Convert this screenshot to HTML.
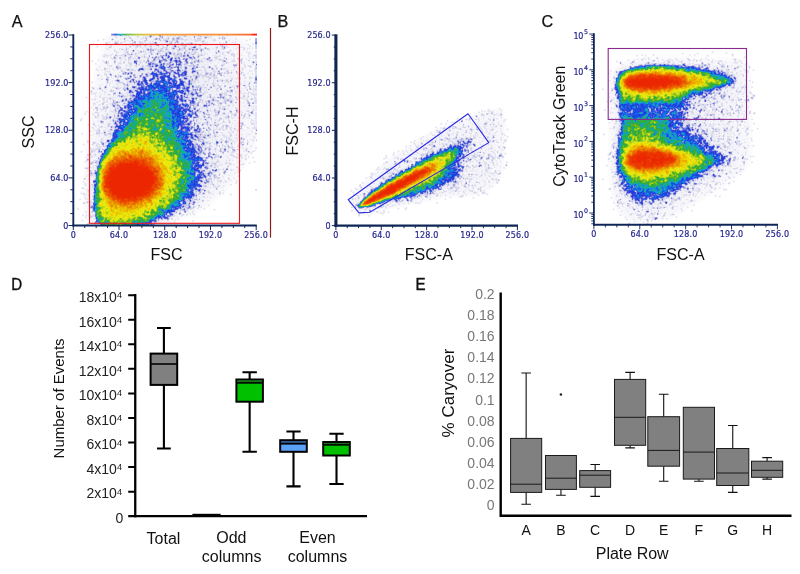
<!DOCTYPE html>
<html lang="en"><head><meta charset="utf-8"><title>Figure</title>
<style>
html,body{margin:0;padding:0;background:#fff;}
body{width:800px;height:574px;overflow:hidden;}
svg{display:block;}
.s{font-family:'Liberation Sans', Arial, sans-serif;fill:#111;}
.g2{fill:#222;}
.gr{fill:#777;}
.pl{stroke:#111;stroke-width:0.25px;}
.pl2{stroke:#111;stroke-width:0.4px;}
.bd{stroke:#111;stroke-width:0.35px;}
.tk{font-family:'DejaVu Sans', 'Liberation Sans', sans-serif;font-size:8px;letter-spacing:0.15px;fill:#27278f;stroke:#27278f;stroke-width:0.2px;}
</style></head><body>
<svg width="800" height="574" viewBox="0 0 800 574">
<rect width="800" height="574" fill="#fff"/>
<clipPath id="cpA"><rect x="74" y="35" width="183" height="190"/></clipPath>
<clipPath id="cpB"><rect x="338" y="35" width="180" height="189"/></clipPath>
<clipPath id="cpC"><rect x="596" y="34" width="182" height="190"/></clipPath>
<g stroke="none">
<g clip-path="url(#cpA)"><path fill="#fbfbfd" fill-rule="evenodd" d="M149.2 225.5L104.8 225.7L92.0 224.5L89.5 223.8L87.3 221.8L85.2 219.1L83.8 215.8L82.8 203.2L82.8 188.2L83.8 162.8L86.6 128.2L89.9 96.8L93.0 77.2L95.7 63.8L99.2 52.5L105.5 36.5L107.2 35.5L111.2 35.1L160.5 34.6L228.8 35.1L237.5 35.5L240.9 36.2L250.8 42.5L255.8 47.7L256.6 50.5L257.1 74.2L257.1 126.2L256.8 141.5L255.8 149.1L244.2 168.4L232.9 184.2L224.9 193.2L218.8 198.8L211.1 204.8L206.2 208.2L193.5 215.1L183.2 219.6L171.4 223.8L166.7 224.5L149.2 225.5Z"/>
<path fill="#f7f7fb" fill-rule="evenodd" d="M149.5 225.2L111.5 225.5L99.2 225.0L94.7 223.8L91.2 221.5L88.2 218.2L86.8 214.8L85.8 200.5L85.9 186.8L86.7 168.5L88.2 147.5L93.3 97.5L96.4 77.8L99.2 64.6L102.5 53.8L108.8 38.1L109.5 36.8L110.5 36.2L121.3 35.5L194.2 35.1L230.2 36.1L232.6 36.5L238.5 39.1L248.3 45.2L255.2 52.4L255.8 53.8L256.5 70.2L256.7 98.5L256.3 131.5L255.5 141.6L244.8 160.8L231.8 179.9L222.8 190.5L217.2 195.8L210.6 201.2L204.8 205.3L196.2 210.3L181.2 217.2L162.6 223.8L149.5 225.2Z"/>
<path fill="#f3f3f9" fill-rule="evenodd" d="M130.2 225.2L104.8 225.2L98.7 224.5L95.8 223.2L92.4 220.2L90.2 216.8L89.2 213.5L88.5 201.8L88.7 187.2L90.0 169.8L91.8 156.8L96.1 134.2L101.7 98.8L106.7 79.2L112.5 62.8L119.5 48.5L125.2 41.2L126.8 38.2L127.0 36.5L137.2 35.8L170.8 35.4L202.5 35.7L213.9 36.5L214.8 40.2L217.9 45.2L221.0 48.5L230.2 55.8L234.5 60.3L237.0 63.8L240.8 71.3L244.5 76.2L248.2 79.9L252.5 83.2L254.2 84.1L255.2 83.3L255.8 88.6L256.0 96.2L255.5 111.4L255.2 112.1L254.5 111.3L253.8 111.4L249.2 115.1L245.5 119.1L242.5 123.7L240.2 129.2L233.4 154.2L228.6 168.2L226.1 173.8L222.9 180.2L218.7 186.8L214.4 192.2L208.3 198.2L202.1 203.2L190.0 210.8L176.2 217.3L160.8 223.0L157.0 224.2L152.8 224.7L130.2 225.2Z"/>
<path fill="#efeff7" fill-rule="evenodd" d="M139.5 224.8L111.8 225.1L100.5 224.6L97.8 223.6L95.1 221.5L93.4 219.2L92.2 215.8L91.2 205.8L91.1 194.5L91.6 186.2L93.4 171.2L96.3 157.8L103.3 135.5L109.4 107.2L112.5 97.2L117.2 85.2L121.2 76.5L127.3 65.5L134.2 55.6L146.2 42.4L151.1 37.8L150.9 36.8L156.4 36.2L168.5 36.0L191.1 36.5L191.8 36.8L191.6 37.8L199.9 48.2L208.7 64.2L216.0 81.2L219.9 96.5L218.1 115.2L217.6 126.2L217.4 164.8L216.8 171.2L215.4 177.5L211.3 187.5L205.9 194.8L199.3 201.2L188.6 209.2L176.0 215.8L155.5 223.8L150.5 224.5L139.5 224.8Z"/>
<path fill="#ebebf5" fill-rule="evenodd" d="M128.8 224.8L101.8 224.6L98.1 223.2L94.9 219.8L94.0 217.2L93.3 212.5L92.9 194.8L94.6 176.5L96.6 166.5L99.3 158.2L108.5 136.8L114.1 117.8L118.3 105.8L125.2 91.4L132.8 79.2L138.1 72.2L145.2 64.4L150.8 59.3L155.5 56.0L161.5 53.0L166.8 51.4L172.2 50.7L176.8 51.3L182.5 53.8L187.2 58.3L190.9 64.8L194.2 74.8L197.4 93.2L199.8 118.5L201.7 132.8L208.5 166.8L208.9 172.8L207.7 181.2L205.1 187.8L201.9 192.8L198.0 197.5L193.2 202.2L187.9 206.5L179.1 212.2L167.6 217.8L152.5 223.8L146.2 224.5L128.8 224.8Z"/></g>
<g clip-path="url(#cpB)"><path fill="#fbfbfd" fill-rule="evenodd" d="M368.5 216.2L360.8 215.8L356.8 214.5L353.5 212.3L351.6 209.8L350.6 207.2L350.6 202.8L351.4 198.8L352.5 195.8L355.1 190.8L359.6 184.8L372.8 171.8L383.8 162.2L392.9 155.2L406.5 146.5L418.5 138.1L429.8 131.5L443.8 124.8L474.2 113.3L487.4 108.8L492.5 108.0L496.8 108.1L500.2 109.3L502.8 111.5L505.1 116.8L506.0 123.2L506.0 141.8L505.0 159.5L504.2 165.8L502.8 171.6L499.8 179.2L495.8 185.2L491.2 189.6L484.5 193.2L480.2 194.8L475.2 196.0L463.5 197.5L449.5 197.8L440.2 198.9L400.2 207.2L386.8 210.8L372.5 215.4L368.5 216.2Z"/>
<path fill="#f7f7fb" fill-rule="evenodd" d="M369.2 214.2L361.5 214.0L357.5 212.7L354.5 210.6L352.9 208.2L352.4 205.8L352.6 201.8L354.1 196.8L357.6 190.5L361.9 185.2L380.0 167.8L393.8 156.8L425.8 135.9L444.8 126.4L474.8 115.0L487.2 110.8L492.5 109.9L496.2 110.0L499.2 110.9L501.4 112.8L503.4 117.5L504.1 123.5L504.1 141.5L503.1 159.2L502.2 165.8L501.0 171.2L498.2 178.2L494.2 184.2L489.8 188.2L483.5 191.5L474.8 194.2L463.2 195.6L449.2 195.9L439.8 197.0L399.8 205.4L369.2 214.2Z"/>
<path fill="#f3f3f9" fill-rule="evenodd" d="M368.2 211.5L363.2 211.5L359.8 210.8L357.2 209.7L355.9 208.5L354.9 206.5L354.9 203.8L357.2 197.4L361.8 190.5L369.6 182.5L382.2 171.3L396.2 160.6L428.2 140.1L440.2 133.7L446.2 131.1L458.5 126.6L472.8 122.5L488.8 119.8L492.5 119.8L493.7 120.5L494.9 125.5L495.8 139.2L494.2 159.5L492.7 166.8L489.9 174.2L487.2 179.3L483.2 183.3L475.2 187.7L464.5 190.9L457.5 192.3L448.5 192.9L439.5 194.3L416.0 199.8L393.5 204.3L368.2 211.5Z"/>
<path fill="#efeff7" fill-rule="evenodd" d="M367.8 208.2L359.2 208.3L357.3 207.2L357.0 205.2L359.2 201.5L369.5 191.3L377.8 184.2L385.2 178.9L418.8 157.7L430.8 150.6L444.8 143.3L452.8 140.3L462.5 138.0L468.2 137.6L469.8 138.3L471.1 139.5L472.0 141.5L472.2 143.5L471.3 150.5L469.2 156.5L463.9 167.2L462.6 177.2L459.7 181.8L456.2 184.9L445.2 189.3L411.2 198.9L401.8 201.1L395.5 201.4L388.6 202.5L367.8 208.2Z"/>
<path fill="#ebebf5" fill-rule="evenodd" d="M363.5 207.8L359.5 207.7L357.8 206.6L358.0 204.5L359.9 201.8L369.8 192.5L378.7 185.2L394.8 174.3L431.2 152.5L445.6 145.2L453.8 142.3L461.5 140.6L466.5 140.4L468.3 141.5L468.8 142.8L468.8 145.5L467.7 150.5L460.8 165.5L460.6 174.2L460.1 176.8L457.7 180.8L454.5 183.5L444.5 187.8L432.0 191.8L406.2 199.2L401.2 200.2L393.2 200.8L388.5 201.6L371.8 206.5L363.5 207.8Z"/></g>
<g clip-path="url(#cpC)"><path fill="#fbfbfd" fill-rule="evenodd" d="M648.5 223.5L633.2 223.1L630.8 222.4L624.8 219.2L620.5 215.3L616.6 209.8L613.5 203.8L611.5 197.7L609.8 189.2L608.6 179.8L607.5 156.2L608.5 119.2L608.2 107.8L607.3 99.2L607.3 88.2L608.2 79.2L610.8 71.8L615.0 66.5L622.8 61.9L631.2 59.0L644.2 56.6L659.5 55.5L684.8 55.8L732.2 57.3L740.2 58.0L744.8 59.4L748.0 62.5L750.1 67.5L751.6 79.5L752.2 91.5L752.7 149.8L751.5 158.5L750.3 162.5L748.3 166.2L745.0 170.5L741.4 174.2L731.2 182.3L681.5 213.5L671.2 218.4L659.8 222.3L655.1 223.2L648.5 223.5Z"/>
<path fill="#f7f7fb" fill-rule="evenodd" d="M648.5 220.9L641.8 221.1L635.5 220.2L631.5 218.9L626.5 216.2L622.8 212.8L619.2 207.6L616.5 202.3L614.5 195.8L612.9 188.2L611.8 179.2L610.6 156.2L611.7 118.8L611.4 107.5L610.4 98.2L610.3 88.5L611.1 80.2L613.6 73.2L617.2 68.7L620.5 66.5L624.8 64.4L630.8 62.3L638.2 60.6L652.5 58.9L673.2 58.6L724.2 60.3L738.8 61.2L743.2 62.4L745.5 65.0L746.9 68.8L748.4 80.5L748.9 91.8L749.3 149.2L748.2 157.5L747.2 161.0L745.5 164.2L742.5 168.2L738.9 171.8L729.2 179.5L679.9 210.5L670.8 214.8L661.6 218.2L653.7 220.2L648.5 220.9Z"/>
<path fill="#f3f3f9" fill-rule="evenodd" d="M648.8 213.5L642.8 213.6L637.2 212.6L631.8 210.4L627.8 207.3L623.5 201.9L620.9 197.2L617.3 187.8L615.4 180.8L613.3 167.2L612.9 156.2L615.1 126.5L615.0 107.8L613.2 95.8L612.5 85.2L613.3 79.5L615.9 73.5L618.0 70.8L620.5 68.9L624.5 66.8L629.2 65.1L638.5 62.9L653.8 61.3L672.5 61.2L698.5 62.9L720.8 65.3L730.4 66.8L738.5 68.9L740.3 71.2L742.4 77.2L742.8 82.2L742.2 86.8L738.8 96.3L733.8 106.4L727.6 117.5L727.1 119.2L729.0 124.8L736.1 142.2L738.4 149.5L739.0 153.8L738.9 157.2L738.0 160.5L736.4 163.5L733.5 167.3L728.5 171.5L675.2 204.4L667.2 208.4L659.5 211.4L653.5 213.0L648.8 213.5Z"/>
<path fill="#efeff7" fill-rule="evenodd" d="M650.8 207.5L644.8 207.6L640.5 207.0L634.8 204.8L631.1 202.2L627.0 197.8L624.3 193.8L619.6 184.8L617.1 177.5L615.1 168.2L614.5 156.5L618.0 126.5L617.7 107.8L615.0 94.8L613.7 84.8L614.4 79.8L617.2 74.2L619.7 71.2L623.5 68.8L628.8 66.6L633.5 65.3L638.8 64.3L649.2 63.2L661.2 62.9L672.2 63.0L684.2 63.9L706.2 66.6L718.8 69.0L726.8 71.1L734.5 73.8L737.3 76.8L738.3 79.8L737.9 83.2L735.8 86.3L732.2 89.8L728.2 92.7L710.0 103.5L704.3 107.5L700.6 111.5L699.3 115.2L699.5 117.8L700.5 119.8L708.2 127.7L718.3 140.2L729.2 152.5L730.6 155.2L731.1 157.5L730.7 160.5L729.7 162.8L725.8 166.5L693.8 185.0L670.5 199.9L658.5 205.6L650.8 207.5Z"/>
<path fill="#ebebf5" fill-rule="evenodd" d="M650.5 204.8L641.5 204.3L635.8 202.0L631.5 198.9L627.4 194.5L621.8 185.7L619.1 179.8L617.1 172.8L616.0 167.2L615.5 156.2L619.3 127.2L619.4 119.5L618.8 105.8L616.0 94.5L614.6 84.5L615.3 79.8L618.0 74.5L620.5 71.7L624.2 69.4L629.5 67.3L634.2 66.1L639.2 65.2L650.2 64.1L666.5 63.9L684.5 65.0L705.8 68.0L718.2 70.7L725.8 73.0L733.5 76.3L735.7 78.5L736.3 80.5L735.7 82.5L733.8 84.5L729.8 87.0L723.5 89.7L704.8 95.4L697.2 98.9L693.6 101.8L691.6 104.2L689.1 108.2L688.0 111.8L688.5 120.5L691.3 125.8L693.8 128.5L702.5 135.0L714.2 145.8L725.5 155.0L727.7 158.2L727.8 160.2L727.1 161.8L724.5 164.3L708.2 173.1L692.3 182.5L668.2 198.0L657.8 203.0L653.5 204.4L650.5 204.8Z"/></g>
</g>
<filter id="sf" x="0" y="0" width="100%" height="100%" filterUnits="objectBoundingBox"><feGaussianBlur stdDeviation="0.45"/></filter>
<g filter="url(#sf)"><g transform="translate(.5,.5)" stroke-width="1" stroke-linecap="square" fill="none" shape-rendering="crispEdges">
<path stroke="#fbfbfd" d="M236 184zm-27 22z"/>
<path stroke="#fbfbfc" d="M93 60zm-10 74zm130 76z"/>
<path stroke="#f9f9fc" d="M249 38zm-2 1zm4 0zm-153 2zm-1 4zm1 1zm-5 15zm1 2zm-3 18zm0 2zm-5 27zm1 2zm-8 8zm2 1zm2 12zm1 12zm-3 5zm-1 2zm2 0zm172 8zm-6 2zm2 0zm3 0zm2 0zm-6 2zm-167 18zm153 2zm-155 8zm2 0zm149 1zm-150 1zm142 0zm-144 4zm3 4zm111 13zm-110 1zm0 4zm-2 1zm94 1z"/>
<path stroke="#f7f7fb" d="M249 40zm-152 1zm-15 148zm148 4zm-150 5zm125 11zm-123 7zm-1 3z"/>
<path stroke="#f7f7fa" d="M103 38zm147 0zm-148 1zm143 1zm1 1zm5 6zm-154 13zm1 1zm-3 7zm-3 21zm-2 3zm2 6zm0 5zm-7 9zm5 0zm-8 6zm0 1zm-2 2zm8 2zm-1 1zm-4 19zm4 0h1m-6 1zm173 6zm0 1zm-168 2zm165 3h1m-1 2h1m-16 15h1m-153 3zm-3 5zm153 0zm-12 10zm-141 12zm1 1h1m124 2zm-3 2zm9 0zm-11 1zm-17 7zm-12 4zm2 0zm-94 1zm8 1zm-4 1z"/>
<path stroke="#f5f5f9" d="M98 39zm7 3zm-9 5zm1 21zm-5 13zm0 2zm0 3zm2 1zm-4 3zm2 0zm-2 3zm2 1zm-7 17zm2 0zm-7 7zm173 32zm-173 1zm2 0zm167 6zm-3 3zm7 1zm2 0zm-7 2zm2 0zm-10 8zm-7 7zm2 0zm2 2zm-153 2zm147 3zm-150 2zm-1 6zm4 2h1m146 0zm-152 5zm124 8zm12 1zm-129 3zm-3 2zm112 0zm-10 1zm-100 3zm90 3zm-84 1z"/>
<path stroke="#f3f3f8" d="M224 36zm-127 3zm126 1zm-101 1zm96 1zm30 3zm-136 1zm-4 2zm7 5zm121 0zm-1 1zm14 1zm-136 4zm130 5zm-141 6zm152 1zm-154 4zm-1 3zm6 0zm-3 6zm-5 8zm-11 4zm-1 1zm2 0zm-1 1zm5 8zm4 0zm-5 1zm2 0zm-1 1zm-2 3zm0 2zm164 6zm-1 3zm-5 4zm6 0zm-158 8zm161 7zm-20 9zm1 5zm-152 2zm160 3zm-159 2zm0 7zm1 6zm-4 4zm154 2zm-7 4zm-10 1zm-135 3zm0 4zm133 0zm-136 1zm148 1zm-150 5zm121 6zm0 2zm12 1zm-19 4zm-112 1zm3 1zm2 0zm92 4zm-90 2zm84 0z"/>
<path stroke="#f2f2f7" d="M117 37zm103 0zm-106 1zm2 0zm10 0zm124 2zm-138 4zm129 2zm-131 2zm141 0zm-17 5zm-4 1zm-119 2zm136 3zm-134 1zm130 2zm12 0zm-10 2zm-147 2zm9 8zm138 1zm-147 1zm2 3zm-6 10zm-1 9zm-1 2zm3 0zm156 14h1m-6 4zm4 0zm6 1zm-12 5h1m-3 3zm-149 2zm2 2zm-5 3zm160 1zm4 3zm-6 6zm-8 1zm1 1zm-152 2zm-3 8h1m0 1zm153 0zm-7 8zm-5 9zm1 3zm-146 1zm147 1zm-146 2zm143 0zm-7 3zm4 1zm-3 1zm-137 2zm139 1zm-15 15zm-126 15zm87 3zm-80 1z"/>
<path stroke="#f0f0f7" d="M220 35zm-96 2zm94 0zm-114 2zm17 0zm108 0zm17 0zm-143 1zm8 0zm117 0zm19 0zm-133 1zm5 0zm2 0zm2 0zm-5 1zm102 0zm16 0zm-118 1zm107 0zm9 1zm-121 5zm117 0zm-7 1zm20 0zm-126 1zm-9 3zm2 0zm131 0zm-6 1zm7 0zm-137 1zm135 2zm-142 1zm13 0zm137 0h1m-158 1zm8 0zm10 1zm146 2zm-159 1zm159 1zm-4 2zm-150 2zm154 0zm-147 1zm134 1zm-138 1zm143 0zm-141 1zm1 2zm-10 1zm148 0zm7 2zm-151 2zm152 3zm-152 2zm2 3zm-11 4zm3 0zm1 1zm5 1zm-5 1zm2 6zm-2 5h1m-4 4zm2 1zm-7 1zm7 1zm159 1zm-161 1zm-4 9zm-1 1zm8 0zm150 2zm6 0zm3 0zm-161 1zm148 0zm-1 1h1m9 0zm-158 1zm159 0zm-1 1zm5 0zm-5 1zm-170 2zm13 0zm147 0zm-148 1zm146 0zm3 0zm-1 1zm6 3zm-1 1zm2 0zm0 3zm-164 1zm153 0zm-154 1zm9 0zm144 1zm1 2zm1 2zm13 1zm-162 2zm153 1zm5 0zm-3 1zm-7 1zm5 0zm4 1zm-160 1zm155 0zm-9 1zm-1 1zm8 0zm3 3zm2 1zm-14 1zm12 0zm-154 1zm150 0zm-154 1zm148 2zm1 1zm-144 1zm135 9zm0 6zm-2 1zm-5 3zm5 2zm-140 1zm6 0zm-3 1zm-2 1zm4 0zm-3 2zm1 6h2m113 2zm-3 2zm5 0zm12 3zm-29 3zm-99 1zm2 0zm99 1zm7 0zm-109 1zm4 2h1m89 0zm-4 2z"/>
<path stroke="#efeff7" d="M101 88zm-15 71z"/>
<path stroke="#efeff6" d="M218 35zm-98 1zm6 0zm-10 4zm8 0zm9 0zm-10 2zm-6 2zm20 0zm-18 1zm106 0zm24 0zm-141 2zm139 4zm-132 1zm117 0h1m14 0zm-136 1zm95 1zm-98 2zm14 0zm132 0zm-131 1zm88 1zm13 1zm-133 2zm151 0zm14 0zm-2 2zm-133 1zm120 4zm-138 1zm117 1zm30 0zm-15 1zm-128 1zm4 1zm119 0zm-15 1zm-103 1zm5 0zm-11 2zm126 0zm-3 4zm11 4zm11 3zm-150 3zm13 0zm120 6zm-139 1zm10 3zm131 0zm0 2zm14 0zm-152 1zm130 0zm-134 1zm14 1zm117 6zm28 0zm1 1zm-160 1zm1 1zm6 1zm141 1zm-140 3zm-8 2zm162 1zm-38 3zm-129 3zm-1 1zm164 1zm-171 2zm158 3zm-9 1zm-137 4h1m128 2zm17 4zm4 0zm-24 2zm-129 1zm0 1zm155 0zm-13 5zm2 1zm-146 1zm2 1zm3 4zm151 0zm-5 4zm-15 1zm4 1zm-140 6zm132 4zm-129 8zm122 0zm-127 3zm137 2zm-137 3zm0 6zm117 1zm-14 12zm-101 3z"/>
<path stroke="#ededf5" d="M152 36zm47 0zm-72 1zm21 0zm-27 1zm26 0zm62 0zm27 1zm-89 1zm-18 2zm94 0h1m-103 1zm113 0zm-127 1zm11 0zm11 0zm7 0zm65 0zm51 0zm-156 2zm153 0zm-152 1zm41 0zm-18 1zm0 1zm4 0zm12 0zm100 0zm-114 1zm5 0zm10 1zm67 0zm23 0zm-2 1zm-102 1zm11 0zm93 0zm-106 1zm134 0zm-142 2zm124 1zm15 0zm-121 1zm-10 1zm0 1zm0 1zm127 0zm-145 1zm10 0zm98 0zm13 0zm11 0zm5 0zm-144 1zm8 0zm138 0zm-134 1zm11 1zm118 0zm-122 1zm118 0zm-129 1zm121 0zm-11 1zm-98 1zm-10 1zm109 0zm17 0zm7 1zm11 0zm-142 1zm115 0zm25 0zm-25 1zm9 0zm-113 1zm104 0zm-115 2zm109 0zm12 0zm5 0zm-125 3zm114 0zm0 2zm-114 1h1m116 0zm-120 1zm115 1zm-116 1zm149 1zm-8 1zm-2 1zm12 1zm-142 1zm120 0zm0 1zm20 0zm-9 1zm7 0zm-151 1zm148 0zm-27 2zm-126 1zm6 1zm133 1zm3 0zm6 0zm-151 1zm12 3zm4 2zm110 1zm35 1zm-6 1zm-146 1zm-8 1zm5 0zm132 1zm-126 2zm127 0zm7 0h1m-144 1zm145 0h1m-158 1zm15 1zm2 0zm-7 1zm139 1zm2 0zm13 0zm7 0zm-1 1zm-36 1zm11 0zm1 2zm-10 1zm8 0zm22 0zm-21 1zm8 0zm17 0zm-27 1zm16 1zm-147 1zm129 1zm-3 1zm5 0zm20 0zm2 0zm-155 1zm130 0zm-6 1h1m36 0zm-33 2zm-123 2zm125 0zm-6 1zm7 0zm4 1zm-2 1zm8 0zm5 0zm-10 1zm9 0zm-19 2zm8 0zm8 0zm5 0zm-22 2zm5 0zm6 1zm-9 1zm30 1zm-28 1zm-128 1h1m146 0zm-7 2h1m11 1zm-152 1zm149 0zm6 1zm-13 1zm7 3zm5 0zm-11 1zm10 0zm-22 2zm13 2zm-154 1zm4 6zm151 1zm-8 1zm3 2zm-15 2zm-2 1zm17 7zm-145 5zm-9 1zm6 1zm3 1zm-3 2zm0 2zm-1 5zm112 5zm-4 1zm2 0zm13 0zm-9 1zm0 1zm-122 2zm8 2zm-1 1zm6 1zm95 0zm3 0zm-98 1zm102 0zm-105 1zm95 0zm-97 1zm2 0zm3 5zm-3 1zm4 0zm78 0z"/>
<path stroke="#ececf4" d="M124 35zm1 2zm1 4zm70 1zm28 1zm-2 1zm-96 2zm114 1zm-133 1zm2 0zm106 0zm24 0zm-33 1zm9 0zm-92 1zm106 0zm-14 1h1m12 0zm-92 1zm90 0zm24 0zm-44 1zm-100 1zm8 1zm18 0zm72 0zm48 0zm-3 1zm-142 1zm116 0zm2 0zm9 0zm14 0zm2 0zm-1 1zm-136 3zm106 1zm10 0zm-109 4zm101 0zm-106 1zm10 0zm109 1zm3 1zm-16 1zm-111 2zm128 0zm2 0zm-11 1zm-5 1zm-125 1zm155 6h2m-165 1zm139 0zm8 0zm15 0zm3 1zm-15 1zm-21 1zm9 1zm5 0zm2 2zm17 1zm-25 1h1m-139 1zm15 0zm116 1zm-122 3zm9 0zm145 0zm-25 3zm9 0zm-146 1zm146 1zm17 0zm-19 1zm-6 2zm6 0zm17 3zm-29 4zm2 0zm3 2zm1 1zm-1 1zm-4 2zm-126 1zm125 0h1m-2 2zm33 0zm-157 1zm-4 3zm132 1zm-133 1zm131 0zm-132 3zm129 0zm-126 2zm135 0zm-1 1zm5 0zm13 3zm6 3zm3 2zm-168 1zm160 2zm-156 1zm131 1zm-3 2zm33 5zm-21 2zm-141 2zm143 0zm-146 1zm150 0zm-12 5zm-137 3zm145 0zm-144 2zm147 2zm-3 1zm-15 1zm20 1zm-5 2zm-16 1zm11 1zm8 0zm-146 1zm145 6zm-24 3zm4 0zm8 5zm-17 7zm-119 2zm1 1zm-4 2zm111 4zm-4 6zm-8 2zm8 6z"/>
<path stroke="#ebebf5" d="M255 64zm-33 48zm-19 17zm-15 80z"/>
<path stroke="#ebebf4" d="M124 36zm86 0zm-66 1zm20 1zm72 0zm-89 1zm102 0zm-123 1zm14 0zm31 0zm34 2zm-83 1zm7 0zm97 0zm-120 2zm28 0zm-28 2zm146 0zm-130 1zm114 0zm12 0zm-44 2zm-42 2zm58 0zm26 0zm-27 1zm11 0zm18 2zm-138 1zm13 0zm101 0zm-107 1zm125 0zm11 0zm-129 2zm88 0zm15 0zm-21 1zm-16 1zm-72 1zm113 0zm-4 1zm9 0zm-117 1zm80 1zm49 1zm-149 1zm118 0zm-109 1zm16 0zm130 0zm-148 1zm128 0zm20 0zm-11 3zm1 1zm-7 1zm-14 2zm15 0zm-127 1zm8 0zm86 0zm12 0zm7 0zm9 0zm-115 1zm127 0zm-140 1zm98 0zm16 2zm20 0zm5 1zm-21 1zm-114 1zm125 1zm14 1zm2 0zm-159 1zm118 0zm8 0zm16 0zm-136 2zm149 1zm6 0zm-160 1zm11 0zm-10 1zm130 0zm-131 1zm158 0zm-46 1zm23 0zm20 0zm-138 1zm125 1zm20 0zm-27 2zm-7 1zm-116 1zm2 0zm130 0zm-143 2zm3 0zm143 0zm5 0zm-135 1zm-3 1zm144 0zm-38 1zm20 0zm-32 1zm-101 2zm157 1zm-2 1zm-34 1zm-134 1zm163 0zm-165 1zm158 1zm-36 1zm19 1zm23 2zm-24 1zm3 0zm-130 1zm156 1zm-37 1zm6 0zm-3 2zm9 1zm1 1zm2 0zm-140 1zm133 1h1m8 0zm-130 3zm3 1h1m149 0zm-52 1zm-113 2zm136 4h1m4 3zm-141 2zm126 2zm-123 3zm133 0zm-131 1zm148 0zm-39 1zm-124 1zm150 1zm-7 1zm-131 1zm153 0zm-157 2zm-2 1zm6 2zm156 2zm5 0zm-41 5zm26 1zm-151 1zm136 0zm6 1zm-141 3zm149 2zm-4 2zm-5 2zm-146 3zm3 3zm132 2zm1 4zm-138 1zm3 0zm123 0zm-118 5zm112 3zm-112 5zm103 5h1m0 2zm-16 5zm-96 3zm112 0zm-19 2zm-5 1zm-75 1z"/>
<path stroke="#eaebf4" d="M149 58zm105 3zm-140 15zm115 26zm-118 16z"/>
<path stroke="#e9e9f4" d="M195 37zm-70 2zm51 6zm62 12zm-133 10zm135 19zm8 20zm-39 19zm6 17zm-3 11zm8 2zm-4 13zm-122 44zm2 11z"/>
<path stroke="#eaeaf3" d="M138 35zm20 0zm16 0zm52 0zm-82 1zm51 0zm13 0zm-54 1zm64 1zm2 0h1m14 1zm-49 1zm-69 1zm57 0zm-50 1zm6 0zm38 0zm18 0zm18 0zm31 0zm-39 1zm56 0zm-66 1zm20 0zm47 0zm-115 1zm-29 1zm118 0zm11 0zm-79 1zm-7 1zm-27 1zm97 0zm13 0zm-78 1zm-43 1zm30 1zm36 0zm-42 1zm83 0zm-102 2zm9 0zm88 0zm-95 1zm-17 1zm129 0zm-30 1zm-68 1zm90 0zm-92 1zm81 0zm8 2zm1 1zm-116 1zm2 1zm115 0zm-83 1zm56 2zm40 0zm-125 1zm126 0zm-134 1zm152 0zm-150 1zm3 1zm104 0zm19 0zm-105 3zm-10 1zm133 0zm-133 2zm81 0zm24 1zm3 0zm10 0h1m-110 1zm93 0zm-11 1zm-87 2zm120 0zm9 0zm-21 1zm14 0zm-130 2zm-7 2zm-8 1zm148 0zm-43 2zm33 0zm3 0zm-133 1zm122 0zm9 0zm16 0zm-159 2zm142 0zm8 0zm3 1zm-34 1zm36 0zm-153 3zm12 0zm108 0zm-13 3zm-85 1zm87 0zm27 1zm-127 2zm114 0zm10 0zm3 0zm-27 1zm6 0zm41 1zm-25 1h1m-15 1zm22 0zm-21 2zm-108 1zm143 0zm-164 1zm7 0zm158 0zm-32 1zm-8 1zm6 0zm31 1zm-167 2zm128 1zm9 0zm17 0zm-136 1zm140 1zm13 0zm3 0zm-35 1zm34 1zm-146 1zm99 0zm-107 3zm114 0zm16 0zm-5 2zm-17 1zm-105 1zm153 0zm-8 1zm-140 1zm119 2zm-18 1zm46 2zm-167 1zm155 0h1m-38 1zm47 0zm-10 2zm-10 1zm14 0zm-147 1zm112 0zm39 0zm-11 1zm12 0zm-21 2zm22 4zm-23 2zm-133 1zm123 0zm20 2zm6 0zm-17 6zm-2 1zm-131 2zm-4 1zm121 0zm-2 2zm9 3zm18 4zm-11 6zm-142 1zm125 0h1m-126 1zm131 4zm-128 2zm132 4zm-134 3zm124 0zm-123 1zm111 0zm2 6zm-7 1zm-114 3zm-1 1zm111 1zm-15 6zm-87 1z"/>
<path stroke="#e9e9f2" d="M137 35zm-16 1zm59 0zm-52 1zm41 0zm20 0zm-77 1zm32 0zm-24 1zm48 1zm10 0zm48 0zm-97 1zm14 0zm93 0zm-84 1zm67 1zm2 0zm-48 1zm-47 1zm53 1zm20 0zm-18 1zm-23 1zm-14 2zm-20 1zm21 0zm3 0zm35 1zm65 1zm-49 1zm55 0zm-143 1zm40 0zm101 1zm-109 1zm53 0zm8 0zm-80 1zm103 0zm-95 1h1m64 0zm7 0zm12 0zm2 0zm-92 1zm116 2zm-121 1zm90 0zm41 0zm-48 1zm-73 2zm73 0zm32 0zm-106 1zm6 0zm-23 1zm96 0zm-112 1zm129 0zm-106 1zm84 0zm37 0zm-43 1zm18 0zm-111 1zm105 4zm21 1zm-112 2zm83 4zm4 1zm10 1zm-91 2zm90 0zm6 0zm11 0zm-131 3zm117 0zm3 0zm14 2zm-30 3zm18 0zm-6 1zm-18 2zm11 0zm7 0zm15 0zm9 0zm-8 1zm-2 4zm-136 1zm131 0zm7 0zm-16 1zm16 0zm-16 1zm33 0zm-148 1zm101 0zm15 0zm35 0zm-52 1zm26 0zm29 0zm-155 1zm103 0zm15 0zm36 0zm-159 2zm-3 2zm139 0zm5 0zm-27 1zm-108 5zm-21 1zm30 0zm140 0zm-34 1zm4 2zm3 1zm20 1zm10 0zm-155 1h1m128 1zm-11 1zm20 0zm-140 2zm125 0zm-114 1zm-7 2zm130 0zm-18 1zm23 0zm12 0zm-35 2zm2 1zm22 0zm-134 1zm3 1zm99 0zm28 1zm6 0zm13 0zm-8 2zm-19 1zm14 1zm-21 1zm6 2zm-131 1zm8 0zm109 2zm2 6zm8 2zm-131 3zm123 0zm2 1zm4 0zm9 0zm-132 1zm136 0zm-11 1zm5 0zm14 0zm1 1zm-12 2zm-13 1zm10 1zm2 1zm-133 5zm118 5zm12 2zm-140 12zm4 2zm0 2zm-1 1zm109 1zm-8 11zm2 3zm-22 7zm24 0h1m-37 2z"/>
<path stroke="#e8e8f2" d="M125 35zm29 0zm27 0zm-52 1zm68 1zm4 0zm-60 1zm94 0zm-44 1zm24 0zm-100 1zm86 0zm24 0zm-117 2zm30 0zm5 0h2m36 0zm14 0zm-88 1zm61 0zm85 0zm-143 1zm73 0zm22 0zm30 0zm-100 1zm36 0zm23 0zm56 0zm-116 1zm106 0zm2 1zm7 0zm-51 1zm37 0zm-100 1zm67 2zm27 0zm-98 1zm4 0zm11 0zm-21 1zm19 0zm-8 1zm-27 1zm106 0zm-96 1zm51 0zm39 0zm5 0zm-79 1zm10 0h1m52 1zm25 0zm29 0zm-138 1zm23 0zm78 0zm18 0zm-141 1zm37 1zm96 2zm19 0zm-149 1zm23 0zm-9 2zm91 1zm42 0zm-130 1zm111 0zm15 0zm-26 2zm0 1zm44 0zm-30 1zm-14 1zm35 0zm-150 1zm99 0zm16 0zm-21 1zm17 0zm22 0zm10 2zm14 0zm-41 1zm5 0zm-5 1zm5 0zm-106 1zm16 0zm88 0zm-2 1zm37 0zm-52 1zm25 0zm16 0zm-112 1zm89 0zm-15 2zm4 0zm6 0zm41 0zm-20 1zm13 0zm-43 1zm50 0zm-156 1zm23 1zm109 0zm-23 1zm-1 1zm2 0zm11 0zm8 1zm-3 1zm24 0zm-152 1zm23 0zm105 0zm25 0zm-148 1zm127 0zm-21 1zm12 0zm-113 1zm132 0zm-36 1zm10 0zm7 0zm15 0zm10 0zm3 0zm-139 1zm95 0zm43 0zm-133 1zm121 0zm23 0zm-29 1zm29 0zm-150 1zm127 1zm-140 1zm17 0zm93 0zm-97 1zm115 1zm12 0zm-33 2zm28 0zm19 0zm8 0zm-3 1zm-146 1zm4 0zm139 1zm-157 2zm152 0zm6 0zm-137 3zm118 0zm-134 1zm124 0zm-123 1zm111 0zm33 0zm-132 2zm-13 1zm15 0zm-10 2zm130 0zm-29 2zm-106 3zm13 0zm111 1zm-117 1zm132 0zm-27 1zm6 2zm33 0zm-166 1zm141 0zm13 3zm1 2zm-33 1zm25 0zm-127 1zm127 0zm-7 1zm-121 2zm107 2zm42 0zm-153 1zm118 0zm-124 1zm136 0zm-5 1zm6 0zm-127 1zm122 0zm20 0zm-23 2h1m-127 1zm157 0zm-34 1zm13 1zm-140 1zm128 1zm15 0zm2 0zm2 1zm-26 1zm29 1zm1 4zm-23 1zm-1 2zm-133 1zm3 1zm136 1zm15 1zm-24 1zm8 4zm16 0zm-10 1zm-12 1zm-6 2zm-118 1zm115 2zm6 0zm23 0zm-21 2zm8 0zm-134 1zm126 1zm-132 6zm128 0zm-9 1zm-113 1zm-5 1zm1 3zm105 5zm5 1zm4 2zm-122 1zm110 3zm5 0zm-16 8zm-9 2z"/>
<path stroke="#e7e7f1" d="M175 35zm-30 4zm7 1zm-11 1zm37 0zm23 0zm-52 1zm-19 2zm31 0zm1 1h1m10 0zm-27 2zm25 0zm11 0zm62 0zm-101 1zm69 0zm-55 1zm2 0zm6 1zm24 0zm8 0zm29 1zm-49 1zm20 0zm26 1zm-112 1h1m21 0zm72 0zm-62 1zm5 0zm66 0zm6 0zm4 0zm-113 2zm138 0zm-138 1zm110 1zm-101 1zm9 0zm73 0zm-52 1zm76 0zm-87 1zm62 0zm2 0zm6 0zm-35 1zm15 0zm-70 3zm-10 1zm38 0zm10 0zm54 0zm10 0zm23 0zm-115 1zm17 0zm-39 1zm14 0zm105 1zm14 0zm-39 1zm30 0zm10 0zm-108 2zm68 0zm3 1zm7 2zm-19 1zm14 0zm-105 1zm134 0zm-18 1zm-3 1zm14 0zm-14 2zm-107 1zm2 0zm109 0zm-101 1zm-11 1zm29 0zm113 0zm-46 1zm28 0h1m-33 2zm4 0zm-91 1zm5 0zm104 1zm15 0zm3 0zm3 1zm-107 1zm12 0zm55 1zm40 0zm-141 1zm129 0zm-134 1zm110 1zm3 1zm-100 1zm19 0zm94 0zm19 0zm-129 1zm8 0zm128 0zm-26 1zm12 1zm-11 2zm8 1zm-20 1h1m9 2zm-120 1zm2 2zm115 0zm-113 1zm105 0zm30 0zm14 0zm-141 1zm-27 1zm146 1zm-124 1zm114 0zm24 0zm-132 2zm136 0zm-35 3zm42 1zm-149 2zm146 0zm-37 1zm-15 1zm-97 2zm148 1zm-43 4zm-6 2zm46 0zm-11 1zm16 1zm-12 1zm-3 2zm-31 1zm19 0zm7 1zm19 0zm-149 1zm107 0zm24 0zm12 0zm-151 1zm143 0zm7 0zm-150 1zm114 0zm14 1zm-6 1zm4 1zm16 0zm4 1zm-5 2zm-27 1zm-116 1zm140 0zm17 0zm-159 5zm135 0zm-14 1zm18 6zm6 2zm-152 1zm120 4zm13 0zm-1 5zm2 4zm0 2zm-134 1zm121 1zm10 2zm3 0zm-137 1h1m128 0zm11 6zm-2 1zm-133 4zm115 1zm-112 1zm-1 6zm109 0zm-1 2zm-4 3zm-1 2zm-99 3zm85 3zm-19 1z"/>
<path stroke="#e6e6f1" d="M201 35zm2 0zm-57 1zm47 0zm4 0zm8 0zm-63 1zm51 0zm18 0zm-91 1zm64 1zm29 0zm-95 1zm54 2zm-28 1zm28 0zm-67 1zm49 0zm65 0zm28 0zm-74 2zm-62 1zm30 0zm4 0zm4 0zm18 0zm54 0zm-79 1zm33 0zm13 0zm25 0zm4 0zm-71 1zm28 0zm3 0zm70 0zm-93 1zm14 0zm20 0zm-36 1zm32 0zm33 0zm-100 1zm26 0zm36 0zm-7 1zm45 0zm-113 1zm51 0zm27 0zm13 0zm9 0zm3 0zm30 0zm12 0zm-107 1zm8 0zm32 2zm14 1zm45 0zm-129 1zm19 0zm57 0zm58 0zm-143 1zm91 0zm-49 1zm-26 1h1m82 0zm8 0zm13 0zm-128 1zm29 0zm23 0zm46 0zm5 0zm-67 2zm113 1zm5 1zm-143 1zm32 0zm36 0zm36 0zm-87 1zm23 0zm30 0zm5 0zm62 0zm-90 1zm51 2zm-8 1zm26 0zm20 0zm6 0zm-5 1zm9 0zm-30 1zm5 0zm-33 1zm-70 1zm75 0zm45 0zm2 0zm-108 1zm40 0zm25 0zm-105 1zm10 2zm12 0zm84 0zm21 1zm4 0zm7 0zm3 0zm-106 1zm63 1zm19 0zm-15 1zm-74 1zm92 0zm-24 1zm-100 1zm117 0zm43 0zm-22 1zm-20 1zm5 1zm19 1zm-136 1zm35 0zm-44 1zm4 2zm31 0zm110 0zm-110 1zm105 0zm-127 1zm150 1zm-155 1zm4 0zm-8 3zm104 0zm30 1zm-130 1zm145 0zm-52 1zm15 2zm41 0zm-143 1zm91 0zm4 1zm11 0zm-114 1zm105 0zm4 0zm-93 1zm84 0zm11 1zm45 1zm-140 1zm120 0zm-19 1zm38 3zm-142 2zm104 0h1m36 0zm-56 1zm3 0zm-6 1zm41 0zm-126 1zm-13 1zm4 0zm110 0zm23 0zm5 0zm4 0zm-131 1zm98 0zm8 0zm27 0zm-20 1zm7 0zm2 1zm7 0h1m-142 1zm140 0zm-132 1zm105 0zm-120 1zm148 0zm-10 1zm-23 1zm3 0zm13 0zm6 2zm9 0zm10 0zm-36 1zm13 0zm4 2zm-11 1zm35 0zm-29 2zm11 0zm-133 1zm-3 1h1m129 0zm-12 1zm-119 2zm110 0zm31 1zm-145 1zm142 0zm9 0zm2 0zm-145 2zm114 0zm40 0zm-46 1zm-118 1zm5 1zm132 2zm-136 2zm161 0zm-162 3zm-4 1zm8 0zm146 0zm-31 1zm2 1zm1 2zm15 0zm-134 2zm116 1zm2 1zm27 0zm-27 1zm6 1zm-21 2zm29 0zm-133 2zm131 1zm-8 2zm10 2zm6 0zm5 0zm-12 1zm-23 2zm4 1zm3 0zm6 0zm3 0zm14 0zm-140 2zm116 0zm-4 1zm3 0zm-118 5zm135 1zm-135 1zm109 0zm34 0zm-34 1zm-118 4zm116 1zm0 1zm-103 1zm99 2zm-103 1zm110 2zm0 1zm6 1zm-27 2zm13 2zm-9 1zm-98 1zm12 9z"/>
<path stroke="#e5e5f0" d="M143 35zm32 1zm11 0zm18 0zm-57 1zm60 0zm14 0zm-46 1zm31 0zm-65 1zm-43 1zm14 0zm13 0zm3 0zm27 0zm0 1zm9 0zm21 0zm13 0zm37 0zm-3 1zm-89 1zm3 0zm-23 1zm80 0zm-12 1zm32 0zm3 0zm-34 1zm28 0zm30 0zm-12 1zm-111 1zm76 0zm-95 1zm11 0zm9 0zm93 0zm-97 1zm2 0zm40 0h1m58 1zm-76 1zm41 0zm-78 1zm67 0zm-34 1zm5 0zm-28 1zm75 0zm21 0zm2 1zm-99 1zm11 1zm87 0zm34 0zm-138 1zm86 0zm-9 1zm-100 1zm12 0h1m15 0zm88 0zm2 0h1m-78 1zm22 0zm12 0zm33 0zm25 0zm-117 1zm39 1zm105 0zm-123 1zm9 0zm109 0zm-100 3zm-34 1zm39 0zm-54 1zm11 0zm140 0zm2 0zm-47 1zm33 0zm18 0zm-106 1zm50 1zm45 1zm-143 1zm4 0zm119 0zm13 0zm-101 1zm65 0zm29 0zm-37 1zm-58 1zm0 1zm95 0zm19 0zm-25 1zm-118 1zm6 0zm36 0zm38 1zm36 0zm-112 1zm6 0zm3 0zm84 0zm12 0zm-1 1zm-115 1zm30 0zm75 1zm-90 1zm104 0zm-126 1zm6 0zm108 0zm23 0zm-128 1zm125 0zm-22 1zm4 0zm21 2zm6 1zm-106 1zm101 0zm13 0zm-53 3zm21 0zm-87 1zm76 0zm25 0zm-116 1zm102 0zm12 0zm-103 1zm86 0zm-102 1zm16 0zm81 0zm2 0zm8 0zm-101 2zm-8 3zm99 1zm3 0zm-12 1zm18 0zm43 0zm-51 1zm18 0zm4 1zm5 0zm-119 1zm-16 1zm20 0zm121 0zm13 0zm-155 2zm4 0zm114 0zm21 1zm10 0zm-135 1zm-10 2zm5 0zm104 0zm27 0zm-17 1zm7 1zm-5 1zm32 0zm-57 1zm-100 1zm123 0zm-121 3zm7 1zm93 0zm-97 1zm137 0zm7 2zm-132 1zm1 1zm104 0zm-133 1zm112 0zm43 1zm19 0zm-157 1zm112 0zm5 0zm1 1zm21 0zm-32 1zm19 0zm-5 1zm2 1zm-3 1zm11 0zm2 1zm-11 2zm-117 1zm110 0zm17 1zm-142 2zm144 0zm8 0zm-19 1zm-6 1zm-10 1zm9 1zm28 0zm4 0zm2 1zm-43 1zm44 0zm-11 1zm-27 1zm-122 2zm0 4zm121 1zm8 0zm10 0zm8 0zm-27 1zm-118 1zm129 0zm-128 1zm134 2zm-13 2zm-126 1zm120 1zm29 1zm-151 3zm2 4zm1 1zm121 1zm25 2zm-12 3zm-130 4zm-4 2zm123 2zm-127 2zm110 2zm12 2zm-118 1zm106 5zm-16 4zm-88 2zm95 2zm-95 1z"/>
<path stroke="#e4e5f1" d="M157 43zm31 2zm1 2zm7 0zm10 0zm-25 5zm-22 3zm-43 3zm24 0zm97 1zm-100 3zm0 8zm5 2zm-13 2zm19 0zm-27 1zm19 5zm76 1zm11 1zm-92 1zm109 3zm-20 1zm2 4zm-106 3zm74 1zm17 0zm-18 1zm26 0zm-108 2zm102 3zm1 2zm-102 3zm110 8zm-32 4zm49 6zm-44 1zm39 2zm-32 1zm13 13zm4 6zm-127 5zm-3 11zm122 8zm-9 21zm-16 19zm-17 8z"/>
<path stroke="#e3e3f0" d="M122 35zm85 0zm4 0zm-89 1zm25 0zm30 0zm26 0zm-88 1zm34 0zm-24 1zm36 0zm4 0zm29 0zm31 0zm-102 1zm35 0zm-61 1zm87 0zm18 0zm-72 1zm70 0zm2 1zm-72 1h1m64 0zm40 0zm-80 1zm47 0zm22 1zm-62 1zm54 0zm12 1zm-72 1zm11 0zm-34 1zm35 0zm8 0zm7 0h1m-69 1zm23 0zm25 0zm53 0zm-63 1zm11 0zm23 0zm5 1zm-37 1zm28 0zm9 0zm15 0zm8 0zm13 0zm9 0zm-122 1h1m42 0zm5 0zm-60 1zm34 0zm2 1zm2 0zm4 0zm3 0zm9 0zm8 1zm-40 1zm57 0zm38 0zm-30 1zm-32 1zm74 0zm6 0zm-114 1zm9 0zm59 0h1m45 0zm-28 2zm-103 2h1m141 0zm-103 1zm52 0zm53 0zm-44 1zm28 0zm15 0zm-143 1zm16 0zm29 0zm21 0zm-77 1zm45 1zm65 0zm-101 1zm2 0zm18 0zm7 0zm3 0zm15 1zm92 0zm-71 1zm16 0zm4 0zm-61 1zm63 0zm-42 1zm64 0zm12 1zm-106 1zm-23 1zm18 1zm23 0zm39 0zm28 2zm14 0zm30 0zm-144 1zm17 0zm64 0zm8 0zm2 0zm-66 1zm117 0zm7 0zm-40 2zm30 0zm-141 1zm149 0zm-122 1zm43 1zm31 0zm10 0zm19 1zm5 0zm1 1zm-43 1zm15 0zm41 0zm-149 1zm14 0zm107 0zm15 1zm3 0zm8 1zm-3 1zm-59 1h1m17 0zm18 0zm4 0zm-116 1zm131 0zm4 0zm-45 1zm12 0zm-108 2zm98 0zm41 0zm-122 1zm86 0zm4 0zm-9 1zm49 0zm-51 1zm14 0zm7 0zm27 2zm-128 1zm99 0zm-23 1zm23 0zm-122 2zm-4 1zm150 0zm2 0zm-8 1h1m-124 1zm112 0zm5 1zm14 0zm-49 2zm3 1zm6 2zm19 0zm-35 1zm32 2zm-106 2zm75 0zm27 0zm23 0zm-125 1zm83 0zm8 0zm2 0zm27 0zm-16 1zm-129 2zm128 0zm-11 1zm9 0zm36 0zm-159 2zm1 1zm107 0zm-104 1zm12 0zm-15 2zm158 0zm-52 1zm28 1zm-19 1zm14 0zm-5 1zm14 0zm-11 3zm-25 1zm33 1zm6 0zm-134 2zm137 0zm-137 1zm1 1zm97 1zm14 0zm17 0zm-7 1zm-135 4zm112 1zm33 0zm4 0zm-36 1h1m40 1zm-41 1zm9 0zm4 2zm-131 1zm9 0zm114 3zm-118 1zm126 1zm11 0zm-12 1zm-6 1zm-121 5zm146 1zm-27 3zm-123 3zm124 3zm8 1zm-15 2zm15 2zm-12 2zm8 5zm-9 2zm-119 2zm123 2zm-125 2zm114 0h1m-107 1zm103 3zm-7 7zm-93 1zm74 0zm10 4zm-10 2zm-11 1zm-5 2zm18 0z"/>
<path stroke="#e3e3ef" d="M167 35zm12 0zm-63 1zm9 0zm18 0zm5 0zm75 0zm-85 1zm5 0zm29 0zm27 0zm9 0zm0 1zm-44 1zm11 0zm21 0zm-69 1zm42 0zm6 0zm29 0zm-88 1zm16 0h1m19 0zm31 1zm50 0zm-100 1zm73 0zm17 0zm-101 1zm18 0zm50 0zm58 0zm-98 1zm-53 1zm47 0zm56 0zm25 0zm-60 1zm62 0zm-108 1zm9 0zm37 0zm13 0zm60 0zm5 0zm4 0zm-23 1zm-99 1zm12 0zm9 0zm85 0zm-94 2zm16 0zm38 0zm2 0zm24 0zm6 0zm-97 1zm94 0zm30 0zm-75 1zm25 0zm-95 1zm13 0zm114 0zm-126 1zm14 0zm15 0zm8 0zm105 0zm5 0zm-137 1zm8 0h1m41 0zm14 0zm5 0zm-64 1zm13 0zm68 0zm32 0zm12 0zm4 0zm-93 1zm36 0zm24 0zm-10 1zm27 0zm-94 1zm28 0zm66 0h1m-96 2zm98 0zm-117 1zm-9 1zm24 0zm49 0zm61 0zm-23 1zm-78 1zm54 0zm-102 1zm34 0zm14 0zm82 0zm-21 1zm-108 1zm47 0zm3 0zm2 0zm38 0zm38 1zm24 0zm2 0zm-63 1zm27 0zm15 0zm-126 1zm90 0zm15 0zm43 0zm-135 1zm77 0zm5 0zm-56 1zm28 0zm36 0zm9 0zm-115 1zm6 0zm126 0zm-100 1zm79 0zm25 0zm-135 1zm115 0zm33 0zm-41 1zm19 0zm4 0zm-95 1zm47 0zm56 1zm-5 1zm-33 2zm-69 1zm63 0zm8 0zm-4 1h1m14 0zm-103 1zm7 0zm126 1zm-20 1zm26 0zm3 0zm-56 1zm55 0h1m2 0zm-154 1zm133 0zm-11 1zm17 0zm-113 1zm77 0zm31 0zm9 0zm-122 1zm102 1zm-126 1zm109 0zm39 0zm-148 1zm10 0zm3 0zm13 0zm104 0zm18 0zm8 0zm-148 1zm82 0zm43 1zm-29 1zm17 0zm9 0zm-130 1zm16 0zm3 0zm80 0zm17 0zm-19 1zm4 0zm10 0zm22 0zm-30 1zm30 0zm-138 1zm6 0zm121 1zm6 0zm-31 1zm28 0zm20 0zm7 0zm2 0zm-27 3zm9 0zm-34 1zm45 1zm-35 2zm17 0zm-118 2zm110 0zm6 0zm-129 1zm6 0h1m109 0zm4 0zm6 0zm25 0zm-133 1zm-34 1zm120 0zm3 0zm28 0zm11 0zm12 0zm-141 1zm87 0zm27 0zm-17 1zm42 0zm2 0h1m-45 1zm1 3zm-117 1zm135 0zm5 0zm-137 1zm142 0zm-141 1zm6 0zm8 0zm104 0zm31 0zm-17 2zm5 0zm-146 1zm153 0zm-154 1zm139 0zm4 0zm-126 2zm96 0zm15 0zm20 0zm-139 1zm117 0zm-111 1zm118 0zm13 0zm-136 1zm119 0zm9 0zm19 0zm7 0zm-52 2zm-92 1zm106 0zm35 0zm-29 1zm2 0zm12 1zm5 0zm8 0zm-160 1zm7 0zm10 0zm109 1h1m28 0zm-38 1zm21 0zm5 2zm9 1zm-26 1zm9 0zm8 0zm16 0zm-157 1zm157 0zm-12 2zm19 0zm-49 1zm11 1zm20 0zm2 2zm7 0zm-152 1zm123 0zm11 0zm8 0h1m12 0zm-7 1h1m11 0zm-163 1zm128 1zm-133 2zm153 1zm5 1zm-147 1zm114 0zm2 0zm7 0zm1 1zm-127 1zm122 0zm3 0zm21 0zm-29 2zm-7 1zm-116 1zm120 0zm31 2zm-14 2zm-138 2zm7 0zm-5 2zm129 1zm13 1zm-141 1zm147 0zm-143 2zm137 1zm-139 1h1m122 0zm-124 1zm120 1zm-118 1zm-4 1zm120 1zm-121 1zm107 0zm13 0zm13 0zm-10 1zm10 0zm10 2zm-27 3zm-123 2zm107 4zm-99 3zm116 2zm-17 2zm-102 1zm5 2zm103 0zm-111 2zm10 0zm90 0zm-8 1zm3 0zm4 0zm-6 3zm-83 2zm-4 2zm0 1z"/>
<path stroke="#e1e1ef" d="M197 35zm-82 1zm30 0zm42 0zm24 0zm-74 1zm53 0zm19 0zm-69 2zm50 0zm7 0zm53 0zm-89 1zm45 2zm-87 1zm26 0zm-25 1zm39 0zm-34 1zm34 0zm-1 1zm5 0zm19 0zm4 0zm40 0zm-91 2h1m116 0zm-145 1zm20 0zm88 1zm-73 1zm23 0zm-26 1zm57 0zm26 0zm-62 1zm33 0zm11 0h1m-45 1zm34 0zm-90 1zm3 0zm16 0zm12 0zm84 0zm6 0zm-73 1zm39 0zm-44 1zm41 1zm26 0zm-75 1zm63 0zm13 1zm-86 2zm68 0zm30 0zm-112 1zm79 0h1m29 0zm-89 1zm48 0zm4 0zm18 0zm48 0zm-143 1zm65 0zm40 0zm29 0zm-118 1zm88 0zm2 0zm-76 1zm8 0zm56 0zm8 0zm3 0zm-95 1zm6 0zm88 1zm-109 1zm43 0zm-25 1zm117 0zm-45 2zm5 0zm40 0zm-136 1zm134 0zm-124 1zm124 0zm-46 1zm23 0zm-34 1zm68 0zm6 0zm-114 1zm8 0zm28 0zm78 0zm-35 1zm-93 1zm2 0zm12 0zm56 0zm1 1zm-81 1zm133 0zm-124 1zm67 0zm2 1zm35 0zm-11 1zm-120 1zm38 0zm-9 1zm-9 2zm55 0zm24 0zm9 0zm-116 4zm4 0zm23 0zm61 2zm-62 1zm-14 1zm139 0zm-148 1zm136 0zm-110 1zm83 0zm12 0zm8 1zm25 0zm-65 2h1m56 0zm-129 1zm-12 1zm24 0zm95 2zm2 0zm-104 1zm120 0zm-129 1zm130 0zm-31 1zm15 0zm26 1zm-133 1zm3 0zm91 0zm-110 1zm17 0zm126 0zm-34 1zm-90 1zm131 0zm-151 1zm101 0zm38 0zm-140 1zm2 0zm136 0zm15 0zm-57 1zm40 0zm-27 1zm-102 1zm132 1zm-27 1zm-98 3zm-1 1zm136 0zm-15 2zm23 0zm-61 2zm25 0zm6 0zm16 0zm-130 1zm83 0zm11 0zm-105 1zm133 0zm6 0zm-33 1zm-104 1zm2 0h1m90 0zm23 0zm15 1zm-141 1zm126 1zm-15 1zm12 0zm-17 1zm10 1zm14 0zm-132 2zm9 3zm109 0zm22 0zm-131 2zm3 0zm-3 3zm117 0zm-3 4zm0 1zm30 1zm-24 2zm29 1zm0 1zm-148 1zm131 1zm-10 2zm-129 1zm126 0zm13 0zm-8 1zm17 2zm-145 1zm3 0zm126 1zm-16 3zm7 1zm-2 2zm-128 6zm136 0zm2 0zm-3 4zm-10 1zm7 0zm-11 1h1m4 4zm-15 1zm-105 1zm118 3zm-13 1zm16 0zm-117 4zm-9 1zm109 3zm-7 5zm-13 3zm14 1z"/>
<path stroke="#ebe80e" d="M145 128zm-1 1zm16 0zm-21 6zm7 1zm1 1h1m-5 1zm4 0h1m-20 1zm15 0h2m-17 1zm3 0h1m11 0zm13 0zm-29 1zm0 1zm15 0zm6 0zm-29 1zm8 0h1m2 0zm3 0zm9 0zm5 0zm-25 1h2m4 0h6m8 0zm6 0zm-27 1zm9 0zm3 0zm5 0zm7 0zm2 0zm4 0h1m-34 1zm2 0zm7 0zm8 0zm10 0zm2 0zm5 0zm-38 1zm3 0zm3 0zm3 0zm3 0h2m7 0h1m5 0zm4 0zm5 0h2m9 0zm10 0zm-57 1zm7 0zm3 0h5m12 0zm4 0zm5 0h2m2 0zm7 0zm-49 1zm2 0h1m3 0zm8 0h3m22 0h1m2 0zm2 0zm-44 1zm3 0zm37 0h1m-38 1zm41 0zm-41 1zm37 1zm5 0zm-47 1zm49 0zm7 0zm-55 1zm51 0zm4 0h1m-56 1zm50 0zm6 0zm-60 1zm3 0h1m48 0h2m4 0zm2 0h2m-62 1zm57 0h1m2 0h2m-63 2zm59 0zm-60 1h1m57 0h6m-66 1h1m59 0h2m2 0zm2 0zm3 0zm-70 1zm2 0zm60 0h3m3 0zm-67 1h1m60 0h4m-2 1h3m-2 1h1m0 2zm6 0zm5 0zm-11 1zm10 0h1m-3 1zm-5 1zm-71 1zm66 1zm1 1zm1 1h1m2 0zm-71 1zm69 0zm4 0zm-73 1zm66 0zm7 0h1m-74 1zm66 0zm4 0zm3 0h1m2 0zm-10 1zm6 0h4m-3 1zm-4 3zm-4 1h1m3 0h1m-3 1zm2 0h1m-4 1zm0 1h1m0 1zm0 1zm-66 2zm61 0h2m-63 1h1m65 0zm5 0zm-71 1zm66 0zm5 0zm-71 1zm65 0zm-2 1zm-63 1zm61 0h2m-60 4zm49 0h4m-55 1zm2 0zm52 0h1m9 0zm-65 1zm2 0h1m62 0h2m-69 1h1m3 0h1m-4 1h1m3 0h1m44 0zm8 0zm-54 1zm3 0zm43 0zm5 0zm-48 1zm43 0zm3 0zm-44 1zm43 0zm3 0zm-50 1zm4 0zm-4 1zm3 0h2m31 0h3m3 0zm-44 1zm2 0zm11 0h1m26 0h1m6 0zm-47 1zm2 0zm32 0h3m4 0zm-34 1zm16 0zm12 0h2m-15 1h2m8 0zm3 0zm2 0h2m-38 1h1m4 0zm6 0zm7 0zm3 0zm2 0h1m3 0zm5 0h1m3 0zm7 0zm-43 1h1m2 0h2m5 0h1m4 0h4m5 0zm3 0zm10 0zm-34 1zm2 0zm6 0zm3 0zm2 0h3m4 0zm-10 1h1m8 0h1m3 0zm2 0zm-15 1h1m7 0h2m-14 1zm4 0zm-5 1zm5 0z"/>
<path stroke="#e6e711" d="M158 120zm-15 8zm2 1h1m10 4zm-18 1zm5 0zm13 0zm-17 2zm6 0zm2 0zm-9 1zm3 0h1m2 0h2m-18 1zm10 0h1m5 0h1m-14 1h1m3 0zm3 0zm15 0zm-27 1h1m2 0zm4 0h1m-8 1zm4 0h4m-12 1zm9 0zm10 0zm-23 1zm3 0h3m15 0zm10 0zm8 0zm-39 1zm32 0h2m-34 1zm5 0zm6 0zm12 0zm7 0zm-31 1zm4 0zm2 0zm3 0zm2 0h2m4 0zm5 0zm2 0zm7 0zm-27 1h1m2 0h1m4 0h2m22 0zm6 0zm-47 1h1m35 0h1m6 0zm4 0zm12 0zm-16 1zm6 0zm1 1zm3 0zm-12 1zm2 0zm8 0h2m-55 1h1m43 0zm2 0zm3 0h1m3 0zm2 0zm-55 1zm43 0zm11 0h1m0 1zm10 1zm-13 1zm4 0zm3 0zm6 0zm-13 1zm4 0zm10 0zm-70 1zm64 0zm5 0zm-70 1h2m61 0h1m-65 1h1m2 0zm59 0zm-64 2zm66 0zm5 0zm-70 1zm65 0h1m-67 1zm67 0h2m-2 2zm-1 1zm5 1zm7 0zm-7 1h1m-4 1h2m-72 1zm70 0zm-70 4zm67 0zm5 0zm5 0zm-9 1zm2 0zm2 0zm2 0zm-7 1zm3 0zm2 0zm-5 1zm4 0h1m3 0zm-75 1zm67 0zm5 2zm-72 1zm71 0zm0 1zm-72 1zm72 0zm-72 1zm69 0zm3 0zm2 0h1m-7 1zm3 0zm3 0h1m-4 1h1m-3 1zm3 0zm5 2zm-11 1zm7 0zm-4 1zm5 0zm-73 1zm71 0zm-71 1zm64 0h1m2 0zm-4 1zm2 0zm4 0zm-4 1zm7 0zm-71 1zm59 1zm-2 1zm0 1zm8 0zm-8 1zm9 0zm-67 1zm57 0h1m-4 1zm3 0h1m-56 1zm52 0zm2 0zm-56 1h1m3 0h1m52 0zm-52 1zm0 1h2m-4 1zm2 0zm39 0zm9 0h2m-53 1h1m2 0zm39 0zm-43 1zm4 0h4m32 0zm6 0h1m-42 1zm34 0zm9 0zm-47 1zm41 0zm-38 1zm18 0zm10 0zm5 0zm10 0h1m-47 1zm3 0zm18 0zm6 0zm2 0h1m5 0zm4 0zm6 0h1m-46 1zm3 0zm31 0h1m2 0zm2 0zm-37 1h1m2 0zm6 0zm5 0zm13 0zm5 0zm6 0h1m-29 1zm4 0h2m10 0zm2 0zm-20 1h1m2 0zm3 0zm9 0zm-16 1zm3 0h1m9 0zm-14 1zm2 0zm3 0zm10 0zm-5 4z"/>
<path stroke="#e8e30e" d="M144 128zm-6 7zm2 3zm6 1zm-8 1zm6 0zm-16 1h1m14 0zm13 0zm-30 1zm4 0zm3 0zm2 0zm3 0zm2 0zm16 0zm7 0zm-43 1zm9 0zm7 0zm12 0zm8 0zm-35 1zm16 0zm10 0zm-22 1h3m7 0zm2 0zm5 0zm7 0zm-30 1zm12 0zm5 0zm13 0zm-9 1zm20 0zm-43 1zm2 0zm11 0h1m16 0zm6 0zm-34 1zm2 0zm35 1zm-42 1zm38 0zm3 1zm9 0zm-53 1zm43 0zm2 0zm2 0h1m2 0zm-50 1zm46 0zm3 0zm2 0zm5 0zm-59 1zm52 0zm-52 1zm2 0zm50 0zm8 0zm8 0zm-13 2zm1 1h1m-6 1h1m-57 1h1m66 0zm-4 1zm5 0zm0 1zm-68 3zm-1 1zm67 2zm8 0zm-9 1h1m9 0zm-9 1zm8 0zm-11 3zm11 0zm3 1zm-14 1zm12 0zm-10 3zm-67 1zm66 0zm5 0zm-1 1zm-71 2zm68 0zm-2 2zm-1 5zm1 2zm-64 2zm61 0zm-63 1zm2 0h1m57 2zm-1 1zm-5 1h1m2 0zm-55 1zm1 1zm2 1zm48 0zm3 0zm-55 1h1m1 1zm45 0zm0 1zm4 0h1m-46 1zm43 0zm-7 1h1m8 0h1m-10 1zm2 0h1m-45 1zm53 0h1m-19 1zm3 0zm16 0zm-52 1zm7 0zm-6 1zm6 0zm18 0zm-26 1zm2 0zm4 0zm13 0zm11 0zm13 0zm-36 2zm19 0h1m-17 1zm4 0zm14 0zm-15 1zm6 0zm3 0zm3 0zm-5 1h1m-6 1z"/>
<path stroke="#e0e0ee" d="M128 36zm10 0zm35 0zm10 0zm-27 1zm-43 1zm10 0zm6 0zm29 0zm2 0zm9 0zm35 0zm7 0zm-93 3zm20 0zm2 0zm2 0zm11 1zm-47 2zm46 0zm8 0zm-53 1zm32 1zm33 0zm-43 1zm86 0zm-39 1zm73 0zm-77 1zm-38 2zm52 0zm2 0zm58 0zm-17 1zm20 0zm-59 1zm59 0zm-105 1zm-8 1zm42 0zm14 0zm-76 1zm61 0zm38 0zm-105 1zm24 0zm-4 1zm5 0zm26 0zm19 0zm26 0zm19 0zm-105 1zm8 0zm33 0zm35 0zm26 0zm-22 1zm-37 1zm49 0zm-39 1zm20 0zm25 0zm-73 1zm77 0zm-93 1zm36 0zm56 0zm-104 1zm28 0zm105 0zm-151 1zm84 0zm-30 1zm-44 1zm16 0zm32 0zm65 0zm21 0zm-114 2h1m98 0zm-119 1zm22 0zm9 0zm11 0zm39 1zm-18 1zm71 0zm-125 1zm25 0zm6 0zm23 0zm29 0zm-26 1zm15 0zm-63 1zm61 1zm6 0zm44 1zm11 0zm-28 1zm-36 1zm11 0zm2 0zm46 1zm-152 1zm130 1zm2 0zm14 1zm-35 1zm-89 1zm11 0zm6 0zm72 0zm33 1zm14 0zm-41 1zm7 1zm-23 2zm31 0zm13 0zm-146 1zm103 0zm11 0zm27 1zm-7 1zm-37 2zm23 0zm28 0zm-27 1zm2 1zm-99 2zm101 1zm-119 1zm29 0zm117 0zm-119 2zm75 1h1m-94 1zm-20 5zm117 0zm-87 1zm-18 1zm5 2zm111 0zm15 1zm10 2zm8 0zm2 0zm-39 1zm-130 1zm127 0zm45 0zm-47 2zm20 0zm-112 2zm128 0zm-45 1zm31 2zm13 0zm8 1zm-23 1zm15 0zm-11 3zm3 0zm-26 1zm44 1zm-141 2zm92 0zm23 1zm4 0zm26 0h1m-53 1zm-11 1zm13 0zm3 2zm-120 1zm113 0zm8 0h1m-105 1zm2 0zm128 0zm-9 2zm7 0zm-20 1zm-114 1zm127 0zm-133 2zm3 0zm-14 2zm12 0zm159 0zm-25 1zm-136 2zm119 1zm6 0zm-127 1zm125 2zm13 0zm15 0zm-34 3zm46 0zm-39 1zm34 1zm-16 1zm-17 1zm-2 1zm6 3zm10 0zm3 0zm-29 3zm-115 2zm139 1zm-9 2zm-125 1zm140 0zm-6 1zm-10 1zm5 2zm-12 1zm-7 1zm6 0h1m9 1zm-7 1zm4 0zm-1 1zm1 1zm6 2zm-130 1zm102 1zm-114 1zm129 0zm-121 1zm3 1zm0 9zm116 1zm-123 12zm-3 3zm92 1zm-22 1z"/>
<path stroke="#dfdfed" d="M137 36zm72 0zm-58 1zm47 0zm-13 2zm16 0zm-7 1zm3 0zm-28 2zm35 1h1m16 1zm-111 2zm25 0zm0 1zm2 0zm-31 1zm15 0zm39 0zm49 0zm-49 1zm21 0zm-67 1zm31 0zm4 0zm42 0zm-34 1zm36 0h1m36 0zm-52 1zm9 0zm61 0zm-124 1zm15 0zm58 0h1m33 0zm-55 1zm10 0zm11 0zm51 0zm-138 1zm21 0zm82 0zm-98 1zm11 0zm16 0zm4 0zm73 0zm-97 1zm95 0zm-48 1zm71 1zm-115 1zm-22 1zm4 0h1m99 0zm24 0zm2 0zm8 0zm8 0zm-84 1zm19 0zm-66 1zm10 0zm9 0zm21 0zm13 0zm23 1zm43 0zm11 1zm-137 1zm9 3zm17 0zm10 0zm33 0zm24 0zm29 0zm-100 1zm80 1zm-104 2zm9 2zm19 0zm-31 1zm101 0zm42 0zm-133 1zm-8 1zm136 0zm10 0zm-46 4zm-91 1zm123 0zm-112 1zm57 0zm-65 3zm70 1zm28 0zm35 0zm-143 1zm8 0zm-5 2zm127 1zm-147 1zm162 1zm-135 1zm8 1zm67 0zm43 0zm-138 1zm107 1zm19 0zm-134 1zm2 0zm18 0zm0 3zm13 0zm105 1zm-123 1zm103 0zm5 0zm4 0zm-8 2zm14 0zm10 1zm-130 1zm124 3zm-115 2zm91 0zm10 1zm25 3zm-135 1zm92 0zm24 1zm2 0zm-26 1zm31 1zm12 1zm-17 2zm-10 3zm3 0zm4 0zm-15 1zm21 1zm-17 1zm30 1zm-34 1zm-6 1zm23 0zm3 3zm-2 1zm-122 1zm152 1zm-166 2zm16 0zm92 0zm13 0zm12 0zm14 1zm8 0zm-147 1zm10 0zm111 3zm-126 1zm5 1h1m6 2zm102 0zm36 6zm-29 5zm14 1zm-17 2zm32 0zm3 0zm-156 3h1m148 0zm-13 1zm-15 2zm18 0zm-29 3zm-107 3zm114 4zm13 0zm-132 5zm118 1zm11 0zm-5 7zm-6 3zm-8 1zm-103 2zm105 1zm-6 2zm0 1zm-100 1zm100 3zm0 2zm-15 1zm2 0zm4 0zm-6 3zm5 2zm-94 8z"/>
<path stroke="#dedeed" d="M171 35zm29 0zm-2 1zm9 0zm-41 2zm14 0zm-77 1zm84 0zm42 1zm17 0zm-49 1zm-88 1zm13 0zm10 0zm18 0zm57 0zm20 0zm-75 1zm-7 1zm13 0zm37 1zm-57 1zm28 0zm25 0zm-33 1zm32 0zm53 0zm-41 1zm19 0h1m-79 2zm29 0zm-46 1zm18 0zm33 0zm-29 1zm-32 1zm16 0zm97 0zm-124 1zm17 0zm4 0zm57 0zm19 0zm-82 1zm113 0zm8 0zm-105 1zm38 0zm-54 1zm17 0zm47 0zm2 0zm-34 1zm7 0zm40 1zm24 0zm11 0zm5 0zm-141 1zm93 0zm17 0zm31 1zm-77 1zm6 0zm60 0zm-114 1zm32 0zm29 1zm7 0zm41 0h1m-114 2zm25 0zm57 0zm64 0zm-54 1zm27 0zm-110 1zm64 1zm-82 1zm13 0zm21 0zm120 0zm-111 1zm-25 1zm8 0zm90 0zm-74 1zm-45 1zm18 1zm13 0zm6 0zm120 0h1m-131 2zm114 0zm-37 1zm-100 1zm39 0zm73 0zm26 0zm15 0zm-78 1zm17 0zm14 0zm-81 1zm72 0zm-51 1zm-47 2zm91 0zm35 0zm17 0zm-135 1zm9 0zm16 0zm11 0zm42 0zm46 0zm-1 1zm-139 1zm20 0zm2 0zm16 1zm64 0zm-96 1zm3 0zm15 0zm15 1zm94 0zm-122 1zm29 0zm13 0zm94 0zm-127 1zm73 0zm64 0zm-63 1zm32 0zm32 0zm-147 1zm11 0zm65 0zm36 0zm21 0zm-109 1zm-28 1zm-14 1zm34 0zm-18 1zm30 0zm110 0zm-17 1zm-18 2zm-5 1zm-109 1zm115 0zm2 0zm16 0zm-115 1zm14 0zm82 0zm-114 1zm157 0zm-159 2zm105 0zm4 0zm14 1zm7 0zm-128 1zm24 0zm7 0zm81 0zm-6 1zm-12 1zm26 0zm-124 1zm119 0zm28 0zm-11 2zm-26 2zm-85 1zm129 0zm-17 1zm-145 1zm113 0zm28 2zm-129 1zm20 0zm111 0zm19 0zm10 0zm-150 1zm7 0zm108 0zm-130 1zm111 2zm55 0zm-161 2zm19 0zm94 0zm17 0zm-120 2zm148 0zm-59 1zm-94 1zm154 0zm-159 2zm149 0zm-131 1zm-9 3zm135 0zm-25 1zm-112 1zm116 0zm16 0zm5 0zm-18 1zm28 0zm-51 1zm16 0zm-7 1zm-122 1zm10 0zm5 0zm125 1zm20 0zm-141 1zm101 0zm-106 2zm149 0zm-155 1zm154 0zm-153 1zm146 4zm8 0zm-33 1zm-9 1zm10 0zm-128 1zm3 1zm156 0zm-28 2zm15 0zm-19 2zm-117 1zm116 0zm4 0zm11 0zm-5 1zm17 1zm-150 1zm149 2zm-26 3zm-5 1zm-122 6zm144 0zm-18 3zm6 0zm-14 1zm7 0zm-117 2zm128 3zm-135 2zm133 3zm-11 1zm-122 1zm117 0zm-5 6zm-4 7zm20 2zm-122 1zm87 1zm-10 7zm-80 4zm5 1zm61 0zm-69 1z"/>
<path stroke="#ddddec" d="M167 36zm7 0zm32 0zm16 0zm-96 1zm47 0zm27 0zm1 1zm-69 1zm90 0zm-59 1zm37 0zm15 0zm-90 1zm43 0zm7 0zm29 0zm-14 1zm29 0zm-114 1zm81 0zm-3 2zm23 0zm17 1zm-83 1zm101 0zm-87 1zm17 0zm-57 1zm1 2zm3 1zm20 0zm7 0zm0 1zm7 0zm7 0zm-29 1zm93 0zm30 1zm-146 1zm22 0zm4 2zm-8 1zm35 0zm82 0zm-23 1zm-96 1zm99 0zm-80 1zm3 0zm99 0zm-121 1zm59 0zm-45 1zm2 0zm6 3zm100 0zm10 0zm-88 1zm-34 1zm15 0zm41 0zm33 0zm9 1zm-123 1zm21 0zm86 0zm-68 1zm66 1zm23 0zm-25 2zm12 0zm-51 1zm5 0zm78 0h1m-139 1zm20 0zm45 0zm26 0zm37 0zm-37 1zm8 0zm20 0zm-44 3zm1 1zm5 0zm-68 1zm108 0zm-132 1zm97 0zm46 0zm-59 1zm5 0zm-14 1zm64 0zm0 1zm-140 1zm15 0zm110 0zm-124 1zm83 0zm14 1zm14 0zm-121 2zm108 0zm-110 1zm150 0zm4 0zm-127 1zm-4 1zm10 0zm101 0zm26 0zm-127 1zm-21 1zm101 0zm34 0zm-5 1zm11 0zm7 0zm-152 1zm22 0zm66 0zm54 0zm6 0zm-49 1zm54 1zm-32 1zm-129 1zm85 0zm-81 2zm120 0zm2 0zm9 0zm6 3zm-133 1zm4 0zm104 0zm43 0zm-37 1zm-111 1zm6 0zm112 1zm19 0zm-25 1zm14 0zm-133 1zm134 0h1m-29 1zm-100 2zm103 0zm-100 1zm93 0zm-96 1zm96 0zm20 0zm31 0zm-59 2zm45 1zm-136 1zm7 0zm96 0zm2 0zm8 0zm-18 1zm2 0zm56 0zm-61 1zm0 3zm23 0zm-9 1zm6 0zm2 0zm5 0zm-126 1zm120 0zm9 0zm14 0zm-44 1zm-84 1zm-13 1zm109 1zm1 1zm13 0zm-10 1zm-107 3zm101 0zm19 1zm31 0zm-153 1zm104 4zm33 0zm-138 1zm135 1zm-135 1zm-6 1zm153 2zm-152 3zm107 0zm-111 1zm142 0zm-17 3zm30 1zm-156 1zm129 0zm8 0zm-7 1zm6 2zm-130 2zm113 0zm28 1zm-147 1zm150 2zm-34 1zm13 0zm-130 4zm1 1zm127 0zm-7 2zm-6 4zm15 0zm7 0zm-5 1zm-135 2zm116 0zm2 0zm-1 2zm-4 2zm-114 5zm116 0zm-111 3zm109 3zm5 2zm-11 6zm9 0zm-26 6zm-85 1zm3 0zm101 0zm-108 1zm7 0zm93 0zm-28 6z"/>
<path stroke="#dcdcec" d="M131 38zm28 2zm26 0zm13 0zm-29 1zm26 0zm32 0zm-107 1zm45 0zm9 0zm28 1zm18 0zm-49 1zm68 1zm-63 2zm3 0zm-33 1zm9 0zm8 0zm28 0zm-33 1zm45 0zm13 0zm-34 1zm12 0zm9 0zm6 0zm-84 1zm3 0zm32 1zm14 0zm-66 3zm65 0zm58 0zm-15 1zm2 0zm-78 1zm-28 1zm127 0zm3 0zm-37 1zm17 1zm17 0zm-7 1zm-124 1zm67 1zm-49 1zm32 0zm38 0zm48 0zm-114 2zm115 0zm-91 1zm45 0zm2 0zm21 0zm-104 2zm12 0zm36 0zm-15 1zm30 0zm16 0zm16 0zm29 0zm-112 1zm32 0zm39 1zm7 0zm16 0zm-90 1zm-35 1zm27 0zm76 0zm-15 1zm-17 1zm54 0zm-98 1zm5 1zm-1 1zm108 0zm-18 1zm-92 1zm97 0zm-33 1zm13 0zm-85 1zm94 0zm3 1zm31 0zm-47 1zm20 0zm-93 1zm66 0zm-4 1zm48 0zm-145 2zm113 0zm11 0zm35 0zm-161 1zm11 0zm114 0zm-88 1zm-23 1zm143 0zm-115 1zm88 0zm3 0zm-97 1zm7 0zm-21 1zm106 0zm36 0zm-41 1zm-110 1zm6 0zm87 1zm22 0zm-21 2zm9 0zm19 0zm-123 1zm4 0zm93 0zm54 0zm-32 1zm-107 3zm111 0zm-3 1zm-108 1zm107 1zm-119 1zm13 0zm106 0zm-121 1zm109 1zm-13 2zm-91 1zm99 0zm-111 1zm12 0zm101 0zm24 0zm-112 1zm73 0zm-87 1zm98 0zm28 0zm-36 1zm12 0zm21 2zm-34 1zm6 1zm5 1zm33 2zm-30 1zm-108 1zm96 0zm8 0zm26 2zm8 0zm-130 1zm123 0zm-135 1zm0 1zm7 0zm118 0zm-116 1zm6 0zm118 0h1m-24 1zm16 0zm2 2zm-21 2zm33 0zm4 2zm-22 1zm-25 1zm-99 1zm100 0zm14 0zm-109 1zm139 0zm-141 1zm113 0zm9 0zm8 0zm-137 3zm10 0zm-5 2zm126 0zm-118 1zm125 1zm3 0h1m-2 2h1m6 0zm-146 2zm116 0zm34 0zm-5 2zm-7 1zm-141 1zm6 0zm-4 2zm136 0zm-21 2zm8 0zm-117 1zm112 1zm-122 1zm118 2zm14 0zm-126 3zm1 1zm0 1zm113 0zm-115 1zm2 0zm1 4zm109 0zm9 2zm7 4zm-22 6zm7 1zm16 1zm-19 1zm-10 5zm6 0zm-10 3zm-6 8zm-89 6z"/>
<path stroke="#dadaed" d="M199 35zm-23 2zm22 2zm5 1zm-12 2zm-44 1zm30 0h1m22 1zm-64 1zm8 0zm2 0zm20 0zm-36 2zm109 0zm-20 3zm-52 1zm4 1zm4 1zm-44 3zm63 0zm-63 1zm18 0zm10 0zm5 1zm10 1zm-31 1zm26 1zm-26 4zm59 1zm6 0zm-21 1zm9 1zm-12 1zm10 0h1m22 0zm-95 1zm74 0zm-24 2zm38 0zm10 0zm-40 1zm-49 2zm46 0zm11 0zm6 4zm-79 2h1m71 0zm-79 1zm53 1zm16 0h1m6 0zm3 0zm69 2zm-65 1zm28 1zm-38 1zm-52 1zm102 0zm-1 3zm-28 1zm-83 1zm10 1zm114 0zm-134 3zm22 1zm68 0zm-77 3zm75 0zm27 0zm2 0zm-109 1zm97 2zm-23 1zm17 0zm20 0zm-120 1zm15 0zm-4 1zm-1 1zm70 3zm29 0zm-110 1zm138 0zm-22 1zm21 0zm-1 1zm-127 2zm89 0zm15 0zm7 0zm2 0zm-10 1zm4 4zm16 0zm2 0zm-33 1zm43 1zm-13 2zm-128 1zm145 2zm-65 2zm24 0zm3 0zm-8 2h1m18 9zm-10 1zm-116 2zm3 0zm122 1zm-21 1zm20 3zm9 0zm-133 1zm120 2zm-1 2zm12 0zm-24 2zm-5 2zm-112 2zm-1 9zm3 4zm102 0zm-101 3zm105 5zm2 8zm3 1zm-7 3zm6 0zm-116 7zm93 1zm-87 14zm75 1zm-5 2zm8 0zm-18 5z"/>
<path stroke="#dbdbeb" d="M168 36zm-9 1zm66 0zm-83 1h1m22 1zm2 0zm33 0zm13 1zm-98 1zm9 0zm15 0zm57 0zm29 0zm-118 1zm13 1zm22 0zm33 0zm-3 1zm-62 1zm41 0zm21 0zm12 0zm36 0zm-71 1zm1 1zm12 0zm2 0zm8 0zm28 0zm-8 1zm8 0zm-22 1zm4 0zm-20 1zm17 0zm17 0zm-80 1zm63 0zm12 0zm-66 1zm3 0zm4 0zm20 0zm52 0zm-17 1zm4 0zm42 0zm-108 1zm-8 1zm73 0zm3 0zm-90 1zm14 0zm20 0zm-4 1zm8 0zm15 1zm49 0zm-37 1zm9 0zm12 0zm-49 1zm16 0zm92 0zm-109 1zm64 0zm37 0zm-112 1zm12 1zm28 2zm17 0zm31 0zm-51 1zm26 0zm24 0zm-67 2zm18 0zm39 0zm19 0h1m2 1zm27 1zm-28 1zm-5 1zm-116 1zm109 0zm23 0zm2 0zm-68 1zm29 0zm8 0zm4 1zm-71 2zm74 0zm23 0zm-99 1zm51 0zm47 0zm-47 1zm18 0zm48 0zm-43 1zm-20 1zm28 0zm10 0zm-103 1zm85 0zm-97 2zm13 0zm75 0zm14 0zm-126 3zm110 0zm32 0zm-30 1zm12 0zm-35 1zm-69 2zm92 0zm2 0zm-79 1zm71 0zm8 0zm16 0zm9 0zm-52 1zm21 0zm53 0zm-54 1zm27 1zm-101 1zm71 0zm42 1zm-115 1zm106 0zm-134 1zm9 0zm125 0zm17 0zm-31 1zm15 0zm25 0zm-53 1zm26 0zm-27 1zm6 1zm-11 1zm12 0zm13 0zm-114 1zm87 0zm-91 1h1m121 1zm-34 1zm11 0zm-106 1zm141 0zm-132 1zm105 0zm-98 1h1m80 0zm54 0zm-49 1zm-101 1zm19 0h1m136 0zm-37 1zm33 0zm-1 1zm-146 1zm-6 1zm18 1zm114 0zm-10 2zm-105 3zm83 0h1m-105 4zm9 0zm130 0zm16 0zm-46 1zm52 0h1m-32 1zm-14 1zm-99 1zm124 0zm-25 1zm-112 2zm106 0zm5 0zm9 0zm14 0zm-2 4zm3 1zm-38 1zm8 0zm42 1zm-43 3zm27 0zm13 0zm-40 1zm5 0zm33 0zm-33 1zm6 0zm19 1zm-2 1h1m-6 1zm-20 1zm12 0zm30 0zm-13 1zm-16 3zm7 0zm18 0zm-149 2zm7 1zm-2 3zm-2 1zm111 0zm10 0zm-4 1zm-1 2zm1 2zm-122 1zm-5 1zm132 1zm14 0zm-22 1zm-118 1zm132 0zm-18 1zm8 2zm5 3zm-9 3zm17 1zm-133 4zm121 2zm-132 1h1m6 3zm-6 3zm5 1zm106 5zm-104 3zm0 1zm94 3zm-2 1zm3 0h1m7 0zm-3 1zm-10 2zm-13 9z"/>
<path stroke="#d9d9ea" d="M152 35zm31 0zm40 2zm-69 1zm9 0zm-50 1zm18 0zm23 0zm6 0zm3 0zm16 0h1m3 0zm3 0zm8 0zm5 0zm24 0zm-59 1zm6 1zm2 0zm-66 1zm15 0zm12 0zm6 0zm2 0zm0 1zm12 0zm50 0zm-64 1zm14 0zm9 0h1m41 0zm-93 1zm0 1zm15 1zm65 0zm8 0zm-18 1h1m17 0zm45 0zm-90 1h1m30 0zm6 0zm32 0zm20 0zm-63 1h1m21 0zm-41 1zm35 0zm4 0zm-84 1zm10 0zm47 0zm28 0zm18 0zm-51 1zm-41 1zm7 0zm56 0zm8 0zm36 0zm-128 1zm15 0zm8 0h1m46 0zm27 0zm-25 1zm39 0zm16 0zm-18 1h1m1 1zm-88 1h1m6 0zm73 0h1m28 0zm-110 1zm114 0zm-114 1zm27 0zm-51 1zm26 0h1m23 0zm18 0zm-65 1zm12 0zm10 0zm124 0zm-115 1zm-20 1zm8 0zm4 0zm6 0zm3 0zm7 0zm21 0zm20 0h1m7 0zm19 0zm-96 1zm25 0zm24 0zm36 1zm-87 1zm13 1zm84 0zm29 0zm-111 1zm3 0zm28 0zm36 0h1m2 0zm-45 1zm-34 1zm100 0zm7 0zm8 0zm1 1zm-132 1zm27 0zm54 0zm53 0zm-134 1zm94 0zm5 0zm-18 1zm6 0zm12 0h1m-67 1zm9 0zm59 0zm7 1h1m17 0zm19 0zm-113 1zm28 0zm31 0zm34 0zm8 0zm-46 1zm25 0zm7 0zm-30 1zm18 0zm-77 4zm55 0zm-67 1zm71 0zm4 0zm-100 1zm107 0zm43 0zm-131 1h1m115 0zm-103 1zm99 0zm-118 1zm143 0zm-48 2zm25 0zm17 0zm-128 1zm6 0zm72 0zm5 0zm-82 1zm79 0zm21 0zm2 0zm28 0zm-17 2zm-46 1zm25 0zm11 0zm-122 1zm152 0zm-142 1zm74 0zm39 0zm5 0zm24 0zm-131 1zm72 0zm36 0zm-20 1zm11 0zm-120 1zm114 0h1m29 0zm-131 1zm102 0zm-102 1zm102 0zm-102 1zm6 0zm73 0zm-77 2zm84 0zm4 1zm14 0zm-28 1zm3 1zm6 1zm3 0zm-109 1zm20 1zm101 0zm20 0zm-131 3zm121 0zm9 0zm-132 1zm107 0zm-106 1zm4 0zm5 0zm2 0zm100 1zm-26 1zm9 3h1m14 1zm39 0zm-61 1zm16 0zm-100 1zm6 0zm115 0zm-5 1zm-3 1zm10 0zm-16 1zm4 0zm17 0zm-34 1zm0 1zm7 0zm-101 2zm94 2zm22 0zm7 1zm-4 2zm3 0zm18 2zm-53 1zm48 0zm-48 1zm7 0zm26 0zm-135 2zm149 0zm-19 2zm2 0zm8 0zm-23 1zm-2 1zm4 1zm35 0zm-41 1zm-1 1zm30 0zm-32 2zm-107 1zm137 0zm-143 1zm128 0zm17 1zm-5 4zm-136 1zm125 0zm-124 1zm135 1zm13 1zm-145 1zm-9 3zm114 1zm17 0zm-9 1zm7 0zm-4 2zm-7 3zm1 1zm4 4zm1 2zm-12 1zm8 0zm-5 2zm-111 1zm0 1zm111 1zm1 1zm-1 1zm-110 3zm-1 3zm100 4zm-101 1zm97 0zm14 0zm-116 1zm106 6zm-103 6zm85 0zm9 0zm-93 1zm84 0zm-21 7zm3 0zm-2 1z"/>
<path stroke="#ebdc09" d="M141 138h1m-3 1zm3 0zm5 0h1m-6 1zm3 0zm2 0zm-9 1zm2 0h2m6 0zm-20 1zm6 0zm5 0zm4 0zm4 0zm-22 1zm9 0h1m28 0zm-44 1h1m5 0zm10 0h1m7 0zm-24 1h1m11 0zm5 0zm7 0h1m2 0zm4 0zm-17 1zm4 0zm5 0zm2 0zm2 0zm4 0h1m-36 1zm17 0zm2 0zm13 0zm-32 1zm5 0zm2 0h1m13 0zm4 0zm4 0zm2 0zm14 0zm-47 1zm4 0zm3 0zm5 0zm20 0h1m2 0zm2 0zm3 0zm-40 1h1m2 0h2m10 0h1m22 0zm-38 1zm3 0zm-3 1h1m2 0zm36 0zm-40 1zm43 0zm5 0zm-8 1h1m5 0zm3 0zm-52 1zm3 0zm47 0zm2 0zm-52 1zm3 0zm-4 1h1m49 0zm-47 1zm51 0zm1 1zm-2 1zm3 0zm-5 1h3m-57 1zm65 0zm-7 1zm-58 1zm-2 1h1m61 0zm-4 1zm5 0zm-63 1zm64 0zm0 1zm-3 2zm13 0zm-13 1h1m3 0zm4 0zm-6 1zm4 0h2m-5 1zm5 0zm-71 1zm67 0h1m2 0h1m-71 1zm65 0zm4 0zm-69 1zm64 0zm14 0zm-11 1h1m-1 1zm-67 1zm68 0h2m-6 1h1m2 0zm-67 1zm66 0h3m-5 1zm3 0h2m-5 1h2m3 0zm-70 1zm67 0h1m-68 1zm64 0h1m-65 1zm64 0h1m-65 1zm64 0h1m-65 1zm65 0h1m-66 1zm65 0h1m-65 1zm63 0zm-62 1zm60 1zm3 0zm-63 1zm62 0h2m-65 2zm61 0zm-60 1h1m-1 1zm56 0h1m-1 1zm-5 1zm-48 1zm47 0zm-47 1zm48 0h2m-53 1zm3 1zm44 0zm4 0zm-47 1zm41 0zm6 0zm-46 1zm37 1zm4 0zm3 0zm2 0h1m-45 1zm38 0h3m-41 1zm3 0h1m28 0h1m8 0zm-11 1zm8 0zm3 0zm-47 1zm11 0zm3 0h1m17 0zm2 0zm-23 1h2m2 0zm10 0h1m12 0h1m-39 1zm15 0zm4 0h2m5 0zm4 0h1m6 0h2m-33 1h6m12 0h4m-22 1zm4 0zm2 0zm3 0zm7 0zm15 0zm-30 1zm7 0zm6 0zm3 0zm-15 1zm12 0zm2 0zm2 0zm2 0zm-7 1zm6 0zm-3 2h1"/>
<path stroke="#d6d7ea" d="M178 36zm-11 2zm56 0zm-112 1zm55 0zm2 0zm27 0zm29 0zm-50 1zm22 0zm3 0zm-54 1zm-5 1zm2 0zm40 0zm21 0zm-89 1zm20 0zm17 0zm23 0zm9 0zm4 0zm-76 1zm64 0zm12 0zm-51 2zm9 0zm48 0zm28 0zm-70 1zm50 1zm3 0zm12 0zm9 0zm-104 1zm2 0zm86 0zm35 0zm-49 1zm-63 1zm37 0zm-2 1zm-31 1zm49 0zm16 0zm21 0zm10 0zm-109 1zm108 0zm-87 1zm31 0zm14 0zm-85 1zm82 0zm-73 1zm6 0zm10 0zm22 0zm6 0zm24 0zm2 0zm4 0zm-74 1zm102 0zm-48 1zm24 0zm-76 1zm29 0zm23 0zm17 0zm17 0zm11 0zm9 0zm28 0zm-100 1zm4 0zm14 0zm35 0zm-95 1zm34 0zm6 0zm-31 3zm107 0zm-49 1zm-8 1zm-21 1zm34 0zm34 0zm42 0zm-95 1zm56 0zm7 0h1m-84 1zm60 0zm14 0zm-90 1zm57 0zm24 0zm9 0zm14 0zm-33 1zm30 0zm2 0zm-105 2zm96 0zm-17 1zm8 0zm-98 1zm7 0h1m30 0zm36 0zm18 0zm5 0zm4 0h1m3 0zm-29 1zm15 0zm48 0h1m-127 1zm10 0zm-6 1zm55 0zm4 0zm40 0zm-44 1zm35 1zm-100 1zm14 0zm4 1zm76 0zm27 0zm-105 1zm2 0zm50 1zm31 0zm7 0zm-97 1zm69 0zm-96 1zm23 0zm58 0zm23 0zm-100 1zm106 0zm-76 1zm121 0zm-63 1zm-82 1zm18 1zm94 1zm30 0zm-63 1zm67 0zm-71 1zm3 0h1m-71 1zm125 1zm-58 1zm16 1zm13 0zm16 0zm22 0zm-53 2zm27 0zm-122 1zm14 0zm5 0zm56 0h1m6 0zm21 0zm40 1zm1 1zm-125 1zm75 1zm-75 2zm100 0zm13 0zm-45 1zm16 0zm-1 1zm47 0zm-36 1zm-121 1h1m103 0zm24 0zm13 0zm-22 1zm10 0zm-111 1zm5 0zm67 0zm17 0zm4 0zm29 0zm-33 1zm24 0h1m-108 1zm88 0zm36 1zm-19 1zm-28 1zm-97 1h1m105 0zm9 0zm-9 1zm23 0zm-129 1zm99 0zm9 0zm-91 1zm121 0zm-41 1zm18 0zm8 1zm-109 1zm111 0zm29 1zm-143 1zm3 0zm81 0zm-96 1zm13 0zm81 0zm41 0zm-122 1h1m-9 1h1m8 0zm-3 1zm-6 2zm2 0zm2 0zm94 1zm22 0zm-30 2zm-83 1zm131 0zm-141 1zm7 0zm121 0zm-25 2zm37 0zm-31 1zm12 2zm-26 1zm13 0zm7 0zm-7 1zm-109 1zm110 0zm21 0zm-133 1zm106 0zm-108 1zm106 0zm6 0zm30 0zm-145 1zm1 1zm128 0zm27 0zm-1 1zm-34 1zm-126 1h1m5 1h1m119 0zm17 0zm-14 1zm-14 1zm13 0zm21 0zm-139 2zm118 3zm-16 1zm26 0zm4 0zm-24 1zm8 1h1m9 5zm7 0zm-18 1zm6 2zm-9 1zm4 0zm0 5zm-9 2zm6 1zm1 1zm-8 2zm-6 8zm6 4zm-5 1zm-7 1zm1 1zm-7 1h1m-96 1zm103 2zm-104 1zm1 3zm0 3zm89 1zm2 2zm-88 1zm79 0zm-1 3zm-13 1zm12 0z"/>
<path stroke="#d5d5e9" d="M116 37zm29 0zm55 1zm-69 2zm15 4zm35 1zm-45 2zm27 0zm4 2zm41 0zm-50 1zm-30 3zm7 1zm50 0zm49 1zm-52 1zm13 1zm-38 1zm25 1zm-28 2zm37 0zm9 0zm-8 3zm-2 1zm-17 1zm-30 1zm73 0zm4 1zm-94 1zm56 0zm-14 1zm8 1zm41 0zm-12 1zm-56 1zm48 2zm9 0zm-26 1zm9 0zm15 0zm-86 1zm54 0zm37 0zm-44 1zm29 0zm37 0zm-5 3zm4 0zm-109 1zm92 2zm27 0zm-42 1zm20 0zm38 1zm-36 1zm-95 1zm48 0zm-73 1zm23 0zm9 0zm117 0zm-58 1zm3 1zm35 0zm-4 2zm1 1zm-102 1zm100 0zm7 0zm-34 2zm57 0zm-66 1zm-85 1zm126 2zm3 0zm-106 2zm70 0zm-74 1zm-16 4zm110 3zm-17 1zm-88 4zm-3 1zm-5 1zm93 1zm-80 1zm89 0zm37 5zm-132 5zm129 0zm-6 2zm-135 1zm106 1zm-7 1zm3 3zm26 1zm4 0zm10 0zm2 0zm-11 1zm-26 2zm-4 1zm16 2zm-7 1zm27 0h1m-6 1zm-26 2zm13 2zm-11 1zm-118 1zm125 1zm0 2zm4 0zm-130 3zm128 3zm-4 1zm-13 7zm6 3zm6 1zm3 2zm1 1zm-123 12zm124 0zm-130 12zm3 0zm0 1zm100 3zm-3 1zm-2 3zm-93 3zm79 4zm-80 1z"/>
<path stroke="#d3d4e9" d="M201 36zm-33 1zm11 1zm3 0zm0 1zm13 1zm-81 2zm56 0zm19 0zm-49 1zm49 0zm-74 1zm71 1zm-3 1zm21 1zm18 0zm-61 1zm22 0zm25 0zm-46 1zm40 0zm-68 1zm25 0zm27 0zm7 0zm-15 1zm14 0zm3 0zm-38 1zm58 0zm-59 1zm32 0zm7 0zm-71 1zm108 0h1m-59 1zm5 0zm21 0zm2 0zm-64 1zm38 0zm58 0zm-60 1zm36 0zm4 0zm-21 1zm-15 1zm17 0zm-58 1zm35 0zm48 0zm-77 1zm53 0zm5 0zm8 0zm-51 1zm5 0zm25 0zm11 0zm-42 1zm31 0zm-58 1h1m23 1zm0 1zm30 0zm26 0zm24 0h1m-1 1zm-66 1zm36 0zm-99 1zm54 0zm8 0zm53 0zm-29 2zm-43 1zm32 0zm7 0zm11 0zm-50 1zm60 0zm17 0zm-120 1zm27 0zm77 0zm2 0zm28 0zm-120 1zm40 0zm43 0h1m-1 1zm7 0zm-94 1zm5 0zm63 0zm15 0zm12 0zm3 0h1m42 0zm-149 1zm75 0zm9 0zm-90 1zm54 0zm71 0zm-120 1zm117 0zm-29 1zm34 0zm-97 1zm61 1zm21 0zm-88 1zm0 1zm7 0zm117 0zm-132 2zm20 0zm68 0zm26 0zm-99 1zm3 1zm38 0zm7 0zm29 0zm-19 1zm40 0zm-39 1zm37 0zm-50 2zm78 0zm-125 1zm122 0h1m-68 1zm4 0zm19 0zm35 0zm-114 1zm83 1zm11 1zm28 0zm-124 1zm-14 1zm80 0zm5 0zm17 0zm-110 1zm115 1zm-118 2zm117 0zm-103 2zm-12 1zm12 0zm90 0zm-82 2zm68 1zm37 0zm22 0zm-131 1zm93 0zm24 0zm0 1zm-32 1zm29 0zm8 3zm-47 2zm42 0zm-133 1h1m88 1zm10 2zm2 0zm-4 1zm13 0zm36 0zm-143 1zm131 1zm-137 1zm-4 3zm140 1zm-139 1zm119 1zm-119 1zm102 0zm-90 1zm-5 1zm92 0zm12 0zm19 2zm11 1zm-15 2zm-24 1h1m-109 2zm113 0h1m34 0zm-43 1zm11 0zm-113 1zm126 0zm-25 2zm8 0zm-9 2zm-105 1zm3 0zm103 0zm-106 2zm-4 2zm0 1zm113 0zm15 0zm24 1zm-34 1zm1 2zm-110 1zm121 1zm-120 2zm104 0zm36 4zm-37 2h1m-105 1zm109 3zm8 3zm3 0zm1 2zm-15 1zm8 0zm11 1zm-22 1zm7 4zm-113 1zm0 1zm-3 2zm-1 1zm-1 1zm107 0zm1 1zm-1 1zm-102 1zm102 0zm4 0zm-7 8zm-5 3zm12 1zm-16 2zm8 0zm-14 2zm-88 5zm0 2zm74 1zm3 1z"/>
<path stroke="#d1d1e9" d="M149 35zm12 0zm9 0zm9 1zm-50 1zm17 0zm73 0zm-64 1zm2 1zm24 0zm-37 1h1m28 0zm-2 1zm-55 1zm19 1zm4 0zm-20 1zm12 0zm3 0zm40 0zm15 0zm-50 1zm43 0zm39 0zm-81 1zm38 0zm5 1zm2 0zm40 0zm-77 1zm37 0zm-63 1zm34 0zm38 0zm36 1zm-71 2zm29 0zm6 0h1m-27 2zm3 0zm8 0zm43 0zm33 1zm-131 1zm35 0zm16 0zm4 0zm20 0zm-51 1zm-11 1zm10 0zm6 0zm51 0zm6 0zm6 0zm-60 1zm38 0zm-55 1zm13 0zm43 0zm-51 1zm7 0zm7 0zm4 0zm2 0zm8 0zm80 0zm-147 1zm10 0zm25 0zm45 0zm-65 1zm10 0h1m25 0zm9 0zm76 0zm-55 1zm5 0zm31 0zm-71 1zm35 0zm5 0zm5 0zm2 0zm-62 1zm12 0zm24 0zm18 0zm5 0zm-77 1zm31 0zm9 0zm22 0zm0 1zm37 0zm-86 1zm18 0zm23 0zm39 0zm-61 1zm17 0zm8 0zm8 0zm-15 1zm14 0zm5 0zm-64 1zm58 0zm15 0zm10 0zm5 0zm3 0zm4 0zm-25 1zm28 0zm-86 1zm7 1zm6 0zm24 0zm38 0zm3 0zm-71 1zm42 0zm30 0zm-59 2zm84 0zm-83 1zm-21 1zm13 0zm47 0zm32 0zm-42 1zm37 0zm-100 1zm5 0zm26 0zm41 0zm34 0zm21 0zm-127 1zm5 0zm1 2zm71 0zm15 0zm-76 1zm73 0zm9 0zm-96 1zm75 0zm-84 1zm60 0zm21 0zm41 0zm12 0zm-48 1zm-91 1zm28 0zm-4 1zm56 0zm11 0zm-8 1zm-61 1zm94 0zm-112 1zm88 0zm-19 1zm26 1zm13 0zm26 0zm-126 1zm76 0zm2 0h1m29 0zm10 0zm-54 1zm5 1zm33 0zm-24 1zm10 0zm15 0zm-111 1zm12 0zm80 0zm42 0zm-67 1zm25 0zm5 0zm41 0zm-47 2zm6 0h1m-16 1zm-89 1zm8 0zm79 0h1m2 0zm-83 1zm92 0zm17 0h1m-129 1zm20 0zm110 0zm-111 1zm80 1zm4 1zm17 0zm33 0zm-41 1zm9 0zm3 1zm15 1zm-132 1zm17 0zm90 0zm8 0zm-122 1zm11 0zm97 0zm6 0zm-21 1zm38 0zm-16 1zm-98 1zm77 0zm22 0zm-96 1zm114 0zm-41 1zm42 1zm-27 1zm49 0zm-61 1zm23 0zm29 0zm-57 1zm28 0zm4 0zm-24 1zm23 0zm-18 1zm42 0zm-125 1zm63 0zm22 1zm-112 1zm124 0zm-13 2zm14 0zm0 2zm17 1zm-29 1zm8 1zm-10 2zm44 0zm-143 1zm5 0zm88 0zm2 0h1m3 0zm-99 1zm92 0zm5 0zm8 0zm25 1zm12 0zm-17 1zm-9 1zm14 0zm-30 1zm2 0zm25 0zm1 1zm-22 1zm22 0zm-33 1zm36 0zm-11 1zm25 1zm-43 1zm30 0zm0 1zm-14 5zm17 0zm-24 2zm-115 2zm-6 1zm2 0zm4 0zm-5 1zm115 2zm10 1zm10 0zm-131 1zm112 0zm7 0zm-10 2zm18 0zm-11 3zm-120 2zm113 0zm-9 1zm14 2zm7 0zm-3 1zm-130 1zm136 2zm-8 3zm-7 1zm8 0zm5 1zm-17 1zm-108 1zm108 1zm-113 1zm113 0zm7 2h1m10 1zm-23 4zm-3 2zm10 1zm-115 2zm100 0zm-7 1zm-91 5zm88 1zm8 0h1m-20 5zm13 0zm-91 2zm83 0zm-1 2z"/>
<path stroke="#cdcee8" d="M184 35zm-4 2zm24 0zm20 0zm-94 1zm15 0zm36 0zm16 0zm2 0zm-27 1zm4 0zm-4 1zm42 0zm12 1zm-59 1zm9 0zm49 0zm-71 1zm34 0zm2 0zm30 1zm-87 1zm-4 1zm55 0zm33 0zm-107 1zm106 0zm-69 1zm47 0h2m10 0zm-41 1zm25 0zm5 0zm12 0zm-46 1zm16 0zm-14 1zm22 0zm-45 1h1m9 0zm8 0zm7 0zm53 0zm-91 1zm23 0zm17 0zm-11 1zm17 0zm18 0zm-11 1zm6 0zm-28 1zm22 0zm10 0zm2 0zm-22 1zm7 0zm15 0zm-63 1zm37 0zm11 0zm12 0zm6 0zm29 0zm13 0zm-79 1zm62 0zm-65 1zm41 0zm37 0zm-96 1zm-14 1zm-18 1zm54 0zm25 0h1m41 0zm-67 1zm75 0zm-45 1zm3 0zm5 0zm-31 1zm13 0zm7 0zm63 0zm-108 1zm38 0zm2 0zm6 1zm55 0zm-110 1zm12 0h1m26 0zm20 0zm-70 1zm38 0h2m8 0zm36 0zm13 0zm-97 1h1m17 0zm30 0zm27 0zm32 1zm-118 1zm37 0zm84 0zm10 0zm-117 1zm44 0zm7 0zm32 0zm6 0zm4 0zm-68 1zm46 0zm3 0h1m5 0zm39 0zm-67 1zm-49 1zm50 0zm14 0zm25 0zm-35 1zm2 0zm9 0zm5 0zm-38 1zm17 0zm12 0zm-34 1zm67 0zm5 0zm-119 1zm30 0zm54 0zm-72 1h1m65 1zm-62 1zm21 0zm40 0zm2 0zm26 0zm-88 1zm86 1zm4 0zm-19 1zm44 0zm-115 1zm68 0zm25 0zm-87 1zm3 0zm-20 1zm14 0zm44 0zm0 1zm61 0zm-42 1zm7 0zm4 0zm-71 1zm59 0zm31 0zm-107 1zm17 0zm56 0zm14 0zm3 0zm-7 1zm-72 1zm67 0zm33 0zm19 0zm-60 1zm16 0zm-12 1zm33 0zm-110 1zm17 0zm5 0zm56 0zm-61 1zm2 0zm73 0zm9 0zm13 0zm-108 1zm3 0zm99 0zm6 0zm-100 1zm71 0zm24 0zm-106 1zm76 0zm30 0zm-117 1zm12 0zm12 0zm66 0zm3 0zm-77 2zm-15 1zm3 0zm93 1zm-73 1zm89 0zm-118 1zm17 0zm104 0zm-24 1zm57 0zm-49 1zm28 0zm-44 1zm36 0zm2 1zm-126 1zm110 0zm8 0zm18 0zm16 0zm-133 2zm5 0zm117 0zm-133 1zm83 0zm3 2zm-78 1zm79 0zm-90 1zm14 0zm100 2zm-32 1zm-77 1zm114 0zm17 0zm-127 1zm2 2zm105 0zm-26 1zm9 1zm-103 1zm94 0h1m7 0zm12 0zm-105 1zm89 0h1m2 0zm13 0zm43 0zm-147 1zm-4 1zm104 0zm6 0zm-13 2zm-13 1zm6 0zm11 0zm38 0zm-137 1zm90 0zm24 0zm20 0zm-135 2zm121 0zm-125 1h1m3 0zm89 0zm-94 1zm94 0zm45 0zm-133 1zm-8 3zm109 0zm13 1zm-123 2zm5 0zm105 0zm11 0zm13 0zm-140 1zm117 0zm14 0zm-122 2zm122 0zm-23 1zm-112 1zm109 0zm3 1zm-101 2zm104 0zm-2 3zm-103 2zm-1 1zm117 0h1m15 0zm-25 1zm-1 1zm3 0zm-3 2zm3 1zm33 1zm-150 1zm4 0zm120 0zm2 0zm-126 1zm2 1zm131 0zm-133 1zm121 0zm4 0zm-125 1zm120 0zm3 0zm-3 3zm-9 1zm6 0zm2 2zm-117 3zm114 2zm-9 1zm0 1zm-3 2h1m13 1zm-12 2zm0 1zm-103 1zm100 2zm0 1zm-7 2zm2 0zm-105 3h1m103 1zm-96 1zm94 0h1m7 1zm-7 1zm-6 3zm-5 2zm-7 1zm-78 4zm75 2zm-12 4z"/>
<path stroke="#ebcd04" d="M140 139h1m-2 1zm2 0zm5 0zm2 0zm-9 1zm5 0zm3 0zm-18 1zm-3 1zm17 0zm3 0zm-19 1zm17 0h2m-14 1zm0 1zm6 0zm5 0zm-27 1zm17 0zm4 0zm2 0zm3 0zm2 0zm2 0zm-30 1zm16 0zm3 0zm-19 1zm6 0h2m6 0zm2 0zm5 0zm4 0zm3 0zm3 0zm2 0zm-30 1h1m4 0h3m6 0zm12 0h3m2 0zm-33 1zm12 0h1m21 0zm-21 1zm-17 1h3m35 0zm-39 1zm2 0h2m35 0zm3 0zm2 0zm-46 1zm40 0zm4 0zm3 0h1m0 1h1m-47 1zm45 0zm-49 1zm2 0zm2 0zm47 0h2m-53 1zm2 0zm49 0h3m-54 1zm49 0h1m4 0h1m-56 1zm50 0h1m-52 1zm53 0zm3 0zm-57 1zm54 0zm4 1zm-3 1h1m3 0zm-60 1zm56 0zm5 0zm-63 2zm0 1zm65 0zm-66 1zm62 0zm2 0zm2 0zm-66 1zm62 0zm-62 1zm62 0h2m2 0h2m-68 1zm64 0zm3 0h3m-6 1zm5 0zm8 0h1m-14 1zm13 0zm-77 2zm63 0h1m-64 1zm63 0h1m4 0zm-4 1zm4 1h2m-6 1h1m-65 1zm65 0h1m-3 2zm-1 2zm0 1zm1 1zm-2 2h1m-2 1zm0 1zm2 0h1m-61 1zm59 0h1m-60 1zm59 0zm-58 1zm0 1zm53 0h2m2 0zm-57 1h1m52 0zm-54 1h2m50 0zm2 0zm-53 1h2m46 0zm4 0zm-53 1zm3 0zm46 1zm-46 1zm46 0zm2 0h1m-49 1h1m36 0zm4 0h1m2 0zm-43 1h1m38 0zm4 0zm-42 1zm10 0zm29 0zm3 0h1m-43 1h1m9 0zm25 0zm4 0zm-37 1zm3 0zm29 0zm3 0h1m-36 1zm8 0h1m6 0zm14 0h1m7 0h2m-39 1zm2 0h7m3 0h1m11 0h4m10 0h1m-39 1zm9 0zm3 0h1m6 0zm2 0h3m4 0zm-27 1zm6 0zm2 0h3m3 0zm5 0h5m-24 1h5m3 0h2m5 0h1m3 0zm2 0zm3 0h1m-33 1zm15 0h2m15 0h1m-26 1h2m5 0zm2 0h1m-9 1h1m3 0h1m8 0h1m-10 1zm9 0zm4 0zm-5 1z"/>
<path stroke="#ebb901" d="M140 140zm5 1h1m-2 1zm2 0zm-2 1h1m-19 1zm17 3zm-10 1h1m3 0zm2 0zm3 0h1m-12 1zm2 0h3m2 0h2m3 0zm-22 1h2m7 0zm2 0zm2 0zm3 0h2m5 0zm5 0zm-31 1h2m5 0h1m2 0zm3 0zm2 0h1m3 0zm7 0h6m-33 1zm3 0h1m5 0zm3 0zm2 0zm3 0zm2 0h1m7 0h1m3 0h3m-34 1zm4 0h1m7 0h1m4 0zm2 0zm12 0h2m-37 1zm4 0zm4 0h2m14 0zm12 0h1m5 0zm-42 1h3m2 0zm25 0zm6 0zm2 0zm2 0zm2 0h1m-43 1zm37 0h1m2 0h2m2 0zm-4 1h3m-47 1zm45 0h4m-49 1zm2 0zm44 0h3m-49 1zm46 0h1m-48 1zm48 0zm2 1zm2 0h1m-55 1zm52 0zm2 0zm2 0zm-3 1h1m2 0zm-57 1zm54 0zm3 0h1m-1 1zm2 0zm-60 1zm56 0h6m-63 1zm58 0h2m3 0zm-4 1h4m-4 1zm4 0zm0 1h1m-65 1zm0 1zm60 0h2m-62 1zm60 0zm2 0zm-62 1zm77 0zm-77 1zm62 0zm-1 1zm0 1zm-61 1zm62 0zm-62 1zm62 0zm0 1zm0 1zm-63 1zm63 0zm-63 1zm62 1zm-62 1zm0 1zm61 0zm-61 1zm0 1zm61 0zm2 0zm-62 1zm57 0h2m-1 1zm-57 1zm57 0zm1 1zm-57 1zm55 0h2m-4 1h2m2 0zm-56 1zm51 0zm4 0zm-57 1zm3 0zm49 0h1m-50 1zm47 0h1m2 0zm-53 1zm4 0h1m43 0zm-44 1h2m-3 1h1m38 0h1m-39 1h1m35 0zm3 0h1m-39 1zm4 0zm34 0zm6 0zm-43 1zm34 0h2m7 0zm-43 1zm4 0h1m3 0zm19 0zm2 0h1m4 0h2m-35 1zm3 0h1m3 0zm2 0zm14 0zm5 0h1m2 0h1m3 0h1m-34 1zm2 0zm3 0h4m2 0h3m7 0zm5 0h3m-30 1zm3 0h1m2 0zm3 0h4m2 0zm8 0zm2 0h2m-27 1zm9 0h1m3 0h2m2 0h5m-21 1h1m7 0h1m3 0h2m2 0zm2 0zm-18 1h1m10 0h1m2 0h1m-10 1zm14 0zm-15 1h1m-1 1z"/>
<path stroke="#c9c9e7" d="M119 35zm34 0zm66 0zm8 0zm-68 1zm2 0zm23 0zm16 0zm-70 1zm30 0zm18 0zm-16 1zm12 0zm40 1zm-70 2zm21 0zm37 0zm-36 1zm-60 1zm44 0zm19 0zm-53 1zm52 0h1m30 0zm-49 2zm35 0zm39 0zm-50 1zm-48 1zm24 0zm12 0zm18 0zm17 0zm-24 1zm15 0zm-41 1zm4 1zm7 0h1m3 0zm-35 1zm24 0zm7 1zm15 0zm16 0zm-37 1zm15 0zm11 0zm3 0zm-65 1zm8 0zm2 0zm56 0zm3 0zm14 0zm2 0zm-87 1zm11 0zm60 0zm12 0zm-82 1zm39 0zm22 0zm21 0zm11 0zm-16 1zm-45 1zm33 0zm18 0zm8 0zm-92 1zm59 0zm26 0zm-84 1zm31 0zm35 0zm3 0zm-60 1zm40 0zm31 0zm59 0zm-92 1zm23 1zm-43 1zm11 0zm11 0zm13 0zm17 0zm-5 1zm-33 1zm39 0zm13 0zm-104 1zm45 0zm67 0zm-112 1zm13 0zm15 1zm42 0zm12 0zm33 0zm-81 1zm59 0zm-71 1zm3 0zm35 0zm27 0zm16 0zm-78 1zm29 0zm15 0zm45 0zm6 0zm-115 1zm110 0zm-99 1zm25 0zm5 0zm20 0zm23 0zm-60 1zm15 0zm51 0zm-68 1zm5 0zm4 0zm6 0zm-16 1zm2 0zm-24 1zm52 0zm22 0zm7 0zm2 0zm-83 1zm26 0zm57 0zm-59 1zm3 0zm19 0zm73 0zm-98 1zm4 0zm10 0zm9 0zm-28 1zm37 1zm26 0zm20 0zm-22 1zm22 0zm-101 1zm91 0zm-81 1zm10 0zm75 0zm0 1zm-45 1zm91 0zm-136 1zm17 0zm68 0zm51 0zm-136 1zm88 0zm-10 1zm10 0zm-13 1zm-78 1h1m26 0zm43 0zm9 0zm8 0zm3 0zm12 0zm-87 1zm68 0zm-60 1zm48 0zm7 0zm45 0zm13 0zm-114 1zm3 0zm61 0zm15 0zm13 1zm17 0zm-53 1zm8 0h1m41 0h1m-6 1zm16 0zm-68 1zm26 0zm-90 1zm70 0zm35 0zm-117 1zm20 0zm2 0zm55 0zm4 0zm11 0zm-82 1zm2 0zm3 0zm95 1zm-109 2zm12 1zm2 0zm101 0zm-96 1zm102 0zm11 0zm-120 1zm99 0zm-100 1h1m83 0zm-76 1zm95 2zm23 0zm0 1zm3 0zm-135 1zm85 0zm11 0zm-110 1zm23 0zm107 0zm-31 1zm17 0zm-98 1zm91 0zm2 0zm-92 1zm93 1zm-89 1zm124 0zm14 0zm-147 1zm131 0zm-147 1h1m15 0zm86 0zm15 0zm-20 1zm-89 1zm89 0zm3 0zm3 0zm20 0zm7 0zm-14 1zm-13 1zm30 0zm-48 1zm-80 1h1m104 2zm-106 1zm12 0h1m86 0zm59 0zm-56 1zm0 1zm0 1h1m5 0zm-6 1zm-5 1zm49 0zm-47 1zm6 1zm54 0zm-146 1zm-3 1zm97 0zm5 1zm-106 3zm98 0zm27 1zm-123 1zm103 0zm-4 1zm11 0zm6 2zm4 0zm-125 1zm2 0zm100 0zm2 0zm-3 1zm-4 1zm2 1zm19 0zm22 0zm-25 2zm-4 1zm-113 3zm107 0zm9 2zm-8 2zm22 1zm-141 2zm112 1zm39 1zm-148 3zm129 2zm-4 2zm-131 1zm119 0zm5 0zm3 0zm7 0h1m-10 1zm-4 1zm15 0zm-18 2zm4 1zm-2 3zm-6 1zm2 0zm3 2zm13 0zm-14 4zm-7 3zm1 2zm-10 1h1m5 4zm-8 2zm14 0zm-12 1zm2 0zm-1 1zm-7 2h1m-7 3zm-84 4zm67 4zm-63 2zm1 1z"/>
<path stroke="#c4c4e6" d="M121 35zm61 0zm3 0zm-35 2zm11 0zm-4 1zm65 0zm-48 1zm-28 1zm32 2zm-43 2zm32 0zm25 0zm-52 1zm11 1zm16 0zm55 0zm-49 1zm2 0zm3 0zm-27 1zm21 0zm21 0zm14 0zm16 0zm-74 1zm31 0zm-2 1zm7 0zm16 1zm-33 1zm-37 1zm4 0zm59 0zm-65 1zm40 0zm-5 1zm5 0zm8 0zm21 0zm-54 1zm22 0zm58 1zm-50 1zm-26 1zm71 0zm22 0zm-72 1zm18 0zm36 0zm17 0zm-67 1zm26 0zm-50 1zm3 0h1m18 0zm-5 1zm24 0zm-24 1zm27 0zm5 0zm-25 1zm48 0zm-79 1zm5 0zm24 0zm10 0zm22 0zm47 0zm-99 1h1m3 0zm29 0zm-30 1zm30 0zm7 0zm21 1zm-85 1h1m14 0zm34 0zm51 0zm0 1zm-72 1zm8 0zm8 0zm48 0zm12 0zm-109 1zm2 0zm17 0zm4 0zm12 0zm48 0zm5 0zm7 0zm10 0zm-60 1zm77 1zm-53 1zm7 0zm-70 1zm27 0zm16 0zm8 0zm-73 1zm27 0zm9 0zm14 0zm53 0zm47 0zm-138 1zm7 0zm2 0zm69 0zm-62 2zm13 0zm58 0zm-14 1zm-5 1zm-62 1zm2 0zm0 1zm99 0zm11 0zm2 0h1m-100 1h1m42 0zm3 0zm-79 1zm30 0zm62 0zm-81 1zm18 0zm58 0zm4 0zm23 0zm-28 1zm0 2zm-78 1h1m72 0zm13 0zm-6 1zm9 0zm-21 1h1m19 1zm-79 1zm69 0zm31 0zm7 0zm-99 1h1m43 0zm13 0zm3 0zm4 0zm29 0zm-40 1zm29 0zm38 0zm-73 1zm-65 1zm101 0zm4 0zm-93 1zm64 0zm6 0zm52 0zm-134 1zm6 0zm8 0zm62 0zm23 0zm18 0zm6 0zm13 0zm4 0zm-151 1zm13 0zm98 0zm-24 1zm0 1zm2 0zm16 0zm-14 1zm56 0zm-154 1zm1 1h1m6 0h1m-7 1zm96 0zm26 1zm-97 1zm66 0zm27 1zm16 0zm19 0zm-5 2zm-10 1zm-8 1zm17 0zm-137 1zm4 0zm8 0zm70 0zm49 0zm-17 1zm-104 1zm102 0zm-107 1zm14 0zm93 0zm-116 1zm11 1zm73 0zm19 2zm11 1zm8 0zm-115 1zm116 0h1m-37 1zm13 0zm1 1zm5 1zm-112 3zm105 0zm-97 2zm93 0zm3 0zm3 1zm10 0zm16 0zm-16 1zm-15 2zm5 0h1m-13 2zm7 0zm0 1zm-106 1zm127 0zm-26 2zm5 0zm43 1zm-40 1zm23 0zm-15 2zm5 0zm-5 1zm-8 2zm25 0zm-128 1zm4 0zm107 0zm-15 1zm10 0zm-9 1zm3 0zm11 0zm8 2zm15 0zm-23 1zm4 0zm-11 2zm-116 1zm113 1zm-108 1zm6 0zm-12 6zm122 0zm-118 2zm4 0zm131 0zm-29 2zm27 0zm-16 2zm8 1zm-120 1zm114 0zm0 2zm19 0zm-23 1zm6 0zm-9 1zm6 0zm-4 1zm-113 3zm108 9zm-106 5zm98 3h1m-105 1zm103 0zm-2 1zm-2 1zm-94 1zm93 1zm0 1zm-93 2zm83 2h1m3 1zm0 2zm-88 2zm66 3z"/>
<path stroke="#c6db16" d="M151 118h2m-7 1h1m10 1zm1 1zm-21 6h2m7 1zm14 0h1m-14 1zm-8 1zm8 2h2m-16 1zm10 0zm3 0h2m7 0zm2 0zm-24 1h1m5 0zm3 0zm6 0zm7 0zm-22 1zm4 0zm3 0h2m10 0h1m-16 1h1m2 0h2m6 0zm-20 1h1m10 0h1m3 0zm-14 1zm3 0h3m2 0zm9 0zm5 0zm-24 1zm6 0h1m2 0h1m14 0h1m2 0h2m-26 1zm5 0zm18 0zm2 0zm4 0zm-37 1zm33 0zm-32 1zm2 0zm7 0zm4 0h1m12 0zm6 0zm2 0zm7 0zm-33 1h1m5 0h1m2 0h1m9 0zm4 0h1m3 0zm2 0h1m3 0zm-26 1zm3 0zm8 0zm4 0h3m4 0zm3 0zm-41 1zm2 0zm10 0zm6 0zm13 0zm9 0zm-47 1h1m6 0zm2 0h1m15 0zm13 0zm8 0h1m-44 1h1m29 0h1m5 0h1m2 0h1m4 0zm3 0zm5 0zm2 0zm-54 1zm38 0zm8 0h1m7 0zm-15 1h3m2 0zm3 0zm-54 1zm43 0h1m8 0h1m-53 1h1m42 0zm8 0zm6 0h1m2 0zm-59 1zm41 0zm4 0h1m3 0h1m-53 1zm53 0h1m-54 1zm54 0h1m-1 1zm2 0zm3 0zm6 0zm2 0zm-69 1zm56 0zm2 0zm-59 1zm57 0h1m6 0h2m3 0zm-9 1zm5 0zm5 0zm-72 1zm62 0h1m3 0h1m4 0h1m-9 1h2m2 1h2m1 1zm-73 1zm71 0h3m6 0zm-80 1zm73 0h1m-73 1zm68 0h1m-69 1zm68 0h1m-2 1h1m4 0zm3 0h3m-11 1zm3 0zm6 0zm-77 1zm69 0h2m8 0zm-80 1zm75 0zm4 0zm3 0zm-9 1zm3 0zm2 0zm-79 1zm74 0zm-73 1zm73 0zm4 0h2m-79 1zm76 0zm4 0zm-4 1zm-77 1zm68 0zm4 0zm4 0h2m-78 1zm72 0zm4 0h4m-80 1zm78 0zm-78 1zm1 1zm74 0h1m-75 1zm73 0zm-74 2zm78 0zm-5 1h1m-1 1zm-73 1zm70 0zm2 0h1m-73 1zm69 0h1m3 0h2m-75 1zm71 0zm-71 1zm69 0zm3 0zm-71 1zm66 0h2m9 0zm-11 1h2m3 1zm-3 1zm5 0zm-5 1h4m-6 1zm2 0zm2 0zm2 0zm-72 1zm68 0h3m-71 1zm61 0zm2 0h5m2 0h2m-70 1zm59 0zm4 0h3m-66 1zm57 0h3m2 0h3m-66 1zm64 0zm2 0zm-67 1h1m64 0zm-6 1zm6 0zm-10 1h1m3 0h4m3 0h2m-69 1zm56 0zm3 0h6m-66 1zm4 0zm54 0zm8 0h1m-66 1h5m51 0h2m7 0h1m-62 1h1m51 0zm-49 1h1m44 0h1m-46 1zm39 0zm11 0zm-56 1zm40 0zm6 0zm4 0zm4 0zm-53 1zm4 0zm2 0h2m-4 1zm3 0zm14 1zm20 0zm4 0zm-40 1h1m15 0zm6 0zm5 0h1m4 0zm7 0zm4 0zm-18 1zm4 0zm3 0zm4 0zm-39 1zm6 0h1m22 0h3m2 0zm3 0h1m-37 1zm4 0h5m20 0zm3 0zm7 0h2m-38 1h2m2 0zm3 0zm5 0zm11 0h1m5 0zm9 0zm-32 1zm5 0zm5 0zm4 0zm8 0zm-32 1zm11 0zm3 0zm7 0zm2 0zm-16 1h2m3 0zm9 0zm-6 1zm-2 1zm0 1z"/>
<path stroke="#bfc0e5" d="M162 35zm0 1zm23 0zm-8 1zm-5 1zm26 0zm7 0zm-28 1h1m-11 1zm9 0zm-41 1zm68 0zm-88 1zm2 0zm0 1zm15 0zm38 0h1m-24 1zm-15 1zm53 0zm-19 2zm57 0zm-57 1zm-14 1zm9 0zm39 0zm-52 1zm3 0zm-24 1zm16 0zm17 0zm6 1zm11 1h1m-50 1zm46 0zm6 0zm21 0zm-41 1zm2 0zm92 0zm-91 1zm-35 1zm2 0zm14 0zm44 0zm10 0zm40 1zm-83 1zm11 0zm3 0zm42 0zm15 0zm-16 1zm15 0zm16 0zm-80 2zm29 0zm36 0zm15 0zm15 0zm-122 1zm21 0zm13 0zm4 0zm5 0zm4 0zm52 1zm2 0h1m-86 3zm42 0zm-87 1zm13 0zm63 0zm-38 2zm39 0zm-29 1zm-25 1zm4 0zm47 0zm62 0zm-115 1zm6 0zm79 0zm-86 1zm6 0zm90 0zm-111 1zm29 0zm21 0zm34 0zm-73 1zm8 0zm5 0h1m6 0zm4 0zm14 0zm22 0zm7 0zm-80 1zm26 0zm39 0zm5 0zm12 0zm-44 1zm94 0zm-9 2zm-100 1zm9 1zm10 0zm4 0zm23 0zm8 0zm71 0zm-107 1zm3 0zm10 0zm92 0zm-106 1zm4 0zm41 1zm-57 1zm83 0zm-22 1zm-64 1zm66 0zm-73 1zm10 0zm61 1zm30 0zm-98 3zm2 0zm1 1zm77 0zm-91 1zm3 0zm10 0zm79 0zm-90 1zm65 0zm11 1zm23 0zm16 0zm-125 1zm73 0zm29 0zm16 1zm23 0zm-34 2zm-103 1zm-2 1zm97 0zm-92 1zm74 0zm23 0zm-33 1zm47 0zm-21 1zm-111 1h1m122 0zm-102 1zm2 1zm71 0zm7 0zm17 0zm-18 1zm12 0zm-101 4zm78 0zm50 0zm-43 1zm1 1zm-72 1zm77 0zm-89 1zm7 0zm66 1zm41 2zm-121 1zm127 0zm-108 1zm86 0zm34 0zm-34 1zm-92 1zm96 0zm-32 2zm14 0zm47 1zm-129 2zm92 1zm13 0zm-24 2zm22 0zm-20 1zm3 0zm-8 1zm18 1zm-7 1zm9 0zm-99 2zm91 0zm42 0zm-15 2zm-134 1zm113 0zm33 0h1m-48 1zm54 1zm-144 1zm99 0zm-97 1zm89 0zm2 0h1m-91 1zm100 1zm14 0zm-122 1zm6 0zm96 0zm20 0zm-11 1zm-118 1zm133 0zm4 0zm-15 2zm-113 4zm105 1zm1 2zm-110 1zm112 1zm-9 1zm16 0zm-8 1zm3 1zm0 1zm4 1zm-8 2zm7 0zm-119 3zm118 1zm-121 1zm128 0zm-124 1zm0 3zm111 0zm2 1zm-10 3zm-9 8zm7 0zm7 2zm-18 7zm10 0zm-15 3zm10 1zm4 0zm-12 2zm-92 1zm100 2zm-7 2zm-10 2zm11 0zm-14 4zm-21 8z"/>
<path stroke="#babbe5" d="M146 38zm30 0zm-30 1zm14 1zm5 0zm12 0zm-23 2zm27 1zm11 0zm-59 1zm37 0zm-2 1zm31 0zm-69 1zm7 0zm39 0zm63 0zm-130 1zm83 0zm25 0zm-27 1zm-64 1zm25 0zm2 0zm-21 1zm20 0zm8 0zm40 0zm18 0zm1 1zm-34 1zm4 0zm38 0zm-62 1zm-33 1zm52 0zm4 0zm-7 1zm-51 1zm30 0zm5 0zm-12 1zm-39 1zm5 0h1m8 0zm20 0zm19 0h1m-6 1zm10 0zm20 0zm-45 2zm18 0zm13 1zm16 0zm4 0zm54 0zm-146 1zm61 0zm3 0zm-19 1zm18 0zm12 0zm-34 1zm12 0zm63 0zm-105 1zm51 0zm25 0zm-74 1zm23 0zm52 0zm-25 1zm3 0zm22 0h1m16 0zm-25 1zm-31 2zm8 0zm20 0zm-59 1zm30 0zm3 0zm37 0zm42 0zm-8 1zm-52 1zm21 0h1m-100 1zm13 0zm4 0zm81 0zm24 0zm-104 1zm79 0zm-66 1zm50 1zm8 0zm-72 2zm27 0zm46 0zm29 0zm-100 1zm23 0zm-4 1zm54 0zm-53 3zm7 0zm69 0zm-33 1zm33 0zm36 0zm-145 1zm-11 1zm96 0zm-50 2zm-48 1zm51 0zm44 0zm-41 1zm53 1zm-8 1zm-68 1zm107 0zm-28 1zm-8 1zm-64 1zm46 0zm19 0zm-10 1h1m42 0zm-106 1zm57 0h1m9 0zm24 0zm5 0zm-18 2zm26 0zm-44 1zm44 0zm-21 1zm-92 1zm91 1zm-84 1zm3 0zm62 0zm4 0zm-62 1zm-8 2zm96 0zm23 0zm-117 1zm87 0zm30 0zm-47 1zm14 0zm-81 1zm64 0zm3 0zm33 0h1m-31 1zm4 0zm9 0zm3 0zm6 1zm-17 1zm11 1zm-99 1zm83 1zm-3 1h1m5 0zm-7 1zm25 1h1m-20 1zm-81 1zm104 0zm-2 1zm10 0zm15 0zm-129 1zm2 1zm112 0zm-111 1zm119 0zm7 0zm-62 1zm19 0zm0 1zm2 1zm13 0zm-24 1h1m5 1zm-85 1zm98 0h1m-16 1zm0 1zm22 0zm-23 3zm-82 1zm93 0zm23 0zm-5 1zm-113 1zm98 0zm-9 1zm-2 1zm24 2zm-23 1zm-1 1zm29 0zm-125 1zm4 0zm129 0zm2 0zm3 0zm-4 1zm-133 1zm97 0h1m0 1zm24 0zm-26 3zm0 1zm-98 1zm1 2zm108 3zm-109 2zm106 0zm-108 2zm107 0zm1 5zm-1 1zm22 0zm-21 1zm3 2zm-5 1zm4 1zm8 0zm-14 2zm1 3zm-2 1zm0 5zm-2 2zm2 2zm-7 5zm7 2zm-106 1zm94 0zm2 1zm6 1zm4 3zm-15 1zm-1 1zm6 1zm-17 4zm1 2zm-78 3zm61 2zm2 1z"/>
<path stroke="#b4b5e4" d="M149 36zm2 0zm17 2zm-9 1zm-25 3h1m40 0zm-38 3zm8 0zm77 0zm-38 2zm0 1zm5 0zm-21 3zm48 1zm-65 1zm29 0zm-29 1zm41 0h1m-26 1zm0 1zm14 0zm-18 1zm12 0zm-60 1zm43 0zm7 0zm20 0zm41 0zm-63 2zm46 0zm-95 1zm38 0zm71 0zm-109 1zm78 0zm0 1zm-24 1zm16 0zm-18 1zm14 0h1m12 0zm-44 1zm2 0zm29 0zm5 0zm11 0zm-23 1zm3 0zm-17 1zm-32 1zm41 0h1m26 1zm-20 1zm44 0zm-89 1zm21 0zm11 0zm30 1zm28 0zm-109 1zm30 0zm32 0zm32 0h1m4 0zm10 0zm-123 1zm117 0zm-75 1zm-32 1zm35 0zm14 0zm10 0zm20 0zm11 0zm-38 1zm17 0zm34 0zm-93 1zm37 0zm30 0zm11 0zm-64 1zm5 0zm16 0h1m13 0zm24 0zm-71 1zm52 0zm8 0zm-72 1zm28 0zm2 0zm118 0zm-132 1zm11 0zm9 0h1m54 3zm26 0h1m11 0zm-7 1zm-93 1zm85 0zm-97 1zm47 0zm4 0zm75 0zm-125 1zm59 0zm10 0zm-24 1zm14 0zm46 0h1m-111 1zm-7 1zm77 0zm3 0zm-5 1zm-1 2zm10 0zm-13 1zm8 0zm29 0zm15 0zm-36 2zm-72 1zm80 0zm-85 1zm57 0zm45 0zm10 1zm-121 1zm73 0zm6 1h1m-74 2zm12 1zm61 0h1m4 2h1m24 0zm13 2zm-47 1zm4 0zm3 0zm-5 1zm5 0zm56 0zm-134 1zm76 0zm10 0zm4 0zm9 0zm-103 1zm6 0zm-3 1zm-11 1zm14 0zm76 0zm-3 1zm27 0zm-102 2zm66 0zm4 0zm-88 1zm16 0zm80 0zm-8 1zm-80 3zm94 0zm25 0zm-38 1zm3 2zm16 0zm-17 1zm-1 1zm17 0zm-102 2zm91 0zm-92 1zm92 1zm4 1zm5 0zm-2 1zm5 0zm-19 1zm52 0zm-53 1zm11 1zm3 0zm-7 1zm5 1zm-8 1zm18 1zm37 0zm-43 1zm12 0zm-110 1zm0 1zm85 0zm-89 3zm131 0zm-37 1zm4 0zm-102 2zm102 1zm10 0zm-120 1zm122 0zm-112 1zm139 0zm-31 2zm-3 2zm-106 1zm100 1zm-103 1zm-6 1zm103 3zm18 0zm15 2h1m-12 1zm-14 1h1m-5 2zm-103 1zm116 0zm14 0zm-10 3zm-9 2zm2 2zm1 2zm-4 1zm-4 1zm13 0zm-8 2zm-7 5zm6 0zm-10 2zm10 0zm-10 3zm2 0zm-8 3zm6 0zm-9 1zm6 0zm11 0zm-16 2zm3 0zm-3 1zm6 1zm-2 2zm-98 2zm89 0zm-6 2zm10 0zm-92 1zm76 3zm-12 4zm-59 5zm53 0zm-64 1z"/>
<path stroke="#adaee3" d="M198 35zm-19 2zm43 0zm-63 1zm60 0zm5 0zm-100 1zm49 0zm-39 2zm42 0zm-20 1zm21 0zm-21 1zm26 0zm-26 2zm2 0zm47 2zm-31 1zm5 0zm-13 1zm-26 2zm10 0zm78 1zm-57 1zm3 0zm7 0zm-16 1zm5 0zm-21 1zm12 0zm-6 1zm32 0zm2 0zm-18 1zm8 0zm-24 1zm21 0zm-17 1zm17 0zm8 0zm24 0zm-74 1h2m26 0zm18 0zm17 0zm14 0zm-50 1zm5 0zm29 0zm2 0zm28 0zm28 0zm-107 1zm2 0zm43 0zm-40 1zm3 0zm19 0zm5 0zm-16 1zm5 0zm-19 1zm14 0zm9 0zm62 0zm-117 1zm37 0zm5 0zm39 0zm-77 1zm50 0zm40 0zm-67 1zm7 0zm6 0zm2 0zm63 0zm-67 1zm4 0zm8 1zm4 0zm14 0zm-20 1zm6 0zm10 0zm-12 2zm13 0zm17 0zm9 0zm-84 1zm4 0zm7 0zm40 0zm40 0zm-84 1zm56 0zm-34 1zm30 0h1m3 0zm4 0zm7 0zm-30 2zm13 0zm15 0zm-64 1zm3 0zm8 0zm4 0zm35 0zm-62 1zm19 0zm9 0zm12 0zm33 0zm30 0zm8 0zm-79 1h1m18 0zm7 0zm13 0zm27 0zm-38 1zm-31 1zm-2 2zm22 0zm20 0zm49 0zm6 0zm-57 1h1m51 0zm-91 1zm38 0zm11 0zm41 0zm-138 1zm24 0zm11 0zm46 0zm70 0zm-125 1zm53 0zm4 0zm12 0zm2 0zm-62 1zm59 0zm-8 1zm42 0zm-96 1zm-16 1zm65 0zm-39 1zm40 0zm13 0zm2 0zm25 0zm-102 1zm11 0zm91 0zm-102 1zm64 0zm38 0zm-100 1zm13 0zm-9 1zm6 0zm2 0zm58 0zm-69 1zm61 0zm6 0zm7 0zm16 0zm-3 1zm-92 1zm4 0zm6 0zm59 0zm12 1zm-71 1zm70 0zm24 0zm27 0h1m3 0zm-140 1zm76 0zm21 0zm-83 1zm66 0zm56 0zm-65 1zm-76 1zm88 0zm-5 1zm3 0zm31 0zm-109 1zm11 1zm74 1zm18 0zm13 0zm-111 1zm99 0zm-100 1zm-5 3zm81 0zm2 1zm-80 1zm5 0zm59 1zm-55 2zm-4 1zm69 0zm3 0zm-8 1zm5 0zm48 0zm3 0zm-127 1zm4 0zm2 0zm82 0zm39 0zm-55 1zm54 1zm-47 1zm14 0zm-8 1zm9 0zm47 0zm-72 1zm22 0zm4 0zm-98 4zm0 1zm81 0zm17 0zm-12 2zm6 0zm-9 1zm10 0zm-15 1zm7 0zm-9 1zm10 0zm-7 1zm-82 2zm116 0zm-29 1zm46 1h1m-48 1zm2 0zm0 3zm3 0zm25 0zm-5 2zm0 1zm28 0zm-147 1zm100 0zm22 0zm-14 2zm3 3zm9 0zm-14 1zm-119 1zm116 6zm-2 1zm-3 2zm2 0zm9 3zm14 0zm-133 1zm117 0zm-10 1zm-103 1zm119 1zm-8 1zm4 0zm-8 2zm-108 5zm104 0zm1 4zm1 1zm16 0zm-127 1zm105 0zm-1 2zm3 0zm4 0zm-107 1zm102 3zm-3 3zm4 1zm-11 5zm4 0zm-1 1zm-7 2zm12 0zm-6 1zm-5 1zm-17 6zm1 1zm2 1zm-73 1zm65 0zm1 1zm7 0zm-73 2zm59 1h1m-55 2z"/>
<path stroke="#89c130" d="M155 107zm2 3zm3 6zm-9 1zm10 0zm-14 1zm7 0zm3 1zm-1 1zm-16 3zm5 1zm18 0zm-6 1zm4 0zm-21 2zm2 0zm3 0zm-4 1zm8 0zm10 1zm0 1zm-21 1zm6 0zm2 0zm22 0zm-25 1zm-2 1zm8 0zm-3 1zm-14 1zm17 0zm-14 1zm19 0zm-4 2zm-20 1zm19 1zm-24 1zm38 0zm-5 1zm2 0h1m-5 3zm10 0zm-12 1zm-42 1zm44 0zm-45 1zm52 1zm3 0zm-5 1zm11 0zm-11 1zm12 0zm-6 1zm0 1zm7 1zm-3 2h1m5 0zm-4 1zm-2 3zm5 2zm0 1zm-4 2h1m-1 1zm2 0zm6 0zm-79 1zm-1 2zm81 0zm-1 1zm3 0zm-2 5zm-2 3zm-80 4zm74 0zm1 1zm-76 3zm76 3zm3 6h1m-79 1zm74 0zm-73 2zm69 0zm-10 7zm7 0zm-68 1zm68 0zm-2 2zm-66 2zm2 1zm45 0zm2 0zm3 2zm-53 2zm4 0zm32 0zm13 0h2m-46 1zm44 1zm-37 2zm23 0zm-30 1zm2 0zm5 0zm13 0zm8 0zm15 0h1m-25 2zm10 0zm-19 1zm14 0zm3 0zm-24 1zm4 0zm13 0z"/>
<path stroke="#9dcc1a" d="M152 117zm-15 1zm9 0zm-9 1zm21 0zm1 1zm-2 1zm2 0zm-13 2zm0 1h1m15 0zm0 1zm-25 1h3m3 1h1m-6 1h1m3 0zm-4 1h1m4 0zm5 0zm13 0zm-23 1zm2 0zm3 0h1m16 0zm8 0h1m0 1zm-23 1zm4 0zm6 0h1m-23 1zm5 0h1m2 0zm-2 1h1m6 0zm-13 1zm9 0zm2 0h3m-20 1h1m4 0h1m2 0zm7 0h1m5 0h1m3 0zm2 0zm3 0zm-26 1h5m12 0zm6 0zm3 0zm-32 1h1m3 0h1m5 0zm13 0zm4 0h3m-30 1zm3 0zm20 0h1m7 0h2m-23 1h1m14 0h1m2 0zm3 0zm3 0zm-25 1zm2 0zm12 0zm4 0zm4 0zm-39 1h1m2 0zm29 0zm3 0h1m8 0zm-45 1zm34 0h2m6 0zm3 0zm-23 1h1m17 0zm4 0h1m2 0zm-25 1zm15 0h1m6 0zm-47 1zm41 0h5m10 0h1m-58 1zm50 0h1m2 0zm-9 1h1m4 0h1m3 0zm4 0zm-59 1zm53 0zm-54 1zm47 0zm2 0h1m6 0zm3 0zm-59 1zm47 0zm2 0h1m6 0zm4 0zm2 0zm-63 1zm59 0zm-2 1zm-58 1zm60 0zm-61 1zm57 0zm5 0zm-63 1zm58 0zm6 0zm4 0zm0 1zm-69 1zm67 0zm2 0zm-2 1zm2 0zm-71 1zm67 0zm2 0h4m-74 1zm72 0h2m-1 1zm-3 2h1m3 0h1m4 0zm-7 1zm3 0zm-4 1zm4 0h1m-7 1h2m2 0zm-74 1zm69 0h1m4 0zm2 0zm-2 1h1m-77 1zm74 0h1m7 0zm-82 1zm76 0zm1 1h1m-3 1h2m-3 1zm8 0zm-82 1zm74 0zm2 0zm5 1zm3 1h1m-6 1zm-1 1zm-1 1h1m-3 1zm3 0zm-5 1zm5 0zm-5 1zm6 0zm-80 1zm76 0zm-76 1zm77 0zm-7 1zm7 0zm0 1zm-6 1zm3 0zm2 0zm-4 1zm5 0h1m-5 1h1m3 0zm-75 1zm69 0zm2 0zm2 0zm3 0h1m-77 1zm69 0zm5 0zm-75 1zm70 0h1m-71 1zm0 1zm68 0zm4 0zm-5 1h1m-5 1zm7 0zm-7 1zm2 0zm6 0zm-7 1zm5 0zm-6 1zm2 0zm-5 1zm2 0h1m6 0zm-69 1zm61 0h3m6 0zm-71 1zm66 0h1m4 0zm-71 1zm67 0h2m-70 1zm2 0zm56 0zm3 0zm2 0zm3 0zm0 1zm-62 1h1m54 0zm7 0h2m-64 1h1m54 0zm-56 1zm51 0zm2 0zm-54 1zm45 0h1m11 0zm-58 1zm46 0zm2 0zm4 0zm5 0zm-54 1zm5 0h1m37 0h2m3 0zm-48 1zm5 0h1m36 0h1m3 0zm-46 1zm41 0zm8 0zm3 0zm-21 1zm2 0zm9 0zm-5 1h1m-34 1h2m27 0h1m7 0zm-38 1zm6 0zm11 0zm7 0h1m3 0zm3 0zm8 0h1m2 0zm-42 1zm3 0h1m2 0zm9 0zm2 0h1m6 0zm2 0h1m5 0zm-23 1zm6 0h2m2 0zm-22 1h2m10 0h1m2 0zm2 0zm2 0zm3 0zm2 0zm5 0zm-19 1h1m7 0zm7 0h4m-13 1h1m9 0zm3 0zm-24 1h1m4 0zm4 0zm2 0zm2 0zm2 0zm9 0z"/>
<path stroke="#6cba21" d="M156 107zm-1 1zm3 2zm-7 1zm4 3zm-8 1h1m13 1zm-24 1zm16 0zm7 0zm1 1zm-16 1zm14 0h1m-23 1h1m22 0zm-4 1zm-16 1h1m5 0zm10 0h1m-18 1zm2 0zm6 0zm9 1h1m-20 1zm2 0h1m12 0zm6 0zm5 0zm-6 1h1m3 0zm-20 1zm20 0zm-21 1zm7 0h1m-15 1zm4 0zm5 0zm7 0zm-16 1zm4 0zm4 0zm4 0h1m-21 1zm14 0h2m2 0zm6 0zm-24 1h2m6 0zm4 0h2m5 0zm11 0zm3 0zm-34 1zm14 0zm7 0zm13 0zm-26 1zm5 0zm7 0h1m4 0zm2 0h1m2 0zm3 0h3m-25 1h1m8 0zm6 0h1m3 0h2m2 0h1m-27 1zm19 0h1m10 0h1m-36 1zm3 0zm20 0h1m3 0zm2 0zm5 0zm-36 1zm27 0zm5 0h1m-33 1zm35 0h1m-43 1zm4 0h1m2 0zm25 0zm8 0zm3 0h2m-42 1zm2 0zm13 0zm14 0h2m2 0zm5 0zm-45 1zm6 0zm4 0zm28 0zm7 0zm10 0zm-55 1h1m2 1zm41 0zm7 0zm4 0zm-52 1zm46 0zm2 0zm3 0zm3 0h2m-10 1zm2 0h1m6 0zm-1 3zm-3 1zm3 0zm7 0zm-69 1zm49 0zm9 0zm11 0zm-12 1zm3 0zm3 0zm6 0zm-9 2zm6 0zm-69 1zm64 0zm2 0zm-67 2zm72 0zm-73 1zm69 0zm-70 1zm78 3zm-1 1zm0 1zm-79 1zm77 0zm1 1zm-3 1zm-77 1zm0 1zm83 0zm-3 2zm3 0zm2 0zm-10 1zm4 0h1m-80 1zm76 1zm7 0zm-8 1zm9 3zm-5 1zm-79 1zm0 1zm76 0zm3 0zm7 0zm-11 1zm4 0zm-5 1zm3 0zm8 0zm-9 1zm1 1zm6 0zm-6 1zm-78 1zm78 0h1m-4 1zm2 0h2m2 0zm-7 1zm5 0zm6 0zm-84 1zm70 0h1m14 0zm-6 1zm-79 1zm71 0zm6 0h1m-3 1zm-1 1zm-76 2h1m1 1zm74 0zm-72 1zm62 0zm8 0h1m-1 1zm-71 1zm59 0zm2 0zm2 0zm5 0zm3 0zm-72 1zm61 0zm4 0zm0 1zm4 2zm-7 1zm-64 1zm61 0zm2 0zm-60 1zm57 0zm4 0zm-61 1zm-3 3zm2 0zm49 0zm8 0h1m-60 1h1m50 0zm2 0zm3 1zm-55 1h2m43 0h1m8 0zm-54 1zm46 1zm-41 1zm34 0zm4 0zm-38 1zm17 0zm13 0zm4 0h1m10 0h1m-46 1zm2 0zm15 0zm9 0zm9 0zm7 0h1m-28 1zm9 0zm2 0zm2 0h1m-15 1zm2 0zm2 0h1m6 0h1m2 0zm-21 1zm3 0zm2 0h2m3 0zm2 0zm3 0zm-16 1zm2 0zm4 0zm4 0h3m6 0zm-20 1zm2 0zm2 0zm6 0z"/>
<path stroke="#54b327" d="M156 106zm-6 2zm6 0zm-10 1zm12 0zm-19 1h1m6 0h1m-8 1h1m12 0zm3 2zm1 1zm-1 1h1m4 0zm-4 1zm3 0zm-21 1zm0 1zm7 0zm15 0zm-25 1h1m2 0zm15 0h1m2 0zm5 0zm-19 1zm3 0h1m-8 1zm8 0h1m13 0zm-21 1zm16 0zm3 0zm-13 1zm11 0zm-19 1zm2 0zm13 0h1m8 0zm-17 1zm3 0zm-11 1zm5 0zm3 0zm-8 1zm14 0zm7 0zm3 0zm-33 1zm10 0zm13 0zm-16 1zm6 0zm-6 1zm2 0zm6 0zm5 0zm11 0zm8 0h1m-41 1zm11 0zm8 0zm2 0h1m2 0zm2 0zm7 0zm-35 1zm16 0zm2 0zm3 0zm-20 1zm7 0zm5 0zm7 0zm6 0h1m3 0zm-30 1h1m5 0zm5 0zm15 0zm3 0zm7 1zm-33 1zm29 0zm3 0zm2 0zm-35 1zm5 0zm26 0zm2 0zm3 0h1m-4 1zm2 0zm-42 1h1m-1 1zm41 1h2m2 0zm9 0zm-56 1zm51 0zm-9 2zm9 0zm-54 1zm46 0zm4 0zm5 0h1m-6 1zm3 0zm0 2zm3 1zm2 0zm-63 1zm49 0zm9 0zm3 0zm3 0zm4 0zm0 1zm-7 1zm3 0zm-65 1zm60 0zm10 0zm-8 1zm2 0zm1 1zm4 0zm-72 1zm68 0zm4 2zm-4 1zm7 2zm-79 1zm79 0zm-3 1zm5 0zm-82 1zm78 0zm-3 1h1m4 0h1m-80 1zm80 0zm-81 2zm76 0zm5 0zm-7 3zm7 0zm2 0zm-8 1zm-1 2zm14 1zm-4 1h1m-5 1zm4 1zm-6 2zm7 0zm-9 1zm-1 1h1m3 0zm-81 1zm77 0zm4 0zm-3 1h1m6 1zm-86 2zm81 0h2m-82 1zm80 0zm-9 1zm4 0zm11 0zm-11 1zm5 0zm5 0zm-84 1zm71 0zm4 0h1m0 1zm-77 1zm77 0h1m-78 1zm77 0h1m-3 1zm4 1h1m-80 1zm76 0h1m-78 2zm4 0zm69 0zm2 0zm-12 1zm3 1zm6 0zm-7 4zm-1 1zm-62 1zm63 0zm4 0zm-9 1zm6 0zm-64 1zm53 0zm-1 1zm2 0zm4 0zm-6 1zm3 0zm4 0zm-11 1zm-50 1h3m52 0zm-55 1zm54 0zm3 0zm-9 1zm4 0h1m-52 1zm3 0zm-3 1zm7 1h1m28 0zm8 0zm5 0zm-41 1zm28 0zm5 0zm5 0zm-44 1h1m6 0h1m20 0zm7 0zm-35 1zm9 0zm17 0h1m-25 1zm7 0zm5 0zm10 0zm-16 1zm2 0zm3 0zm12 0zm6 0zm-28 1h1m19 0zm4 0zm2 0z"/>
<path stroke="#3eae36" d="M153 101zm2 2zm1 2zm-7 3zm1 1zm6 1zm-11 1zm5 0zm6 0zm-11 1zm7 0zm2 1zm0 1zm-8 1zm13 0zm-7 1h1m2 0zm-14 1zm5 0zm4 0zm8 0zm-22 1zm14 0zm8 0zm4 0zm-28 1zm8 0zm6 0zm3 0h1m10 0zm-15 1zm8 0zm6 0zm-24 1zm2 0zm23 0zm-18 1h1m2 0zm12 0zm-21 1zm15 0zm2 0zm2 0zm-19 1zm2 0h1m3 0zm4 0zm10 0zm6 0zm-28 1zm2 0zm7 0h1m5 0zm-9 1h1m17 0zm2 0zm-16 1zm3 0zm3 0zm10 0zm0 1zm-35 1zm14 0zm9 0zm8 0zm-26 1zm16 0zm-21 1zm5 0h2m8 0zm11 0zm2 0h2m3 0zm5 0h1m-34 1zm2 0zm7 0zm13 0zm5 0zm6 0zm4 0zm2 0zm-36 1zm-6 1zm0 1zm28 0zm6 0zm-6 1zm-5 1h1m-29 1zm36 0zm-39 1zm3 0zm-7 1zm4 0zm-3 1zm40 0zm10 0h1m-54 1zm36 0zm23 0zm-58 1zm49 0zm4 0zm2 0zm-5 1zm4 0h1m7 0zm-63 1h1m41 0h1m9 0zm7 0zm-6 1h1m4 0zm-62 1zm56 0zm2 0zm4 0zm0 1zm-63 1zm69 1zm0 1zm-71 1zm63 0zm-2 1zm6 0zm2 0zm-70 1zm66 0zm5 0zm-73 1zm66 0zm6 4zm0 1zm2 1zm-1 2zm4 1zm-7 2h1m6 0zm-1 1zm2 2zm1 1zm-4 1zm0 2h1m-82 1zm85 1zm3 0zm-89 1zm85 0zm-85 1zm87 0zm-87 1zm84 0zm-84 1zm81 0zm7 1zm0 1zm-6 1zm5 0zm-7 2zm6 0zm-87 1zm80 0zm-80 1zm80 0zm-79 3zm80 0zm4 0zm-8 1zm6 1zm4 0zm-86 1zm80 0zm-4 2zm3 0zm-79 1zm77 0h1m-80 1zm3 2zm74 0zm2 0zm2 0zm-79 1zm2 0zm69 0zm-72 1h2m71 0zm2 0zm-2 1h1m-73 1zm72 0zm-73 2zm70 1h1m-9 1zm1 1zm1 1zm4 0zm-1 1zm-12 3zm3 0zm0 2zm-11 1zm7 0h2m-56 1zm48 0h1m-8 1zm2 0zm9 0zm-16 2zm4 0zm6 0zm4 0zm-42 1zm31 0zm8 0zm-40 1zm-3 1zm22 0zm-16 1zm16 0zm-10 1h1m14 0zm3 0z"/>
<path stroke="#26ac58" d="M155 99zm-1 1zm0 1zm-8 1zm10 0h1m-1 1h1m-12 2zm7 0zm5 0h1m-4 1zm3 0zm9 0h1m-17 1zm2 0zm12 0h1m-26 1zm6 0zm-5 1zm17 0zm5 0zm-24 1zm6 0zm4 0zm2 0h1m-13 1zm8 0zm2 0zm9 0zm-19 1zm5 0zm7 0zm4 0h1m7 0zm2 0zm-20 1zm2 0zm7 0zm4 0zm5 0h2m-16 1h1m12 0zm-26 1zm10 0zm9 0zm3 0zm-16 1h1m4 0zm3 0h2m6 0zm5 0zm-26 1zm6 0zm2 0zm10 0zm2 0zm-21 1zm7 0zm8 1zm-15 1zm14 0zm-13 1zm4 0zm8 0h1m2 0h1m2 0zm13 0zm2 0zm-36 1zm10 0zm7 0zm2 0zm2 0zm-23 1zm6 0zm11 0zm4 0zm7 0zm-28 1zm5 0zm23 0zm6 0zm-36 1zm2 0zm17 0zm22 0zm-39 1zm25 0zm3 0zm-6 1zm-1 1zm7 0zm-31 1zm21 1h2m2 0zm8 0zm9 0zm-46 1zm4 0zm8 0zm-6 1zm22 0zm12 0zm2 0zm-37 1zm2 0zm33 0h2m6 0zm-49 1zm3 0zm35 0zm2 0zm4 0h2m-45 1zm3 0h1m36 0zm2 0h2m-38 1h1m-12 2zm2 0zm2 0zm40 0zm4 0zm5 0h2m2 0zm-10 1h1m5 0zm3 0zm-59 1zm48 0zm3 0zm5 0zm-5 1zm7 0zm-58 1zm51 0zm4 0zm4 0zm-62 1zm53 0zm2 0zm6 0h1m2 0zm-62 1h1m51 0zm7 0zm-15 1zm15 1zm-65 2zm59 0h1m0 1zm5 0h1m-67 1zm67 0zm-67 1zm65 2zm3 0zm3 0zm-73 1zm71 0zm-73 1zm75 0zm-77 5zm76 0zm0 1zm7 1zm-6 1zm4 0zm3 0zm2 0h1m-2 1h1m-88 1zm79 0zm7 0h1m-4 1zm2 0h1m-3 1zm5 0zm-90 1zm0 1zm0 1zm0 1zm87 0zm-4 1zm2 0zm-85 1zm86 1zm3 0zm-1 1zm-89 1zm89 0zm2 0zm-6 1zm-2 1zm-83 1zm85 0zm3 0zm-88 1zm82 0zm2 1zm4 2zm-88 1zm83 1zm4 0zm-1 1zm-2 1zm3 0zm2 0zm-5 1zm2 0zm-85 2zm81 0zm2 0zm-84 1h1m84 0h1m-4 1h1m-84 1zm82 0zm-82 1h1m77 1zm-77 3zm79 1zm-79 2zm75 1zm-75 1zm72 1zm-1 2h1m-71 1zm0 2zm59 0zm-60 1zm55 0zm6 0zm-62 1zm62 1zm-7 1zm5 0zm5 0zm-5 1zm-57 1h1m-1 1zm54 0zm-51 1zm37 0zm13 0zm-54 1zm2 1zm40 0h1m-42 1zm7 0zm27 0zm8 0h1m-7 1zm5 0zm3 0zm2 0zm-42 1zm5 0zm24 1zm-30 1zm24 0zm7 0z"/>
<path stroke="#19ac8c" d="M155 95zm5 0zm-5 1zm5 0zm-5 2zm1 1zm3 0h1m5 0zm-15 1zm9 0h1m3 0zm2 0zm-22 1zm2 0h1m4 0h1m4 0zm11 0zm-21 1zm1 1zm2 0zm3 0zm2 0zm7 0zm-9 1h1m7 0h1m-6 1zm5 0h1m-24 1h1m7 0zm6 0h1m7 0zm7 0zm3 0zm-29 1zm6 0h1m5 0zm6 0zm11 0zm-30 1zm13 0zm6 0h1m9 0zm-29 1zm17 0zm10 0h2m-25 1zm10 0h1m8 0h1m3 0zm-10 1zm6 0zm3 0zm2 0zm-26 1zm2 0zm5 0zm9 0zm4 0zm9 0zm-31 1zm12 0zm-6 1zm9 0zm-17 1zm5 0h1m20 0zm3 0zm4 0h1m-27 1h1m21 0h1m2 0h2m-36 1h1m4 0zm10 0zm-16 1zm6 0zm4 0zm5 0zm15 0zm-30 1zm6 0h1m9 0zm15 0zm7 0zm-37 1zm16 0h1m14 0h1m5 0zm-38 1h1m19 0zm17 0zm-38 1zm3 0zm2 0zm11 0zm19 0zm3 0zm-34 1zm7 0zm6 0h1m10 0h1m3 0zm-32 1zm2 0h1m35 0zm-21 1zm-21 1zm6 0zm20 0h1m10 0zm4 0h1m-44 1zm5 0zm3 0zm21 0zm4 0zm4 0zm5 0h1m6 0zm-22 1zm3 0h2m8 0zm5 0zm4 0zm-50 1zm27 0zm5 0zm5 0zm7 0zm6 0zm-51 1zm2 0h2m1 1zm32 0zm1 1h1m4 0zm-47 1zm8 0zm-1 1zm38 1zm-44 1zm43 0zm7 0h1m-53 1zm3 0zm47 0zm7 0zm-5 1zm8 0zm-62 1zm51 0zm5 0h1m2 0zm4 0zm-15 1h1m8 0zm-59 1zm58 2zm3 0zm-65 1zm68 1zm-4 1zm4 0zm1 1zm-2 1zm-2 1zm5 0zm-74 1zm74 0zm-1 1h3m-76 1zm74 0zm2 0h1m-3 1zm-1 2zm0 1zm0 1zm-2 1zm1 1zm5 2zm6 0zm-7 1zm3 0h2m2 0zm0 1zm-7 2zm5 0zm-88 1zm89 0zm-4 1zm4 0zm-7 1zm2 0zm4 0h1m-3 2zm3 1zm3 0zm-7 1zm-1 1h1m0 1h1m-89 1zm94 1zm2 0zm-7 1zm6 0zm-11 1zm5 0zm6 0zm-3 1zm-2 2zm-6 1zm5 0zm-89 1zm89 3zm-90 4zm89 1zm-2 1zm-3 1zm-1 1zm0 3zm2 0zm0 1zm-3 1zm2 0zm-85 1zm80 0zm-80 1zm79 0zm-3 2zm-4 4h2m-72 1zm63 0zm7 0h1m-72 2zm64 1zm-1 1h1m-2 1zm2 0zm-3 1zm3 0h1m-5 1zm-54 3zm50 0zm-50 1zm-3 2zm6 0zm42 0zm-40 1zm28 0zm3 0zm2 0zm-34 1zm28 0zm-9 1zm7 0zm3 0z"/>
<path stroke="#1eac6f" d="M156 94zm-5 6h1m0 1zm0 1zm0 1zm6 0h1m8 0zm-13 1zm2 0h2m-7 1zm15 0h1m-22 1zm-7 1zm28 0h1m-6 1h2m-19 1zm4 0zm12 0zm-1 1zm7 0zm-17 1zm9 0zm-19 1zm9 0h1m12 0zm-14 1h2m3 0zm8 0zm-10 1zm12 0zm4 1zm-35 1zm4 0h3m7 0zm18 0zm-23 1zm3 0zm12 0zm-11 1zm11 0h1m-13 1h1m23 0zm-14 1zm14 0h2m-3 1zm-13 1zm8 0zm7 0h1m-40 1zm3 0zm2 0zm15 1h1m5 0zm5 0zm-25 1zm30 0zm-38 1zm2 0zm18 0h2m14 0h1m-32 1h1m14 0h1m-23 1zm7 0h2m29 0zm1 1zm-33 1zm23 0zm17 0h1m-42 1zm34 0zm-35 1zm6 0zm26 0zm-38 1zm38 0h1m9 1zm4 0zm-54 1h2m2 1zm41 0h1m-46 1zm3 0zm40 0zm3 0zm3 0h3m-55 1zm62 0zm-12 2zm5 0zm-8 1zm11 1zm-65 1h1m55 0zm11 0zm-66 1h1m62 0zm4 0zm-67 1zm63 0zm-63 1zm64 0h2m-4 1zm-66 1zm66 0zm5 0h1m-72 1zm70 0h2m-5 2h1m-71 3zm73 3h1m-1 2zm5 0zm-3 1h2m2 0zm3 1zm4 0zm-7 1zm-84 1zm87 0zm-4 1h2m0 1zm-1 2zm2 0zm-3 1zm1 1zm0 3zm-1 1zm-85 1zm90 0zm1 1zm3 1zm-95 1zm84 0zm3 2zm2 0zm5 0h1m-12 1h1m-84 1zm86 2zm-2 1zm4 0zm-7 1h1m5 1h1m-89 1zm0 2zm85 0zm3 3zm-89 4zm1 1zm0 2zm81 0zm2 0zm-82 3zm72 3zm-2 1zm-71 1zm63 0zm-63 1zm66 0zm-65 1zm66 0zm2 0zm-4 2zm1 2zm-15 3zm3 0zm-53 1zm4 0zm46 0zm3 0h1m2 0zm-53 1zm50 0zm-16 2zm6 0zm8 0zm-9 2zm-37 1z"/>
<path stroke="#a7a6da" d="M206 37zm-33 1zm5 0zm-23 1h1m10 1zm5 2zm55 0zm-111 1zm35 1zm24 1zm26 0zm24 3zm-32 2zm-15 4zm-62 1zm46 1zm-3 1zm26 1zm3 1zm37 1zm-73 2zm-16 1zm34 0zm17 0zm-32 1zm17 0zm-19 1zm6 0zm14 0zm63 0zm-76 1zm35 0zm-77 2zm44 1h1m17 0zm6 0zm-12 1zm-12 1zm18 0zm57 0zm-60 1zm-34 1zm4 0zm33 0zm-38 2zm6 1zm25 2zm-7 1zm-10 1zm15 0zm9 0zm5 1zm-54 1zm60 2zm-55 2zm9 1zm56 0zm-30 3zm7 0zm18 0zm-63 1zm3 0zm54 0zm7 0zm-18 1zm9 3zm-12 1zm35 0zm7 1zm22 0zm-116 2zm63 1zm42 0zm-20 2zm40 0zm-50 1zm51 1zm-131 1h1m5 0zm66 0zm-71 1zm8 3zm-12 1zm76 0zm7 0zm54 1zm-58 1zm-74 2zm75 1zm54 0zm-63 2zm42 0zm-111 3zm1 1zm-2 1zm74 2zm-11 2zm1 1zm-63 1zm73 0zm-7 1zm14 3zm-88 9zm90 4zm1 1zm1 1zm8 1zm-4 1zm-3 1zm22 0zm10 0zm-147 9zm8 3zm109 0zm-113 1zm113 0zm7 2zm-11 6zm9 0zm-5 3zm2 8h1m-5 7zm-109 8zm100 4zm-5 3zm-5 1zm7 2zm-98 4zm84 1zm-10 3z"/>
<path stroke="#eb9e00" d="M145 142zm-7 5zm0 1zm4 1zm-11 1zm4 0h1m4 0zm3 0zm-22 1h3m3 0zm5 0zm3 0h1m2 0h1m4 0zm-25 1h1m3 0h1m4 0h1m4 0h1m2 0zm8 0zm3 0h1m-29 1h2m3 0zm4 0zm4 0h2m2 0zm2 0h1m5 0h4m-29 1h2m11 0h5m2 0zm4 0h6m-31 1zm2 0h2m2 0zm14 0zm5 0zm4 0h2m4 0zm-38 1zm4 0h1m8 0zm10 0zm6 0zm3 0h1m2 0zm3 0zm4 0zm-43 1zm5 0h1m8 0zm25 0zm1 1zm-41 1zm42 0zm-44 1zm44 0zm-45 1zm45 0h1m-48 1zm48 0h2m-50 1zm47 0h3m4 0zm-55 1h1m46 0h5m3 0zm-6 1h1m-51 1zm54 0zm4 0zm-58 1zm-1 1h1m59 0h1m-62 1h1m57 0zm-59 1h2m56 0h1m-59 1h1m57 0zm2 0zm-59 1zm57 0zm2 0zm-2 1h1m-58 1zm57 0h1m2 0zm-60 1zm58 0h1m2 0zm-2 1h1m-61 1zm60 0zm-60 1zm60 0zm1 1zm0 1zm-61 1zm60 0h1m-1 1h1m0 2zm-62 1zm1 1zm60 0zm-60 1zm59 0zm0 1h2m-61 1zm58 0h1m2 0zm-6 1h1m-55 1zm53 0h3m-1 1zm-54 1zm54 0h2m-3 1h1m-53 1zm49 0h2m4 0zm-54 1h1m46 0h2m-48 1zm46 0h1m-47 1h1m43 0h1m-43 1zm35 0zm-34 1zm34 0h2m5 0zm-43 1h4m32 0zm3 0h1m3 0zm-40 1h2m26 0zm3 0zm2 0h1m3 0h3m-42 1zm2 0zm2 0zm3 0zm23 0zm3 0zm2 0h1m6 0zm-41 1h8m18 0h6m9 0zm-41 1zm5 0h1m3 0zm9 0h1m3 0h1m2 0zm2 0zm3 0h2m4 0zm-34 1zm4 0zm4 0h6m2 0zm4 0zm2 0h3m3 0zm-29 1zm4 0h1m6 0zm10 0zm2 0h3m-21 1zm11 0h6m2 0zm-8 1zm-16 1zm16 0z"/>
<path stroke="#9b9ee0" d="M150 35zm10 1zm34 0zm-70 2zm-12 1zm20 1zm-16 3zm39 0zm-4 1zm6 0zm24 0zm-24 1zm37 1h1m10 2zm-58 1zm3 0zm46 0zm-46 1zm-17 1zm8 0zm75 2zm-67 3zm7 0zm37 0zm-21 1zm22 0zm-31 1zm15 0zm5 0zm4 0zm20 0h2m-56 1zm22 0zm-28 1zm6 0h1m10 0zm14 0zm-72 1zm64 0h1m3 0zm11 0zm2 0zm-81 1zm63 0zm6 0zm4 0zm-19 1h1m26 0zm69 0zm-120 1zm17 0zm4 0zm7 0zm33 0zm-47 1zm84 0zm2 0zm-61 1zm-8 1zm5 0zm-33 1zm31 0h1m6 0zm79 0zm-118 1zm27 0zm5 0zm23 0zm-13 1zm14 0zm-42 1zm7 0zm8 0zm7 0zm44 0zm-62 1zm9 0zm8 0zm20 0zm-66 1zm3 0zm20 0zm-8 1zm3 0zm21 0zm4 0zm-12 1zm63 0zm-90 1zm12 0h1m2 0zm12 0zm-6 1zm6 0h1m6 0zm30 0zm-70 1zm2 0zm23 0zm23 0zm13 1zm-79 1zm9 0zm23 0zm28 0zm-38 1zm20 0zm4 0zm31 1zm4 0zm3 1zm58 0zm-122 1zm41 0zm23 0zm-7 1zm8 0zm-47 1zm47 1h1m17 0zm20 0zm-114 1zm10 0zm2 0zm19 0zm24 0zm-43 1zm9 0h1m39 0zm6 0h2m14 0zm9 0zm12 0h1m-97 1zm65 0zm11 0zm32 0zm7 0zm-44 1zm5 0zm-67 1zm3 0zm49 0zm6 0zm4 0zm-81 1zm6 0zm26 0zm42 0zm-55 1zm9 0zm77 0zm-84 1zm41 0zm8 0zm46 0zm-10 1zm-40 1zm30 0zm8 0zm4 0zm-96 1zm97 0zm-94 1h1m0 1zm-17 1zm70 0zm47 0zm-48 1zm49 0zm-107 1zm61 0zm21 0zm5 0zm9 0zm33 0zm-75 1zm3 0zm17 0zm8 0zm-24 1zm16 0zm5 0zm5 0zm-26 1zm7 0zm16 0zm-84 1zm65 0zm9 2zm-70 1zm8 0zm63 1h1m33 0zm-106 1zm128 0zm-49 1zm15 0zm33 0zm-67 2h3m-59 1zm60 0zm16 0zm24 0zm-37 1zm13 0zm4 0zm-90 1zm3 0zm67 0zm-63 2zm-12 1zm2 0zm72 0zm-86 1zm21 1zm63 0zm-67 2zm71 0zm21 0zm5 0zm-24 1zm-75 1zm64 1zm14 0zm-84 1h1m8 0zm71 0zm10 0zm-17 1h1m16 0zm6 0zm-12 1zm5 1zm-22 3zm11 0zm1 1h1m-78 1zm86 0zm0 3zm5 1zm14 0zm8 0h1m-8 1zm8 0zm5 1zm-29 1zm-11 1zm4 1zm4 2zm-2 1zm-99 2zm101 0zm0 1zm4 0zm-4 1zm10 0zm-5 1zm-6 1zm12 1zm-8 1zm5 0zm-109 1zm114 0zm-10 3zm0 1zm6 1zm-14 1zm7 0zm-8 1zm12 1zm0 2zm7 1zm-117 1zm119 0zm-119 1h1m119 0zm10 0zm-14 1zm-120 1zm116 0zm2 1zm-14 1zm7 0zm7 0zm-114 4zm-2 1zm113 1zm-111 1zm98 6zm7 2zm0 2zm-107 4zm92 2zm2 0zm4 0zm-2 2zm5 1zm-12 3h2m5 1zm-99 2zm94 1zm0 2zm1 2zm-18 1zm5 0zm8 0zm-11 2zm2 0h1m-10 2zm0 2zm-6 1zm-4 1h1m-56 1zm55 2z"/>
<path stroke="#9094df" d="M162 37zm32 0zm-38 7zm19 1zm-1 1zm21 1zm-6 2zm4 0zm4 0zm4 0zm-48 1zm34 4zm-62 1zm38 0zm21 1zm14 0zm-31 1zm2 0zm24 0zm-7 1zm4 0h1m3 0zm-15 1zm4 0zm41 2zm-47 1zm14 1zm-43 1zm4 0zm3 0zm15 0zm0 1zm6 0zm3 0zm77 0zm-99 1zm19 0zm-59 1zm58 0zm18 0zm19 1zm-84 1zm93 0zm-67 1zm38 0zm-38 1zm3 0zm3 0zm12 0h1m-3 1zm27 1zm9 0zm-78 1zm49 0zm6 0zm-50 1h1m18 0zm14 0zm14 0zm-50 2zm46 0zm-50 1zm3 0zm-22 1zm60 0zm18 0zm7 0zm-62 1zm41 2h1m82 0zm-101 1zm7 0zm-15 1zm17 0zm15 0zm62 0zm-50 1zm-84 1zm83 0h1m-54 1zm45 0zm2 0h1m28 0zm-111 1zm37 0zm20 1zm22 0zm18 0zm-66 1zm68 0zm-54 1zm2 0zm0 1zm20 0zm11 3zm15 0zm5 0zm22 0zm-88 1h1m65 0zm-19 1zm16 1zm-63 2zm58 0zm37 0zm-18 2zm-31 1zm5 0zm11 0zm3 1zm16 0zm-99 1zm11 0zm68 0zm16 0zm-96 1zm77 0zm-66 2zm3 0zm57 0zm4 0zm-6 1zm13 2zm24 0zm-35 1zm2 0zm5 0zm-62 1zm-12 2zm-7 1zm75 0zm11 0zm-11 1zm3 2zm5 1zm-91 1zm17 0zm67 1zm3 0zm-5 1zm6 0zm-68 1zm72 0zm0 1zm-2 1zm-75 1zm82 1zm4 0zm-6 2zm-9 1zm0 1zm10 0zm18 0zm-104 4zm81 1zm10 0zm38 1zm-51 1zm2 2zm-91 1zm86 0zm15 0zm-94 1zm96 0zm-102 1zm99 0zm-7 1zm34 1zm-38 1h1m-85 1zm79 1zm10 0zm-96 1zm99 0zm11 2zm-6 1h1m4 0zm-107 1zm94 0zm10 0zm3 0zm-108 2zm111 0zm10 0zm-26 6zm10 0zm0 1zm1 3zm-2 1zm3 0zm-7 1zm39 2zm-36 1zm2 4zm-4 1zm2 1h1m2 2zm-1 11zm-13 6h1m-11 5zm0 1zm0 1zm-91 3zm90 0zm1 1zm-3 1zm9 0zm-19 8zm-2 3zm-11 2z"/>
<path stroke="#eb8400" d="M141 150zm-1 1zm-16 1h1m13 0h1m3 0zm-18 1zm2 0zm2 0zm11 0h3m-18 1zm2 0h1m2 0h1m9 0zm2 0zm-19 1zm2 0h3m4 0h5m2 0h1m5 0h1m-30 1h2m3 0zm4 0h2m10 0zm2 0h1m3 0zm2 0h1m3 0zm-34 1zm3 0zm3 0zm6 0zm2 0zm11 0zm4 0h1m2 0h2m3 0zm-38 1zm39 0zm-39 1zm34 0zm6 0zm-42 1zm3 0h1m32 0h1m3 0h2m-43 1zm4 0zm39 0zm-45 1zm45 0h1m-1 1zm-47 2h1m46 0h1m3 0h1m-52 1h2m46 0h3m-51 1zm53 0zm-53 1zm51 0zm3 0zm-55 1zm52 0zm3 0zm-55 1zm54 0zm-55 1zm55 0zm2 0zm-2 1zm2 0zm-58 1zm56 0zm-55 1zm55 0zm0 1h1m3 0zm-4 1h2m0 1zm-58 1zm0 1zm59 0zm-59 1zm56 0h1m2 0zm-59 1zm58 0zm-59 1zm59 0zm-59 1zm61 0zm-61 2zm60 0zm-3 1zm2 0zm-1 1zm-58 1zm58 0zm-57 1zm54 0h2m-56 1zm53 0zm-1 1zm-51 1zm51 0h2m2 0zm-54 1zm52 0zm-52 1zm51 0zm-50 1zm47 0zm-1 1zm-44 1zm44 0zm-43 1h1m39 0h1m-40 1zm33 0zm2 0zm5 0zm-39 1zm4 0h1m31 0h1m-35 1zm3 0zm23 0zm3 0h1m6 0h1m-41 1h1m4 0h3m13 0h1m7 0zm2 0zm-30 1zm4 0h1m2 0h1m12 0h1m5 0h2m2 0h1m-22 1zm2 0h1m7 0h1m5 0zm-24 1h1m8 0h2m3 0h2m3 0h1m3 0zm-23 1zm4 0zm12 0zm2 0h2m-4 1h4"/>
<path stroke="#eb7100" d="M142 150zm-1 1h1m-2 1h1m-16 1zm0 1zm3 0zm12 0zm-12 1zm12 0h1m-20 1h2m5 0zm4 0h3m5 0zm-25 1h1m5 0h1m3 0zm8 0h1m2 0h2m2 0zm2 0zm3 0zm4 0h1m-36 1h9m4 0h1m12 0zm3 0h1m3 0h2m-35 1h2m2 0h3m25 0zm2 0zm3 0h1m-3 1h1m-39 1zm2 0zm2 0zm32 0h5m-43 1h2m2 0h1m37 0h1m-44 1zm43 0h1m-44 1zm43 0h1m-44 1zm44 0zm-43 1zm44 0zm5 0zm-51 1zm47 0h4m-51 1zm49 0zm2 0h1m-53 1h1m49 0zm2 0h1m-54 2zm-1 1zm54 0zm-54 1h1m50 0zm3 0zm-53 1zm53 0zm0 1zm-55 1zm55 0zm-55 1zm55 0h2m-1 1zm2 0zm-2 1zm2 1zm-2 1h1m-57 1zm57 0zm-57 1zm58 0h1m-60 1h2m57 0h1m-59 1zm58 0zm-3 1zm2 0zm-57 1zm56 0zm-56 1zm56 0zm-54 1h1m50 0zm-2 2zm-49 1h1m48 0zm0 1h2m-5 1h4m-48 1zm44 0h1m-44 1zm42 0h1m-42 1h1m39 0h2m-40 1zm32 0h5m-37 1zm35 0h3m-37 1h1m26 0zm3 0h1m6 0h1m-36 1h1m23 0zm2 0h1m-23 1h1m10 0zm3 0h1m4 0zm4 0zm-22 1zm3 0h1m4 0zm5 0zm2 0h1m-15 1zm3 0zm2 0h3m3 0h3m-11 1h1"/>
<path stroke="#898cde" d="M156 38zm21 3zm5 3zm6 0zm3 0zm-12 5zm-22 4zm-26 1zm52 1zm0 1zm5 0zm-74 1zm42 0zm5 0zm-23 1h1m23 0zm-1 2zm16 0zm21 0zm-4 1zm4 0zm-48 1zm3 1zm-4 2zm20 0zm9 0zm-1 1zm32 0zm-93 1zm43 0zm6 0zm4 0zm28 0zm-46 1zm4 0zm10 0zm-8 1zm20 0zm15 0zm-37 1zm30 0zm-14 1zm24 0zm-18 1zm-54 1zm2 0zm22 1zm3 0zm-4 1zm15 0zm-41 1zm15 1zm10 0zm25 0zm15 0zm-42 1zm32 0zm-49 1zm6 1zm39 0zm-21 1zm5 0zm-11 1zm46 1zm-47 1zm-16 1zm13 0zm3 0zm-11 1zm12 0zm95 0zm-112 1zm28 2zm33 0zm7 0zm-17 1zm10 2zm4 0zm-47 1zm50 0zm-18 1zm-55 2zm12 0zm51 1zm35 0zm-42 1zm-3 1zm38 0zm-87 1zm63 0zm2 0zm-61 1zm101 0zm-53 1zm8 1zm26 0zm-22 1zm-73 1zm14 0zm50 1zm3 0zm20 0zm2 0zm-23 1zm2 0zm2 0zm8 1zm-14 1zm-62 3zm65 7h1m-72 1zm72 0zm-71 3zm71 1zm-2 1zm-72 1zm75 0zm-75 1zm9 3zm72 2zm25 0zm-22 2zm5 0zm-4 1zm11 0zm-13 1zm2 1zm-3 2zm-84 1zm112 2zm-35 1zm0 1zm10 0zm-1 3zm10 1zm-4 1zm0 1zm24 0zm-29 3zm13 2zm-10 1zm10 0zm11 0zm-14 1zm-106 1zm106 0zm-7 4zm7 1zm-6 1zm-103 2zm99 1zm10 1zm-11 5zm16 0zm-14 1zm6 2zm-5 5zm2 0zm8 0zm-3 1zm-110 1zm95 7zm4 4zm-4 5zm-9 2zm-9 7zm11 1zm1 2zm-13 1zm8 1zm-11 2zm-6 3zm6 0zm-10 1z"/>
<path stroke="#7f84de" d="M151 35zm9 0zm17 3zm14 5zm1 6zm-8 3zm0 1zm-27 1zm11 1zm16 0zm-46 2zm17 0zm15 1zm9 0zm-14 1zm20 0zm22 0zm-59 1zm17 0zm20 0zm-49 1zm41 0zm-29 2zm4 0zm11 0h1m15 0zm-23 1zm-6 2zm5 0zm9 0zm6 0zm8 0zm-4 1zm82 0zm-96 1zm-10 1zm6 1zm9 1zm12 0h1m-47 1zm38 0zm-10 1zm8 0zm3 0zm4 0zm45 0zm-60 1zm6 0zm-18 1zm26 0h1m-59 1zm81 2zm-90 1zm37 0zm6 0zm4 0zm4 0zm18 0zm-19 1zm20 0zm6 0zm-64 1zm15 0zm8 0zm26 0zm16 0zm5 0zm-33 1zm20 0zm-36 1zm33 0zm-23 1zm21 0zm18 0zm-46 1zm102 0zm-111 1zm51 0zm53 0zm-65 2zm10 0zm18 0zm-7 1zm-8 1zm-46 1zm-9 1zm12 0zm41 0h1m-7 1zm20 0zm-55 2zm40 0zm10 0zm7 0zm-19 1zm2 0zm17 0h1m-13 1zm36 0zm-47 1zm-51 1zm0 1zm88 0zm-84 1zm52 0zm3 0zm10 0zm14 0h1m-93 1h1m74 1h1m-62 1zm-4 2zm0 1zm64 0zm-58 1zm53 0zm-58 2zm54 0zm-63 1zm0 1zm4 0zm-2 1zm10 0zm58 0zm16 0zm-74 1zm54 0zm3 0zm-69 2zm3 0zm66 0zm2 0zm-80 1zm81 0zm3 0zm-12 3zm-64 1zm74 0zm16 1zm-90 2zm7 1zm60 0zm14 0zm-10 1zm9 1zm-19 1zm78 2zm-67 1zm6 0h1m-5 1zm4 0zm-6 1zm-77 2zm78 0zm0 2zm1 1zm7 0zm18 3zm-114 2h1m84 0zm29 0h1m-114 1zm94 0zm1 1zm-4 2zm7 1zm8 1zm-110 2zm2 0zm99 0h1m-4 2zm1 1zm10 1zm-7 2zm3 3zm-6 1zm-101 8zm130 0zm-130 1zm106 0h1m8 0zm-17 1zm14 1h1m14 0zm-29 2zm13 0zm0 1zm-12 1zm5 2zm1 3zm-109 1zm111 0zm1 1zm-111 3zm103 0zm-1 1zm-2 1zm-5 1zm11 0zm-7 1zm6 1zm-6 1zm-99 2zm-1 8zm100 2zm-100 1zm95 2zm-11 2zm-83 2zm1 1zm0 1zm70 0zm6 0zm-76 1zm72 1zm-2 1zm2 0h1m-9 2zm-5 3zm-58 1zm53 1zm-8 1zm4 0zm5 0z"/>
<path stroke="#7479dc" d="M120 35zm85 2zm-39 4zm58 6zm-51 1zm-25 1zm53 1zm-31 2zm-5 3zm-3 1zm-23 1zm13 0zm26 0zm11 0zm2 0zm18 0zm-55 1zm18 0zm3 0zm-21 1zm6 1zm6 0zm8 0zm-26 1zm30 0zm-42 1zm45 0zm-1 1zm-20 1zm3 0zm10 0zm4 0zm-22 1zm5 0zm8 2zm3 0zm25 0zm-56 1zm46 0zm-43 1zm-5 1h1m19 0zm5 0zm8 0zm22 0zm-7 1zm-61 1zm33 0h1m23 0zm15 0zm-11 1zm0 1zm-46 1zm22 0zm5 0zm18 0zm-30 1zm18 0zm2 0zm3 0zm-4 1zm10 0zm-56 1zm23 0zm7 0zm2 0zm0 2zm5 0zm16 0zm-38 1zm-9 1zm13 0zm4 0zm-11 1zm10 0zm33 0zm5 0zm-47 1h1m18 0zm9 0zm3 0zm4 0zm-42 2zm49 0zm10 0zm-61 1zm6 0zm48 0zm3 0zm-33 1h1m28 0zm-15 1zm2 0zm4 0zm24 0zm-71 1zm8 0zm5 0zm12 0zm26 0zm3 0zm3 0zm45 0zm-83 1h1m28 1zm6 1zm9 0zm-7 1zm12 0zm23 0zm-88 1zm48 0zm21 0zm-25 2zm6 0zm-52 1zm49 0zm-5 1zm5 0zm-56 1zm8 0zm52 0zm-61 1zm69 1zm3 0zm-4 1zm3 0zm-66 1zm52 0zm-47 1zm65 0zm9 0zm43 0zm-135 1zm72 0zm2 0zm-68 2zm2 0zm3 0zm62 0zm-59 1zm66 0zm30 0zm-42 1zm10 0zm44 0zm-113 1zm10 0zm59 0zm-67 1zm78 0zm15 0zm-94 1zm61 0zm7 0zm2 0zm-73 1zm2 0zm68 0zm-70 1zm76 0zm-75 1zm64 0zm11 0zm-74 1zm64 0zm-6 1zm-63 1zm65 0zm3 0zm19 0zm-104 2zm24 0zm59 0zm1 1zm-69 1zm3 0zm68 0zm7 0zm-78 1zm68 0zm18 0zm-20 1zm6 0zm-73 1zm65 0zm9 2zm-74 1zm5 0zm60 0zm-61 1zm59 0zm4 0zm3 0zm14 0zm-15 1zm13 0zm-19 3zm10 2zm9 0zm-14 2zm10 0zm1 1h1m-85 3zm93 0zm-10 3zm-4 1h1m9 0zm-1 1h1m0 2zm26 0zm-28 3zm3 0zm14 2zm-113 1h1m106 1zm-107 1zm110 0zm-9 1zm3 2zm-1 1zm2 1zm-4 1zm-3 1zm-101 1zm99 2zm9 0zm-8 2zm18 0zm10 0zm-13 1zm-17 1zm5 0h1m0 1zm-1 1h1m-1 2zm-6 1zm5 2zm-106 2zm112 0zm1 1zm-6 4zm-5 1zm-102 1zm99 2zm4 0zm-103 2zm109 2zm-9 2zm2 0zm-103 4zm96 0zm-4 2zm5 0zm3 1zm-13 1zm13 0zm-101 3zm90 0zm-91 1h1m85 0zm12 0zm-19 8zm-75 1zm66 0zm5 2zm-67 5zm54 1z"/>
<path stroke="#31a93b" d="M153 100zm9 0zm-15 2zm0 1zm7 0zm1 1zm-11 1zm11 0zm-3 1h1m2 0zm-1 1zm-8 1zm18 0zm-25 1zm6 0zm2 0zm2 0zm10 0zm2 0zm-20 1zm4 0zm-4 1zm3 0zm3 0zm-3 1zm7 0zm2 0zm10 0zm-18 1zm11 0zm2 0zm-13 1h2m10 0h3m-11 1zm4 0zm8 0zm-14 1h1m10 0zm-13 1zm14 0zm3 0zm-28 1zm7 0zm16 0zm2 0zm-18 1zm14 0zm-19 1zm5 0zm2 0h1m4 0zm6 0zm8 0h1m-22 1h4m10 0zm6 0zm2 0zm5 0zm-30 1zm4 0zm9 0zm9 0zm2 0zm-32 1zm3 0zm9 0zm2 0zm10 0zm4 0zm4 0h1m-33 1zm12 0zm9 0zm-21 1zm11 0h2m10 0zm3 0zm3 0h1m4 0zm-34 1zm2 0zm13 0zm5 0h3m-26 1h1m23 0zm5 0zm-30 1zm2 0zm8 0zm15 0zm13 0h1m-33 1zm3 0h1m29 0h3m-33 1zm17 0zm5 0zm8 0zm-34 1zm20 0zm3 0zm4 0zm9 0zm3 0h1m-43 1zm3 0zm5 0zm15 0zm2 0zm7 0zm8 0zm2 0zm2 0zm-46 1h1m3 0zm6 0zm16 0h1m6 0h1m9 0h2m-40 1zm5 0zm28 0zm2 0zm4 0zm-45 1h1m35 0h1m7 0h1m-44 1zm34 0zm-35 1zm35 0zm-40 1zm42 0zm2 0zm2 0zm9 0zm-57 1zm4 0h1m39 0h2m-44 1zm4 0zm47 0zm-54 1zm2 0zm5 0zm46 0h2m-7 1zm5 0zm2 0h1m-3 1zm2 0zm0 1h1m4 0zm-64 1zm65 0zm-65 1zm55 1zm-58 1zm-1 1zm58 0h1m5 0zm1 1zm0 1zm3 1zm2 0zm-9 1zm2 0zm2 0zm-3 1zm5 0zm2 1zm-74 1zm74 0h1m-75 1zm73 4zm4 0zm-4 1h2m3 0zm2 1h1m-6 1zm3 1zm5 1h1m-88 1zm-2 5zm82 0zm2 0zm0 1zm1 1zm-85 1zm84 0h1m2 0zm-4 1zm4 2zm-2 1zm-85 1zm81 1h1m4 1zm-5 2zm3 0h1m-2 1zm-1 1h2m3 1zm-88 1zm83 0zm2 0zm2 0zm-87 1zm82 0zm-82 1zm83 0zm2 0zm-3 1zm2 0zm-84 1zm0 1zm80 0zm1 1zm-82 1h1m77 1h2m-79 1zm79 0h2m-80 1zm76 0zm2 0zm2 0zm-79 1zm74 0h2m-6 1zm4 0h1m-76 1zm74 0h1m-3 2zm-74 3zm66 0zm-4 1zm-59 1zm53 3h1m-57 1zm3 0h1m51 0zm2 0h1m2 0h1m4 0zm-7 1h1m-55 3zm51 0h1m-53 1zm49 0zm-49 1zm40 0zm2 0zm-42 1zm43 0zm6 0zm-10 1h1m4 0zm4 0zm-39 1zm30 0h1m5 0zm-30 2zm10 0z"/>
<path stroke="#22a968" d="M157 94zm-1 1zm-1 5zm6 0zm-17 1zm9 1h2m12 0zm-14 3zm-4 2zm4 0zm-6 1h1m6 0zm11 0zm-9 1zm7 0h1m-15 1zm-7 1h1m10 0zm9 0h1m-17 1zm13 1zm2 0zm-11 2zm2 0zm6 0zm-4 1zm-7 1zm10 0zm6 2zm-24 1h1m24 0zm6 0zm-35 1zm15 0zm-16 1zm15 0zm14 0zm-12 1zm-22 1zm4 0zm10 0zm11 0zm-22 1zm18 0zm-17 1zm2 0zm11 0zm12 1zm6 0zm-29 1zm-9 1zm25 0zm-26 1zm30 0h1m-21 1zm37 0zm-49 1zm40 1zm5 0zm-6 1zm3 0zm-35 1h1m40 0zm-3 1h2m-50 1zm46 0zm8 0h1m-53 1zm43 0zm0 1zm6 0zm-55 2zm4 0zm-7 1zm53 0zm11 0zm-63 2zm63 1zm1 2h1m-3 3zm4 0zm-6 2h2m6 0zm-75 1zm64 0zm8 1zm-76 4zm-1 1zm80 0zm-3 1zm6 1h1m0 3zm3 0zm-5 2zm-85 1zm83 0zm5 0zm-5 9zm5 0zm-90 2zm83 1zm10 0zm-6 1zm-86 1zm86 0zm-86 1zm82 1zm0 1zm-2 2h1m3 1h1m-87 1zm89 0zm-5 1zm-84 3zm83 1zm0 2zm0 3zm-83 2zm0 1zm75 1zm2 0zm-77 3zm1 2zm1 1zm60 0zm8 0zm-70 1zm63 2zm3 1zm-66 1zm61 0zm-61 2zm58 0h1m-7 1h1m-49 1zm40 1zm9 1zm-12 1zm-30 1zm25 0zm9 0zm5 0zm-46 1zm32 0zm1 1zm-9 1zm10 0z"/>
<path stroke="#15a1c5" d="M166 84zm-12 1zm12 0zm-12 1zm14 2zm0 1zm-18 1zm2 1zm-1 1h1m3 0zm2 0h1m-7 1zm5 0zm7 0zm-5 1zm3 0zm-7 1zm5 0zm3 0zm-10 1zm2 0zm2 0zm3 0zm-13 1zm10 0zm3 0zm4 0zm3 0h1m-21 1zm12 0zm2 0zm-14 1zm4 0h1m6 0zm4 0h2m-18 1h1m12 0zm8 0zm-26 1zm2 0zm5 0zm2 0zm9 0zm7 0zm2 0h1m-18 1zm14 0zm-15 1h1m11 0zm7 0zm-24 1h2m2 0zm2 0zm11 0zm5 0zm-31 1h1m10 0zm3 0zm15 0zm4 0zm-34 1zm12 0h1m2 0zm23 0zm-25 1zm11 0h1m12 0zm-29 1h2m8 0zm8 0zm-18 1h1m10 0h1m14 0zm-31 1zm23 0zm7 0zm-8 1h1m9 0h1m-5 1h2m13 0h1m-44 1zm6 0zm23 0h1m2 0h1m-35 1zm2 0zm4 0zm10 0h1m14 0h2m2 0h1m-40 1zm3 0zm4 0zm5 0zm21 0zm3 0h1m3 0zm2 0zm-39 1zm6 0zm-9 1h1m37 0zm2 0zm-40 1zm34 0zm2 0zm-35 1zm36 0zm-38 1zm3 0zm41 0zm-44 1zm45 0zm-46 1zm35 0zm4 1h1m0 1zm-41 1zm6 0zm33 1h1m-39 1h1m37 0zm4 0zm5 0zm-47 1zm45 0zm-44 1zm24 0zm9 0zm7 0zm3 0zm3 0zm-14 1zm2 0zm9 0h2m-52 1zm39 0h1m10 0zm-55 1zm3 0zm-4 1h2m2 0h1m52 0h2m-57 1zm2 0zm-3 1h1m54 0h1m-56 1h1m56 0zm5 1zm-63 1zm52 0zm-53 1zm54 0zm7 0zm4 0zm-6 1zm-61 1zm61 0zm2 0zm5 0zm2 0zm-72 1zm66 0h1m5 0zm-74 2zm1 1zm0 1zm69 0zm2 0zm-74 1h1m73 2zm0 1zm-76 2zm74 0zm6 0zm-4 1h3m4 0zm-8 1zm7 0zm-6 1h1m0 1zm6 0zm-7 1zm4 0zm-3 1zm4 0zm-7 1zm5 0zm3 1zm-5 1zm5 0zm3 1zm-92 3zm86 3zm5 0zm-1 1h1m-2 1zm2 1zm3 0zm-7 1zm-89 2zm92 0zm1 1h1m-1 1zm-3 1h1m5 1zm-97 1zm0 1zm91 0zm3 0zm-7 1zm5 0h1m-92 1zm85 0h1m4 0h1m-7 1zm7 0zm-2 1zm0 1zm-90 1zm-1 2zm93 0zm-1 1zm-1 3zm3 1zm-9 1zm1 1h2m-3 1zm0 1zm-85 2zm81 1zm3 0h1m-7 3zm-2 1h1m2 0h1m2 0zm-3 1h1m-5 1zm0 2zm-4 1zm-71 1zm64 0h1m-1 3zm0 1zm3 0zm-2 1zm-5 1zm-1 1zm-57 1zm4 0zm50 0zm2 1zm-55 1zm35 1h1m-30 1zm32 0h1m4 0zm2 0h1m-40 1zm32 0zm11 0zm0 1z"/>
<path stroke="#18a7a6" d="M151 90zm0 1zm6 2zm-6 1zm9 0zm-3 1zm4 0zm-6 2zm5 0zm-4 1h1m2 0zm-6 1h1m4 0zm6 0zm-21 1h1m12 0zm8 0zm-8 1h1m2 0h5m-20 1zm4 0zm3 0zm7 0h2m6 0zm2 0zm-2 1zm-19 1zm2 0zm4 0zm14 0zm-17 1zm11 0zm4 0zm-30 1zm3 0zm21 0zm5 0zm-27 1zm11 0zm15 0zm-23 1zm13 0zm6 0zm7 0zm2 0zm5 0zm-32 1zm10 0zm-8 1zm20 0h1m-27 1zm17 0zm11 0zm-28 1zm4 0zm16 0h2m9 0zm2 0zm-19 1zm14 0zm3 0zm-5 1h2m4 0zm-37 1zm5 0zm7 0zm7 0zm12 0zm-33 1zm2 0zm32 0zm3 0zm-34 1zm15 0zm15 0zm5 0zm2 0zm-38 1zm8 0zm9 0zm22 0zm-40 1zm34 0h1m4 0zm-18 1zm23 0zm-11 1zm-34 1h1m5 0zm30 0zm-31 1zm30 0zm5 0zm-37 2zm21 0h1m11 0zm3 0zm2 0zm-45 1zm40 0zm-41 1zm10 0zm19 0zm11 0zm5 0zm-46 1zm7 0zm24 0zm12 0h1m2 0zm6 0zm-52 1zm5 0zm2 0zm22 0zm2 0h1m15 0h1m2 0zm-45 1h1m-10 2zm2 0zm51 0zm-6 1zm6 0zm-55 1zm2 0zm2 0zm6 0zm44 0h2m2 0zm-56 1zm52 0zm3 0zm-55 1zm2 0zm2 0zm41 0zm8 0h1m7 0h1m-64 1zm5 0zm42 0zm3 0zm0 1zm2 0zm-55 2zm54 0h1m-4 1zm17 0zm-4 2zm-3 1zm0 1zm5 0zm0 1zm-71 1zm65 0h2m4 0zm-6 1zm6 0zm-4 1zm6 1zm-76 1zm77 0zm1 1zm-79 1zm74 0zm8 0zm-84 1zm76 0zm1 1zm-78 1zm78 0h1m-79 1zm78 0zm-79 1zm77 0h3m4 0zm-5 1zm3 0zm-1 1zm2 0h2m4 0zm-90 1zm81 0zm7 1zm1 2zm-6 1zm5 0zm-3 3h1m-1 1h2m-3 1zm2 0zm2 0zm-3 1zm5 0zm-94 1zm95 0zm-95 1zm89 0zm3 3zm4 1zm-2 1zm-10 1zm1 1h1m6 0zm-7 1zm0 2zm3 2zm2 2zm-1 1h1m-2 1zm0 1zm-89 1zm85 1h1m3 0zm-90 2zm0 1zm85 0zm-1 1zm2 0zm-86 1zm1 1zm84 0zm1 1zm-86 3h1m78 0zm-2 1zm-2 1zm6 0zm-81 2zm64 2zm10 0zm-74 1zm63 0zm6 1zm-68 4zm62 0zm-62 2zm58 0zm-1 2zm-55 1zm3 0zm5 2zm30 0h1m5 0zm6 0zm-15 1h1m-33 1zm2 0zm2 0zm30 0z"/>
<path stroke="#1a8ad0" d="M165 84zm2 4zm-17 1h1m-1 2zm5 0zm3 2zm16 0h1m-20 1zm4 0zm-1 1zm3 1zm2 0zm4 0zm-13 1zm0 1zm-2 1zm16 1zm-29 1zm4 1zm20 0zm-31 1zm33 1zm-31 1zm3 0zm11 0zm24 0zm-12 1zm10 1zm2 1zm-20 1zm21 0zm-18 1zm-19 4zm2 0zm-5 1zm0 1zm6 0zm32 0zm-41 1zm37 0zm-3 1zm2 0zm2 0zm2 0zm-40 1zm1 1zm0 1h1m33 0zm6 0zm3 0zm-3 1zm0 1zm-43 1zm38 0zm5 0zm-44 1zm-2 1zm46 0zm-5 1zm8 0zm-20 1zm15 0zm3 0zm-52 3zm-1 1zm68 0zm-70 2zm64 1h1m-59 1zm56 1zm-2 1zm4 0zm-12 1zm10 0zm1 1zm-1 1h1m-69 1zm71 0h1m-73 1zm70 1zm2 1zm-6 3zm7 1zm1 1zm-79 3zm-2 2zm85 1zm-1 1h1m-4 1zm-83 1zm85 0h1m12 0zm-98 1zm89 0zm-1 1zm-89 1zm90 3zm-91 1zm-1 1zm-1 1zm88 1zm7 1zm-95 1zm91 0zm3 1zm2 0zm-5 1zm4 2zm-96 1zm0 1zm95 0zm-95 1zm93 0h1m3 1zm-97 2zm90 2h1m2 0zm-94 6zm91 2zm-91 2zm86 0zm8 1zm-7 4zm-88 1zm88 0zm-88 1zm82 1h1m-83 1zm2 1zm0 1zm74 1zm-75 2zm75 0zm-75 1zm64 1h2m6 0zm-6 1zm-66 1zm67 0zm2 0zm-1 1zm0 1zm-2 2zm-5 1zm-6 3zm2 0zm-53 3zm1 1zm39 0zm-38 1zm35 0z"/>
<path stroke="#1488df" d="M157 82h1m6 0h1m-10 4zm15 0zm-11 1zm0 1zm-15 2zm10 2zm2 0zm3 0zm4 0zm-11 1zm3 0zm7 0zm2 0h1m-15 1zm2 0zm10 0zm5 0zm-28 1zm11 0h3m-13 1zm10 0h1m2 0zm4 0zm5 0zm-17 1zm7 0zm5 0zm4 0h1m2 0h1m-13 1zm9 0zm4 0zm-20 1zm2 0zm21 0h1m-31 1h1m8 0zm2 0zm8 0zm14 0zm-33 1zm3 0zm7 0zm25 0h1m-34 1h2m7 0zm12 0zm-31 1h1m3 0zm7 0zm4 0zm17 0h2m-30 1zm7 0h1m22 0zm-21 1zm4 0zm24 0zm-28 1zm5 0zm15 0zm7 0h1m7 0zm-36 1h1m19 0zm7 0zm3 0h1m5 0zm-41 1zm4 0zm-11 2zm38 0zm-38 1zm37 0h1m3 0zm0 1zm-37 1h1m4 0zm32 0zm9 0h1m-49 1h2m8 0h1m29 1zm2 0zm7 1zm-54 1zm37 0h1m10 0h1m-50 1h1m48 0zm-47 1zm44 0zm2 0h1m-43 1zm33 2zm-37 1zm38 0h1m9 0h1m-9 1zm7 0zm-8 1zm8 0zm-53 1zm53 0zm-3 1zm-9 3zm13 0zm-2 1zm2 0zm-2 1zm2 0h2m8 0zm-70 1zm68 0zm-4 3zm-64 2zm-1 1zm71 0zm-9 1zm5 0h1m-7 1zm2 0zm2 1zm5 0zm-5 1zm-71 1zm1 1zm70 0zm-72 1zm75 0zm3 0h1m-5 1zm0 1zm-76 2zm0 1zm83 1zm-3 1zm-4 1zm3 0h2m-4 3zm2 1zm6 5zm0 1h1m-2 2zm0 1zm3 2zm-3 1zm3 0zm-4 2zm4 3zm1 2zm-7 1zm1 2zm2 1zm-1 1h1m-1 2zm3 2zm-5 6zm-5 1zm6 0zm-7 1h2m1 1zm2 0zm-4 1zm-87 2zm80 3zm1 1h1m-3 1h3m-4 1zm3 1h2m-8 4zm-5 1h1m-1 1zm-2 3zm0 1zm-9 3zm-57 1zm57 0zm-56 2zm7 1h1m31 1zm3 0z"/>
<path stroke="#616edc" d="M159 35zm8 6zm-12 1zm63 9zm-52 2zm3 0zm19 2zm-19 1zm-6 3zm-4 1zm27 1zm-51 1zm51 0h1m-11 1zm4 1zm29 3zm-31 1zm-15 1zm-6 1zm15 0zm-19 2zm15 0zm24 0zm-29 1zm20 0zm-73 1zm52 0h1m17 0zm4 1zm-24 1zm36 0zm-64 3zm40 0zm-29 1zm8 0zm7 0zm-22 1zm2 0zm4 0zm30 0zm3 0zm-36 1zm8 2zm31 0zm-40 1zm34 0zm-31 1zm2 0zm3 0zm-6 1zm35 0zm-31 1zm26 0zm6 2zm-38 1zm49 0zm-68 1zm51 0zm26 0zm-77 1zm23 0zm-2 1zm-19 2zm55 0zm-39 2zm43 0zm2 0zm11 2zm-13 4zm4 0zm-71 1zm11 1zm56 0zm-53 1zm3 1zm56 0zm-66 1zm2 0zm1 1zm64 0zm3 0zm1 1zm-70 1zm71 0zm59 0zm-133 1zm71 0zm4 0zm-1 1zm3 3zm-75 1zm3 0zm-2 4zm-2 3zm61 0zm3 1h2m2 0zm2 1zm-12 2zm5 0zm3 0zm-71 1zm7 0zm-7 1zm-10 1zm9 0zm75 1zm4 1zm-8 2zm4 1zm16 0zm-93 2zm78 0zm1 1zm26 2zm-31 6zm9 0zm30 1zm-29 3zm0 4zm2 0zm-7 1zm30 0zm-121 4zm97 1zm-3 2zm-96 3zm110 1zm9 2zm-121 2zm100 0zm3 0zm1 1zm10 0zm-7 4zm3 0zm-10 10zm3 2zm-9 2zm-95 2zm91 4zm1 1zm-5 6zm0 1zm-1 1zm-7 2zm5 0zm2 0zm-87 2zm92 1zm-90 4zm67 1zm-5 1zm7 1zm-68 1zm59 0zm-59 1z"/>
<path stroke="#166fe1" d="M163 67zm-3 6zm14 6zm-10 2zm1 2h1m-13 2zm2 0zm10 0zm-6 1zm10 0zm-2 1h1m-18 1zm11 0zm8 0zm-10 1h2m6 0zm2 0zm-6 1zm5 0zm-14 1zm2 0h1m5 0h1m-10 1zm11 0zm11 0zm-4 1h1m-19 1zm10 0zm2 0zm6 0zm-31 1zm5 0zm18 0zm4 0zm6 0zm-34 1zm3 0zm3 0h1m12 0zm6 0zm2 0zm-24 1zm5 0h1m10 0zm10 0zm4 0zm-27 1zm2 0zm4 0zm2 0zm9 0h2m2 0zm6 0zm-29 1h1m5 0zm17 0zm-29 1zm3 0zm2 0zm27 0zm3 0zm-3 1zm2 0h1m-38 1h1m4 0zm23 0zm3 0zm9 0h2m-37 1h1m0 1zm28 0zm18 0zm-48 1zm3 0h1m20 0h1m7 0zm17 0zm-48 1zm3 0zm19 0h1m7 0zm4 0zm4 0zm-43 1h2m4 0h1m3 0zm16 0h1m16 0zm-40 2zm32 0zm3 0zm-18 1zm15 0zm6 0h1m-47 1zm2 0zm5 0zm39 0h1m5 0zm-45 1zm43 0zm-43 1zm4 0h2m-15 1zm13 0zm32 0h2m6 0h1m-41 1zm36 1zm4 0zm-14 1zm8 0zm-46 1zm2 0zm44 0zm2 0zm2 0h1m-50 1zm40 0zm4 0zm-51 1zm7 0zm43 0zm-43 1zm46 1h1m7 0zm-59 1zm51 0zm-8 1zm9 0h1m-51 1zm42 0zm5 0h1m2 0zm-55 1zm52 0h1m-50 1zm53 0zm-54 1zm7 0zm47 0zm9 2zm-68 1h1m3 0zm53 0zm5 0zm6 0zm-69 1zm58 0zm4 0zm6 0zm-8 1zm8 0h2m-7 1zm-63 1zm63 0zm-4 1zm-59 1zm60 0zm4 0zm-3 1zm-66 1zm2 0zm64 0zm4 0zm3 0zm-71 1zm62 0zm2 0h1m2 0zm0 1zm4 0zm-4 1zm3 3zm-74 1zm74 0h1m-8 2zm-70 1zm77 0zm4 0zm-3 2zm2 1h1m2 0zm-3 1zm3 0zm-1 1zm-3 1zm2 0h1m-87 2zm87 0zm10 1zm-10 1h2m4 0h1m4 0zm-11 1zm3 0zm0 1zm-93 3zm92 1h1m-1 2zm0 1zm0 2zm-4 1zm1 1zm2 0zm-3 1zm2 0zm1 1zm8 0zm0 1zm-4 1zm-5 1zm-1 1zm6 0zm-7 1h1m3 1h1m4 0h1m-7 3zm-3 1h1m-92 1zm91 1zm4 0zm-96 1zm93 0zm2 1zm-4 1zm2 0zm3 0h1m-5 1zm0 1zm-92 1zm93 0zm-5 1h3m-1 2zm1 1zm-4 1zm-5 3zm1 1zm-3 1zm9 0zm-90 1h1m83 1zm2 0zm-85 1zm76 0zm0 1zm3 0zm-3 2zm-77 1zm68 0zm6 0h1m-75 1zm69 0zm0 1zm3 0zm-9 4zm2 0zm-4 2zm-58 3zm52 0zm-4 2zm2 0zm-9 1zm10 0zm-9 1h1m3 0zm5 0z"/>
<path stroke="#eb5b00" d="M129 155h1m1 1zm10 0zm-18 1h1m5 0zm3 0zm3 0zm6 0zm-17 1h2m3 0zm2 0h8m2 0h1m3 0h1m4 0h1m-34 1zm5 0h2m4 0h4m6 0h4m2 0zm5 0h1m-38 1h1m3 0h6m10 0zm9 0zm5 0zm-34 1zm4 0h1m4 0zm25 0zm-34 1zm3 0h3m27 0h5m-41 1h4m33 0h4m-41 1h3m36 0h2m-41 1zm6 0zm33 0h3m0 1h1m-44 1zm45 0zm-45 1zm44 0zm3 0zm-3 1zm-46 1h2m44 0zm5 0h1m0 1zm-53 1zm52 0zm-51 1zm48 0zm2 0h1m-51 1zm49 0h2m-53 1h1m52 0zm0 1zm0 1zm-53 1zm54 0zm2 0zm-56 1zm54 0zm2 0h1m-57 1zm54 0zm-54 1zm54 0zm-54 1zm53 0h2m-55 1zm53 0zm2 0h1m-2 1zm2 0zm-3 1h3m-57 1zm54 0zm1 1zm-54 1h2m48 0h4m-54 1zm3 0h1m47 0zm-51 1zm3 0h1m46 0h1m-51 1zm3 0zm46 0zm-46 1zm46 0zm-47 1h2m43 0h2m-47 1h2m2 1zm40 0zm-41 1h1m38 0h1m-38 1zm33 0h4m-36 1zm30 0zm-30 1zm3 0h1m26 0zm-28 1zm3 0zm2 0zm18 0h1m2 0h1m-24 1h2m10 0h4m3 0h1m-15 1h1m3 0h2m6 0h2m-16 1h1m3 0zm2 0zm2 0h1m4 0zm-9 1z"/>
<path stroke="#eb4601" d="M129 156h1m0 1h1m-1 1zm-5 1zm2 0zm6 0h4m6 0zm2 0zm-22 1h8m2 0zm4 0h3m4 0h1m-27 1h2m2 0h6m4 0zm7 0h2m3 0h1m-26 1zm6 0h1m2 0zm12 0h2m2 0zm-30 1h4m22 0h2m3 0zm-32 1h3m29 0h2m-37 1h1m3 0zm2 0zm30 0h1m-37 1h1m3 0h1m33 0h2m-41 1zm40 0h3m-3 1h2m2 0h1m-46 1zm42 0h1m2 0h2m-4 1zm2 0h3m-50 1h2m49 0zm-51 1h2m46 0h2m-49 1zm0 1zm47 0zm-48 1zm49 0h1m-52 1h2m50 0zm-52 1h1m0 1zm52 0zm-52 1zm52 0zm-1 1h1m-2 1h2m-2 1h1m-2 1h2m2 0zm-53 1zm49 0zm3 0zm2 0zm-55 1h1m48 0h1m2 0zm-4 1h4m-52 1h1m47 0h5m-50 1h1m45 0zm-44 1zm45 0zm-49 1h1m47 0zm-48 1h1m2 0zm42 0zm2 0zm-44 1h1m2 0zm39 0h2m-43 1h1m39 0h1m-41 1h2m37 0h2m-42 1h1m2 0zm3 0h1m30 0h1m2 0h1m-38 1h1m3 0zm29 0h3m-35 1h3m23 0h3m2 0zm-30 1h3m22 0h3m-28 1h1m3 0zm2 0h1m4 0h3m10 0h2m2 0zm-23 1zm2 0h1m4 0h2m3 0h2m3 0h1m-16 1h8m6 0h1m-15 1h1m3 0h1m0 1z"/>
<path stroke="#eb3703" d="M126 159zm8 1h2m6 0h1m-14 1h2m2 0zm3 0h2m4 0h1m-23 1h4m3 0zm2 0h4m5 0h1m4 0zm-24 1zm3 0zm3 0zm3 0zm5 0zm5 0h1m4 0h1m-27 1h1m20 0h3m3 0zm-32 1h1m4 0h1m20 0h2m3 0h2m-33 1h1m3 0zm27 0h4m-37 1h2m2 0h1m30 0zm3 0zm-39 1zm4 0zm28 0zm7 0zm-39 1h1m3 0zm36 0zm-40 1h1m40 0zm-41 1zm43 0h4m-47 1h1m43 0zm-45 1h1m44 0zm-45 1zm45 0zm-46 1h1m44 0h2m-47 1h1m46 0h1m-49 1h1m47 0h2m-50 1zm50 0zm-50 1zm3 0zm45 0zm2 0zm-51 1h3m46 0h1m-50 1h2m47 1zm-49 1h1m0 1h1m45 0h1m2 0h1m-50 1zm2 0zm44 0zm3 0zm-51 1h2m2 0zm43 0zm-45 1h2m43 0zm-42 1zm42 0h1m-1 1h2m-44 1zm38 0zm3 0h2m-43 1h2m35 0h1m2 0zm2 0zm-41 1zm39 0zm-38 1zm36 0h1m-36 1zm31 0zm2 0h2m-35 1h1m3 0zm26 0zm2 0zm3 0zm-34 1h1m2 0zm20 0h7m-27 1zm5 0zm10 0h1m4 0h1m5 0zm-25 1h4m3 0h3m3 0h3m3 0h1m-19 1zm3 0zm2 0zm5 0h5m2 0h1m4 0zm-18 1h2m4 0h1m4 0h1"/>
<path stroke="#eb2a05" d="M134 161h1m1 1h1m-17 1h1m2 0h1m2 0h1m2 0h3m2 0zm2 0h1m-18 1zm2 0h1m10 0h1m4 0zm5 0h1m-24 1zm18 0zm4 0h1m-25 1h2m19 0h1m3 0zm-29 1zm3 0zm25 0h3m2 0h1m-37 1zm2 0zm2 0h1m25 0zm2 0zm2 0zm-33 1h1m2 0zm26 0h1m7 0zm-37 1zm2 0zm36 0zm-39 1h1m39 0h1m-40 1zm38 0h1m2 0zm-42 1zm40 0zm-41 1zm0 1zm41 0h1m-42 1zm42 0h2m-45 1zm-1 1h2m45 0h1m-47 1zm47 0zm-46 1zm-1 1zm46 0zm-49 1h2m0 1zm45 0h1m-45 1h1m42 0zm-44 1zm2 0zm2 0zm40 0zm-44 1zm2 0h2m-2 1zm39 0h2m-40 1zm38 0h2m-40 1zm40 0zm-40 1h2m31 0h3m2 0h1m-37 1zm32 0h1m3 0zm-36 1zm33 0h3m-36 1zm30 0h2m2 0zm-33 1h4m24 0h1m2 0zm-27 1zm20 0h1m2 0h1m2 0zm-26 1h1m12 0h2m3 0zm-18 1h3m2 0zm2 0h2m4 0zm3 0zm2 0zm-13 1h1m5 0h1m5 0h1m-13 1zm12 0z"/>
<path stroke="#eb2606" d="M134 162h1m0 1zm-15 1zm3 0h8m3 0h2m-16 1h16m-16 1h17m3 0h1m-24 1h23m-29 1zm5 0h23m4 0zm2 0h2m-32 1h24m3 0h5m-35 1zm2 0h34m-36 1h37m-37 1h36m3 0zm-40 1h38m2 0h1m-42 1h42m-42 1h39m-39 1h40m-41 1h44m-43 1h43m-46 1zm3 0h43m-43 1h43m-44 1h44m-45 1h45m-45 1h43m-41 1h40m-40 1zm2 0h38m-38 1h38m-40 1h37m-36 1h36m-36 1h38m-36 1h29m-29 1h30m-30 1h31m-31 1h28m4 0zm-27 1h22m-22 1h18m3 0zm-20 1h10m4 0h1m-11 1zm4 0h2m5 0z"/>
<path stroke="#6166da" d="M150 36zm-18 8zm35 1zm26 2zm-24 5zm-3 2zm24 3zm-26 2zm15 1zm-4 1zm-41 1zm36 0zm-21 1h1m106 1zm-95 1zm2 0zm-3 1h1m25 1zm-1 1zm-34 1zm15 2zm-35 2zm26 1h1m11 0zm10 0zm-14 1zm17 0zm-42 1zm14 0zm3 1zm-15 5zm37 1zm-39 1zm13 0zm18 0zm10 1zm-39 1zm25 0h1m-63 1zm34 0zm45 0zm-5 1zm4 0zm5 0zm-49 1zm14 0zm33 0zm-51 1h1m12 0zm25 0zm-41 2zm36 0zm11 0zm-36 1zm38 0h1m-39 1zm48 0zm-16 1zm-40 1zm49 0zm-49 1zm51 0zm-10 2zm16 0zm-15 1zm1 1zm12 0zm-62 1zm54 1zm7 5zm-67 2zm85 0zm-88 1zm64 0zm13 3zm-13 1zm11 2zm-71 5zm67 0zm-4 2zm11 1zm-15 1zm10 1zm-8 1zm14 0zm-80 1zm71 0zm10 0zm-1 2zm-6 4zm16 0zm-24 2zm0 1zm8 5zm1 1zm7 3zm-1 3zm-3 1zm0 1zm-3 6zm9 1zm-5 2zm10 2zm-10 3zm0 5zm6 2zm-2 1zm2 1zm-4 4zm1 1zm-5 9h1m3 0zm-9 9zm-6 2zm5 3zm0 3zm-96 1zm91 2zm-19 5zm-9 4zm2 0zm-3 2zm-60 2zm56 0zm0 2z"/>
<path stroke="#5460db" d="M166 55zm14 6zm-20 1zm93 0zm-117 1zm14 1zm22 0zm4 0zm-14 2zm7 0zm-9 1zm25 0zm8 1zm-53 1zm25 1zm19 1zm8 0zm-9 1zm3 0zm-24 1zm2 0h1m10 0zm-29 1zm5 0zm9 0zm22 0zm2 0zm-21 1zm15 0zm3 0zm2 0zm-4 1zm-4 1zm-21 1zm14 0zm-35 1zm25 0zm15 0zm-55 1zm39 0zm15 0zm17 0zm-23 1zm10 0zm-9 1zm22 0zm-52 1zm8 0zm22 0zm9 0zm13 1zm-50 1zm2 0zm26 0zm2 0zm2 0zm11 0zm-35 1zm-4 1zm2 0zm20 0zm8 0zm-35 1zm2 0zm8 0zm4 0zm24 0zm-49 1zm25 0zm-6 1zm3 0zm30 0zm-48 1zm12 0zm29 0zm-36 2zm11 0zm44 0zm-22 1zm-35 1zm7 0zm6 0zm50 0zm-19 1zm-4 1zm-38 1zm34 0zm4 0zm22 0zm-63 1zm44 0zm5 0zm-49 1zm47 0zm4 0zm-51 1zm58 0zm-63 2zm3 1zm54 0zm-5 1zm25 0zm-78 1zm5 0zm55 0zm-67 1zm11 0zm2 0zm47 0zm-51 1zm65 0zm-8 1zm3 0zm-69 1h1m3 0zm8 0zm53 0zm3 0zm-63 1h3m58 0zm3 0zm-15 1zm9 0zm-61 1zm3 0zm59 0zm-62 1zm68 0zm-62 1zm54 0zm-58 3zm58 0zm-57 1zm-6 1zm8 0zm55 0zm-55 1zm58 0zm5 0zm-75 1zm64 0zm-59 1zm61 0zm8 0zm-6 1zm-66 1zm62 0zm19 1zm-83 1zm76 0zm7 0zm-7 1zm6 0zm-81 1zm78 0h3m59 0zm-62 1zm-11 1zm4 0zm12 0zm-21 4zm9 0zm5 1zm5 1zm-85 1zm75 1zm-76 2zm77 2zm14 0zm-94 1zm95 0zm-5 2zm-93 3zm81 0zm9 1zm-93 3zm90 0zm2 0zm4 0zm15 1zm-23 2h1m-91 3zm99 1zm2 0zm-6 1h1m7 0zm-8 2zm0 1zm-1 1zm-2 1zm3 1zm6 0zm-6 1h1m3 2zm1 4zm2 0zm-5 1zm3 0zm-105 5zm104 0zm-106 1zm100 0zm-99 1zm99 0zm4 0zm0 1zm-103 1zm104 2zm-104 4zm94 0zm10 0zm6 0zm-11 3zm-9 5zm4 0h1m-9 3zm14 1zm-101 1zm0 1zm0 2zm85 1zm2 0zm-6 1zm-2 1h2m2 0zm-8 3zm-4 1zm5 0h1m2 1zm-11 3zm2 0zm2 1zm-15 5zm-4 1z"/>
<path stroke="#4554db" d="M175 46zm19 1zm-61 3zm54 5zm-19 1zm-6 1zm8 3zm5 0zm11 0zm-26 1zm-1 1zm17 0zm2 2zm-21 1zm-5 1zm4 0zm21 1zm-35 1zm19 0zm2 0zm29 0zm-51 1zm38 1zm-18 2zm5 0h1m8 0zm3 0zm-27 1zm25 0h2m6 0zm-32 1zm26 0zm3 0zm-27 1h1m13 0h1m-5 1zm5 0zm-26 1zm11 0zm13 0zm29 0zm-51 1zm19 0zm10 0zm10 0zm-23 1zm18 0h1m-63 1zm16 0zm42 0zm5 0zm-50 1zm9 0zm20 0h1m8 0h1m-31 1zm3 0zm19 0h1m13 0zm-33 1h1m21 0zm5 0zm-17 1zm16 0zm16 0zm-10 1zm7 0zm-32 2zm24 0zm2 0zm2 0zm10 1zm-32 1zm-11 1zm2 0zm10 0h2m15 0zm9 0zm-52 1zm7 0zm37 0zm4 0zm-48 1zm14 0zm5 0zm21 0zm2 0zm-31 1h1m44 0zm11 0zm-60 1zm11 0zm46 0zm-16 1zm23 0zm-65 3zm-9 1zm47 0zm-51 1zm6 1zm54 0zm3 0zm5 1zm2 0h1m-64 2zm58 0zm-11 1zm2 0zm5 0zm-59 2zm6 0zm59 0zm-68 1zm55 0zm6 0h1m-4 1zm-60 1zm67 0zm-2 1zm11 1zm-66 2zm66 0zm-7 1zm8 0zm-86 2zm9 1zm5 1zm63 0zm-4 1zm4 0zm-68 2zm59 0zm6 0zm-2 1h1m-59 1h1m62 0zm-71 1zm81 1zm-9 1zm-3 1zm-68 1zm60 1zm11 0zm-3 1zm6 2zm3 2zm-17 1zm14 0zm-8 1zm4 1zm5 0zm-81 2zm-4 1zm79 1zm5 2zm-2 1zm3 0zm1 1zm-4 1zm-3 1zm12 0zm-94 4zm88 3zm0 1zm-1 1zm5 0zm-3 3zm5 0zm2 0zm2 0h1m-103 1zm93 0h1m9 4zm-4 2zm6 0zm-7 1zm-4 3zm-98 1zm104 1zm-104 1zm0 1zm108 0zm-5 3zm-4 1zm0 1zm6 0zm-4 1zm-101 1zm103 2zm-4 2zm6 0zm-8 1h1m-4 2zm-2 2zm2 3zm0 1zm2 0zm-8 2zm0 2zm-2 1zm-3 6zm-7 1zm4 0zm3 0zm-86 2zm69 1zm12 1zm-8 3zm4 0zm-3 3zm0 1zm-13 2zm1 1zm-57 1z"/>
<path stroke="#195fe3" d="M162 67zm2 0zm-4 5zm10 6zm-2 1zm6 1zm-17 1h1m3 0zm4 0zm-8 2h1m4 2h1m-14 1zm22 0zm-22 1h1m8 0zm11 0h1m-21 1zm9 0zm2 0zm-16 1h1m13 0zm-6 1zm6 0zm4 0zm-18 1zm9 0zm5 0zm-8 1zm15 0zm9 0zm2 0zm4 0h1m-31 1zm3 0h1m5 0zm2 0zm12 0zm3 0zm-31 1zm19 0zm8 0zm-28 1zm5 0zm23 0zm-29 1zm5 0h1m16 0zm3 0zm4 0h1m-30 1zm8 0zm2 0zm-4 1h1m17 0h1m5 0zm-38 1zm2 0h1m32 0zm2 0zm-24 1zm19 0zm-30 1zm38 0zm-45 1zm8 0zm31 0h2m2 0zm-40 1zm2 0zm39 0zm-41 1zm2 0zm4 0zm4 0zm19 0zm9 0zm-38 1zm53 0zm-7 1zm-45 2h1m34 0zm5 0zm-44 1zm5 0zm-6 1zm2 0zm5 0zm34 0zm7 0zm12 0zm-9 1zm-49 1zm4 0zm47 0zm-56 1h1m5 0zm47 0zm3 0zm-43 1zm50 0zm-62 1zm48 1zm7 0zm-56 1zm3 0zm0 1zm43 0zm5 1h1m-55 1zm5 0zm45 0zm3 0zm0 1zm6 0h1m-58 1zm3 0zm44 0zm10 0zm-59 1zm2 0zm47 0zm-49 1zm51 0zm-51 2zm53 0zm-54 1zm1 2zm63 0zm-63 1zm-2 1zm58 0zm2 0zm1 1h2m-71 1zm65 0zm4 0h1m-67 1zm68 0zm-8 1zm7 0zm2 0zm-68 1zm62 0zm4 0zm-1 1zm10 0zm-79 2zm73 1zm-73 1zm76 0zm0 1zm-8 2zm-72 1zm74 0zm3 0h1m-78 1zm-2 1zm76 0zm-76 1zm83 0zm-2 2zm-2 1zm3 0zm5 0zm-89 1zm-1 1zm79 1zm1 1h1m2 1zm-3 1h1m3 1h1m6 0h1m4 0zm-12 1zm10 0zm-3 1h1m-4 3zm5 0zm-2 3zm5 0zm-9 3h1m1 4zm0 1zm4 5zm-4 1zm-2 2zm4 0zm-99 1zm95 0h1m3 0h1m-100 1zm95 1zm6 0zm-6 2h1m-3 1zm2 0zm-5 2zm6 0zm-3 2zm-3 2zm2 0zm-1 1zm-4 1zm-5 4zm3 0zm-2 1zm-1 1zm0 1zm6 0zm-90 1zm85 0zm-4 2zm-4 1zm0 2zm-9 6zm1 1zm-67 1zm55 2zm2 1zm-56 1zm52 0zm-7 1zm6 0zm-5 1zm1 1z"/>
<path stroke="#1d52e2" d="M163 66zm-1 2zm-7 5zm6 0zm-8 1h2m8 4zm6 1zm-8 1zm8 0zm-7 1h1m11 0zm-11 1zm3 0zm-20 1zm18 0zm9 0h1m0 1zm6 0zm-32 2zm2 0zm3 0zm3 0zm2 0zm8 0zm8 0zm4 1zm9 0zm-36 1zm36 0zm-38 1zm10 1zm8 0zm-30 1zm38 0zm6 0zm-37 1zm16 0zm2 0zm10 0zm-12 1zm-6 1zm12 0zm8 0h1m-38 1zm34 0zm-24 1zm-8 1zm10 0h1m-2 1zm21 0zm-35 1zm2 0zm12 0zm23 0zm-30 1zm29 0zm3 0zm8 0zm-47 1h1m41 0zm-45 1zm6 0zm35 0zm5 0zm-48 1zm13 0zm23 0zm8 0zm3 0h1m-45 1zm31 0zm20 0zm-54 1h1m10 0zm29 0zm4 0zm-43 1zm11 0zm-16 1zm3 0zm51 0zm-8 1zm7 0zm-44 1zm42 0zm-5 1zm-39 1zm3 0zm42 0zm5 0zm-55 1zm5 0zm2 0zm42 0zm-45 1zm2 0zm43 0zm-50 1zm5 0zm57 0zm-65 1h1m6 0zm9 0zm37 0zm5 0zm8 0zm-62 1zm46 0h1m5 1zm2 0h1m-57 1zm44 0zm8 0zm-55 1zm5 0zm49 0zm3 0zm-59 1h1m58 0h1m-54 2zm51 0zm-3 1zm-52 2zm3 0zm47 0zm-52 1zm4 0zm48 0zm5 0zm-56 1zm2 0zm50 1zm13 0zm-64 1zm-7 1zm65 0zm-3 1h1m1 2h1m-67 1zm70 0zm2 0zm2 0zm3 0h1m-7 1zm-6 2zm13 0zm-78 1zm2 0zm67 0zm4 0zm-74 2zm72 0zm5 0zm-80 3zm72 0zm3 0h1m-1 1zm-76 1zm77 0zm-78 1zm81 0zm-1 1zm5 0h1m-10 1zm4 1zm2 0h1m-3 1zm8 1zm-2 1h1m-3 1zm-88 1zm84 1zm7 0zm-92 1zm82 0zm2 0zm8 3zm-2 3h1m3 2zm-5 2zm10 0zm-9 1zm2 5zm-98 1zm96 0zm-1 1zm8 0zm-5 1zm5 0zm-3 2h1m-2 1h1m0 1zm2 1zm-104 1zm102 1zm-6 2h2m4 0zm-9 1zm5 0zm4 0zm-8 1zm-94 2zm1 2zm96 0zm-1 1h1m-1 1zm-3 1zm-3 1h1m-91 2zm90 0zm-90 1zm96 0zm-96 1zm0 3zm89 1zm2 0zm-13 3h1m6 0zm-85 1zm83 0zm-4 4zm-9 2zm2 0h1m3 0zm-13 4zm1 1h1m-4 1zm-3 2zm-6 2zm-5 1zm3 0zm-7 1zm5 0z"/>
<path stroke="#3b48da" d="M168 57zm2 2zm16 0zm-15 1zm-37 1h1m24 0zm20 0zm1 1zm-31 2zm12 0zm18 0zm-1 3zm-37 1zm23 0zm-25 1zm3 0zm13 0h1m8 0zm14 0zm-14 1zm13 0zm16 1h1m-20 1zm10 0zm-56 1zm26 0zm2 0zm10 0zm3 0zm-8 1zm3 0zm-7 1zm22 0zm-49 1zm23 0zm3 0zm5 0h2m11 0zm-30 1zm20 0zm-12 1zm5 0zm4 0zm25 0zm-41 1zm5 0zm14 0zm7 0zm-25 1zm3 0zm19 0zm-24 1h2m10 0zm26 0zm7 0zm-44 1zm14 0zm3 0zm8 0zm6 0zm4 0zm3 0zm-36 1zm4 0zm3 0zm5 0zm12 0zm4 0zm14 0zm-52 1zm2 0zm11 0zm6 0zm7 0zm-16 1zm2 0zm3 0zm4 0zm14 0zm6 0zm7 0zm-18 1zm8 0zm3 0zm3 0zm13 0zm-59 1h1m12 0zm10 0h1m7 0zm7 0zm17 0zm-47 1zm2 0zm3 0zm7 0zm2 0zm23 0zm6 0zm-44 1h1m6 0zm15 0h1m-23 1zm7 0zm22 0zm19 0zm-47 1zm26 0h2m10 0h1m3 0zm5 0zm-22 1zm-22 1zm4 0zm-2 1zm30 0zm8 0zm8 0zm-59 1zm3 0zm33 0h1m-33 1h1m36 0zm7 0zm-44 1zm33 0zm11 0zm-47 1zm7 0zm36 0zm4 0zm11 0h1m-53 1h1m52 0zm-1 1zm-60 1zm5 2zm0 1zm32 0zm8 0zm-50 1zm47 0h1m9 0zm4 0zm16 0zm-79 1zm8 0zm52 0zm-56 1zm52 0h1m-51 1zm2 0zm44 0zm2 0zm-58 1zm8 0zm3 0zm48 0zm3 0zm2 0zm2 0h1m-60 1zm6 0zm63 0zm-63 1zm-8 1zm3 0zm4 0zm42 0zm10 0zm10 1zm-71 1h1m57 0zm-64 1zm4 0zm56 0zm6 1zm7 0zm-63 1zm56 0zm2 1h1m-66 1zm65 1zm-64 1h1m55 0zm-52 2zm54 0zm-60 1zm6 0zm56 0zm7 0zm-68 1zm-3 2zm63 0h1m5 0zm-69 1h1m64 0zm-65 2zm4 0zm57 0zm8 0zm2 0zm-74 1zm67 0zm-68 1h1m75 1zm-76 2h1m-2 1zm74 0zm8 0h1m-82 1h1m-8 3zm1 1zm79 0zm4 0zm-3 1zm3 0zm26 0zm-26 1zm0 6zm3 0zm4 0zm-94 1zm86 0zm2 0h1m-89 1zm86 0zm-87 2zm90 0zm-1 1h1m-2 1zm4 0zm-94 1zm92 1zm2 0zm5 0zm-99 1zm91 0zm9 0zm-101 2zm94 2zm9 0zm-9 1zm4 0zm5 0zm-5 1zm-1 1zm5 0zm-104 1zm96 0zm-1 1h1m4 0zm2 0zm-3 2zm-2 1zm2 0h1m17 0zm-16 1zm0 1h2m-106 1zm113 0zm-5 1zm-6 2zm2 0h1m4 0h1m-4 1zm-7 2zm-2 2zm9 0zm-106 3zm103 0zm-104 1zm105 1h1m-8 2zm4 0zm-101 3zm97 0zm-98 1zm97 1h1m-98 2zm97 0zm2 0zm-6 2zm2 0zm2 0zm-7 4zm-5 1zm6 1zm-5 2zm-4 1zm7 0zm-10 1zm-80 1zm84 0zm-2 1zm-1 1zm-9 2zm1 1zm-2 1zm7 0zm-7 1zm1 2h1m-70 1zm65 0zm-10 2zm-55 1zm55 0zm-6 2z"/>
<path stroke="#1f48e0" d="M156 65zm5 2zm-9 5zm33 0zm-33 1h1m3 1zm-3 1zm14 1h1m-7 1zm2 0zm-10 1zm16 0zm16 0zm-22 1zm-1 1zm11 1zm-27 1zm23 0zm12 0h1m-2 1zm-42 1zm8 0zm8 0h1m9 0zm9 0zm-13 1h1m-10 1zm9 0zm2 0zm-21 1h1m9 0zm4 0zm5 0zm6 0zm11 0zm2 0zm-37 1zm20 0h1m3 0zm-2 1h1m-5 1zm4 0zm-34 1zm29 0h2m3 0zm10 0zm8 0zm-45 1h1m23 0zm12 0zm-35 1zm28 0h1m3 0zm-26 1zm5 0zm19 0zm2 0zm-22 1zm16 0zm4 0zm-27 1zm3 0zm25 0zm8 0zm-37 1h1m30 0zm2 0zm4 0zm-38 2zm3 0zm25 0zm-31 1zm38 0zm8 0zm-12 1zm-41 1zm3 0zm4 0zm2 1zm6 0zm25 0h2m4 0zm-39 1zm2 0zm32 0zm-42 1zm11 0zm40 0zm-51 1h1m-1 2zm8 0zm34 0zm11 0zm-50 1zm5 0zm38 0zm3 0zm-3 1zm-50 1zm50 0zm-53 2zm51 0zm11 0zm-8 1h1m-1 1zm5 0zm10 0zm-67 1h1m5 0zm48 0zm1 1zm2 0zm-7 1zm7 0zm0 1zm-3 1h1m-57 1zm7 0zm-4 1zm3 0zm46 0h1m7 0zm-3 1zm-51 1zm45 0zm6 0zm-58 1zm3 0zm54 0zm-58 1zm59 0zm3 0zm-61 1zm53 0zm-52 1h1m65 0zm0 1zm-71 1zm65 0zm-64 1zm-1 1zm64 0zm-66 1zm67 0zm-4 1zm2 0zm2 0h1m6 0zm-72 1zm63 0zm7 0zm-1 1zm-69 1zm69 1zm-1 1zm-76 1zm5 0zm72 0zm2 0h1m0 1zm2 0zm0 1zm-8 2h1m2 0zm5 0zm2 2zm-8 1zm0 1zm5 0zm-83 1zm-1 1zm84 0zm5 0zm-89 1zm82 0h1m5 0zm-9 3zm6 0h1m-1 1zm0 3zm2 1zm5 0zm-3 1zm3 2zm-98 1zm94 0zm3 0zm2 2zm2 0zm-4 1zm3 0zm-7 2h1m5 3zm-11 1zm3 1h1m3 0zm0 1zm-4 3zm5 0zm2 1zm1 1zm-7 2zm2 2zm2 1zm2 0zm-8 1zm5 0h1m3 0h1m-104 1zm94 0h1m3 0zm-4 1h1m-96 2zm96 4zm-3 1zm1 1zm-3 1zm2 0h1m3 0zm-8 1zm0 1zm0 1zm0 2zm-4 2zm4 0zm-11 3zm6 0zm-84 1zm80 0zm-80 1zm81 0h1m-9 2zm3 0zm0 1zm3 0zm-4 1zm-11 3zm1 1h1m-11 6h1m-8 1z"/>
<path stroke="#273fdc" d="M170 53zm1 6zm5 1zm2 10zm7 1zm-3 2zm-18 2zm-7 1zm9 0zm-13 1zm7 0zm8 0h1m-25 1zm27 0zm-27 1zm7 0h1m18 0zm3 1zm-17 2zm12 0zm5 0zm-4 1h1m-13 1h1m21 0zm-31 1zm2 0zm7 0h2m-7 1zm9 0zm3 0zm8 0zm3 0zm-23 1h2m7 0zm-34 1zm12 0zm6 0zm32 0zm-31 1zm2 0zm18 0zm21 0zm-57 1zm11 0zm12 0zm21 0h1m7 0zm-42 1zm36 0zm-37 1zm2 0zm8 0zm33 0zm2 1zm-47 1zm11 0zm-5 1zm3 0zm28 0zm-38 1zm35 0zm-35 1zm8 0zm34 0zm-40 1zm2 0zm2 0zm2 0zm27 0zm10 1zm-50 2zm46 0zm16 0zm-60 1zm39 1zm3 1h1m6 0zm-5 1zm8 0zm-54 1zm43 0zm2 0zm-2 1h2m-1 1zm5 0zm-47 1zm38 0zm7 0zm6 0zm-12 1h1m10 0h1m-11 1zm17 0zm-62 1zm2 0zm-2 1zm46 0zm5 1zm4 0zm-58 1zm4 0zm48 0zm2 0zm12 0zm-66 1h1m46 0zm6 0zm12 0zm-18 1h1m12 1zm-65 1zm3 0zm3 0zm-2 1zm-4 1zm52 0zm7 0zm2 0zm5 0zm-66 1zm-5 1zm12 0zm52 0zm2 1zm0 1zm-64 1h1m60 1zm5 0h1m2 0zm-66 1zm61 0zm-60 1zm60 0zm7 0zm-71 1zm78 0h1m-81 3zm-1 1h1m74 0zm2 1zm-76 1zm-2 1zm1 1zm69 1zm-71 2zm74 0zm17 2zm-16 1h1m4 0zm-85 1zm81 0zm2 0zm-5 2h1m2 0zm0 1zm3 0h1m-7 2zm7 1zm0 1zm-90 2zm92 0zm-1 1zm0 1zm5 0zm-4 1zm3 0zm2 0zm-5 1zm4 0zm3 1zm-4 1zm1 2zm-1 2zm-2 1zm6 0zm-7 5zm4 6zm-4 4zm-2 2zm2 0zm-1 2zm7 1zm-6 1zm1 2zm4 2zm-8 2h1m-1 2zm2 0zm-4 1zm0 1h1m-4 1zm4 3zm-95 4zm78 2zm-1 4zm-8 6zm-8 1zm4 0zm4 0zm-14 3zm-4 3zm-8 1z"/>
<path stroke="#2438da" d="M171 58zm5 3zm-18 10zm27 2zm0 1zm-29 1zm9 1zm-3 1zm0 1zm0 1zm-18 1h1m5 0zm13 0h1m16 1h1m-43 2zm17 0h1m25 0h1m-23 1zm16 0zm6 0h1m-31 1zm13 0zm10 0h1m2 0h2m-22 1zm6 0zm14 0h1m-16 1h1m-9 1zm10 0h1m-23 1h1m18 1zm4 0h1m21 0zm-22 1h1m12 0zm-38 1zm-3 1zm2 0zm10 0zm19 0h1m-31 1h1m34 0zm-35 1zm27 0h1m15 0zm-11 1zm-32 1zm31 0zm-30 1zm4 0zm37 1zm-46 1h1m40 0h1m9 0zm-49 1zm56 0zm-56 2zm7 0zm-15 1zm44 0h2m-34 2zm35 0zm-5 3zm5 0zm-40 1zm43 0h2m-8 1zm6 0h1m6 0zm-13 1h1m4 0h1m-5 1zm2 0zm2 0h1m-50 1zm49 0h1m-52 1zm53 1zm4 0zm-59 1h1m52 0zm6 0zm0 1h1m-65 1zm5 2zm49 0zm4 0zm3 0zm0 1zm-7 1zm15 0zm-15 1zm6 0h1m8 0zm-10 1zm-62 1zm3 1zm66 0zm-3 1zm6 0zm-72 3zm65 1zm5 2zm-73 1zm82 0zm-81 1zm2 0zm62 0zm8 0zm-1 1h2m-5 6h1m6 0h1m-1 1zm-2 4zm6 0zm-1 1h1m-7 1zm5 0zm0 1zm0 1zm-6 4zm9 0zm-2 1zm6 0zm-7 1zm6 0zm-4 1zm-94 3zm103 2h1m-7 1zm3 0zm-1 1zm-4 2zm3 0zm-3 1h2m0 1zm-4 4zm6 3h2m-2 1zm-103 3zm99 0h2m-2 2zm0 1zm-99 1zm93 0zm2 0zm3 0zm-1 9zm-4 3zm-5 3zm-89 5zm81 2zm-7 3h1m2 0zm-4 1h2m2 0h1m-14 5zm-8 5z"/>
<path stroke="#fbfbfd" d="M508 128zm0 2zm-154 61zm124 5z"/>
<path stroke="#fbfbfc" d="M410 143zm-23 13zm76 41zm-115 6zm41 8z"/>
<path stroke="#f9f9fc" d="M499 107zm-1 1zm-41 9zm-1 2zm-10 2zm-5 1zm5 0zm-4 1zm-5 4zm-2 1zm73 9zm-1 2zm-94 1zm0 1zm-8 4zm101 9zm-119 1zm-4 2h1m3 0zm0 1zm120 5zm-130 3zm128 0zm-6 15zm-141 4zm-7 4zm3 0zm-2 1zm136 3zm-14 5zm-126 4zm59 5zm-3 1zm3 0zm-10 1zm-13 4zm4 0zm-5 1z"/>
<path stroke="#f7f7fb" d="M446 120zm-11 6zm-36 24zm106 2zm1 11zm1 1zm-146 18zm118 13zm-5 2zm-24 1zm-63 13z"/>
<path stroke="#f7f7fa" d="M487 110zm-31 8zm-20 10zm0 1zm-26 12zm-4 4zm-14 9zm2 0zm109 4zm-127 12zm-21 17zm1 3zm63 12zm-5 1zm6 1zm-22 3zm-9 5zm-10 1z"/>
<path stroke="#f6f6fa" d="M506 129zm-83 6zm84 0zm-83 1zm82 0zm-97 9zm-12 6zm107 6zm2 9zm-127 1zm-8 5h1m129 0zm-3 9zm-144 11zm127 0zm5 0zm-9 2zm9 0zm-134 3zm77 3zm-15 2zm-5 1zm-10 5zm6 2zm-27 1zm1 1z"/>
<path stroke="#f5f5f9" d="M489 109zm-11 2zm23 0zm-53 10zm-26 16zm83 9zm0 3zm2 16zm-131 3zm125 5zm-131 1zm-13 14zm130 7zm-15 3zm-27 2zm-63 12zm-24 1z"/>
<path stroke="#f4f4f9" d="M488 108zm-9 3zm-27 10h1m-13 3zm5 0zm60 10zm1 4zm-2 15zm2 0zm-121 8zm-22 21zm0 1zm135 0zm-49 14zm2 0zm21 0zm-120 3z"/>
<path stroke="#f3f3f9" d="M502 114z"/>
<path stroke="#f4f4f8" d="M505 118zm-57 2zm3 1zm3 0zm50 21zm3 19zm-153 27zm-2 3zm0 11zm69 0zm-62 11z"/>
<path stroke="#f3f3f8" d="M484 116zm22 3zm-7 4zm-46 2zm54 3zm0 2zm-74 4zm-14 5zm-3 5zm87 5zm-106 1zm6 0zm0 1zm-1 1zm-5 4zm101 9zm-6 4zm-120 8zm-2 1zm124 0zm-122 1zm115 0zm6 1zm-134 4zm2 1zm129 1zm-140 5zm125 0zm11 2zm-9 2zm-42 1zm-6 1zm30 0zm-108 1zm3 0zm2 0zm-5 1zm93 0zm2 0zm-26 3zm-16 2zm-50 1zm37 0zm-1 2zm-35 1zm49 1zm-23 3z"/>
<path stroke="#f2f2f8" d="M502 109zm-1 3zm-21 2zm-3 1zm5 1zm-24 2zm7 0zm10 0zm7 0zm5 0zm-24 5zm1 1zm-28 2zm8 0zm7 2zm-9 2zm-16 9zm-4 2zm84 0zm-100 6zm90 3zm7 0zm-111 5zm4 1zm100 0zm0 1zm-113 2zm112 0zm0 2zm11 0zm-120 2zm-3 1zm117 3zm-121 1zm115 2zm2 0zm-122 3zm119 1zm-9 8zm14 0zm-2 1zm-4 4zm-20 2zm-13 3zm-105 1zm111 1zm-5 1zm-47 5zm8 0zm-10 2zm7 0zm-66 4zm37 0zm17 3zm-44 3zm25 0z"/>
<path stroke="#f1f1f7" d="M500 109zm-16 3zm3 0zm-10 5zm24 0zm-35 1zm10 0zm-11 2h1m9 0h1m22 1zm-58 6zm5 2zm63 0zm-73 2zm-5 1zm73 1zm0 1zm5 2zm-85 1zm77 0zm7 0zm-7 2zm-89 2zm4 0zm10 0zm80 1zm-89 3zm87 3zm-93 2zm-5 1zm91 0zm6 3zm-2 8zm-116 2zm-7 3zm0 1zm5 1zm-4 3zm112 3zm0 2zm-119 2zm122 7zm-131 1zm119 2zm-8 1zm-121 2zm100 1zm5 0zm30 0zm1 1zm-60 3zm17 1zm-91 1zm69 0zm-28 5zm24 0zm-36 3zm-4 1zm18 0zm-26 4zm7 0z"/>
<path stroke="#f0f0f6" d="M487 109zm0 2zm6 0zm7 0zm-2 3zm-8 3zm7 2zm7 0zm1 1zm-35 1zm27 1zm4 10zm-79 4zm-2 1zm1 2zm7 0zm78 1zm-85 1zm-6 2zm-1 1zm-2 5zm-4 3zm-23 4zm-1 3zm114 0h1m-112 2zm-14 13zm127 0zm-135 3zm0 1zm119 5zm-5 4zm0 3zm-17 1zm-7 1zm5 5zm2 0zm-40 1zm7 0zm-17 3zm-62 2zm49 0zm8 0zm-56 3zm3 0zm31 2zm13 1zm-46 2zm30 3zm-24 2zm10 0z"/>
<path stroke="#efeff7" d="M473 146zm-6 37zm-104 25z"/>
<path stroke="#efeff6" d="M501 109zm-12 1zm8 4zm-37 9zm18 1zm5 1zm-32 1zm5 0zm-8 1zm-8 1zm38 0zm13 0zm-43 1zm-13 1zm-5 3zm15 3zm45 3zm-75 1zm32 0zm51 1zm-76 1zm5 0zm59 2zm16 3zm-7 6zm-91 11zm92 0zm-100 7zm-14 4zm-13 1zm10 0zm114 0zm-10 5zm2 2zm-26 3zm7 0zm-1 2zm-15 5zm3 1zm5 0zm3 3zm-31 1zm-12 1zm-68 3zm58 2zm-13 1zm-20 2zm-15 3zm9 2zm0 4z"/>
<path stroke="#efeff5" d="M465 126zm6 35zm-108 28zm53 14z"/>
<path stroke="#eeeef5" d="M484 114zm12 5zm-7 5zm3 0zm-24 1zm1 1zm9 0zm-35 1zm12 1zm6 0zm18 0zm-25 1zm28 1zm-25 1zm-18 2zm8 4zm46 1zm7 0zm-75 2zm5 0zm-13 5zm3 2zm2 0zm-5 2zm-12 1zm6 1zm66 0zm-73 2zm76 0zm-61 1zm52 0zm-86 1zm113 0zm-4 1zm-109 1zm84 0zm10 0zm-84 1zm-1 2zm99 0zm2 0zm-117 6zm12 0zm95 1zm-92 1zm0 2zm2 0zm75 0zm5 0zm-98 1zm5 0zm9 0zm107 0zm-125 2zm10 0zm82 2zm23 1zm-20 1zm25 1zm-31 3zm28 4zm-16 1zm-10 1zm-97 2zm101 0zm-118 1zm89 1zm34 0zm-111 2zm101 2zm2 0zm-2 1zm-79 7zm-13 4zm34 0zm-35 1zm-19 3zm8 5z"/>
<path stroke="#ececf5" d="M500 108zm-10 4zm3 0zm0 1zm-31 6zm-22 4zm5 0zm-4 1zm5 0zm45 0zm-45 5zm15 0zm8 0zm32 4zm-6 2zm10 0zm-63 1zm29 1zm-44 3zm73 0zm4 1zm-76 2zm2 0zm11 1zm-26 1zm75 0zm-65 4zm49 0zm2 0zm28 0zm-32 5zm-3 12h1m-85 3zm83 4zm-80 1zm84 1zm0 4zm-7 2zm-3 3zm13 0zm-3 4zm-25 1zm-94 2zm11 1zm120 1zm-50 1zm4 0zm0 1zm-80 4zm-1 3zm59 0zm-40 4zm-12 4zm-1 1zm13 1z"/>
<path stroke="#ececf4" d="M499 109zm-17 2zm7 0zm7 3zm3 0zm-19 1zm13 2zm-4 1zm3 3h1m10 0zm-43 1zm38 1zm-36 2zm0 1zm17 0zm-40 4zm42 0zm7 2zm-54 2zm36 0zm34 0zm-69 1zm9 2zm40 1zm-10 1zm22 0zm-57 2zm4 0zm54 0zm-84 1zm79 0zm-12 1zm1 1zm10 0zm-73 5zm4 0zm7 0zm59 0zm12 0zm-77 1zm4 0zm51 1zm-85 1zm105 0zm-21 1zm28 1zm-96 1zm78 0zm6 1zm-91 2zm-4 1zm13 1zm-10 2zm96 2zm-97 1zm-15 2zm6 0zm76 0zm28 0zm8 0zm-120 1zm7 1zm2 0zm72 0zm18 2zm-94 1zm6 0zm-24 1zm102 0zm-84 2zm-5 1zm111 0zm3 3zm-2 1zm-17 1zm-11 3zm-97 1zm114 0zm-114 2zm102 0zm5 1zm-19 1zm-14 1zm7 1zm7 1zm-105 1zm3 1zm5 0zm74 1zm15 1zm-97 2zm4 0zm61 5zm19 0zm-51 3zm5 0zm-19 1zm-8 1zm0 3zm7 0zm17 0zm-21 2zm14 0z"/>
<path stroke="#ebebf4" d="M485 111zm-7 10zm7 0zm-50 6zm31 2zm34 0zm0 2zm-15 1zm-29 1zm-9 1zm24 0zm-36 3zm45 0zm-16 1zm24 0zm-3 1zm19 0zm-94 3zm29 1zm-34 3zm86 0zm-9 2zm17 0zm-25 2zm16 1zm8 0zm-83 3zm-20 3zm73 0zm27 0zm-19 2zm-76 2zm-3 1zm2 0zm-21 6zm109 0zm16 0zm-117 5zm83 0zm-94 1zm107 0zm-110 2zm95 3zm-85 2zm86 0zm29 0zm-122 5zm96 0zm18 0zm-129 2zm121 0zm-29 1zm21 0zm-20 1zm21 1zm10 1zm-127 2zm0 3zm63 0zm10 2zm-10 2zm0 2zm-27 2zm-39 2zm14 1z"/>
<path stroke="#ebebf3" d="M482 110zm12 7zm-37 2zm21 0h1m4 0zm-33 7zm14 0zm-13 1zm30 1zm-10 4zm19 2zm2 0zm-59 1zm8 1zm55 5zm-77 4zm23 0zm0 1zm-9 3zm-4 1zm-2 1zm61 2zm2 0zm-14 2zm-91 3zm110 0zm-11 3zm-8 3zm-82 1zm81 0zm9 0zm-84 2zm66 3zm-74 1zm107 0zm-14 2zm10 0zm2 0zm-28 4zm-5 2zm21 2zm0 3zm-18 3zm-12 2zm22 0zm-126 2zm133 0zm-11 2zm-114 2zm71 0zm-77 4zm84 3zm-70 10zm16 1z"/>
<path stroke="#eaebf4" d="M492 120zm2 51zm-23 2z"/>
<path stroke="#eaeaf3" d="M481 111zm10 0zm-1 2zm-29 6zm28 1zm14 0zm-24 1zm25 0zm-19 5zm12 0zm-12 1zm-48 2zm15 0zm6 0zm7 1zm22 0zm0 1zm-17 1zm19 0zm7 0zm-64 2zm5 0zm57 0zm-52 1zm32 0zm2 0zm-42 1zm4 0zm21 2zm30 1zm-36 2zm-33 1zm60 0zm13 0zm-80 1zm20 0zm-15 1zm53 1zm18 3zm-20 1zm16 0zm10 0zm-22 1zm-66 1zm-13 1zm21 0zm6 1zm72 0zm-27 2zm0 1zm5 0zm1 2zm-59 1h1m75 0zm-80 1zm62 0zm20 1zm2 0zm3 0zm-91 2zm79 0zm2 1zm-91 2zm99 0zm-100 1zm96 0zm-25 1zm3 0zm5 0zm-76 1zm75 1zm4 1zm5 0zm15 0zm-34 1zm20 0zm0 1zm9 1h1m-29 1zm8 2zm-95 2zm90 0zm30 2zm-37 1zm-89 2zm86 0zm-87 1zm79 1zm2 0zm8 0zm-103 3zm87 0zm27 0zm-100 1zm95 1zm19 0zm-49 1h1m9 0zm-7 1zm26 0zm3 1zm-38 1zm33 0zm-104 1zm83 0zm-51 6zm47 1zm-80 4zm10 6z"/>
<path stroke="#e9e9f3" d="M492 114zm8 2zm-38 8zm22 1zm9 0zm4 0zm-55 3zm50 2zm-42 1zm-9 7zm19 0zm-17 1zm9 0zm-24 5zm53 3zm-1 2zm10 0zm12 0zm-21 3zm-6 6zm12 6zm-21 3zm38 0zm-32 2zm10 1zm16 0zm-27 1zm28 1zm-11 3zm-103 1zm79 0zm31 2zm-113 1zm81 0zm28 0zm-8 1zm-124 6zm105 7zm-63 9zm-9 4z"/>
<path stroke="#e9e9f2" d="M487 122zm7 3zm-37 2zm29 2zm-48 1zm14 3zm5 0zm-16 1zm50 3zm-47 4zm47 0zm-42 1zm-34 4zm1 2zm-6 1zm-17 4zm31 0zm43 0zm-44 3zm64 11zm17 1zm-16 4zm-11 2zm-92 4zm112 2zm-118 2zm82 2zm-105 4zm6 0zm106 2zm15 0zm-42 3h1m-12 3zm-12 1zm-1 1zm-23 3zm15 0zm-15 3z"/>
<path stroke="#e8e8f2" d="M481 110zm7 0zm14 0zm-14 2zm9 1zm-9 1zm3 0zm2 0zm5 1zm-20 3zm19 0zm-29 1zm24 0zm-14 1zm-19 2zm3 0zm23 3zm1 1zm-45 1zm12 2zm38 2zm-60 1zm38 0zm19 1zm-26 2zm-23 1zm62 1zm-10 1zm-45 1zm55 0zm-65 1zm59 0zm-69 1zm5 0zm-17 1zm75 0zm-18 1zm-31 1zm42 0zm-51 2zm-16 3zm13 0zm63 0zm-79 1zm12 0zm-9 1zm59 0zm18 0zm-98 2zm93 1zm8 1zm-25 1zm21 1zm3 2zm-84 3zm57 0zm-68 1zm63 1zm2 0zm30 0zm-94 2zm97 0zm-21 1zm9 1zm-19 1zm-76 1zm0 1zm83 0zm8 1zm12 0zm-9 2zm9 1zm-123 1zm90 4zm2 0zm26 0zm-113 1zm86 0zm5 0zm8 3zm-1 1zm-112 1zm102 0zm17 0zm-106 1zm73 0zm34 0zm-2 2zm-41 1h1m13 1zm13 0zm-25 1zm35 1zm-52 2zm1 1zm-29 6zm13 0zm28 0zm-49 1zm11 0zm-46 4zm22 0zm-22 3zm14 2zm2 3z"/>
<path stroke="#e7e8f2" d="M436 141zm51 1zm-23 17z"/>
<path stroke="#e7e7f2" d="M500 113h1m-26 2zm25 0zm-32 5zm11 0zm14 3zm-15 2zm18 0zm-37 3zm33 0zm-33 1zm-20 6zm-18 2zm47 0zm-25 1zm-4 1zm-25 2zm15 2zm43 0zm16 0zm-78 3zm33 1zm-21 1zm12 0zm-19 2zm57 0zm-74 1zm27 0zm54 0zm-7 1zm-49 1zm-30 1zm35 0zm40 0zm24 1zm-106 1zm38 0zm-30 1zm21 0zm-32 1zm83 1zm9 0zm32 3zm-124 1zm14 0zm95 0zm5 0zm-4 2zm-14 2zm-76 1zm89 0zm-98 2zm87 0zm18 0zm-9 2zm-102 1zm93 0zm-109 2zm20 0zm76 0zm9 0zm17 0zm-128 2zm0 1zm20 0zm82 0zm9 0zm10 0zm-110 1zm-1 1zm7 0zm1 1zm93 0zm-2 1zm-102 1zm88 2h1m11 1zm-7 2zm-23 1zm8 0zm-2 4zm27 0zm-116 1zm71 0zm14 0zm17 0zm16 0zm-80 8h1m-50 1zm37 1zm-2 2zm2 2zm-20 1zm17 1z"/>
<path stroke="#e6e6f1" d="M478 112zm17 2zm-2 1zm-21 2zm7 1zm17 0zm-19 4zm-32 5zm26 1zm-27 1zm-1 2zm54 0zm-44 1zm-5 1zm29 1zm-36 1zm7 1zm27 0zm-36 1zm53 1zm-55 1zm56 0zm-50 1zm-20 1zm59 0zm-44 1zm9 2zm-19 1zm-10 1zm3 1zm51 0zm-34 1zm34 0zm33 0zm-94 1zm26 0zm33 1zm-68 1zm92 1zm-19 1zm-8 1zm-57 2zm58 0zm15 0zm-97 1zm28 0zm80 0zm-108 1zm8 0zm80 0zm-59 2zm65 0zm-69 3zm57 2zm19 0zm-80 1zm78 0zm-101 1zm8 1zm77 0zm21 0zm-27 3zm4 0zm23 2zm4 0zm-101 2zm-12 1zm89 0zm-85 1zm88 0zm11 3zm5 0zm-19 1zm14 0zm-24 1zm28 0zm-13 4zm8 0zm-29 1zm-6 1zm2 1zm34 1zm-117 2zm74 0zm-85 3zm-7 7zm54 1zm-15 1zm18 3zm-47 2zm-8 1zm22 1zm-4 4z"/>
<path stroke="#e5e5f0" d="M501 110zm-5 3zm-49 8zm14 1zm12 0zm12 0zm-26 1zm39 1zm-50 2zm15 0zm20 0zm-33 2zm32 1zm4 1zm-39 2zm-16 1zm44 1zm2 2zm-19 1zm25 0zm-43 1zm10 0zm5 1zm-41 1zm16 1zm25 0zm17 0zm31 1zm-58 1zm7 0zm34 0zm-66 3zm1 2zm6 1zm-21 1zm24 0zm-22 4zm-22 1zm22 1zm5 1zm66 2zm-77 1zm94 0zm-84 1zm58 0zm-65 1zm78 0zm13 1zm-103 1zm74 0zm27 1zm-20 1zm11 5zm-94 1zm-20 2h1m109 0zm-1 1zm1 1zm-100 1zm85 0zm-94 1zm86 3zm2 0zm1 1zm7 0zm-106 1zm99 0zm18 0zm-119 1zm109 0zm-18 1zm-94 4zm101 2zm6 1zm12 0zm-41 1zm-82 1zm113 1zm-30 1h1m36 2zm-83 3zm-37 2zm37 0zm25 0zm-17 1zm-47 3zm8 3zm25 0zm-4 3z"/>
<path stroke="#e4e5f2" d="M426 149zm53 5zm-59 1zm71 4zm-106 3zm120 2zm-6 15zm-129 30z"/>
<path stroke="#e4e4f0" d="M499 108zm0 7zm-32 4zm3 0zm7 0zm-25 3h1m34 1zm-8 2zm7 0zm-19 1zm1 1zm24 0zm-51 1zm15 0zm28 0zm-12 2zm23 2zm-26 1zm-17 1zm-3 2zm21 0zm4 0zm-12 1zm3 0zm-26 1zm62 0zm-56 1zm8 0zm-24 1zm4 1zm-3 1zm4 0zm7 1zm8 1zm-2 1zm57 1zm-63 1zm24 0zm-48 1zm-11 3zm23 0zm-26 1zm62 0zm-46 1zm81 0zm-29 2zm31 2zm-41 1zm18 3zm27 1zm-122 1zm14 1zm77 2zm11 1zm-109 2h1m22 0zm-1 1zm77 0zm-91 1zm90 3zm-104 1zm98 0zm13 0zm-20 1zm6 0zm6 1zm-95 1h1m92 0zm4 0zm10 0zm-124 4zm12 1zm98 1zm17 1zm-117 2zm77 1zm-98 2zm120 0zm-104 1zm103 0zm3 1zm-106 1zm118 0zm-12 4zm-120 5zm30 1zm21 0zm13 0zm-36 2zm13 0zm-25 3zm15 4z"/>
<path stroke="#e3e3ef" d="M490 110zm0 1zm-11 1zm-3 5zm18 1zm-6 1zm-41 1zm57 0zm-53 2zm3 0zm20 0zm-33 1zm5 0zm31 0zm22 1zm-45 2zm0 1zm41 0zm-49 1zm4 1zm41 0zm-43 1zm19 0zm23 0zm-18 1zm-19 2zm23 0zm-25 1zm53 1zm-16 1zm4 0zm-72 2zm55 0zm-31 1zm-21 1zm33 0zm26 0zm10 0zm9 0zm-87 3zm17 0zm72 0zm-70 1zm54 0zm-77 1zm7 1zm86 0zm-71 2h1m5 1zm-5 1zm61 3zm-85 1zm66 1zm1 1zm-78 1zm-14 1zm87 0zm-10 1zm-75 2zm105 1zm0 6zm-115 1zm3 0zm106 0zm2 0zm-16 1zm-85 1zm77 3zm1 1zm7 0zm18 0zm-22 2zm28 2zm-6 3zm-40 2zm8 0zm-8 1zm6 0zm8 0zm2 0zm3 1zm-13 2zm2 2zm-91 1zm93 0zm-9 1zm35 0zm-131 2zm49 5zm6 1zm-18 1zm24 1zm2 0zm-20 1zm-14 1zm16 0zm-14 3zm-7 1zm28 0zm-32 3zm6 1z"/>
<path stroke="#e2e2ef" d="M481 113zm-10 4zm-2 3zm14 4zm-31 3zm26 0zm13 0zm-46 1zm41 0zm-50 3zm60 0zm-40 1zm-16 1h1m54 0zm-25 2zm-11 2zm-38 1zm52 0zm-15 1zm-26 1zm7 0h1m56 0zm-62 1zm5 1zm22 0zm35 0zm-76 3zm71 0zm-93 5zm4 0zm29 0zm34 3zm-62 1h1m79 1zm-3 1zm-84 1zm4 1zm69 0zm10 2zm-71 2zm77 0zm-20 4zm-67 2zm-9 2zm2 0zm3 1zm100 1zm2 0zm-107 1zm107 0zm-23 1h1m-10 4zm-3 2zm27 1zm-16 5zm12 0zm-25 1zm22 4zm-42 1zm10 0zm25 1zm-46 1zm-68 1zm69 0zm16 0zm33 0zm-123 5zm32 2zm-5 3zm4 0zm0 2zm19 1zm-22 3zm0 1z"/>
<path stroke="#e1e1ee" d="M484 111zm-1 5zm-26 2zm26 0zm-30 9zm27 0zm1 2zm-41 1zm3 0zm-6 1zm34 2zm-37 2zm39 0zm4 0zm-43 2zm45 0zm-43 2zm-10 1zm25 0zm-23 1zm20 0zm8 0zm-45 1zm43 0zm25 0zm-48 3zm39 2zm-40 1zm-19 2zm74 0zm10 0zm7 0zm-85 3zm58 1zm-82 1zm16 1zm63 0zm5 0zm26 0zm-32 1zm-74 1zm102 0zm-22 2zm6 0zm-6 1zm15 0zm-8 1zm-20 1zm33 2zm-20 1zm17 1zm-110 1zm9 1zm70 1zm10 0zm-7 1zm-70 1zm-5 1zm93 0zm-22 1zm36 0zm-118 1zm105 0zm4 1zm-120 1zm93 1zm29 0zm-35 1zm38 0zm-117 1zm93 0zm26 0zm-44 2zm-6 1zm20 4zm14 2zm-15 1zm-25 5zm-19 2zm-31 5zm-3 2zm1 1zm4 0zm-10 2zm-17 1zm-2 5zm-5 1zm0 1z"/>
<path stroke="#e0e1f0" d="M500 126zm-51 8zm12 3zm-39 7zm12 0zm71 3zm-21 5zm-79 7zm2 0zm58 1zm0 2zm-53 1zm66 0zm2 0zm-78 6zm57 10zm-76 3zm-6 4zm56 8zm-75 14z"/>
<path stroke="#e0e0ee" d="M501 115zm-17 11zm11 0zm-59 1zm13 1zm5 0zm26 0zm20 0zm-23 2zm24 1zm-69 4zm12 3h1m38 0zm4 0zm-30 1zm48 0h1m-56 1zm5 0zm49 0zm-65 4zm3 0zm-36 2zm38 0zm38 0zm-47 1h1m56 0zm-82 1zm82 0zm-67 2zm80 3zm-91 1zm62 0h1m1 1zm-67 1zm87 0zm1 1zm-26 1zm24 0zm-87 2zm-6 3zm-10 3zm94 0zm-24 1zm9 0zm-82 1zm75 0zm-70 1zm0 1zm7 0zm84 0zm-1 1zm3 1zm11 0zm-126 2zm16 0zm-4 2zm83 0zm10 0zm-9 2zm26 0zm-40 2zm9 0zm11 1zm21 2zm-128 1zm115 0zm-32 1zm6 0zm13 0zm-111 1zm88 3zm9 0zm-5 1zm-9 1zm11 0zm-31 3zm27 3zm-35 1zm-14 1zm28 0zm-8 2zm-63 1zm61 1zm-31 9z"/>
<path stroke="#dedeee" d="M470 130zm-21 1zm6 5zm12 1zm27 4zm-59 4zm29 2zm16 4zm4 2zm-3 3zm-65 1zm70 0zm-68 1zm52 0zm-54 1zm-29 3zm75 3zm-67 3zm65 6zm39 0zm-49 8zm-91 15zm66 0zm-66 1zm54 0z"/>
<path stroke="#dfdfed" d="M482 113zm1 1zm-1 1zm2 0zm17 1zm-13 2zm-2 3zm8 5zm2 1zm-47 2zm37 3zm-39 1zm16 1zm38 0zm-64 1zm56 0zm1 1zm-25 1zm4 0zm-21 1zm32 1zm-35 1zm38 3zm-69 2zm65 1zm-60 1zm19 0zm46 1zm12 0zm-9 3zm-17 1zm15 1zm-91 5zm76 1zm-13 1zm-52 1zm53 0zm-53 1zm-15 1zm91 0zm-81 5zm68 0zm-83 1zm76 0zm0 1zm-72 1zm-16 1zm5 0zm78 0zm-70 1zm69 0zm26 1zm-9 1zm-5 1zm-92 5h1m109 0zm-4 1zm-27 2zm-89 2zm112 0zm-13 1zm-105 1zm4 0zm70 1zm-1 1zm18 0zm-8 1zm-93 1zm100 1zm-29 1zm12 0zm23 2zm-29 1zm-74 6zm0 3zm20 5zm8 0zm-20 1z"/>
<path stroke="#dedeed" d="M488 113zm-7 2zm9 1zm-20 6zm2 2zm-23 2zm9 2zm49 1zm-16 1zm-16 5zm19 0zm-71 1zm84 0zm-32 6zm-32 1zm-19 4zm54 0zm-71 5zm10 0zm11 0zm65 0zm-65 1zm62 1zm-68 2zm47 0zm23 0zm-18 1zm19 2zm-17 1zm0 1zm24 0zm-96 1zm66 0zm-9 2zm23 0zm16 2zm-122 1zm12 0zm8 0zm89 5zm8 0zm-32 1zm30 0zm-13 3zm-99 2zm88 0zm-10 3zm20 1zm17 0zm-44 4zm40 0zm-13 2zm-123 1zm87 1zm-1 2zm21 0zm-27 1zm22 0zm-33 1zm62 0zm-129 1zm60 3zm4 1zm23 0zm-45 1zm8 3zm-21 2zm-9 1zm12 0zm-25 1zm33 1zm-33 2zm-6 4zm0 1z"/>
<path stroke="#ddddec" d="M488 109zm0 2zm4 0zm8 1zm-6 3zm-1 3zm1 1zm11 0zm-13 3zm6 0zm-2 4zm-34 1zm22 0zm-32 1zm5 0zm28 0zm-12 1zm5 0zm-42 1zm42 0zm-7 1zm15 0zm-49 1zm21 0zm12 1zm5 0zm2 0zm5 0zm7 0zm0 1zm-51 1zm25 0zm29 0zm-27 1zm8 0zm-3 1zm-50 2zm7 0zm23 0zm6 0zm9 0zm-21 1h1m19 0zm8 0zm16 0zm17 0zm-73 1zm18 0zm-2 1zm50 0zm-83 2zm65 0zm8 0zm-42 1zm56 1zm-71 1h1m-16 2zm22 1zm-28 1zm61 0zm22 0zm-64 1h1m47 0zm-59 1zm4 0zm3 0zm0 1zm70 0zm-23 1zm-51 1zm69 0zm5 0zm-98 1zm4 1zm-4 1zm70 1zm2 1zm3 0zm11 0zm-89 1zm2 0zm67 1zm-64 1zm86 0zm8 0zm-8 1zm-13 1zm-12 1zm8 0zm2 0zm-85 1zm2 0zm-4 1zm8 0zm-3 1zm10 0zm89 1zm-100 1zm2 0zm-6 2zm114 0zm-36 1h1m-91 1zm8 1zm3 0zm2 0zm72 0zm-85 1zm121 0zm-108 1zm115 1zm-120 3zm0 1zm73 0zm-93 1zm110 0zm-98 1zm0 1zm94 0zm-110 1zm6 0zm86 0zm2 1zm20 1h1m-20 1zm30 0zm-37 1zm-86 3zm9 0zm-11 3zm45 4zm-15 1zm20 6zm-23 4z"/>
<path stroke="#e7e215" d="M449 153zm0 2zm-10 2h3m2 0h3m-8 1h6m-10 1h1m3 0zm4 0h1m-10 1h3m5 0h2m-11 1h1m2 0h2m3 0zm2 0h1m-16 1zm5 0zm5 0zm3 0zm3 0zm-18 1h1m17 0zm-19 1h1m12 0zm5 0h1m-21 1zm15 0h2m2 0zm-3 1h1m-21 1h1m18 0h2m-3 1h1m-1 1h2m-27 1zm25 0zm-1 1h1m-27 1zm26 0h2m-33 1zm27 0zm3 0zm-4 1h4m-5 1h5m-34 1zm28 0zm2 0zm2 0zm-2 1zm-6 1h1m2 0zm-4 1h3m-4 1h1m2 0h1m-6 1h2m-34 1zm28 1h2m-6 1h2m3 0zm-6 1zm-1 1zm-3 1zm-27 1zm25 0zm-3 1h2m-3 1zm-4 2h1m-3 1zm2 0h1m-5 1zm-4 2h1m-11 4zm-19 4z"/>
<path stroke="#ead309" d="M435 161zm7 0zm-11 1h1m2 0zm3 0zm2 0h1m2 0h1m-5 1zm3 0h2m-4 1h3m-18 1zm-2 1zm16 0zm-22 1h2m3 0zm-6 1zm3 0zm18 0zm-23 1zm19 3zm3 0zm-27 1zm25 0h1m-30 1zm-1 1zm-3 2zm26 0zm2 0zm-31 1zm27 0zm3 0zm-31 1zm26 0h1m-28 1zm25 0h2m-29 1zm27 0zm-30 1h1m26 0zm2 0zm-31 1h1m27 0zm-31 2zm25 0h1m-27 1zm25 0h1m-27 1zm24 0zm-25 1zm-2 1zm22 0zm-1 1zm-25 1zm23 0h1m-25 1zm22 0zm-25 2zm19 1h1m-24 2zm18 0zm-19 1zm17 0zm-18 1zm15 0zm-10 4zm-9 2z"/>
<path stroke="#ebc604" d="M429 162h1m5 0h1m-8 1zm3 0zm2 0h4m2 0h1m-13 1h1m7 0h2m-12 1h5m6 0h1m-14 1zm6 0h1m6 0h1m-15 1zm14 0h1m-21 1h1m2 0h1m15 0zm-21 1zm4 0zm18 0zm-23 1zm23 0zm-24 1zm20 0h1m2 0zm-24 1zm20 0zm2 0h1m-25 1zm22 0zm-26 1h3m22 0zm-26 1zm24 0h1m-27 1zm24 0h2m-27 1zm24 0zm2 0zm-29 1h2m23 0zm-26 1zm24 0zm-2 1zm-25 1zm22 0h3m-27 1zm23 0h1m2 0zm-5 1h2m-28 1zm25 0zm-26 1zm23 0zm-24 1zm23 0zm-24 1zm22 0zm-2 1h1m-4 1zm-22 1zm-2 1zm21 0zm-2 1zm-23 1h1m21 0zm-2 1zm-22 1zm19 0zm-20 1zm17 0h2m-4 1zm-2 1zm-3 1zm-15 1zm13 0h1m-3 1zm-13 1zm9 0h2m-12 1zm0 1zm6 0h1m-6 1h1"/>
<path stroke="#dbdbec" d="M490 119zm0 1zm-4 4zm14 1zm-21 2zm-26 1zm37 1zm-25 2zm-8 4zm-11 2zm2 1zm6 1zm11 1zm-14 1zm14 0zm-23 2zm-21 1zm11 0zm13 0zm8 0zm18 0zm-27 1zm38 2zm9 0zm7 0zm-71 1zm63 0zm-48 1zm39 0zm-65 1zm20 0zm-20 1zm20 0zm37 1zm-70 1zm26 0zm45 0zm-54 1zm62 2zm-10 1zm31 0zm-102 2zm87 0zm3 1zm-81 1h1m67 1zm8 0zm0 1zm-92 1zm5 1zm77 0zm-77 1zm82 0zm-12 1zm17 1zm-93 4zm1 1zm-7 1zm-5 2zm108 0zm-103 2zm109 1zm-27 3zm-3 2zm8 1zm-114 2zm97 0zm-1 4zm7 0zm-35 1zm47 0zm-113 2zm59 2zm-19 3zm8 0zm-25 7zm-15 1z"/>
<path stroke="#d9d9eb" d="M465 119h1m9 0h1m-32 8zm12 0zm7 0zm2 0zm-28 3zm20 2zm45 1zm-38 6zm-16 1zm18 0zm28 0zm-65 1zm20 0zm56 0zm-74 1zm57 0zm9 0zm-44 1zm-22 1zm41 0zm-25 2zm51 0zm-55 2zm-12 1zm-15 3zm62 0zm-52 1zm39 1zm-40 1zm52 0zm3 0zm-13 1zm0 1zm30 0zm-83 1zm48 1zm-66 5zm67 1zm42 0zm-29 1zm-77 1zm75 0h1m-70 1zm-4 1zm87 0zm-101 1zm98 0zm-114 3h1m119 0zm-102 2zm-19 2h1m94 1zm6 0zm-96 1zm90 0zm4 0zm24 0zm-24 1zm-88 1zm77 1zm20 0zm-24 1zm10 1zm-94 2zm86 0zm0 1zm16 3zm-44 1zm16 0h1m-17 2zm-11 2zm4 0zm3 0zm12 0zm24 1zm-48 2zm-57 1zm37 2zm-6 2zm-9 1zm4 0h1m0 2zm-15 2zm-3 1zm13 3z"/>
<path stroke="#d7d7eb" d="M491 112zm-5 1zm-16 5zm24 6zm-30 3zm-21 2zm39 2zm-44 1zm38 0zm-14 2zm25 2zm5 1zm-29 1zm11 0zm-32 2zm11 2zm9 0zm-6 1zm18 0zm-44 2zm53 0zm-35 1zm-32 1zm17 0zm70 0zm-85 1zm49 0zm13 0zm-10 1zm-42 1zm43 0zm-41 1zm-6 3zm50 0zm-10 2zm14 0zm-13 1zm8 0zm-8 1zm-46 1zm48 0zm-6 2zm3 0zm4 0zm-68 2zm56 1zm25 0zm-13 2zm-61 1zm-21 3zm73 2zm-72 1zm105 0zm6 0zm-118 3zm8 0zm74 1h1m-80 2zm115 0zm-123 1zm9 0zm65 2zm-2 1zm11 0zm-12 1zm19 0zm-21 1zm3 1zm26 1zm-21 1zm21 0zm-17 1zm25 1zm-10 1zm-42 1zm-64 1zm117 0h1m-63 3zm-6 2zm-21 2zm10 0zm-5 1zm2 0zm-20 4zm3 0zm0 1zm-10 1zm8 0zm-15 1z"/>
<path stroke="#d1d2eb" d="M487 113zm-12 3zm2 0zm17 4zm-13 11zm-32 7zm4 0zm-13 1zm-5 1zm-6 2zm17 1zm5 1zm24 0zm-46 1zm70 1zm0 1zm-53 1zm29 2zm-48 2zm4 0zm4 1zm66 0zm1 2zm-80 2zm58 0zm2 1zm-1 1zm-75 1zm-11 1zm85 1zm-1 2zm27 0zm-98 1zm64 0zm6 0zm-68 1zm51 2zm34 2zm-96 1zm-21 14zm56 8zm-69 1zm-2 1zm41 3zm-10 2zm7 0zm6 1zm-48 1zm3 6zm7 1z"/>
<path stroke="#d6d6e9" d="M481 114zm13 0zm-5 5zm-3 3zm-37 5zm23 2zm-34 2zm28 0zm9 1zm-18 2zm45 0zm-27 3zm-5 3zm-4 1zm22 0zm-67 1zm12 0zm-1 1zm23 0zm6 0zm8 0zm-26 1zm9 0zm-20 1zm38 0zm12 0zm-66 1zm52 0zm-51 1h1m16 0zm-3 1zm39 0zm21 0zm13 0zm-74 1zm2 0zm39 0zm-43 2zm35 0zm3 1zm-44 2zm67 0zm-22 1h1m22 0h1m-16 1zm14 0zm-23 1zm0 1zm28 0zm4 0zm-98 1zm2 0zm90 3h1m0 1zm-107 5zm18 1zm82 0zm-89 1zm89 0zm-88 1zm-1 1zm0 1zm-9 4zm73 0zm-77 1zm82 0zm-81 1zm75 0zm10 0h1m-14 2zm0 1zm-2 1h1m-1 1zm13 0zm-108 1zm115 0zm-20 1zm0 1zm3 0zm-87 1zm85 0zm-87 3zm65 0zm38 0zm10 1h1m-64 1zm1 1zm9 0zm8 0zm-72 1zm51 0zm10 0zm36 0zm-104 1zm103 0h1m-47 1zm-14 1zm-1 1zm-8 1zm20 0zm-23 1zm4 0zm8 0zm-4 1zm-40 1zm22 2zm-1 2zm2 0zm-3 4z"/>
<path stroke="#d0d1e8" d="M500 114zm-24 1zm14 10zm-46 3zm16 0zm16 0zm0 1zm-36 2zm16 4zm-11 2zm21 0zm8 0zm-28 1zm9 0zm10 0zm-17 1zm19 1zm22 0zm1 1zm-58 1zm-2 2zm-6 4zm15 0zm24 1zm-29 3zm49 0zm-10 3zm16 0zm-13 2zm11 0zm5 0zm0 1zm-89 1zm12 0zm4 1zm47 0zm-63 1zm57 0zm-65 3zm18 0zm50 0zm-7 1zm10 0zm7 0zm0 1zm-79 2zm69 1zm-73 3zm2 0zm84 2zm-21 3zm5 0zm32 2zm-38 1zm11 2zm12 0zm-30 2zm0 1zm17 0zm16 2zm-23 1zm-23 2h1m-8 5zm10 0zm-21 1zm0 1zm11 0zm-72 7z"/>
<path stroke="#d0d0e7" d="M492 112zm-10 2zm1 1zm-20 10zm-13 2zm27 0zm0 1zm-27 2zm16 0zm-10 4zm13 4zm-10 1zm4 0zm-3 1zm29 1zm-30 3zm11 0zm-38 2zm-7 1zm46 0zm-48 1zm42 0h1m5 0zm-47 1zm7 2zm-1 2zm-8 2zm66 1zm3 0zm7 1zm-85 1zm47 0zm32 1zm-30 1zm5 1zm-11 2zm32 5zm-93 1zm2 2zm103 2zm-109 1h1m89 1zm-101 2zm2 1zm7 0zm67 0zm11 0zm2 3zm28 1zm-44 1zm4 0zm-9 2zm24 0zm-100 3zm86 0zm-22 1zm-8 1zm7 1zm39 1zm-48 1zm-6 2zm-29 5zm17 1zm-12 1zm-17 2h1m-11 3zm-4 2zm-2 3z"/>
<path stroke="#d4de1f" d="M449 152zm-1 3zm-1 1zm2 0zm-11 1zm5 0zm5 0h1m-14 1zm7 1zm-4 1h1m-9 1h2m7 0h1m-15 2zm-1 1zm17 1zm2 0zm-22 1zm20 1zm-27 1zm25 0zm2 0h1m-2 1zm-2 1h1m-28 1zm27 0h1m-30 1zm-3 1h1m30 0zm-7 3zm2 0zm-34 1h1m30 0zm3 0zm-1 1h1m-1 1h1m-39 1h1m31 0zm-1 1zm3 0zm-7 1zm-4 2h1m2 0zm-6 1zm2 0zm-3 1zm-5 2zm-1 1zm-3 1h2m-4 1h1m-5 2zm1 1zm-5 1zm-24 1zm18 1h2m-7 2zm-19 2zm14 0zm-16 4zm5 0h1"/>
<path stroke="#cacbe8" d="M492 113zm-6 1h1m-18 5zm15 5zm-32 2h1m2 0zm21 1zm-6 1zm23 1zm-22 1zm-31 2zm26 0zm-18 2zm7 3zm32 0h1m6 0zm-38 1zm12 0zm4 0zm-25 1zm13 0zm2 0zm5 0zm-26 1zm18 0zm12 0zm19 0zm-33 3zm13 0zm-35 3zm8 0zm-1 2zm-10 2zm31 0zm34 1zm-61 1zm43 0zm18 0zm-34 1zm3 0zm17 0zm-60 1zm43 0zm33 0zm-78 1zm2 0zm51 0zm-49 1zm-5 1zm3 0zm66 0zm4 0zm-78 1zm47 0zm27 0zm4 0zm-33 1zm20 0zm6 0h1m-79 1zm12 0zm-12 1zm57 0zm-59 1zm60 0zm-70 1zm18 1zm74 0zm-100 4zm6 1zm-8 3zm72 0zm-64 3zm66 0zm-67 1zm-10 1zm7 0zm69 0zm-71 1zm72 0zm-80 4zm71 0zm-6 2zm-7 1zm3 1h1m12 0zm-1 1zm25 1zm-108 1zm64 0h1m20 1zm25 0zm-47 1zm0 1zm-12 2h1m4 0zm4 0zm-12 2h1m8 0zm-75 2zm0 1zm46 1zm-11 1h1m11 0zm3 0zm-17 1zm-27 1zm-3 3zm24 1zm-9 5z"/>
<path stroke="#c3c4e7" d="M462 120zm22 3zm-21 1zm27 0zm3 0zm8 1zm0 1zm-46 1zm-12 1zm17 1zm5 3zm16 0zm-32 3zm7 1zm-2 2zm8 0zm-20 1zm24 0zm-9 1zm-5 1zm35 0zm5 0zm-64 1zm7 0zm-13 1zm51 0zm-16 1zm-5 1zm17 0zm-7 1zm12 0zm-48 1zm17 2zm23 0zm2 0zm7 0zm-33 1zm-8 3zm-13 1zm8 0zm71 0h1m0 2h1m-27 1zm-55 2zm43 0zm-58 1zm55 0zm4 0zm6 0zm22 0zm-87 1h1m-20 1zm14 0zm61 1zm19 1zm-16 2zm2 0h1m11 0zm2 0zm9 1zm0 1zm-28 1zm34 2zm-110 1zm13 0zm-3 1zm-1 1zm74 0zm4 0zm-82 1zm2 1zm-2 2zm73 0zm-11 3zm24 1zm-28 1zm-87 4zm79 0zm12 0zm28 1zm-110 2zm85 1zm-87 1zm50 1zm6 0zm8 0zm-69 1zm55 0zm-55 2zm0 1zm50 0zm13 0zm-34 2zm16 0zm-2 1zm4 1zm-34 3zm-21 1zm18 1h1m5 0zm-15 1z"/>
<path stroke="#c4c4e5" d="M491 113zm-6 11zm7 5zm-43 1zm33 2zm-34 3zm1 4zm13 1zm-3 1zm2 0zm-9 1zm5 0zm-28 2zm27 0zm12 0h1m-26 1zm32 1zm-50 2zm38 0h1m-27 2zm29 1h1m0 1zm-6 4zm12 0h1m5 0zm-12 2zm1 2zm-73 2zm64 0zm1 2zm7 1zm21 2zm-30 1zm-68 8zm69 0zm-70 1zm66 2zm43 1zm-45 2zm15 3zm-15 1zm-3 1h1m-1 1zm28 1zm-22 1zm-31 3zm-61 2zm61 0zm-67 2zm49 0zm5 0zm5 0zm-59 1zm54 1zm-26 3z"/>
<path stroke="#b0d218" d="M448 153zm-1 1h2m-2 1zm-3 1h2m2 0zm5 0zm-17 2zm2 0zm8 0zm2 0h2m-13 1h1m2 0h1m4 0zm-12 1zm7 0h1m-13 1h1m16 0zm-19 1h1m18 0zm0 1zm-23 2zm-5 1h3m21 0h2m-1 1h1m-30 1zm27 0zm-28 1zm29 0zm-30 1zm29 0zm-32 2zm31 0zm-35 1zm32 0zm2 0h1m-36 1zm33 0zm3 0zm-37 1zm34 0zm-2 1h1m-38 1zm33 0zm-34 1zm33 0h1m-35 1zm33 0zm-36 2zm34 0zm2 0zm-40 1zm33 0zm2 0h1m5 0h1m-43 1zm33 0zm-36 2zm30 0zm2 0zm3 0zm-6 1zm-31 1zm27 0h2m-1 1h2m-5 1zm-29 1zm28 0h1m-4 1zm2 0zm-31 1zm26 0zm2 0h1m-3 1zm-29 1zm24 0zm4 0zm-7 2zm-2 1zm-5 1zm-20 1zm-1 1zm-2 2zm13 0zm-5 2zm-5 1z"/>
<path stroke="#8ec61e" d="M450 152zm-6 2zm9 0zm-7 1zm4 0zm3 0zm-14 1zm11 0zm4 0zm-19 1zm2 0zm13 0zm-16 1zm3 0zm10 0zm-13 1zm15 0h1m-5 1zm4 0h1m-25 2zm-1 1zm-1 1zm22 0zm-1 1zm-1 3h1m-2 1zm-34 2h2m27 3h1m-37 1zm40 0zm-41 1zm36 0zm-40 1zm34 2zm1 1h1m-7 1zm4 0zm-7 1zm5 0h1m-7 1zm2 0zm-37 1zm34 0zm-3 1h1m2 0zm-5 1h1m-4 1zm-32 1zm28 0zm-29 1zm31 0h1m-5 2zm-33 1zm28 0zm-29 1zm25 1zm3 0zm-30 1zm24 0zm-3 2zm-5 1zm-3 1zm-2 1zm-2 1zm-18 2zm11 0zm-12 2zm8 0z"/>
<path stroke="#70bd26" d="M448 152zm2 1zm3 0zm-10 1zm2 0h1m-2 1h1m-7 1zm2 0h3m-9 1zm2 0zm17 0zm-20 2zm13 0h2m4 0zm-21 1h1m16 0zm0 1zm-24 1zm22 0zm-25 3zm-5 1zm-1 1zm29 0zm1 1zm-2 1h2m-4 1zm-1 1zm-35 1h2m33 0zm-3 3zm5 0zm-1 1zm-8 1zm0 1zm3 0zm-42 1zm35 0zm4 0zm-41 1zm36 0zm-37 1zm39 0zm-5 1h1m-2 1zm7 0zm-10 1zm2 0h1m-3 1zm-38 1zm31 0zm-33 1zm28 1zm3 1zm-35 1zm31 0zm-33 1zm29 0zm3 0zm-2 1zm-2 1zm-7 1zm2 1zm-30 1zm25 0zm-26 1zm-1 1zm21 0zm-9 3zm2 0zm-4 1zm-5 2z"/>
<path stroke="#b1b2e4" d="M469 118zm-8 2zm25 3zm-15 6zm-32 2zm54 5zm-32 2zm8 1zm3 0zm-11 1zm2 0zm24 0zm6 0zm-29 1zm1 1h1m5 0zm-50 1zm33 0zm5 0zm3 0h1m-17 1zm9 0zm3 0zm7 0h1m-17 1zm4 0zm8 0zm4 0zm8 0zm2 0zm-10 1zm39 1zm-63 1zm40 0zm-58 1zm44 0zm-1 1zm-34 1h1m5 0zm26 0zm0 3zm24 0zm-60 1zm34 0zm17 0zm9 0zm13 0zm-1 1zm-39 1zm-45 1zm3 0zm3 0zm37 0zm5 0zm16 0zm6 0h1m-83 1zm64 0h1m2 0zm-68 1zm66 0zm-54 1zm3 0zm45 0zm-3 2zm19 0zm9 2zm18 0zm-98 1zm-2 2zm53 0zm4 0zm-77 1h1m75 0zm-62 1zm4 0zm-1 1zm-11 2zm4 0zm103 0zm-30 1zm2 0zm-82 2zm2 0zm64 0h1m4 0h1m-78 2zm72 0zm4 0zm-4 2zm-71 2zm62 0zm10 0zm9 1zm-17 1zm6 0zm-1 1zm11 1h1m-90 1zm64 0zm-65 1zm67 0zm10 0zm-24 2zm6 0zm-1 1zm-6 1zm5 0zm-68 1zm60 0zm6 0zm2 0zm-64 1zm50 0zm2 0zm8 0zm-9 1zm-53 1zm50 0zm-6 1zm5 0zm-9 1zm2 0zm3 0zm-13 1zm-36 1zm38 0zm3 0zm8 0h1m-25 1zm9 0zm16 0zm-27 1zm-2 1zm-26 1h1m15 2zm3 0zm6 0zm-15 1zm-7 1h2m8 3z"/>
<path stroke="#e5a115" d="M429 163h1m2 0zm-3 1h1m5 1zm-9 1zm2 0zm7 0zm-12 1zm11 0h1m-14 1zm13 0zm-19 1zm2 0zm2 0zm-5 1zm21 0zm-1 1zm-24 2h1m19 0zm-1 1zm-3 1zm-1 1zm-23 1zm22 0zm-2 1zm-3 1h1m-24 1zm22 0zm-23 1zm-5 2zm22 0zm-24 1zm22 0h1m-4 2zm-24 2zm20 0zm-22 1zm19 1zm-22 1zm19 0zm-21 1zm-1 1zm-6 4zm-5 4zm11 0zm-5 2zm-4 1h1"/>
<path stroke="#eb8700" d="M431 164zm2 0h1m-3 1zm2 0h1m-10 1h1m2 0zm4 0h3m-5 1h4m-11 1h1m7 0h1m2 0zm-17 1zm4 0zm13 0h2m-20 1zm17 0h2m-21 1zm18 0zm-19 1zm18 0zm-2 1h1m-20 1zm16 0h3m-23 1zm2 0h1m17 0zm2 0zm-24 1zm21 0zm-1 1zm-22 1zm19 0h1m-23 1h1m19 0zm-1 1zm-2 1zm-22 1h1m19 0h1m-25 2zm20 0zm-1 1zm-2 1zm-21 1zm20 0zm-21 1zm18 0zm-20 1zm18 0zm-20 1zm18 0h1m-20 1zm16 1zm-1 1zm-21 1zm17 0h2m-20 1zm17 0zm-18 1zm15 0zm-16 1zm14 0zm-16 1zm13 0h1m-15 1zm12 0zm-13 1zm11 0zm-6 2zm-8 1zm2 1z"/>
<path stroke="#a2a4e1" d="M501 114zm-8 5zm0 1zm-31 1zm23 2zm-17 3zm2 3zm7 0zm-21 8zm-9 1zm20 0zm3 0h1m-10 1zm-3 1zm11 0zm2 1zm22 0zm-25 2zm-14 1zm10 0zm-31 1zm23 0zm12 0zm-16 1zm12 0zm2 1zm-40 1zm13 1zm22 0zm6 1zm5 1zm8 1zm-53 1zm4 0zm-5 1h1m2 1zm28 0zm4 0zm3 0zm35 1zm-39 1zm22 0zm6 0zm-68 1zm48 0zm20 0zm-81 2zm-13 1zm65 0zm7 0zm-6 1zm19 0zm-84 1zm64 0zm-46 2zm48 0zm20 0zm-72 2h1m49 0zm2 0zm-54 1zm53 0zm-72 1zm69 1zm3 1h1m-68 2zm65 0zm-61 1zm-6 1zm66 2zm-71 2zm68 0zm-69 1zm68 0zm3 1zm-74 1zm72 0zm12 0zm-86 1zm58 1zm15 0zm-12 1zm2 0zm11 0zm-13 2zm-68 1zm64 0zm3 0zm-67 1zm58 0zm10 0zm-9 1zm-62 1zm56 0zm3 0zm4 2zm-69 3zm2 0zm47 0zm12 0h1m-64 3zm31 0zm6 0zm7 0zm5 0zm-21 1zm-5 1zm12 0zm-16 2zm-25 2zm1 1zm23 0zm-25 1zm13 0zm2 3z"/>
<path stroke="#888edf" d="M476 116zm-15 5zm-22 11zm54 5zm-52 2zm27 0zm2 0zm-2 1zm-33 1zm25 0zm2 0zm5 0zm-7 1zm0 1zm-1 2h1m7 0zm-34 1zm28 0zm6 0zm-20 1zm20 0zm-27 1zm4 0h1m2 0zm18 1zm-26 1zm-2 1zm36 0zm-11 1zm6 0zm32 3zm-79 2zm3 0zm35 0zm5 0zm17 1zm-24 1zm-40 2zm-10 1zm8 0zm46 0zm-50 2zm48 0zm-48 1zm3 0zm43 0zm-4 1h1m2 0zm4 0zm-8 1zm5 0zm0 1zm2 3zm3 0zm-3 3zm0 1zm-68 2zm67 0zm-4 1zm-3 2zm2 1zm-8 2zm-1 1zm-65 1zm-3 2zm63 1zm-68 1h1m54 1zm-57 2zm50 0zm4 0zm2 0zm7 0zm-64 1zm59 0zm-63 1zm50 2zm3 0zm-11 1zm5 0zm0 1zm-14 2zm11 0zm-48 1zm-1 2zm-1 4zm12 4z"/>
<path stroke="#7a81de" d="M466 138zm-8 4h1m-1 1zm8 0zm-16 1zm17 0zm-33 1zm17 0zm13 0zm2 0zm-14 2zm11 0zm-22 2zm21 0zm2 0zm4 1zm-3 1zm3 0zm-36 1zm26 3zm41 0zm-37 1zm1 2zm-42 2zm-17 1zm12 0zm42 1zm-3 1zm-43 2zm67 0zm-22 1zm0 3zm-56 1zm55 1zm-58 2zm-5 1zm2 0zm-1 2zm60 1zm-67 2zm-1 1zm57 1zm8 0zm3 0zm1 1zm11 1zm-88 3zm62 3zm-11 1zm-2 1zm-3 1zm-5 3zm-10 1zm3 0zm-9 1zm-40 1zm26 2zm-14 5zm-12 2zm4 0zm2 3z"/>
<path stroke="#39ae4a" d="M455 149zm-6 2zm4 0zm-9 1zm10 1zm0 1zm-15 1zm13 0zm-17 1h1m-4 1zm-1 2zm16 5zm-30 1zm3 0zm24 1zm1 1zm-33 1zm-3 2zm32 1zm2 0zm-2 1zm2 0zm-40 1zm38 0h1m-1 1zm-1 1zm-42 1h1m39 0zm0 1zm-43 1zm39 0h1m2 0zm-2 1zm-6 1zm5 0zm-44 1zm42 0h1m-46 1zm-1 1zm39 0zm2 0zm2 0zm2 1zm2 0zm-50 1zm39 0zm2 0zm-5 1zm-39 1zm35 0zm7 0zm2 0zm-45 1zm34 0zm2 0zm3 0zm4 0zm-46 2zm33 1zm-3 2zm-5 1zm-32 1zm27 0zm3 0h1m-6 1zm-2 1zm-4 1h2m-6 1zm-21 1zm19 0zm-1 1zm-20 1zm16 0zm-3 1zm-14 1zm9 1zm-2 1z"/>
<path stroke="#46ae2a" d="M453 152zm-9 1h3m4 0h1m-2 1zm2 0zm-12 1zm3 0zm11 0zm-17 1zm14 0h1m-19 1zm18 0h1m2 0zm-22 1h1m18 0h2m-21 1zm19 0zm-23 1h2m16 0h1m4 0h1m-27 1h2m19 0h1m2 0h1m-27 1zm24 0h1m-25 1zm23 0h2m-26 1zm26 0zm-3 1zm-32 2h1m-3 2zm-1 1zm32 0h1m-36 1zm33 2zm-39 1h1m38 0zm2 0zm-4 1h1m-42 1zm40 0zm5 0zm-8 1h3m-44 2zm41 0zm2 0zm-6 1zm3 0zm-2 1zm0 1zm-9 1zm8 0zm2 0zm-10 1zm10 0zm-15 2zm3 0h2m-9 1zm10 0zm0 1zm-15 1h1m4 0h1m-5 1h2m3 0zm-6 1zm-4 1zm2 0h1m-6 1h1m2 0h1m-10 2zm2 0zm-24 8zm-13 3h2"/>
<path stroke="#1bab86" d="M454 148zm2 0zm-7 1zm5 0zm-5 1zm4 0zm3 0zm-5 1zm-8 1zm12 0zm1 1h1m-18 1zm16 0zm-21 1h3m18 0zm-22 1zm-2 1zm24 0zm-30 3h1m26 1zm-32 1zm31 0zm-31 1zm30 0h1m-1 1zm-34 1zm31 1zm-35 1zm33 3zm2 1h1m-4 2zm-44 1zm43 0zm-3 3h1m-47 1zm-3 2zm44 0zm2 0zm-3 2zm0 1zm-7 1zm7 0zm-9 1zm4 0h1m-49 1zm43 0zm-45 1zm42 0zm4 0zm4 0zm-12 2zm5 0h1m-8 1zm-42 1zm38 0zm-2 1zm-1 1zm-6 1zm4 0zm-5 1zm2 0h1m-9 1h1m3 0zm-24 7zm-5 2z"/>
<path stroke="#25ab59" d="M455 148zm1 1zm-2 1zm-6 1zm2 0zm2 0zm2 0zm-9 1h2m4 0h1m2 0zm-14 2h2m9 0zm-10 1h1m9 0zm-17 1zm-3 2zm22 1zm-29 2zm27 0zm-30 1zm28 0zm-28 1h1m27 0zm-3 1zm3 0zm-31 1h1m27 0h1m-1 1zm-2 4zm-38 1zm36 0zm0 1zm-41 1zm42 0zm-47 3zm43 0h1m-48 3zm45 0zm-48 2zm45 0zm-2 1zm-6 1zm2 0zm-3 1zm5 0zm-7 1zm-5 1zm5 0zm-9 1zm2 0h3m-3 1zm3 0zm-41 1zm37 0zm3 0zm-5 1zm-5 2zm-1 1zm-4 1h2m-7 2zm-33 2zm-6 8z"/>
<path stroke="#18a1be" d="M450 149zm7 0zm-9 1zm2 0h2m-5 1zm8 0zm2 0zm0 1zm-17 1zm2 0zm14 1zm-23 1zm-4 3h1m24 1zm-32 2zm30 1zm-33 1zm0 1h1m31 0zm-2 1h1m-35 1zm-4 2zm35 2h2m-43 1zm39 0zm-44 2zm44 1zm6 1zm-8 2zm-4 1h2m-5 3h2m-51 1zm47 0zm2 0zm3 0h1m-56 2zm43 0zm2 0h1m-47 1zm44 0zm2 0zm3 0h1m-52 1zm45 0zm3 0zm2 0zm-10 1zm10 0zm-52 1zm42 0h1m-44 1zm39 0zm4 0h1m3 0zm-7 1h2m4 0zm-11 1h1m2 0h1m-2 1h1m-13 3zm3 0zm-5 1zm-34 1zm28 0zm-6 2zm-4 1zm-6 2zm-18 1zm13 1zm-2 1zm-7 1zm2 0zm2 0z"/>
<path stroke="#24a579" d="M455 150zm2 0zm-14 3zm12 0zm-17 2zm17 1zm-1 2zm-26 1h2m-3 1zm26 0zm-30 1zm-1 1zm28 0zm-29 2zm27 1zm-3 1zm1 1zm0 1zm-36 1zm36 0zm-39 1h1m-4 2zm40 0zm-42 1zm-2 2zm-5 2zm44 0zm-3 3zm-48 1zm45 2zm-49 1h1m-3 2zm47 0zm-15 2zm3 0zm7 0zm-5 1zm-7 1zm-38 1zm36 0zm4 0zm-42 1zm44 0zm-45 1zm-1 1zm27 2zm-4 1zm-2 1zm-27 1zm21 0h2m-4 1zm-21 1zm10 3zm-13 1zm4 1z"/>
<path stroke="#1991c7" d="M458 150zm-2 1zm0 1zm-17 1zm2 0zm17 0zm-20 1zm19 0zm-25 2zm-4 2zm27 0zm-31 2zm28 3zm-35 1zm-4 2h1m35 0h1m-3 1zm-38 2zm43 0zm-46 1zm40 1zm1 1zm-1 2zm-48 1h1m44 0zm2 0h1m-51 1zm53 0zm-55 2zm-2 1zm-4 2zm48 2zm-8 2zm6 0zm-5 2zm-3 1zm-49 1zm-1 1zm41 0zm1 1zm0 1zm-8 1zm-1 1zm-40 1zm-1 1zm-3 2zm31 0zm-13 3zm-2 1zm-4 1zm-17 1zm6 2zm-5 1h2"/>
<path stroke="#1883d5" d="M455 147zm-5 1zm-2 1zm3 0zm-11 2zm3 0h1m14 0zm2 0zm-20 1zm18 0zm2 0zm-24 2h1m-10 5zm28 0zm-32 1zm31 0zm-1 1zm-34 1zm-3 2zm2 0zm34 0h1m-2 1zm-3 1zm-1 3zm4 0zm-1 1h2m-7 1zm4 0zm-48 1zm44 0zm2 1zm-48 1zm46 0zm2 0zm-51 1h1m52 0zm-2 1zm2 0h1m-2 1zm-7 1zm-1 1zm-50 1zm48 1zm-2 1h1m-52 1zm54 0zm-57 1zm-1 1zm53 0zm-3 1zm-11 4h2m2 0zm-6 1zm3 0zm-11 1zm3 0zm2 1h1m-9 1zm2 0zm-3 1zm-4 1h1m-8 1zm2 0zm-5 1zm-29 1zm22 1zm-24 1zm22 0zm-23 1zm19 0zm2 0zm-23 4zm1 1z"/>
<path stroke="#eb7100" d="M432 164zm0 1zm-8 2zm4 0zm-4 1zm8 0zm-11 1zm10 0h1m-16 1h3m12 0zm-17 1zm14 1h1m-17 1zm14 0h1m-21 2zm18 0zm-20 1zm19 0zm-20 1zm17 0zm2 0zm-20 1zm17 0zm-19 1zm17 0zm-20 1zm19 0zm-21 2zm17 0zm-21 1h3m17 0zm-24 2h1m19 0zm-21 1zm18 1zm-3 1zm-4 2zm-1 1zm-19 1h1m-2 1zm17 0zm-19 1h1m13 1zm-3 1zm-2 1zm-14 1zm9 1zm-3 1h1m-11 1zm9 0zm-10 1zm5 1zm-6 1h1"/>
<path stroke="#eb5a00" d="M425 167h2m-2 1zm4 0zm-7 1zm4 0zm4 0zm-2 1zm2 0zm-15 1zm13 0zm2 0zm-3 1zm-17 2h1m13 0zm-1 1zm-18 1zm2 0zm13 0h1m-17 1zm15 0zm2 0zm-18 1h1m-3 1h1m-4 1zm-2 1zm17 0h1m-4 2zm-20 1zm18 0zm-19 1zm17 0zm-1 1zm-2 1zm-18 1zm15 0zm-17 1h1m14 0h1m-18 1zm-4 3zm-1 1zm13 0zm-16 1zm13 0h1m-15 1zm12 0zm-13 1zm11 0zm-2 1zm-12 1zm8 0h1m-10 1zm6 1zm-3 1zm-6 1zm3 0h1"/>
<path stroke="#eb4b01" d="M426 168zm2 0zm-5 1h2m2 0h2m-9 1zm6 0h1m2 0zm-13 1h2m9 0zm2 0zm-16 1h3m10 0zm-1 1zm-13 1zm10 0h1m-14 1zm11 0h2m-16 1zm2 0zm11 0zm3 0zm-17 1zm0 1zm13 0zm-15 1h1m12 0zm-17 1zm16 0zm-3 1zm-1 1zm-16 1zm14 0zm-17 1h2m10 1h1m-18 1zm17 0zm-18 1zm15 0zm-2 1zm-2 1zm-15 1zm14 0zm-16 1zm15 0zm-16 1zm15 0zm-16 1zm14 0zm-18 2h2m9 0zm-4 2zm-11 1zm8 0h1m-4 1zm-9 2zm5 0h1m-7 1z"/>
<path stroke="#eb4002" d="M427 168zm-6 2zm-2 1zm-2 1zm-4 1h3m8 0zm-3 1zm-2 1zm-1 2zm-2 1h1m-2 1zm-13 1h1m9 0zm2 0zm-17 1h1m13 0zm-15 1zm11 0h3m-14 1zm11 0h1m-17 1zm15 0h1m-17 1zm-2 1h1m14 0zm-16 1zm13 0zm2 0zm-5 1h1m-13 1zm11 0zm-13 1zm10 2zm-2 1zm-14 1zm11 0zm-4 1zm-3 1h2m-11 1zm8 0zm-9 1zm5 0h1m-3 2zm-6 2h1m-4 1h1"/>
<path stroke="#7176dc" d="M457 141zm13 0zm-9 3zm2 0zm10 0zm-19 1zm8 0zm-28 1zm15 0zm7 0zm-8 1zm-5 3zm21 0zm-31 2zm29 2zm-34 2zm29 0zm6 4zm-7 2zm-41 1zm42 1zm23 1zm-25 1zm24 0zm-71 1zm47 0h1m2 0zm-2 1zm6 0zm-60 2zm54 0zm4 0zm2 0zm-7 1zm3 0zm-59 1zm44 8zm9 0zm-67 1zm57 0zm4 0zm-65 1zm57 4zm2 0zm-65 2zm56 0zm-4 1h1m10 0h1m-12 3zm-63 1zm5 0zm51 0zm-5 2zm-51 2zm38 0zm4 1zm-15 1zm7 0zm-15 3zm-8 2zm-4 2z"/>
<path stroke="#eb3603" d="M422 170h3m-5 1zm6 0zm-8 1zm7 0zm-8 1zm5 0h1m-10 1zm7 0zm-10 1zm2 0zm6 0zm-9 1zm8 0h1m-12 1h2m8 0h1m-2 1zm-10 1zm9 0zm-14 1h1m3 0zm7 0zm2 0zm-14 1zm9 0h2m-12 1h1m7 0zm0 1zm-11 1zm9 0h1m-13 1zm11 0zm-15 2h1m10 0zm-13 1zm10 0zm-1 1zm-11 1zm11 0zm-13 1zm-2 1zm12 0zm-13 1zm10 0h1m-12 1zm6 0h3m-10 1zm5 0h1m-10 1zm3 0zm0 1zm3 0zm-10 2zm5 0zm-6 1zm5 0zm-6 1h3m-4 1h1"/>
<path stroke="#eb2d05" d="M421 171zm3 0h1m-6 1zm5 0zm-3 1zm-7 1zm2 0h3m-8 1zm2 0zm-7 3zm6 1h1m-3 1zm-10 1zm2 0h1m-6 1zm0 1h1m7 0zm-9 1h1m6 0zm-12 1zm2 0h1m-4 1zm12 0zm-6 1h2m-11 1zm2 0zm6 0zm-9 1zm-1 1zm-4 1zm2 0h1m9 0h1m-13 1h1m7 0zm2 0zm-11 1h1m7 0zm-6 1h1m-2 1zm-7 1h1m2 0zm3 0zm-7 1zm4 0h1m-6 1zm3 0zm-4 2h1"/>
<path stroke="#eb2806" d="M422 171h1m-3 1h3m-5 1zm-3 1zm-1 1zm3 0zm-7 1h3m3 0zm-7 1zm5 0h1m-8 1zm7 0zm-8 1zm5 0zm-6 1zm3 0h1m-8 1zm3 0zm2 0h1m-7 1zm5 0zm-6 1zm-4 2h2m5 0zm-11 1h1m7 0h2m-11 1zm-2 1zm2 0zm-3 1zm7 0zm-8 1zm8 0zm-9 1zm6 0h1m-9 1h1m4 0zm2 0zm-8 1h1m-4 1h2m-3 1zm2 0zm-2 1h1m-4 1zm-5 2h1m2 0zm-4 1h1"/>
<path stroke="#eb2606" d="M419 173h1m-5 2h1m-2 1h1m-5 1h3m-5 1h5m-6 1h3m-4 1h1m-2 1zm-4 1h3m-4 1h4m-6 1h4m-4 1h3m-8 1h5m-7 1h4m-4 1h3m-6 1h5m-6 1h6m-7 1h4m-5 1h2m-3 1h3m-8 2zm-5 2zm-1 1h1m-2 1z"/>
<path stroke="#5b6edc" d="M471 139zm-13 2zm11 1zm-9 2zm14 0zm-19 1zm2 0zm6 1zm-27 7zm25 1zm-35 1zm37 1zm-38 1zm37 0zm19 0zm-23 2h1m11 0zm-13 1zm-50 1zm12 0zm36 0zm0 4zm5 0zm3 1zm0 1zm-2 3zm-61 1zm4 0zm-9 4zm62 0zm0 1zm-66 2zm56 0zm-60 2zm55 0zm7 1h1m-3 1h1m-65 1zm54 2zm-60 2zm59 1zm-4 1h1m-61 1h1m57 2zm-13 1zm-1 1zm-8 2zm-7 1zm3 0zm6 0zm-14 2zm-8 1zm7 0zm-17 3zm-21 2zm16 0h1"/>
<path stroke="#4f60dc" d="M463 141zm0 1h1m3 0zm3 0zm-6 1h1m-15 2zm8 0zm5 0zm11 0zm-21 1zm4 0zm5 1zm-1 1zm-17 1zm-3 1zm20 0zm-22 1zm-9 3zm33 0zm-36 1zm-1 1zm3 0zm27 0zm2 0zm-35 2zm35 0zm-37 1zm-17 1zm54 0zm-38 1zm35 1zm2 1zm-45 1zm43 0zm4 1zm2 1h1m-11 1zm4 1zm-50 1zm55 0zm-3 2zm-6 2zm5 2zm-2 1zm4 0zm-12 2zm1 1zm4 0zm-6 3zm-63 1zm-2 1zm59 0zm4 0zm-4 1zm3 0zm-8 3zm4 0zm-64 1zm57 2zm-13 1zm3 1zm9 0zm-62 1zm-1 1zm43 0zm-5 2zm-5 1zm-6 1zm13 0zm-45 1zm25 0zm20 0zm-11 1zm-38 3z"/>
<path stroke="#1874dd" d="M456 147zm-7 1zm-2 2zm-6 1zm4 0h1m-5 1zm18 0zm-25 2h1m21 1zm-26 2zm-7 2h2m-4 2zm-4 1h1m0 1zm-3 2zm37 0zm-1 1zm-4 2zm3 1zm3 0zm-4 1zm4 0zm-3 1h1m-48 1zm43 0zm2 0zm-3 1h1m4 1zm-3 1zm4 0zm-8 1zm2 0h1m-3 1zm-51 1zm50 0zm-4 1zm3 0zm-52 1zm51 0zm-1 1zm1 1zm4 0zm-8 1h2m2 0zm-59 1zm-2 2zm47 0zm8 0h1m-57 1zm53 0h1m3 0zm-58 1zm52 0zm-4 1zm-6 2zm-7 1zm0 1zm2 0zm-2 1zm-4 1zm-7 1zm-36 1zm31 0zm2 0zm-4 1zm-5 1h1m-4 1zm-9 3zm-3 1zm-16 1z"/>
<path stroke="#1a62e0" d="M454 147zm4 0zm-7 1zm6 0zm-5 1h1m5 0zm-18 1zm19 1zm-20 1zm3 0zm19 0zm-1 1zm-27 1zm25 0zm-27 2zm25 1zm-34 3zm-6 2zm37 0zm-37 1h1m36 0zm0 2zm-42 2zm37 0h2m-40 1zm44 2zm-2 1h1m-53 1zm2 0zm47 0h1m-51 1zm55 0zm-56 1zm51 0zm-5 1zm4 0zm3 1zm-6 1zm2 0zm2 0zm-6 1zm2 0zm-6 1zm-1 1h1m2 0zm0 2zm0 1zm-61 2zm52 1zm1 1h1m-58 1zm54 0zm-8 3zm8 0zm-59 1zm50 0zm-8 1zm-44 1zm40 1zm-5 1h1m-6 1zm-6 1zm3 0zm-12 3zm-12 4zm-3 1z"/>
<path stroke="#4152db" d="M469 141zm-1 1zm-1 1zm-1 3zm-17 1zm2 0zm11 1zm-16 1zm16 1zm3 0zm-23 1zm-5 1zm-4 1zm29 0zm1 2zm-36 1zm33 0zm-2 1zm-37 1zm4 0zm-3 1zm37 1zm-5 1zm4 0zm-4 1zm3 0zm1 1zm-43 1zm-4 2h1m40 0zm7 0zm-6 1zm9 0zm-11 1h1m6 1zm-53 1zm53 0zm-6 3zm5 0zm-61 1zm62 1zm-10 3h1m-61 1h1m64 0zm-8 2zm10 0zm-70 1zm-1 1zm56 2zm-1 1zm-1 1zm-6 1zm-6 1zm3 0h1m-59 1zm60 0zm-6 1zm-55 1zm50 0zm2 1zm-11 1zm3 0h1m-4 1zm-4 1zm3 0zm-13 2zm2 0zm-17 4zm-3 1h1m-10 3z"/>
<path stroke="#1e50e1" d="M462 144zm-12 2zm8 0zm-8 1zm9 0zm-11 1zm4 0h1m5 0zm1 1zm-14 1h1m15 1zm-24 2h1m23 0zm-29 1zm28 0zm-30 1h2m27 0zm-31 2h1m-5 1zm3 0zm29 0zm-30 1zm30 0zm-1 1zm2 1zm-3 3zm4 2zm-10 2h2m-42 1zm41 0zm5 0zm-3 3zm-2 1h1m5 0zm-4 1h1m2 0zm-2 1zm-60 2zm2 0zm52 0zm5 1h1m-7 1zm-57 1zm-2 1zm57 1zm1 1zm-9 1zm5 0zm2 0zm-15 2zm6 0zm3 0zm-10 1zm10 0zm-8 1zm5 0zm-8 2zm-53 1zm48 0zm3 0zm-12 1zm-41 1zm40 0h1m2 1zm-6 1zm5 0zm-12 2z"/>
<path stroke="#2b45dd" d="M451 146zm8 0h1m1 1zm-21 2zm5 0zm2 0zm13 0zm-16 1zm16 0zm2 1zm-24 1zm-6 1zm-1 1zm29 1zm-30 1zm29 0zm-32 1zm36 0zm-37 1zm30 2zm0 1zm-2 2zm4 1zm-4 1zm0 2zm-45 1zm-3 1h1m52 0zm-4 1zm4 0zm-58 1zm53 0zm-2 1zm5 0zm-1 2h2m-3 1zm-11 1zm-51 1zm57 0zm0 1zm-60 1zm53 0h1m2 0zm2 0zm2 0zm2 0zm-8 1zm4 0h2m-10 1zm4 0zm-63 2zm56 1zm4 0zm-4 2zm0 1zm-2 1zm-60 1zm-1 1zm56 0zm-59 1zm53 0zm-14 3zm3 1h1m-8 1zm5 0zm-16 3zm1 1z"/>
<path stroke="#233bdc" d="M468 141zm-14 5h1m-2 1zm4 0zm3 0zm-1 1h1m-1 2zm0 3zm0 1zm-33 3zm31 0zm0 1zm1 7zm-50 3zm45 0h1m-6 1zm7 0h1m-54 2zm51 1h3m-8 1zm5 0zm3 0zm-8 1zm5 0zm2 0zm-2 1h1m-2 1h1m-9 1zm7 0h2m-9 1zm9 0zm-11 1zm7 0zm-4 1h2m-6 1zm6 0h1m-6 1zm0 1h1m-7 1zm-1 1h1m-9 2zm-1 1h1m-5 4zm-24 6z"/>
<path stroke="#fbfbfd" d="M711 51zm-5 5zm49 40zm-3 59zm0 2zm-146 7zm123 20zm-117 24z"/>
<path stroke="#fbfbfc" d="M636 54zm95 2zm21 32zm0 75zm-60 46z"/>
<path stroke="#f9f9fc" d="M727 52zm-15 1zm15 0zm6 0zm-96 1zm8 0zm38 0zm15 0zm9 0zm-63 2zm99 1zm1 1zm-125 3zm131 5zm-140 3zm144 0zm-145 2zm-1 1zm144 11zm-151 6zm2 1zm152 5zm-2 4zm0 23zm5 7zm-153 5zm-2 1zm150 9zm1 2zm-147 12zm144 5zm-144 1zm-6 15zm2 1zm5 8zm0 1zm115 1zm2 0zm-10 4zm-1 2zm4 0zm-27 13zm-72 5zm57 4zm-50 2zm2 2z"/>
<path stroke="#f7f7fb" d="M711 52zm-30 1zm15 0zm-42 1zm52 1zm48 15zm-146 4zm-5 14zm151 34zm-151 11zm0 45zm130 4zm-6 7zm-7 6zm-4 1zm4 1zm-101 18zm58 2zm-47 6z"/>
<path stroke="#f7f7fa" d="M682 52zm24 5zm-79 2zm-11 1zm21 0zm-21 2zm-7 8zm0 2zm144 9zm-151 9zm4 10zm0 2zm143 5zm-140 3zm-5 25zm147 2zm-2 8zm5 0zm-147 9zm2 3zm-7 23zm7 7zm0 3zm115 0zm2 0zm-109 14zm65 5zm-58 8z"/>
<path stroke="#f6f6fa" d="M713 51zm-16 1zm-45 2zm-8 1zm10 0zm54 1zm25 0zm-84 1zm26 0zm12 0zm-40 1zm46 0zm41 0zm-89 1zm-28 1zm12 0zm-8 1zm-4 1zm136 32h1m-147 6zm0 2zm142 0zm-139 25zm139 0zm8 0zm-148 1zm147 0zm-7 1zm-142 26zm147 1zm-7 4zm-5 8zm2 1zm-1 1zm-3 5zm-9 3zm-11 7zm3 3zm2 0zm-37 18zm-75 4zm62 6zm-29 5zm4 0zm-21 1zm17 1z"/>
<path stroke="#f4f4f9" d="M731 54zm-79 1zm79 0zm14 1zm-98 1zm27 1zm-47 2zm106 0zm7 0h1m-110 1zm118 4zm3 4zm0 1zm-2 11zm2 12zm0 2zm-144 1zm143 0zm-141 12zm143 4zm0 2zm-2 4h1m1 6zm-4 32zm-141 4zm133 10zm-2 2zm0 2zm-5 6zm0 2zm-10 1zm-8 5zm-7 4zm5 3zm2 0zm3 0zm0 2zm-109 1zm4 11zm7 5zm0 1zm6 3zm39 1h1m-34 1zm1 2zm8 0zm2 0z"/>
<path stroke="#f3f3f9" d="M656 214z"/>
<path stroke="#f3f3f8" d="M646 55zm48 3zm19 1zm-24 2zm32 1zm21 27zm9 3zm-142 2zm134 1zm-129 9zm-4 3zm132 0zm-5 1zm-6 14zm5 0zm-122 2zm140 0zm-17 21zm-127 6zm136 3zm4 1zm3 0zm-2 1zm-1 1zm3 0zm-146 2zm135 1zm-130 3zm129 11zm-129 9zm102 1zm-20 9zm-77 3zm-7 1zm74 7zm-72 5zm9 3zm38 1zm15 1zm-2 1zm-9 2zm-31 2zm16 3z"/>
<path stroke="#f2f2f7" d="M725 53zm7 0zm-50 1zm15 0zm-60 4zm6 0zm33 0zm25 0zm-57 1zm19 0zm4 0zm39 0h1m25 0zm-40 1zm21 0zm23 0zm2 1zm-32 2zm-85 1zm125 0zm2 3zm-137 3zm5 0zm132 0zm-139 4zm138 2zm-137 5zm143 1zm-1 4zm-150 2zm141 0zm6 5zm-7 3zm5 1zm-5 2zm-7 4zm1 3zm1 1zm10 0zm-133 2zm125 0zm-128 1zm139 0zm-16 1zm6 0zm11 0zm-138 2zm132 0zm4 1zm5 0zm-144 2zm127 1zm-1 1h1m-6 2zm7 0h1m-128 1zm-3 2zm124 2zm-121 3h1m-2 1zm132 0zm15 0zm-13 2zm8 0zm-4 1zm-144 1zm142 0zm-8 3zm-126 2zm140 3zm-140 2zm135 2zm5 0zm-13 1zm3 0zm4 3zm6 7zm-8 1zm8 4zm-10 1zm-136 4zm132 1zm-127 1zm121 0zm4 1zm3 0zm0 1zm-126 5zm114 1zm2 0zm4 0zm-119 1zm-12 1zm110 4h1m15 0zm-10 1zm4 0zm5 0zm-112 1zm93 0zm13 0zm2 0zm-109 1zm101 0zm9 3zm2 0zm-112 1zm80 5zm2 1zm-8 1zm8 0zm-80 6zm57 3zm7 0zm-67 3zm13 0zm1 2zm2 3zm32 0zm-15 2zm16 0zm9 0zm2 0zm-26 1zm-21 1zm0 1zm7 0zm18 1zm11 0zm-28 1z"/>
<path stroke="#f0f0f6" d="M713 52zm12 0zm-17 3zm-72 1zm6 2zm28 0zm63 0zm-76 1zm14 0zm63 1zm-21 2zm4 0zm-95 1zm110 3zm18 2zm-2 4zm-3 12zm-135 7zm2 0zm-1 7zm131 3zm-129 2zm127 2zm1 3zm-10 5zm1 5zm-2 1h1m1 3zm6 2zm-6 4zm26 0zm-145 1zm122 5zm1 5zm0 1zm7 15zm1 1zm-1 3zm5 0zm-138 2zm133 7zm-133 1zm1 2zm129 2zm-12 11zm-8 4zm-14 3h1m5 0zm-16 2zm-81 3zm-2 7zm3 3zm72 1zm-70 1zm7 1zm-5 2zm61 0h1m9 0h1m-28 1zm-28 1zm-3 1zm27 0zm-9 2zm24 1zm-29 1zm11 1zm-7 1z"/>
<path stroke="#efeff7" d="M741 157z"/>
<path stroke="#efeff6" d="M690 54zm5 0zm-58 2zm-4 3zm42 0zm-2 1zm58 6zm-112 4zm123 6zm4 0zm-137 5zm142 5zm-1 5zm2 8zm-11 1zm0 1zm2 5zm-130 6zm124 0zm-126 1zm123 1zm-125 2zm133 2zm-131 1zm122 0zm-3 1zm-118 1zm120 0zm-124 1zm123 4zm-7 1zm6 0zm13 1zm-15 3zm18 0zm5 0zm0 10zm-28 1zm-112 4zm133 0zm-11 5zm10 9zm8 1zm-144 5zm129 1zm-15 5zm5 0zm-16 4zm-5 3zm-89 1zm99 2zm15 1zm-21 3zm-4 2zm5 1zm-18 4zm13 1zm-13 1zm-2 4zm3 2zm-74 3zm74 0zm-43 4zm12 0zm-5 2zm2 1zm-20 1zm-2 1zm13 0zm-18 1zm33 0zm-17 1zm-9 1zm9 1zm-3 2z"/>
<path stroke="#eeeff7" d="M735 173z"/>
<path stroke="#eeeef5" d="M683 53zm15 0zm-8 2zm5 0zm49 1zm-39 2zm30 0zm-72 2zm31 0zm-28 1zm73 0zm-120 1zm91 0zm-91 1zm16 0zm88 0zm10 0zm12 0zm-125 1zm87 1zm13 1zm6 0zm-103 1zm97 0zm6 1zm9 2zm-121 9zm135 2zm-13 11zm-5 2h1m-123 2zm139 0zm-140 1zm112 1zm8 0zm11 0zm9 0zm2 0zm-13 1zm12 0zm-136 1zm122 0zm-126 1zm129 0zm-125 1zm3 1zm92 2zm3 0zm12 0zm-11 1zm-107 3zm120 0zm5 0zm-11 1zm4 0zm16 0zm-33 1zm5 0zm16 1zm5 0zm13 0zm10 0zm-43 4zm17 0zm-12 1zm14 1zm-119 1zm123 0zm8 0zm-28 1zm20 0zm-120 2zm123 0zm2 0zm-17 1zm3 0zm12 0zm-123 1zm93 1zm5 0zm12 2zm-6 1zm-102 3zm113 1zm9 0zm9 2zm-26 1zm13 0zm-121 1zm106 0zm-105 3zm109 2zm10 0zm10 0zm-13 1zm6 0zm-9 2zm3 0zm-119 4zm122 2zm-125 2zm0 3zm5 3zm124 1zm3 9zm-8 1h2m-21 4zm16 0zm-10 1zm14 2zm-18 1zm-8 1zm4 0zm16 0zm-23 2zm3 1zm11 0zm11 1zm-22 1zm-95 1h1m87 0h1m-7 1zm16 0zm-95 1h1m103 1zm-31 3zm4 1zm-6 1zm-67 2zm63 0zm9 0zm-7 1zm9 0h1m10 0zm-27 1zm11 0zm5 0zm-15 4zm-59 1zm74 0zm-81 1zm9 0zm7 0zm-11 2zm3 0zm16 2zm-7 2zm34 0zm16 0zm-35 2zm7 1zm2 0zm2 2zm16 0zm-31 1zm1 3zm8 1zm2 2zm3 0z"/>
<path stroke="#ebebf5" d="M628 201z"/>
<path stroke="#ececf4" d="M712 51zm-71 3zm92 0zm0 1zm-26 1zm38 1zm-107 2zm32 1zm11 0zm-33 1h1m39 1zm34 0zm15 1zm10 0zm-124 1zm70 0zm-71 2zm128 1zm-23 1zm-2 1zm19 1zm-4 1zm8 0zm-3 1zm5 8zm-5 5zm-5 1zm4 0zm0 2zm-3 1zm-6 1zm14 1zm-19 2zm8 4zm7 2zm-30 2zm10 0zm-5 2zm7 0zm14 4zm-24 1zm16 1zm7 0zm-15 1zm15 0zm1 1zm-130 1zm123 0zm-117 1zm115 0zm23 0zm-12 1zm-18 2zm6 0zm-114 3zm98 0zm-13 2zm42 0zm-14 1zm15 0zm-12 5zm-119 1zm2 1zm96 1zm19 0zm-2 1h1m-3 1zm5 0zm-8 1zm4 0zm20 0zm-24 2zm-109 1zm114 0zm21 2zm-12 4zm7 0zm-21 1zm14 1zm0 1zm-9 1zm-118 7zm131 1zm-11 3zm5 1zm5 0zm3 0zm-2 1zm-18 11zm11 2zm-121 4zm94 1zm11 0zm-105 5zm88 1zm5 2zm-2 2zm-11 1zm-5 1zm13 4zm-86 1zm79 0zm-72 8zm47 0zm-9 3zm7 0zm25 0zm-70 1zm64 0zm-69 1zm19 2zm21 0zm15 0zm-45 2zm10 1zm6 2zm-14 1zm22 0zm-12 1zm9 0zm3 0zm24 0zm-13 2zm-12 3z"/>
<path stroke="#ebebf4" d="M642 54zm3 2zm87 0zm-74 2zm11 1zm8 0zm59 0zm-41 1zm24 0zm-85 1zm59 0zm4 0zm3 0zm15 0zm10 0zm-90 1zm98 0zm8 0zm-53 1zm5 0zm-50 1zm-9 1zm94 0zm-31 1zm21 1zm-108 4zm5 1zm-7 1zm8 1zm119 0zm3 2zm14 5zm-7 7zm-142 1zm138 2zm4 0zm-1 1zm-6 1zm-27 2zm15 0zm-18 1zm27 0zm2 0zm13 1zm3 1zm-143 1zm97 0zm42 1zm-44 2zm37 2zm-33 2zm39 0zm-42 1zm-101 3zm86 0zm19 0zm22 0zm-21 3zm12 0zm8 1zm-9 1zm21 0zm-40 3zm14 0zm12 2zm-21 1zm15 0zm10 0zm7 0zm-17 4zm5 0zm20 1zm-130 2zm100 0zm-10 1zm19 1zm-17 1zm6 1zm30 0zm-143 2zm116 0zm-3 1zm22 2zm-1 2zm14 0zm-136 1zm102 0zm22 0zm-14 2zm7 4zm16 0zm5 0zm-32 1zm-1 2zm-105 1zm122 1zm8 0zm-4 3zm3 6zm-18 4zm17 0zm0 1zm-17 1zm14 0zm-28 7zm15 1zm-111 1zm94 2zm-107 2zm99 0zm-85 1zm80 1zm21 1zm2 1zm-105 2zm99 3zm-20 2zm16 0zm-25 1zm6 0zm-70 1h1m1 1zm78 0zm-79 1zm4 2zm89 0zm-41 1zm-4 4zm4 0zm-40 1zm49 0zm-11 1zm-35 2zm29 1zm-30 1zm15 2zm6 0zm24 0zm-30 2zm6 0zm-23 2zm12 0zm25 1zm-46 2zm28 0zm-10 5z"/>
<path stroke="#e9e9f3" d="M689 54zm5 0zm-53 1zm8 3zm27 2zm25 0zm20 0zm17 0zm-66 1zm18 0zm50 0zm-76 1zm18 0zm21 0zm16 0zm18 0zm10 0zm-113 1zm16 0zm12 0zm-31 1zm57 0zm30 0zm-88 1zm5 0zm85 0zm-5 1zm25 0zm-15 1zm3 0zm0 1zm18 2zm-17 1zm1 1zm7 0zm0 1zm-2 3zm2 12zm8 1zm-7 2zm-15 2zm19 0zm9 0zm-137 1zm116 2zm-15 1zm38 0zm-140 1zm112 1zm-9 1zm24 0zm-26 1zm6 0zm19 0zm8 0zm-137 1zm90 0zm12 0zm-9 1zm23 0zm-17 1zm32 0zm-46 1zm6 1zm12 0zm4 0zm14 0zm10 0zm-26 1zm-102 1zm4 0zm108 0zm-121 1zm102 0zm15 0zm-24 1zm15 1zm21 0zm-18 1zm-9 1zm-10 1zm9 0zm24 0zm15 0zm-47 1zm8 0zm-12 1zm25 0zm-14 2zm-14 4zm13 1zm-7 1zm19 0zm9 0zm4 0zm9 0zm1 1zm-42 1zm5 0zm4 0zm6 0h1m33 0zm-127 1zm129 0zm-33 1zm22 0zm-16 1zm-104 1zm103 0zm27 0zm-23 1zm8 0zm-11 1zm10 2zm-22 1zm12 0zm18 0zm-33 1zm10 0zm7 0zm8 0zm3 0zm-15 1h1m-102 2zm98 1zm0 1zm17 0zm-17 3zm9 0zm-4 1zm-105 1zm115 0zm13 1zm-129 1zm116 0zm-3 1zm-116 2zm3 2zm123 0zm8 0zm2 5zm-18 8zm-11 2h1m21 0zm-26 2zm26 0zm0 1zm-126 2zm1 3zm2 0zm116 1zm-30 2zm10 0zm-15 1zm-79 2zm88 0zm13 0zm-17 1zm3 0zm-9 1zm-9 2zm-74 1h1m81 0zm-83 1zm83 0zm8 0zm8 0zm7 0zm-38 1zm4 0zm9 0zm6 0zm9 0zm-91 1zm63 0zm5 0zm14 0zm-4 1zm-73 1zm78 0h1m-83 1zm-2 1zm70 0zm17 0zm-86 2zm75 0zm27 0zm-94 1zm67 3zm-72 1zm52 0zm17 0zm-71 1zm4 2zm38 0zm7 0zm26 0zm-72 1zm35 0zm-27 2zm21 0zm-22 1zm19 0zm7 0zm-12 1zm6 2zm24 2zm-24 1h1m4 0zm-12 1zm2 0zm6 0zm4 1zm-4 1zm12 0zm-13 1zm3 0zm-5 4z"/>
<path stroke="#e8e8f2" d="M642 55zm14 2zm-22 2zm9 0zm5 0zm-7 1zm36 0zm1 1zm-27 1zm7 0zm9 0zm79 0zm-37 1zm8 0zm17 0zm2 0zm-98 1zm52 0zm2 0zm-56 1zm55 0zm19 1zm39 2zm-129 2zm116 2zm-3 2zm-117 1zm126 0zm5 0zm-134 1zm-3 4zm131 3zm3 1zm8 3zm-139 3zm95 5zm36 4zm-8 2zm-39 1zm21 0zm24 0zm-46 1zm16 1zm9 2h1m1 2zm3 1zm-122 1zm103 2zm7 1zm32 0zm-42 1zm4 1zm30 0zm-27 1zm-101 1zm8 0zm82 1zm15 0zm-15 3zm43 0zm-134 2zm101 0zm4 0zm4 0zm-7 1zm2 0zm16 0zm-111 1zm76 1zm42 1zm-6 1zm-113 1zm83 0zm52 1zm-29 2zm11 2zm-119 3zm98 0zm-100 2h1m95 0zm5 5zm12 2zm-114 1zm107 1zm6 1zm-3 1zm19 5zm-132 4zm124 2zm19 1zm-146 3zm136 4zm-130 2h1m1 1zm95 6zm5 0zm-22 8zm-73 1zm80 1zm16 1zm-17 1zm-6 1zm19 0zm-20 1zm7 0zm-19 4zm-51 1zm48 0zm-47 1zm-12 2zm75 0zm-58 1zm54 0zm-74 2zm10 0zm43 0zm2 0zm-31 3zm25 0zm-8 1zm7 0zm-43 1zm22 2zm16 2zm-25 1zm14 1zm17 0zm-22 1zm23 1zm-24 2zm6 2zm2 1z"/>
<path stroke="#e7e7f1" d="M726 53zm-90 2zm53 0zm5 0zm-49 3zm17 1zm50 0zm-60 2zm-20 2zm25 0zm8 0zm59 1zm8 1zm6 0zm1 1zm-30 1zm34 2zm-128 2zm116 0h1m-119 10zm131 6zm-7 3zm9 6zm-22 2zm14 0zm2 0zm-127 1zm86 0zm29 0zm-21 2zm20 1zm18 0zm-48 2zm6 3zm7 0zm22 0zm-20 1zm2 1zm-21 2zm16 0zm28 0zm6 0zm-131 2zm100 0zm6 1zm15 0zm-48 1zm59 0zm-14 1zm-40 2zm31 0zm-110 2zm5 2zm108 3zm5 0zm-34 1zm38 0zm4 0zm-38 2zm29 2zm8 0zm-25 2zm28 3zm-32 2zm20 0zm16 2zm-129 1zm124 0zm14 0zm-26 1zm3 0zm-114 1zm125 1zm-23 1zm12 1zm-5 4zm1 2h1m12 1zm8 7zm-14 1zm3 0zm9 4zm0 1zm-15 6zm-118 1zm120 1zm-27 2zm6 0zm11 1zm-1 1zm-13 1zm26 3zm-10 8zm2 0zm-38 2zm-10 1zm4 0h1m25 0zm-26 2zm9 0zm-3 1zm-18 4zm-50 2zm-3 4zm35 0zm43 0zm-77 1zm12 0zm44 2zm18 2h1m-56 5zm7 1zm-8 5z"/>
<path stroke="#eae90f" d="M660 69zm-12 1zm9 0h1m12 0zm3 0zm7 0zm-43 1zm36 0zm7 0zm-54 3h1m-1 1zm70 0h1m2 0h1m-2 1h2m5 1zm0 1zm5 1zm2 0zm-9 1zm6 0h2m2 0zm-9 1zm4 0h1m4 0zm-9 1zm-84 2zm80 0h1m-7 1h2m4 0zm-8 3zm-70 1h3m54 0h1m3 0zm3 0zm-63 1h3m55 0h1m-59 1h1m51 0zm-45 1zm6 1h1m27 0zm4 0zm2 0zm-37 1h2m5 0h1m3 0h2m5 0h1m10 0h1m5 0zm-35 1h1m10 0zm17 0h2m5 0h2m-29 1h1m2 0h2m17 0zm-19 1zm2 0zm5 0h1m11 0zm-15 37zm-1 4zm5 0zm-5 1zm-20 2zm19 0zm-19 1zm8 0zm8 0zm-11 1zm7 0zm9 0zm7 0zm-22 1zm11 0zm3 0zm6 0zm-22 1zm25 0zm4 1h1m3 0zm5 0zm-41 1zm37 0zm2 0h2m5 0zm-46 1zm37 0zm5 0h1m-44 1h1m-3 1h2m47 0zm-49 1h2m49 0h1m11 1zm-66 2h1m0 1zm64 0zm3 0zm0 1zm10 0zm-12 1h2m11 0zm-77 1zm65 0zm4 0zm-1 1h2m-6 1zm4 0zm2 0zm-5 1zm5 0zm-5 1h1m-1 1h1m-5 2zm1 2zm-11 1h6m5 0h1m-60 1zm44 0zm5 0zm2 0zm-50 1zm43 0h2m3 0zm3 0zm-50 2zm3 0zm-4 1h4m30 0zm2 0zm6 0zm-40 1h2m5 0zm2 0h2m7 0zm10 0zm6 0zm-16 1h1m2 0h2m4 0h1m8 0zm-25 1zm3 0zm4 0zm11 0zm6 0zm-22 1h1m3 0h1m-5 1h4m0 1zm0 1zm18 0z"/>
<path stroke="#e5e6f1" d="M726 52zm-73 2zm-16 1zm19 3zm-28 1zm13 0zm35 0zm11 0zm13 0zm8 0zm-46 1zm4 0zm3 0zm-53 1zm49 0zm46 0zm24 0zm-114 1zm31 0zm37 0zm-30 1zm48 0zm35 0zm-55 1zm13 0zm22 0zm-22 1zm31 0zm17 1zm-14 1zm19 2zm-21 4zm14 2zm-10 4zm9 0zm-136 1zm132 2zm3 3zm2 1zm5 1zm-13 1zm-11 1zm13 1zm-125 1zm103 1zm20 0zm-128 1zm105 0zm28 0zm-29 1zm2 0zm36 2zm-36 2zm13 0zm12 0zm-35 1zm24 0zm-39 1zm53 0zm-138 1zm104 0zm-14 1zm45 0zm-27 4zm21 0zm-43 1zm-81 1zm124 0zm1 1zm-29 1zm6 0zm-103 1zm97 0h1m19 0zm12 0zm-28 1h1m16 0zm18 0zm-136 1zm83 0zm7 0zm8 0zm5 0zm26 0zm3 0zm8 0zm-58 1zm36 0zm-24 1zm2 1zm-97 1zm91 0zm15 0zm29 0zm-133 1zm4 0zm73 0zm32 1zm32 0zm-140 1zm91 0h1m2 0zm-89 1zm81 0zm-89 1zm94 0zm2 0zm32 0zm5 0zm-13 1zm24 0zm-52 1zm22 0zm-14 2zm-92 1zm120 0zm-120 1zm77 0zm31 0zm23 0zm-130 2zm133 0zm-32 1zm-1 2zm15 0zm5 0zm-4 2zm12 0zm-132 2zm109 0zm8 2zm-3 1zm23 0zm-32 1zm8 1zm15 1zm-1 1zm-1 1zm-124 1zm110 1zm-9 2zm16 0zm-12 1zm6 0zm-6 1zm7 0zm-114 4zm114 0zm2 1zm-2 1zm9 1zm14 4zm-21 2zm-123 1zm108 2zm10 2zm-8 1zm-16 3zm9 0zm7 0zm5 0zm15 0zm-28 4zm3 0zm22 0zm-34 1zm-84 1zm2 0zm107 0zm-29 1zm8 0zm-84 1zm75 0zm19 0zm-9 2zm-8 4zm7 0zm15 0zm-8 1zm-89 2zm62 0h1m24 0zm1 1zm-91 1h1m5 0zm81 0zm6 0zm-22 1zm-73 2zm69 0zm2 0zm16 0zm-80 1zm4 0zm47 0zm8 0zm-6 1zm3 0zm-69 1zm19 0zm51 0zm-60 1zm-1 1zm44 0zm5 0zm-36 1zm10 0zm4 0zm4 0zm-37 1zm10 0zm35 0zm-30 1zm44 0zm9 0zm-52 1zm51 0zm-63 2zm41 0zm-40 1zm10 0zm4 0zm10 0zm3 0h1m-5 1zm5 0zm-6 1zm5 0zm5 1h1m29 0h1m-24 2zm-28 1zm5 0zm-15 1zm16 0zm34 0zm-19 3zm15 1zm-40 1zm22 4z"/>
<path stroke="#e4e4f0" d="M668 59zm71 1zm-119 1zm47 0zm3 0zm10 0zm42 0zm-50 2zm74 0zm-114 2zm5 0zm52 0zm50 0zm-16 3zm-3 1zm2 0zm12 1zm-6 3zm-117 15zm129 4zm-13 2zm14 0h1m10 0zm-6 1zm-33 1zm-14 2zm9 0zm1 1zm22 1zm5 3zm-38 1zm43 1zm-126 1zm90 0zm17 2zm-16 2zm9 1zm-103 1zm84 1h1m8 0zm36 0zm-46 1zm13 0zm29 2zm-32 1zm18 1zm14 2zm-25 4zm-9 5zm15 2zm-1 3zm-11 2zm12 0zm18 0zm-22 1zm15 1zm-21 1zm9 0zm-4 2zm27 0zm-127 1zm97 0zm-96 2zm114 4zm-12 1zm16 3zm-1 6zm14 0zm-21 2zm-110 3zm1 1zm111 1zm2 1zm-17 2zm-1 4zm0 2zm7 2zm-10 1zm8 1zm-22 4zm2 0zm34 0zm-108 4zm86 0zm-18 2zm-69 1zm64 0zm2 0zm9 0zm-17 2zm-54 2zm65 0zm-8 2zm2 0zm-2 2zm-61 1zm45 1zm21 0h1m7 1zm-12 2zm-33 2zm17 0zm15 1zm-50 1zm20 0zm7 0zm7 0zm11 0h1m-16 2zm-28 2zm12 1zm22 7zm-40 1zm13 0z"/>
<path stroke="#e3e3ef" d="M653 55zm-5 2zm96 0zm-100 1zm-16 2zm6 0zm38 0zm16 0zm20 0zm4 0zm-95 1zm95 0zm6 0zm2 0zm-39 1zm-60 1zm45 0zm15 0zm60 0zm-109 1zm64 2zm-74 1zm115 1zm-11 2zm3 0zm24 0zm-25 1zm1 1zm12 2zm2 0zm-9 1zm-119 2zm130 3zm4 0zm-11 7zm3 0zm-15 1zm5 0zm6 1zm6 3zm-134 1zm95 1zm8 0zm13 0zm26 0zm-50 2zm-92 1zm87 0zm37 0zm-35 1zm12 0zm2 0zm21 0zm-37 1h1m20 0zm5 0zm-5 1zm19 0zm9 0zm-138 1zm111 0zm13 0zm-117 1zm108 0zm14 0zm-25 1zm4 0zm23 2zm-20 1zm-107 1zm101 0zm4 0zm19 0zm-35 1zm2 0zm2 0zm35 0zm-50 1zm-1 1zm21 0zm8 0zm24 0zm-15 1zm18 0zm5 0zm-139 1zm95 0zm48 1zm-34 1zm19 0h1m-50 1zm6 0zm43 1zm-123 1zm95 0zm13 0zm20 0zm-131 1zm95 0zm37 0zm-4 1zm2 0zm9 0zm-133 1zm102 0zm-101 2zm76 0zm49 0zm-130 1zm85 0zm55 0zm-44 1zm16 0h1m-16 1h1m1 2zm-2 1zm-94 2zm88 0zm12 0zm10 1zm-21 1zm18 0zm9 0zm7 0zm7 0zm-131 1zm95 0zm-96 1zm99 0zm2 0zm22 0zm8 0zm-44 1zm45 0zm-41 2zm23 0zm15 2zm-35 1zm17 0zm5 0zm-15 1zm21 0zm2 1zm5 0zm-34 1zm11 0zm17 0zm-16 1zm-111 1zm111 3zm-7 1zm20 1zm-16 1zm3 2zm-114 2zm121 0h1m12 0zm-4 2zm7 2zm-20 1zm-110 1zm110 0zm-1 3zm-110 2zm109 0h1m7 0zm-13 1h1m18 0zm-17 2zm5 1zm-14 1zm-3 1zm9 0zm12 0zm2 0zm6 0zm-12 2zm-113 2zm1 1zm117 1zm-113 1zm81 0zm6 0zm10 1zm11 0zm-31 1zm17 0zm23 0zm-35 1zm20 0zm-102 2zm73 0zm-6 1zm22 0zm0 1zm-20 1zm26 0zm3 0zm-24 1zm6 2zm-74 1zm-3 2zm53 3zm-62 1zm59 0zm10 1zm-52 2zm5 0zm47 0zm-19 1zm6 0zm5 0zm-26 1zm-23 1zm25 0zm10 0zm4 1zm25 3zm-51 1h1m15 0zm-17 4zm20 0zm0 1zm-26 1zm-9 1zm11 0zm18 0zm21 0zm-32 1zm11 1zm3 0zm24 0zm-38 1zm10 1zm5 0zm-13 1zm-6 1z"/>
<path stroke="#e1e1ef" d="M712 52zm-67 3zm62 0zm-50 2zm31 1zm-51 1zm12 0zm44 0h1m40 0zm-101 1zm9 0zm10 0zm63 0zm-51 1zm15 0zm-49 1zm4 0zm29 0zm10 0zm52 0zm-65 1zm8 0zm51 0zm-97 1zm58 0h1m40 0zm-17 2zm10 0zm10 0zm17 0zm-38 1zm-75 1zm93 1zm8 0zm15 0zm-134 1zm110 0zm-102 1zm123 0zm4 0zm-136 2zm129 2zm-125 2zm123 0zm-121 3zm-1 2zm138 0zm-17 1zm-3 1zm0 2zm11 0zm-21 2zm19 0zm-139 1zm142 0zm-3 1zm4 2zm-20 1zm25 0zm-24 1zm9 1zm-35 1zm15 0zm15 1zm-116 1zm2 1zm99 0zm14 0zm-112 1zm76 0zm2 1zm5 0zm8 0zm11 0zm30 0zm-131 1zm91 0zm-16 1zm5 0h1m17 0h1m-99 1zm83 0zm4 0zm3 0zm3 0zm11 0zm-19 1zm14 0zm12 0h1m-33 1zm2 0zm4 0zm-15 1zm13 0zm12 0zm5 0zm30 0zm-134 1zm101 0zm11 0zm-21 1zm19 0zm-114 1zm7 1zm86 0zm11 1zm6 0zm6 0zm-38 2zm41 1zm8 0zm-24 1zm13 0zm-24 1zm36 0zm-16 1zm15 1zm4 0zm-50 1zm6 0zm11 0zm-3 1zm16 0zm-25 1zm31 0zm6 0zm-24 1zm-25 2zm13 0zm40 0zm-53 1zm9 0zm51 0zm-125 1zm92 0zm-5 1zm9 0zm-3 1zm5 0zm-3 1zm2 0zm15 2zm-18 1zm27 0zm-136 1zm108 0h1m10 0h1m5 0zm-114 1zm88 1zm25 0zm5 1zm-11 1zm29 0zm-139 1zm107 0h1m2 0zm-16 1zm5 1zm13 1zm-5 2zm4 1zm25 0zm5 0zm-25 2zm4 0zm-18 1zm8 1zm13 0zm-15 2zm12 2zm-124 1zm7 1zm-3 2zm126 1zm-11 1zm-1 3zm14 3zm-125 1zm108 1zm-10 1zm0 1zm10 0zm7 1zm-11 1zm20 0zm-26 1zm6 2zm-107 3zm3 0zm89 0zm-86 1zm111 0zm-127 1zm98 1zm4 4zm-17 1zm3 0zm2 0zm13 0zm-12 1zm1 1zm16 0zm-96 1zm5 1zm95 0zm10 0zm2 0zm-31 1zm-73 1zm71 1zm4 0zm18 3zm-96 1zm100 0zm-92 1zm-9 2zm32 1zm6 0zm16 0zm17 1zm-57 1zm15 1zm37 0zm-57 1zm18 0zm17 1zm-40 1zm10 0zm20 0zm8 0zm14 0zm-8 1zm-3 1zm8 0zm-29 2zm-15 1zm10 0zm16 4zm-28 2zm28 0zm-14 1zm4 4zm-15 1z"/>
<path stroke="#ebe30c" d="M662 69zm-3 1h1m9 0zm5 0zm-38 1zm5 0h2m21 0h1m2 0zm4 0zm4 0zm4 0zm-45 1zm42 0h1m-49 1zm55 0zm3 0zm1 1h1m-61 1zm71 0zm-1 1zm8 0zm-82 1h1m75 0zm-78 2zm81 1zm10 0zm-91 5zm76 0zm-2 1zm-4 1zm-69 1zm65 0h1m-7 1zm-6 1h2m3 0zm-8 1h1m-50 1zm9 0zm31 0zm-34 1zm3 0h1m11 0zm19 0zm2 0zm4 0zm-37 1zm10 0zm5 0zm-24 1zm18 0zm2 0zm17 0zm-17 1zm21 1zm-7 44zm-21 1h1m7 0zm8 0zm5 0zm-22 1zm3 0zm5 0zm3 0zm6 0zm-20 1zm2 0zm5 0zm7 0zm8 0zm-22 1zm-2 1zm32 0h1m5 0zm-39 1zm30 0zm5 0zm2 0zm-37 1zm37 0h1m-41 1zm44 0h4m-1 1zm2 1zm5 0zm2 0zm0 1h1m-3 1zm-56 1zm62 0zm0 1zm2 0zm0 1zm13 0zm-11 2h1m-2 1zm2 0zm-2 1zm-66 1zm65 0zm2 0zm2 0zm5 0zm3 0zm-12 1zm-4 1zm4 0zm3 0h1m5 0zm-11 1zm-62 1zm1 1zm55 1h1m-55 1zm56 0zm2 0zm-56 1zm42 0zm2 0zm5 0zm6 0zm-54 1zm41 0zm7 0h1m-49 1zm4 0zm44 0zm-47 1h1m3 0zm1 1zm4 0h1m7 0h1m15 0zm2 0zm-27 1zm13 0zm6 0zm2 0zm6 0zm-15 1zm10 0zm3 0h2m-16 1zm-8 1h1m4 0zm3 0h1m-8 1z"/>
<path stroke="#ebdd0a" d="M661 68h1m-10 2h1m3 0zm6 0zm6 0zm-30 1h1m10 0zm8 0zm6 0zm11 0zm4 0zm-15 1h1m8 0zm9 0zm-52 1zm3 0zm31 0zm13 0h1m5 0zm4 1zm6 0zm2 0zm-6 1h1m2 0zm4 0zm1 1zm-71 1zm73 0zm2 0zm2 1zm0 1zm-81 1zm0 1zm82 0zm-83 2zm83 0zm-82 1zm75 0zm2 1h1m-9 1h1m-2 1zm5 0zm-68 2zm56 0zm-8 1zm4 0h1m-49 1zm41 0zm-44 1zm6 0zm3 0h1m29 0zm-38 1zm7 0zm3 0zm3 0h1m15 0zm2 0zm-9 1zm6 0zm3 0zm2 0zm-19 1zm3 47h1m5 0zm-15 1h1m3 0zm9 0zm-6 1zm12 0zm-22 1zm14 0zm5 0h3m-24 1zm25 1h2m2 0zm-35 1h2m37 0zm4 0zm-43 1zm40 0zm-37 1zm44 0zm1 1h1m7 0zm-1 1zm4 0zm-58 1zm55 0zm-1 1zm9 1zm-65 1zm65 0zm-64 2zm62 0h1m-64 1zm60 0zm3 0h1m-64 1zm67 0zm9 0zm-9 1zm4 0zm-3 1zm5 0zm-1 1zm-11 1zm0 2zm-9 1h1m-7 1h1m2 1zm-41 2zm37 0zm9 0zm-17 1h1m2 0h1m-29 1h2m18 0h2m3 0zm-14 1zm2 0h1m2 0h3m5 0zm3 0zm3 0zm2 0zm-9 1zm8 0zm-20 1zm-2 1zm-4 1z"/>
<path stroke="#ebd506" d="M661 69zm-7 1h1m6 0zm-17 1zm2 0h2m3 0zm15 0zm2 0h2m-35 1zm27 0zm11 0zm5 0zm2 0zm-50 1h1m2 0zm29 0zm22 0h1m8 1zm-6 1zm3 0zm2 0zm-66 1zm62 0h1m0 1zm13 0zm-80 1zm67 0h1m8 0h1m-2 1h1m4 2zm-82 1zm80 1zm-7 1h2m4 0zm-77 1zm69 0zm2 0zm-4 1zm5 0zm-71 1zm69 0zm-67 1zm49 1zm4 0zm-51 1h2m44 0zm-46 1zm2 0zm2 0zm31 0zm-33 1zm5 0h1m9 0zm14 0zm4 0zm3 0zm2 0zm3 0zm-36 1zm6 0zm22 0zm-7 1zm-13 49zm2 0h1m6 0zm-16 1h3m2 0zm5 0zm3 0zm3 0zm-7 1zm2 0zm-14 1zm23 0zm-25 1zm5 0zm26 0zm-31 1zm39 0zm-40 1zm42 1zm1 1zm-45 1zm50 0h2m2 0zm-2 1zm3 0zm2 0h1m-60 1zm56 0zm-57 1zm57 0zm4 0zm-4 1h1m4 0h1m0 1zm-3 1zm2 0zm0 1zm1 1zm9 1zm-12 1zm3 0zm4 0zm-10 1zm2 0zm4 0zm8 0zm-71 1zm1 1zm58 0h1m-58 1zm57 0h1m-58 1zm49 0zm3 0h1m3 0h3m-58 1zm47 0zm9 0zm-54 1zm39 0h1m-39 1zm33 0h1m4 0h1m-39 1h1m3 0zm3 0zm23 0zm2 0h2m-27 1zm9 0h1m12 0h1m3 0zm-22 1zm14 0zm4 0zm9 0zm-12 1zm11 0zm-20 1zm-2 1h1m4 0z"/>
<path stroke="#ebc703" d="M645 71zm13 0h4m-26 1h1m3 0zm3 0zm6 0h1m21 0zm4 0zm4 0zm-45 1zm30 0zm14 0h1m-51 1zm48 0zm10 1zm1 1zm3 0h2m3 0zm-8 1h1m2 0zm7 0zm4 0zm-78 1zm65 0zm9 0zm3 0h1m-13 1h1m7 1h2m-3 1zm5 0zm-79 1h1m77 0h1m3 0zm-82 1h1m74 0h1m2 0zm2 0h1m-80 1zm69 0h1m5 0zm-7 1zm2 0zm-69 1zm69 0zm-5 1h1m5 0zm-70 1h1m55 0h1m3 0h3m-59 1h1m45 0zm2 0zm-45 1zm32 0zm10 0zm-44 1zm6 0h2m12 0h1m14 0zm2 0h1m4 0zm-42 1zm15 0zm6 0h1m7 0zm2 0zm5 0zm4 0h1m-30 1zm6 0h2m3 0h2m8 0h1m-13 1h1m4 0zm7 0zm-19 49zm9 0zm-9 1zm8 0h1m-16 1h1m2 0h2m6 0zm3 0h3m-4 1h3m-19 1h1m30 0zm-31 1h2m2 0zm24 0zm-29 1h2m31 0h1m6 1zm-42 1zm45 1zm2 0h1m-1 1h2m6 0zm-4 1zm3 0zm2 0h1m-60 1zm55 0zm2 0zm3 1zm-60 1zm56 0h1m2 0zm2 0zm-5 1h2m2 0zm-4 1zm2 0zm2 0zm5 0zm-9 1zm9 0zm-66 1zm57 0zm6 0zm-64 1zm58 0h2m2 0zm10 0h1m-73 1zm57 0zm2 0zm3 0zm-5 1h4m-2 1zm-55 1zm53 0h2m-55 1zm43 0h1m-43 1zm41 0zm-39 1h2m34 0h1m-36 1h2m29 0zm3 0zm2 0zm-8 1zm2 0zm4 0zm-30 1zm3 0h2m5 0zm3 0zm7 0h3m10 0zm-26 1zm4 0zm3 0h2m3 0zm6 0zm-16 1zm2 0zm-1 1h1"/>
<path stroke="#ebb601" d="M652 71h2m2 0zm-18 1h1m2 0h1m2 0zm3 0h1m3 0zm9 0h1m4 0zm2 0h1m6 0zm-39 1zm26 0zm12 0zm2 0zm5 0h1m-52 1zm3 0zm45 0zm2 0h6m-57 1zm65 0h1m-67 1zm64 1h2m2 0h1m-72 1zm63 0zm4 0h5m-74 1zm65 0zm3 0h2m4 0zm3 0zm2 0zm-79 1zm66 0h1m3 0zm3 0zm4 0h2m-79 1zm71 0h1m2 0h3m2 0zm-9 1zm3 0h3m3 0h1m-79 1zm72 0zm3 0zm-75 1zm75 0zm-75 1zm64 0h2m-2 1h1m5 0zm-69 1h1m58 0h1m2 0zm-12 1zm4 0zm3 0h1m-53 1zm47 0h1m-28 1zm12 0zm5 0zm5 0zm-39 1h1m4 0zm13 0zm7 0zm4 0zm-23 1zm7 0h3m12 0h1m-13 1h1m5 0zm0 1zm-12 50zm-6 1zm4 0zm3 0zm-8 1h2m7 0h2m7 0h1m-21 1h1m2 0zm13 0h1m13 0zm-29 1zm23 0h1m2 0h3m-30 1zm29 0zm4 0h3m-40 1zm34 0h1m5 0zm-41 2zm44 0zm2 0zm-47 1zm46 0h1m4 0zm-52 1zm50 0h2m5 0zm-4 1zm5 0zm-59 1zm55 0zm3 0h1m-4 1zm3 0zm2 0zm-60 2zm55 0zm2 0zm-57 1zm55 0zm3 0h1m2 0zm-4 1h1m3 0zm-6 1zm6 0zm0 1zm-61 1zm1 1zm54 0h1m-53 1zm48 0zm2 0h1m-51 1zm41 0zm5 0zm-45 1h3m40 0h1m-40 1zm30 0h2m-31 1zm3 0zm22 0h2m5 0zm-31 1h1m2 0zm2 0h1m4 0h3m4 0h1m3 0zm2 0zm10 0zm-32 1zm5 0zm11 0zm2 0zm-2 1h1m13 0h1m-22 1z"/>
<path stroke="#dedeed" d="M682 53zm15 0zm-49 5zm27 0zm31 0zm-17 1zm31 1zm21 1zm-49 2zm-48 1zm45 0zm5 0zm29 0zm22 0zm-51 1zm2 0zm12 0zm16 0zm-99 1zm124 0zm-129 2zm3 1zm122 1zm2 0zm-130 1zm110 0zm9 2zm-6 1zm6 0zm-119 2zm-4 6zm122 0zm-4 4zm-119 2zm119 1zm-15 3h1m6 0zm2 0zm-5 2zm18 0zm9 1zm-4 1zm-19 1zm-8 2zm30 0zm-14 2zm13 0zm3 0zm-22 1zm-112 1zm86 0zm-9 1zm10 1zm41 0zm-13 1zm-38 1zm4 0zm16 0zm27 1zm-45 1zm10 0zm34 0zm-45 1zm13 0zm9 0zm-30 1zm36 0zm9 1h1m24 0zm-63 1zm15 1zm25 1zm-39 1zm9 1zm12 0zm-95 1zm71 0zm10 0zm31 0zm-28 1zm16 0zm14 0zm-115 1zm81 0zm15 0h1m9 0zm17 0zm-122 1zm67 0h1m3 0zm42 0zm5 0zm-14 2zm6 0zm-37 1zm48 0zm-30 1h1m-97 1zm70 0zm14 0zm26 1zm25 0zm-138 1zm86 0zm21 0zm25 0zm15 0zm-31 2zm19 0zm-33 1zm24 0zm-42 1zm16 0zm3 0zm32 0zm-128 1zm110 0zm-25 1h1m36 0zm-23 2zm15 0zm-3 1zm-8 1zm-14 1zm21 0zm-8 1zm18 0zm-5 2zm-116 1zm114 0zm11 0zm-129 1zm106 0zm21 1zm-12 1zm-9 2zm11 0zm17 0zm-22 2zm-109 2zm122 0zm8 0zm-131 2zm131 0zm5 2zm3 0zm-145 2zm129 1zm7 0zm-133 2zm109 4zm10 0h1m6 3zm-126 1zm132 0zm-23 1zm3 0zm-108 1zm110 2zm-16 1zm6 0zm25 0zm-12 3zm2 0zm-28 1zm2 0zm-4 1zm-82 1zm95 0zm-6 1zm-89 2zm79 0zm18 0zm2 0zm6 0zm6 0zm-20 1zm11 0zm-102 3zm79 1zm18 0zm-96 3zm91 1zm-88 1zm2 1zm60 0zm2 0zm10 0zm-80 1zm68 1zm-59 1zm4 0zm36 1zm3 0zm8 0zm-3 2zm-13 1zm2 0zm30 0zm-31 1zm3 0zm9 0zm-41 1zm39 0zm-34 1zm9 0zm12 0zm11 1zm-33 1zm7 0zm9 1zm6 0zm13 0zm2 0zm8 1zm-68 1zm13 0zm11 1h1m-17 1zm44 1zm-5 1zm-7 1zm-10 1zm19 1h1m-25 1zm24 1zm-29 1zm18 1z"/>
<path stroke="#dddded" d="M670 59zm31 0zm32 0zm-36 1zm-39 1zm63 0zm-90 1zm103 0zm2 0zm-73 1zm22 0zm4 0zm14 0zm19 0zm-26 1zm3 0zm29 2zm9 0zm-32 1zm-3 1zm34 0zm-20 1zm19 0zm-11 2zm-110 5zm-1 12zm0 1zm123 0zm-21 1zm3 1zm-6 1zm-9 2zm19 0zm6 1zm-8 2zm-108 2zm99 3zm11 1zm-105 1zm114 6zm-43 1zm26 0zm5 0zm20 1zm11 0zm-52 2zm11 0zm-3 1zm7 3zm-22 1zm11 1zm20 0zm-107 1zm73 1zm-3 1zm52 0zm-28 1zm5 0zm-23 1zm6 3zm-6 3zm1 2zm5 0zm11 3zm19 0zm-15 3zm19 4zm-21 1zm-96 1zm96 0zm-98 1zm126 0zm-129 12zm123 3zm10 0zm-129 2zm117 8zm-117 1zm6 2zm0 7zm97 1h1m-13 1zm-5 1zm-5 2zm-4 2zm-69 1zm65 2zm12 0h1m-27 3zm23 2zm-25 2zm4 0zm-55 1zm61 0zm11 0zm-1 1zm-45 3zm12 1zm-6 4zm-6 1zm27 0zm-18 3zm-21 1zm25 1zm-19 3zm13 2z"/>
<path stroke="#dcdcec" d="M687 58zm-20 2h1m22 0zm10 0zm-4 1zm-50 1zm15 1zm3 0zm-22 1zm53 0zm12 0zm12 0h1m-25 1zm13 1zm41 1zm-36 1zm5 0zm7 3zm21 0zm-20 1zm16 2zm-9 1zm-6 10zm15 1zm3 0zm-15 1zm12 1zm-22 3zm4 0zm25 1zm-57 7zm17 1zm-93 1zm90 0zm20 0zm-22 3zm17 0zm-21 1zm5 0zm16 0zm18 0zm-25 2zm-1 1zm-24 2zm3 1zm6 0zm37 0zm-42 1zm15 0zm18 1zm3 0zm-36 1zm31 0zm-36 2zm22 3zm-95 1zm84 1zm39 0zm-53 1zm-69 1zm76 0zm13 0zm8 0zm-12 2zm7 1zm5 0zm-100 1zm86 0zm38 1h1m-24 1zm24 0zm10 0zm-33 1zm14 0zm-30 1zm27 0zm12 0zm-48 1zm29 0zm-20 1zm8 0zm12 0zm0 2zm-14 3h1m13 0zm-5 2zm14 1zm-112 1zm123 1zm4 3zm-12 5zm0 3zm-118 1zm121 1zm8 0zm-128 1zm119 1zm13 0zm-11 1zm12 0zm-26 12zm-109 1zm118 0zm-115 1zm3 4zm77 2zm-79 2zm4 1zm-2 2zm80 0zm-81 1zm74 0zm2 0zm-8 1zm2 0zm24 0zm-19 3zm-5 1h1m8 0zm1 1zm14 1zm-83 2zm61 0zm-63 1zm2 0zm61 0zm-12 3zm0 1zm-6 1zm-26 2zm-28 1zm66 0zm-66 2h1m25 0zm-15 1zm13 0zm-9 2zm2 0zm12 2zm-1 2zm6 0zm-20 1zm9 0zm14 0zm10 0zm-16 3zm-8 1zm13 1z"/>
<path stroke="#dadaeb" d="M689 60zm4 0zm-40 1zm66 0zm-8 1h1m23 0zm-105 1zm21 0zm2 0zm5 0zm9 0zm15 0zm-43 1zm61 2zm24 1zm-7 2zm10 1zm4 2h1m14 0h1m-19 2zm15 2zm-130 2zm1 3zm127 5zm-7 2zm-123 1zm116 1zm-116 1zm116 0zm27 5zm-45 1zm0 1zm-97 2zm97 1zm1 1zm-13 1zm13 0zm-18 1zm10 1zm4 0zm29 0zm-42 1zm49 0zm-47 2zm8 0zm11 0zm-96 2zm108 0h1m-38 1zm10 2zm50 0zm-35 2zm0 1zm-10 3zm15 0zm-31 2zm1 1zm-3 1zm10 0zm31 0zm-31 2zm14 1zm-10 1zm31 0zm-118 1zm80 0zm23 0zm0 1zm7 1zm7 0zm-36 1zm-76 1zm81 0zm40 1zm-31 1zm20 4zm-115 6zm103 0zm14 0zm-14 1zm14 0zm-115 2zm106 2zm13 0zm-8 1zm6 1zm6 2zm-9 1zm3 0zm-119 4zm113 1zm18 2zm-15 3zm-15 2zm4 0zm-6 1zm2 0zm-8 5zm16 0zm-14 1h1m19 3zm1 1zm-111 4zm82 1zm-87 1zm4 0zm2 0zm109 0zm-25 1zm2 0zm-95 4zm0 1zm11 2zm3 1zm1 1zm59 2zm-68 1zm9 0zm49 0zm-3 3h1m2 0zm-2 3zm-52 1zm9 2zm29 0zm-2 2zm3 0zm-3 1zm3 0zm-20 6zm1 1z"/>
<path stroke="#d8d8eb" d="M732 54zm0 1zm-78 6zm28 0zm-33 1zm52 0zm-56 1zm7 0zm5 1zm14 0zm26 0h1m-12 1zm17 1zm2 0zm4 0zm7 1zm6 0zm4 2zm-105 1zm105 1zm2 1zm15 3zm-6 17zm-6 1h1m-36 2zm11 1zm5 0zm41 0zm-59 1zm14 0zm2 0zm27 0zm0 1zm-29 1zm16 0zm7 0zm7 0zm-48 1zm-72 3zm103 0zm-15 1zm-2 1zm-9 1zm16 0zm9 1zm11 0zm-25 1zm25 0zm-36 1zm18 0zm25 0zm-54 1zm3 0zm31 0zm17 0zm-34 1zm48 1zm-57 1zm15 0zm21 0zm10 0zm-29 2zm-9 1zm6 1zm13 0zm-9 1zm-22 1zm4 0zm11 0zm3 0zm7 0zm15 2zm9 0zm-53 1zm2 0zm55 0zm-126 1zm5 1zm86 0zm33 1zm-46 2zm19 0zm-93 1zm88 0zm17 0zm7 0zm-8 1zm8 0zm-37 1zm11 1zm40 0zm-38 1zm40 1zm-35 2zm-8 2h1m12 1zm10 0zm0 2zm3 0zm-20 1zm7 0zm-103 1zm1 1zm2 0zm120 1zm-21 4zm11 0zm1 5zm-118 1zm123 3zm-5 1zm-120 1zm116 2zm6 1zm-6 3zm5 0zm4 3h3m-24 3zm10 0zm-17 1zm-89 1zm92 1zm9 1zm-1 1zm-15 2zm-4 2zm-80 1zm73 0h1m21 0zm-6 3h1m-25 1zm27 0zm-88 3zm60 0zm11 2zm-71 3zm55 0zm17 0zm-8 1zm8 1zm-28 2zm7 0zm-5 1zm6 0zm-13 1zm18 0zm-29 1zm25 0zm-3 2zm-53 1h1m9 1h1m42 0zm-10 2zm3 0zm8 0zm-40 1zm9 0zm20 0zm-7 1zm6 0zm-30 6h1m11 2zm-1 1zm13 2zm-6 1zm-1 1z"/>
<path stroke="#d6d6ea" d="M646 63zm3 0zm59 0zm-52 1zm14 0zm33 0zm3 0zm-18 1zm33 0h1m-1 2zm2 0zm13 0zm-33 1zm16 1zm28 2zm-21 2zm10 5zm-4 10zm-121 2zm108 0zm-7 1h1m6 0zm-104 1zm100 2zm-99 1zm81 0zm1 2zm8 1zm27 1zm-26 1zm-89 1zm73 0zm24 1zm-100 1zm95 2zm28 1zm-49 2zm2 0zm41 0zm8 0zm-122 1zm74 0zm12 0zm-6 1zm14 0zm3 0zm-29 1zm4 0zm28 0zm18 0zm14 0zm-59 1zm30 1zm9 0zm-31 1zm23 0zm8 0zm-17 1zm10 0zm7 0zm-43 2zm27 2zm-24 1zm46 0zm6 0zm-68 1zm13 0zm33 0zm8 1zm-51 3zm6 0zm-64 1zm81 0zm26 1h1m-27 1h1m-7 1zm25 0zm11 0zm-17 1zm5 0zm-4 1zm-2 1zm0 1zm-1 1zm-4 1zm-90 5zm91 0zm10 0zm-11 1zm31 0zm-29 1zm13 1zm7 1zm7 0zm-13 2zm5 0zm-1 1zm-9 4zm12 0zm-119 1zm4 2zm0 3zm114 0zm-114 1zm0 1zm115 4zm13 0zm-29 2zm16 1zm-23 6zm2 0zm7 3zm-103 1zm100 2zm-22 2zm-73 2zm83 0zm6 1zm-24 1zm11 1zm4 3zm-76 1zm76 0zm-5 1zm6 0zm-78 4zm72 0zm-20 1h2m-48 1zm42 1zm-5 2zm-45 1zm12 0zm13 0zm2 0zm17 0zm-26 1zm26 0zm-43 1zm27 0zm-26 1h1m22 0zm-22 1zm22 0zm-5 1zm-12 1zm46 0zm-19 1zm-6 3zm-3 3zm-7 1zm2 0zm24 0zm-27 1zm2 0zm6 0zm1 4z"/>
<path stroke="#d3d4ea" d="M735 60zm-67 1zm-37 2zm42 0zm-32 1zm37 0h1m22 1zm-70 1zm75 0h1m31 0zm-109 1zm72 1zm15 0zm-7 1zm18 0zm1 1zm-1 2zm9 8zm0 1zm-122 5zm112 0zm2 0zm6 0zm-3 1zm15 0zm-10 3zm-22 1zm26 0zm-1 1zm11 0zm-29 2zm8 1zm18 1zm-54 1zm13 0zm22 0zm-37 1zm-80 1zm83 0zm6 0zm23 0zm-113 1zm88 0zm35 0zm-34 2zm17 0zm30 0zm-56 1zm4 0zm5 1zm38 0zm-41 6zm6 0zm34 0zm-32 1zm34 0zm-46 1zm41 0zm-45 1zm46 0zm-22 2zm-26 2zm7 0zm27 1zm-102 1zm72 0zm51 1zm-54 2zm42 0zm-43 2zm33 0zm21 0zm-120 1zm65 0zm9 0zm12 0zm-86 1zm75 1zm51 1zm-66 1zm21 0zm24 0zm2 0zm-26 1zm0 1zm14 0zm2 0zm-28 1zm22 3zm8 1zm18 0zm-25 4zm17 0zm-112 1zm89 0zm3 0zm5 0zm22 0zm-7 1zm8 1zm-120 1zm96 0zm26 0zm-23 2zm29 1zm-39 2zm8 0zm7 3zm-109 3zm111 0h1m1 4zm18 2zm-33 10zm4 0zm13 2zm-113 1zm4 2zm93 0zm3 1zm-20 2zm-80 4zm11 0zm63 0zm2 0zm8 0h1m11 1zm-88 1zm-8 1zm8 0zm2 1zm-15 1zm0 1zm62 3zm-40 6zm0 3zm19 0zm-7 1zm16 1zm-7 1zm8 3zm5 0zm-7 1zm-23 1zm12 1zm18 3zm-14 1zm12 1zm-22 1z"/>
<path stroke="#cccdea" d="M669 61zm49 1zm-17 1zm-32 1zm6 0zm10 0zm16 0zm26 1zm0 2zm-110 5h1m-1 2zm112 0zm2 0zm1 2h1m-1 1zm-117 1zm0 1zm118 5zm-2 1zm2 0zm-4 1zm5 1zm9 0zm-22 2zm0 1zm15 1zm-22 2zm3 0zm7 0zm-16 1zm10 0zm2 1zm-104 1zm77 0zm5 0zm27 0zm-12 1zm-21 1zm8 0zm-82 2zm88 0zm26 0zm6 0zm-127 1zm83 1zm19 0zm23 2zm-118 1zm79 0zm40 0zm-43 1zm4 0zm6 1zm-12 1zm10 1zm15 0zm-99 2h1m68 3zm25 0zm2 0zm13 0zm-40 2zm12 1zm2 1zm-16 1zm-3 1zm0 1zm2 0zm9 2zm11 0zm-21 1zm12 0zm10 0zm0 1zm35 0zm-55 1zm47 1zm-36 2zm6 0zm24 0zm11 0zm10 0zm-40 1zm17 1zm-21 1zm2 0zm-87 1zm80 0zm8 2zm5 1zm7 2zm3 0zm0 1zm9 0zm-113 3zm-4 1zm123 0zm-124 2zm107 0zm5 0zm-107 2zm102 0zm5 0zm-114 5zm5 1zm-6 1zm135 9zm-19 2zm-12 2zm3 1zm5 1zm20 0zm-23 2zm18 1zm-116 2zm86 1zm6 1zm-9 1zm10 0zm-10 1zm-9 2zm0 2zm-1 1zm0 1zm-7 1zm-68 1zm66 0zm4 1zm4 0zm-13 3zm-13 8zm-35 1zm-1 1zm0 1zm61 0zm-73 1zm9 1zm14 2zm6 4zm-13 1zm14 2zm4 2zm20 0zm-34 1zm19 2zm-1 2zm-9 4z"/>
<path stroke="#d0d0e7" d="M657 58zm-15 1zm-2 5zm34 0zm28 0zm-15 1zm15 0h1m3 0zm3 0zm14 1zm12 1zm-1 2zm-11 2zm4 2zm-113 4zm1 4zm119 1zm-4 4zm-6 1zm2 0zm7 1zm-19 2zm23 1zm-121 3zm107 0zm-1 1zm0 1zm-23 1h1m14 0zm-9 1zm2 0zm16 0zm-106 1zm115 0zm-44 1h1m57 0zm-30 1zm-25 1zm7 0zm19 0zm-17 2zm7 1zm6 0zm9 0zm-18 1zm15 0h1m20 0zm0 1zm-35 1zm11 0zm-39 1zm38 0zm-34 1zm2 0zm54 0zm-46 1zm47 1zm-16 1zm32 0zm-136 2zm88 3zm37 0zm-61 1zm54 0zm-120 1zm69 0h2m34 0zm9 1zm-47 1zm1 1zm3 0zm7 1zm1 1zm-81 2zm84 0zm0 1zm25 0zm24 0zm-41 1zm7 0zm5 0zm28 0zm-127 1zm73 1h1m20 0zm12 0zm-27 1zm3 1h1m-86 1zm81 0zm7 0zm43 0zm-131 1zm96 1zm16 3zm-20 2zm10 0zm9 0zm-19 1zm32 2zm-127 1zm96 0zm2 0zm6 0zm-103 1zm0 1zm106 0zm1 1zm24 0zm-28 2zm8 0zm-111 6zm121 0zm-8 1zm-4 7zm-2 1zm2 0zm-6 3zm-7 1zm2 0zm1 1zm-5 1zm28 2zm-33 2zm8 0zm9 0zm-19 2zm14 0zm-94 2zm74 1zm-3 1zm21 0zm-13 2zm16 0zm-6 3zm-17 1zm0 2zm-72 1zm-1 1zm52 1zm0 1zm-42 1zm29 4zm4 0h1m8 0zm1 1zm2 0zm-57 1zm0 1zm46 0zm7 0zm-50 1zm18 2zm3 5zm16 1zm-19 1zm19 2zm-21 1zm17 3zm-25 6z"/>
<path stroke="#c6c7e6" d="M688 59zm8 1zm-64 1zm1 1zm14 0zm22 0zm-22 1zm9 0zm27 0zm-37 1zm12 0zm46 0zm4 0zm-65 1zm80 0zm-94 1zm109 1zm-25 2zm6 1zm1 1zm12 3zm-4 1zm5 3zm1 6zm-1 2zm-6 1zm15 0zm3 0zm-133 2zm0 1zm127 1zm-124 2zm92 0zm5 0zm4 0zm8 1zm-9 1zm10 0zm28 0zm-42 1zm3 0zm6 0zm-13 1zm-91 1zm74 0zm13 0h1m9 0zm-22 1zm13 0zm35 0zm-128 1zm89 0zm46 1zm-58 1zm-73 2zm87 0zm-87 1zm69 1zm4 0zm17 1zm25 0zm8 0zm-120 1zm64 0zm8 0zm6 0zm5 0zm-19 1zm6 0zm35 0zm-74 1h1m20 0zm33 0zm13 0zm-85 1zm47 0zm7 0zm2 0zm-19 2zm59 0zm-20 1zm-19 1zm12 0zm7 0zm-12 2zm19 0zm4 0zm-99 1zm83 0zm12 0zm-21 1zm-5 1zm-72 1zm4 1zm84 0zm-21 1zm5 0h1m-13 1zm11 0zm-11 1zm17 0zm-79 1zm78 0zm40 0zm-42 1zm-18 1zm9 0zm-62 1zm62 0zm25 2h1m30 0zm-34 2zm-9 1zm29 1zm-106 1zm3 0zm-3 1zm3 0zm84 1zm19 0zm-5 1zm5 0zm-13 1zm-8 1zm-88 2zm95 0zm14 0zm5 0h1m-6 1zm-11 1zm6 0zm-105 1zm111 0zm20 2zm-38 2zm-91 1zm114 0zm-11 1zm-109 1zm112 0zm2 0zm-3 4zm10 0zm4 1h1m8 0zm-10 1zm10 3zm-14 1zm-113 2zm99 1zm7 3zm18 0zm-124 1zm94 0zm-3 1zm-92 1zm87 1zm-84 2zm89 0zm-87 4zm73 2zm-76 1zm70 0zm3 0zm-71 2zm63 0zm33 0h1m-95 1zm0 2zm66 0zm24 0zm-26 1zm14 1zm-74 2zm10 0zm55 0zm-65 3zm46 0zm-47 1h1m39 2zm4 0zm10 0zm-31 2zm16 0zm16 0zm-34 1zm12 0zm3 0h1m14 0h1m-28 1zm-10 1zm16 0zm-11 1zm18 0zm9 0zm-30 1zm3 0zm26 0h1m-42 1zm10 0zm4 2zm21 0zm9 1zm-24 1zm10 2zm-12 1zm6 1zm21 1zm-9 1z"/>
<path stroke="#ccdc22" d="M648 69zm40 4zm12 1zm3 2zm3 0zm-2 1zm-1 2zm5 0zm5 0zm-93 1zm94 1zm6 1zm-15 2zm-84 3zm68 1zm-6 2zm-57 1zm45 1zm5 0zm2 0zm-48 1zm-6 1zm43 0zm-42 1zm6 0zm4 0zm12 0zm8 0zm-4 1zm19 0zm-27 1zm3 1zm-13 1zm10 35zm-13 1zm16 2zm-14 3zm-7 2zm8 0zm20 0zm-26 1zm2 0zm29 0zm-6 1zm11 0zm-34 1zm28 0zm14 2h1m5 3zm11 4zm7 4zm3 2zm-76 2zm76 2zm-7 1zm2 0zm-18 4zm12 0zm-5 2zm-54 1zm49 0zm-41 3zm4 2zm14 0zm10 0zm2 3z"/>
<path stroke="#dae113" d="M649 69zm4 0zm6 0zm-15 1zm3 0zm2 0zm2 0zm12 0zm3 0h1m-32 1zm5 0zm32 0zm-39 1zm49 0h3m6 0zm-65 1h1m60 0zm5 0h2m-5 1zm6 0zm-70 2zm76 0h1m-80 1zm81 0zm3 0zm-2 1zm2 0h1m-3 1h3m2 0zm2 0zm-7 1zm4 0zm-88 1zm92 0zm7 1zm-17 2zm2 0zm-84 1zm81 0zm3 0zm-83 1h1m74 0zm5 0zm-79 1zm68 0zm5 0zm-74 1zm70 0zm-70 1zm63 0h1m2 0zm-65 1zm64 0zm-61 1zm49 0zm2 0h5m-57 1zm7 0zm41 0h1m2 0zm-52 1h1m7 0zm12 0zm15 0zm8 0h1m9 0h2m-55 1zm8 0zm5 0zm3 0zm4 0zm14 0h1m6 0zm5 0h1m-46 1zm2 0h1m18 0h1m2 0h4m4 0zm3 0zm8 0zm-15 1zm10 0zm-21 1zm4 0zm2 0zm-14 1h1m17 0zm-17 1zm20 23zm-5 12zm-16 2zm3 2zm7 0zm3 0zm5 0zm-15 1zm7 0zm3 0zm0 1zm-12 1zm11 0zm11 0zm-30 1zm2 0zm4 0zm2 0zm4 0h4m7 0h1m6 0zm2 0zm-30 1zm5 0h1m13 0zm6 0h1m2 0h1m-28 1h2m25 0zm-26 1zm31 0zm-5 1zm3 0zm6 0zm2 0zm3 0zm-43 1zm43 0zm3 0zm-49 1zm48 0h2m-50 1zm51 1zm3 1h1m-53 1zm59 0zm3 1zm-1 1zm2 0zm-67 1zm78 0zm-76 2zm67 0zm2 0zm9 0zm-10 1zm2 0zm2 0h1m5 0zm-79 2zm70 0zm2 0zm2 0zm-4 1zm8 0zm-8 1h1m6 0h1m-79 1zm72 0zm-71 1zm64 0h4m6 0zm-11 2zm-1 2zm-11 1zm5 0zm2 0h1m2 0zm-57 1zm47 0zm7 0zm-53 1zm42 0zm6 0zm3 0zm-46 1zm36 0h1m8 0zm-45 1h1m35 0zm2 0zm-42 1zm7 0zm6 0h1m19 0zm-31 1h1m5 0h4m3 0zm10 0h2m12 0zm-36 1h1m3 0zm4 0zm2 0h1m8 0h2m7 0zm3 0h1m3 0zm-14 1zm12 0zm-25 1zm8 0zm5 0h1m-13 1zm5 0z"/>
<path stroke="#bbd717" d="M653 67zm7 1zm-8 1zm5 0h1m-15 1zm3 0zm19 0zm6 0h1m9 0zm-47 1zm42 0h1m4 0h1m-50 1zm60 0zm8 1zm-4 1zm3 0zm-74 1zm76 0zm-78 1h1m80 0zm3 0zm-86 2zm82 0zm8 0zm-6 2zm9 0zm-9 1zm5 0h1m4 0zm-2 1h1m-10 1h1m14 0zm-16 1zm0 1zm2 0h1m-86 1zm77 0zm2 0zm-3 1zm-6 1zm3 0zm-6 2zm-13 2zm3 0zm-49 2h2m7 0zm39 0h1m-45 1zm21 0h1m3 0zm14 0h1m-49 1h1m2 0zm5 0zm3 0zm13 0h1m8 0zm3 0h2m3 0zm10 0h1m-10 1zm-41 1zm20 0zm3 0zm12 0zm-13 1zm-8 29zm4 4zm1 1zm5 0h1m-18 2zm2 2h1m2 0zm7 0h1m3 0zm-3 1zm-12 1zm16 0zm-5 1h2m2 0zm-16 1zm4 0zm8 0h1m3 0zm11 0zm-11 1h1m-18 1h1m-3 1zm0 1zm34 0zm2 0zm6 0zm-42 1h1m28 0zm9 0zm8 0zm1 1zm1 3zm7 1zm5 0zm-63 1zm-2 1zm2 0zm61 0zm3 0zm2 2zm10 0zm-78 1zm69 1zm2 0zm6 0zm3 1zm-80 1zm74 0zm3 0zm-1 1zm2 0zm-8 3zm7 0zm-8 1h2m-8 1zm4 0zm2 0zm-2 1h1m-66 1zm62 0zm1 1zm-62 1zm54 0zm14 0h1m-20 1zm5 0zm2 0zm-11 1zm3 0h1m-48 2zm6 1zm28 0zm-19 1zm20 0zm-31 1zm6 0zm21 0zm4 0zm4 0zm2 0zm-16 1zm11 0zm-14 1h1m2 0zm3 0zm-7 1zm3 0z"/>
<path stroke="#aed218" d="M653 68zm10 0zm-7 1zm7 0zm7 0zm-28 1zm37 0zm3 0zm-32 1zm-21 1h1m56 0zm4 0zm1 1zm-66 1zm72 0zm11 2zm2 2zm2 0zm-6 2h1m10 0zm8 0zm-18 1zm-2 1zm10 0zm-9 2zm-4 1zm5 0zm-9 1zm2 0zm2 0zm-82 3zm68 0zm-67 1zm1 1zm60 0zm4 0h1m-8 1zm2 0zm-54 1zm44 0h1m7 0zm2 0zm-10 1h1m6 0zm-38 1zm24 0zm-39 1zm8 0zm2 0zm30 0h1m-32 1zm8 0zm6 0zm22 0zm-27 1zm2 0zm13 0zm5 0h1m6 0zm-12 1zm-25 1zm21 26zm-17 2zm-2 1zm8 0zm-15 1zm17 1zm-2 1zm-12 2zm3 2zm2 0zm10 0zm-14 1zm3 0zm17 0zm-20 1h1m2 0zm13 0zm2 0zm3 0zm-9 1zm13 1zm-31 1zm6 0h1m3 0zm6 0zm7 0zm-20 1zm2 0zm23 0h1m-29 1zm33 0h1m-3 1h1m4 0zm-2 1zm3 0zm-5 1zm15 0zm-47 1zm49 2zm-51 1zm62 2h1m2 0zm-68 2zm69 0h1m8 1zm-7 1h1m6 0zm-4 1h1m3 1h2m-6 1zm4 0zm4 0zm-7 1zm-74 1zm76 0h1m-4 3zm-72 1zm64 0zm-62 4zm60 0zm3 0zm4 0zm-66 1zm58 0zm-3 1zm-10 1zm10 0zm-53 2zm7 0zm-2 1zm2 0zm8 0zm30 0zm-38 1zm26 0zm16 0zm-44 1zm18 0zm9 0h2m-22 2zm2 0zm8 0zm-2 1zm13 1zm-9 2zm-2 1z"/>
<path stroke="#9dcc1b" d="M662 67zm-10 1zm-9 1h1m7 0zm3 0zm11 0h1m2 0h1m4 0zm-35 1h3m4 0zm19 0zm11 0zm-45 1zm53 0zm-55 1zm3 0zm68 0h1m-11 1zm6 0zm4 0zm-9 1zm8 0zm3 0zm-77 1zm83 0h1m-86 1zm85 1zm1 1h1m6 2zm3 0zm-1 1h1m2 0zm-12 1h1m9 0zm-12 1zm12 0zm2 0zm-101 1zm88 0zm-4 2zm-12 3zm-7 1h1m-60 2h1m54 0zm-7 1zm2 0zm-48 1zm11 0zm28 0zm7 0zm6 0zm-51 1zm2 0zm28 0zm15 0h2m2 0h1m-51 1zm5 0zm8 0zm9 0zm18 0zm-43 1zm9 0zm2 0zm5 0zm13 0zm6 0zm3 0zm-37 1zm10 0zm6 0zm9 0zm2 0zm-9 1h2m12 0zm-23 1zm-1 1zm22 21zm-1 5zm-10 1zm-10 1zm3 0zm7 0zm-3 1h1m0 1zm0 2zm4 0h1m-17 1zm12 0zm5 0zm-14 1zm15 0h1m-17 1zm10 1zm11 0zm5 0zm-16 1zm-9 1zm2 0zm7 0zm-11 1zm2 0zm3 0zm6 0zm6 0h1m7 0zm-28 1zm9 0zm3 0h1m7 0zm7 0zm-31 1zm6 0zm29 0zm0 2h1m4 0zm6 0h1m-12 1zm8 0h1m3 0zm0 1zm4 0zm-52 2zm0 1zm55 0zm3 1zm-57 1zm0 1zm0 1zm63 0zm14 1zm-9 1zm3 0zm-4 1zm3 0zm8 0zm-5 1zm1 1zm-2 1zm2 0zm-76 1zm76 3zm-2 1zm3 0zm-11 1h1m9 0zm-74 1zm63 0zm6 0zm-68 2zm-1 1zm62 0zm5 0zm2 0zm-10 1zm2 0zm-58 1zm46 0zm11 0zm-57 1zm49 0zm6 0zm9 0zm-13 1zm-44 1zm37 0h1m3 0zm-41 1zm38 0zm5 0zm-43 1zm5 0zm15 0zm-22 1zm4 0zm15 1zm-7 1h1m20 0zm-19 1zm18 0zm-20 1zm18 0zm3 0zm-14 2zm-2 1z"/>
<path stroke="#bebfe6" d="M735 59zm-82 1zm-20 1zm48 0zm-13 1zm-14 1zm-7 1zm4 0zm15 0zm39 0zm-13 1h1m5 0zm-15 1zm12 0zm26 0zm-21 1zm15 2zm3 0zm10 0zm-106 1zm100 0zm-105 5zm110 0zm5 0zm-2 1h1m3 0zm-120 2zm119 1h1m1 1zm-121 4zm117 0zm-117 1zm112 0zm8 0zm-7 1zm-4 1zm2 0zm-4 1zm-107 1zm101 0zm5 3zm-17 1zm10 0zm7 0zm-15 1zm4 0zm-94 1zm139 0zm-48 1zm22 0zm-112 1zm76 0zm13 0zm-10 1zm26 0zm30 0h1m-38 1zm26 0zm-32 1zm31 0zm-122 1zm81 0zm-8 1zm-2 1zm7 0zm17 0zm-18 1zm9 0zm11 1zm22 0zm-118 1zm-2 1zm2 0zm121 0zm-58 1zm7 0zm-69 1zm30 0zm63 0zm19 0zm-112 1zm13 0zm50 0zm39 0zm-101 1zm-3 1zm14 0zm57 0zm-21 2zm18 0zm38 0zm-38 2zm12 0zm-8 3zm8 0zm-18 2zm62 0zm-48 3zm25 0zm-99 1zm79 0zm-78 2zm93 1zm-18 1zm12 0zm-16 1zm15 0zm-86 1zm78 0zm-3 1zm6 0zm-5 1zm-5 2zm-72 1zm79 0zm25 0zm-13 1zm-93 1zm119 0h1m2 3zm-11 1zm8 0zm-11 3zm-108 1zm108 0zm-109 1zm109 0zm19 0zm-131 1zm95 0zm-3 2zm11 0zm-106 3zm120 1zm-114 1zm110 2zm9 0zm-15 1zm-104 1zm118 0zm-1 1zm-7 1zm4 0zm-115 1zm109 1zm-5 2zm8 0zm-14 1zm12 0zm-109 1zm95 2zm-2 1zm12 0zm-21 3zm13 0zm-96 2zm83 2zm2 0zm-83 1h2m77 0zm-78 2zm-5 2zm10 0zm-10 1zm5 0zm4 0zm77 0zm-83 2zm92 0zm-95 1zm10 1zm58 1zm-64 2zm4 0zm45 0zm10 0zm-54 1zm64 0zm-18 1zm6 0zm-49 2zm3 3zm37 0zm-19 1zm12 0zm18 0zm-45 1zm28 0zm15 0zm-44 1zm2 0zm17 0zm-15 1zm31 1zm-39 1zm10 0h1m33 4zm-39 1zm20 0zm-20 1zm18 4zm-4 6z"/>
<path stroke="#b4b6e5" d="M654 60zm48 2zm16 1zm-70 1zm2 0zm11 0h1m10 0h1m36 0zm-71 1zm43 0zm17 1zm3 0zm7 1zm9 0zm20 0zm-113 2h2m85 1zm6 0zm-1 1zm0 1zm9 0zm-107 1zm105 0zm4 1zm3 1zm3 2zm-1 1zm2 2zm-119 2zm110 4zm7 1zm-7 1zm-7 1zm-103 1zm103 0zm-12 2h1m4 0zm8 0zm5 0zm-6 1zm-101 1zm102 0zm-15 1h1m9 0zm9 0zm-29 1zm2 0zm3 0zm-4 1zm17 0zm10 0zm29 0h1m-69 1zm18 0h1m13 0zm7 0zm-32 1zm23 0zm34 0zm-61 1zm62 0zm-62 1zm31 0zm-3 1zm-25 1zm2 0h1m-76 1zm77 0zm14 0zm6 0h1m-97 1zm77 0zm5 0zm-12 1zm-70 1zm102 0zm-69 2zm5 0zm77 0zm-61 1zm7 0zm44 0zm16 0zm-88 1zm11 1zm22 0h1m15 0zm-81 1zm68 0zm47 0zm-115 1zm92 0h1m2 0zm-29 1zm15 0zm0 1zm-14 1zm8 1zm5 0zm7 0zm-29 1zm8 0zm3 0zm34 0h1m-33 1zm6 0h1m-76 1zm109 0zm13 0zm-42 2zm-8 1zm0 1zm-9 2h1m-4 1zm10 0zm22 0zm14 0h1m-53 1zm5 0zm45 0zm-104 1zm76 0zm8 0zm34 0zm-120 1zm71 0zm13 0zm14 0zm-20 1zm6 0zm-11 1zm3 0zm-77 1zm75 0h1m7 0zm7 0zm-24 2zm20 1zm8 0zm-1 2zm19 0zm-33 1zm6 0zm0 2zm-3 1zm2 1zm-84 1zm99 2zm-100 1h1m88 0zm12 0zm3 0zm-15 1zm2 0zm10 3zm11 0zm-6 2h1m2 1zm-113 1zm3 0zm105 0zm23 0zm-9 4zm-7 1h1m16 1zm-22 2zm6 1zm-16 1zm-96 2zm0 1zm103 0zm-11 1zm4 0zm10 0zm-16 1zm3 0zm4 0zm-9 1zm-6 1h1m4 0h1m2 0zm-91 1h1m84 0h2m10 0zm14 0zm-23 2zm15 0zm-19 1zm-77 1zm-3 1zm74 0zm4 0zm4 0zm-80 1zm69 0zm11 0zm-80 1zm68 0zm-73 2zm7 1zm61 0zm1 1zm-65 1zm65 1zm-1 1zm2 0zm-9 2zm-4 2zm-43 1zm41 0zm-44 2zm16 2h1m6 0zm16 0zm5 0zm8 0zm-39 2zm0 1zm14 0zm5 0zm32 0zm-74 1zm12 0zm3 0zm22 0zm11 0h1m-18 1zm3 0zm-16 1zm17 0zm-14 1zm-11 1zm15 1zm11 1zm4 0zm7 0zm-19 7zm9 4zm3 0zm-10 2z"/>
<path stroke="#87c41d" d="M659 68zm-9 1zm14 0zm10 0zm6 0zm-44 1zm14 0zm-22 1h1m4 0zm58 0zm-65 1zm63 0zm-64 1zm65 0zm1 1zm16 0h1m-85 1zm85 2zm3 0zm-91 2zm96 1zm-10 1zm13 0zm-12 1zm5 0zm-93 1zm96 0zm-11 3zm2 0zm-86 1zm77 0zm4 0zm-7 1zm3 0zm-7 1zm-6 2h1m-63 1zm60 0zm-8 1zm8 0zm-17 1zm-43 1zm14 0zm3 0zm27 0zm-9 1zm12 0zm9 0zm-48 1zm9 0zm11 0zm8 0zm2 0zm-20 1zm17 0zm3 0zm-28 1zm37 0h1m-38 1zm13 0h1m18 0h1m-14 21h1m-1 1zm-16 3zm16 1zm-23 2h1m10 0zm-3 1zm5 0h1m-13 1zm7 0zm7 1zm9 1zm-8 1h1m-1 1zm2 0zm4 0zm9 0zm-27 1zm11 0zm-13 1zm24 0h1m-27 1zm21 0h2m3 0zm-5 1zm8 0zm-20 1zm8 0zm12 0zm-30 1zm23 0zm-25 1zm5 0zm8 0h1m20 0zm1 1zm3 1zm-2 1zm-3 1zm7 0zm4 0zm3 1zm-47 1zm56 0zm-6 1zm3 0zm0 2zm4 0zm6 0zm-3 1zm-62 1zm-1 1zm69 0zm4 1zm5 0zm-79 1zm1 1zm73 0zm-75 1zm78 0zm5 0zm-80 1zm-1 1zm79 0h1m-3 4zm-5 2zm3 0zm-5 1zm-1 2zm-66 2zm1 1zm46 0zm8 0zm3 0zm-57 1zm51 1zm-8 1zm-8 1zm-4 1zm-26 1zm28 0zm7 0zm-27 1zm26 0zm-29 1zm3 0zm4 0zm9 0zm2 0zm12 0zm-22 1zm12 0zm-11 1zm7 1zm-2 1zm6 0z"/>
<path stroke="#7bc01f" d="M661 67zm-21 2zm15 0zm12 0zm-30 1zm41 0zm10 2zm18 1zm0 1zm-1 1h1m-85 2zm91 0zm2 2zm2 2zm-6 1zm-3 1zm6 0zm3 0h1m-12 3zm2 0zm-11 2zm-4 1zm-9 2zm1 1zm-59 2h1m48 0h1m7 0zm-6 1zm3 0zm-49 1zm9 0zm11 0zm5 0zm3 0zm13 0zm6 0zm-52 1zm6 0h1m29 0zm5 0zm5 0zm3 0zm-42 1zm10 0zm6 0zm21 0zm2 0zm-24 1zm6 0zm6 0zm8 0zm-23 1zm9 0zm13 0zm-14 20zm1 1h1m-4 1zm3 0zm-3 1zm4 0zm-19 1zm17 1zm0 1h1m2 0zm-27 1zm11 0zm-5 1zm4 1zm7 1zm4 2zm-18 1zm6 0zm13 0zm-5 1zm-16 1zm10 0zm0 1zm4 0zm4 0zm11 0h1m-18 1zm7 0zm11 0zm-20 1h2m4 0zm13 0zm-17 1zm10 0zm-16 1zm2 0zm4 0zm14 0zm-31 1zm26 0zm2 0zm2 0zm-27 3zm-4 2zm58 0zm-1 1zm-3 2zm6 1zm1 1zm2 0h1m3 2zm6 2zm0 1zm2 0zm-77 1zm78 0zm5 2zm-2 2zm-3 1zm3 0zm-1 1zm-1 1zm4 0h1m-6 1zm-11 2zm2 0h1m9 0zm-11 1zm5 0h1m-10 3zm-6 1zm11 0zm-64 1zm46 0zm1 1zm-43 1zm41 0zm-15 1zm13 0h2m2 0zm-39 1zm3 0zm18 0zm-19 1zm28 0zm11 0zm-42 1zm2 0zm18 0zm-12 1zm10 0zm10 0zm-29 1zm15 0zm9 0zm4 0zm-17 1zm8 0zm3 0h1m-6 1zm6 0zm1 1z"/>
<path stroke="#6cbb21" d="M652 67zm2 0zm4 0zm-9 1zm9 0zm6 0zm7 1zm10 0zm-47 1zm49 0zm1 1h1m5 0zm-63 1zm60 0zm18 1zm4 1zm-88 2zm88 0zm0 1h1m14 3zm1 1zm-106 1zm87 0zm10 0h1m-8 1h1m4 0zm5 1zm-100 1zm89 0zm-89 1zm83 1zm-82 1zm75 0zm3 0h1m-10 1zm10 0zm-79 1zm67 2zm-62 1zm55 0zm4 0zm-62 1zm59 0zm-52 1zm24 1zm15 0zm5 0zm-24 1zm26 0zm-52 1zm4 0zm38 0zm-41 1zm11 0zm3 0zm3 0zm13 0zm10 0zm2 0zm2 0zm-37 1zm21 0zm-20 1zm2 0zm0 23zm1 2h2m0 1h1m-3 1zm8 0zm2 0zm9 0h1m-27 1zm-1 1zm8 0zm8 0h1m0 1zm7 0zm-20 1zm14 0zm5 0h1m8 0zm0 1zm-27 1zm7 0zm-5 1zm4 0zm8 0h1m9 0zm-28 1h1m2 0zm4 0zm2 0zm3 0zm4 0zm12 0zm-16 1zm5 0zm10 0zm-27 1zm9 0zm13 1zm2 0zm-28 1zm10 0zm6 0zm11 1zm2 0zm7 0zm-35 2zm37 0zm3 0zm7 1zm-6 1zm-39 1zm49 0zm6 0zm-59 1h1m52 0zm2 0h1m-57 1zm57 0zm2 1zm11 5zm2 1zm8 0zm-81 1zm2 1zm81 1zm-1 2zm6 1zm-88 1zm77 0zm11 0zm-88 1zm88 0zm-87 1zm66 2zm2 2zm-67 1zm1 1zm68 0zm2 0h1m-70 2zm49 0h1m5 0zm3 0h1m-9 1h1m-6 1zm4 0zm8 0zm-54 1h1m45 0h2m-38 1zm17 0zm17 0zm4 0zm-41 1zm4 0zm28 0zm8 0h1m-43 1zm2 0zm21 0zm-7 1zm6 0h1m-23 1zm3 0zm9 0zm12 0zm5 0zm13 0zm-32 1zm12 0zm9 0zm2 0zm-24 1zm2 0zm6 0zm3 0zm0 1zm-3 2z"/>
<path stroke="#58b426" d="M659 67h1m-12 1zm3 0zm3 0zm19 0zm-34 1zm3 0zm5 0zm25 0zm3 0zm7 0h1m-53 1zm5 0zm-8 1zm4 0h1m60 0zm1 1h1m7 1zm6 0zm-83 1zm81 0zm-83 1zm80 0zm7 0zm16 4zm-106 1zm100 0zm7 0zm-107 1zm102 0zm3 0zm-13 1zm-93 1zm90 0zm0 1h1m9 0zm-20 3h2m3 0zm-3 1zm-3 1h1m-10 1zm-67 1zm62 1zm2 0zm-63 1zm4 0zm57 0zm-3 1zm3 0zm-18 1zm16 0h2m-61 1zm14 0zm45 0zm-58 1zm3 0h1m9 0zm2 0zm18 0h1m12 0zm-41 1zm2 0zm9 0zm14 0zm3 0zm6 0zm4 0zm-41 1zm3 0zm3 0zm11 0zm9 0h1m3 0h1m7 0zm2 0zm6 0zm-28 1zm4 0zm7 0zm13 0zm-45 1zm17 18zm0 1zm12 0zm4 1h1m-1 2zm-24 1zm0 1h1m2 0zm2 0h2m13 0zm12 0zm-25 1zm12 0zm-21 1zm7 0zm9 0zm5 0zm5 0zm-25 1zm6 0zm-9 1zm2 0zm2 0zm14 0zm12 0zm-23 1zm6 0zm19 0zm-31 1zm3 0zm5 0zm5 0zm5 0zm4 0zm9 0h1m-24 1h1m3 0h1m3 0zm2 0h2m10 0zm2 0zm-28 1zm4 0zm4 0zm0 1zm17 0zm-20 1zm3 0h2m2 0h1m5 0zm7 0zm2 0zm-21 1zm3 0zm4 0zm4 0zm8 0zm-26 1zm6 0zm2 0zm17 0h1m-23 1zm4 0zm-14 1zm7 0zm7 0h2m9 0zm9 0zm-33 1zm13 0zm20 0zm-29 1zm32 2zm3 0zm2 0zm-1 1h1m3 0zm-46 1zm2 0zm2 0zm53 1zm2 1zm-1 1zm-5 1zm3 0zm9 0zm-65 1zm56 0h1m5 0zm10 2h1m-75 1zm71 0zm3 0h1m5 0zm-5 1zm-3 1zm11 1zm-85 1zm85 0zm-82 1zm80 2zm2 3zm-8 2zm-73 1zm66 0zm5 0zm-72 1zm67 0zm10 0zm0 1h1m-78 1zm67 0h1m-4 1zm2 0zm5 0zm-68 1zm47 1zm7 1zm2 0h1m-55 1zm49 0zm-7 1zm9 0zm0 1zm-8 1zm2 0h1m-39 1zm3 0h1m21 0h1m6 0zm8 0zm-37 1h1m26 0zm3 0zm8 0zm-40 1zm7 0h1m6 0h1m2 0zm6 0h1m8 0zm-34 1zm3 0zm6 0zm4 0zm2 0h2m4 0zm5 0zm-27 1zm13 0zm11 0zm5 0zm-6 2zm-6 1z"/>
<path stroke="#41b03b" d="M653 66zm5 0zm5 1zm10 0zm-32 2zm4 0h1m33 0zm-51 1h1m4 0zm44 0zm9 1zm-61 1zm-4 3zm82 0h1m7 1zm2 2zm2 1h3m3 3zm-103 2zm1 5zm71 1h1m-53 5zm16 1zm-25 1zm32 1zm-34 1zm33 0zm-25 1zm3 0zm25 0zm7 0zm-26 1h1m-12 20zm24 0zm-5 1zm4 0h1m-6 1zm3 2zm-14 2zm4 0zm9 0zm-13 1zm-3 2zm-8 1zm3 0zm-2 2zm6 2zm-9 1zm21 0zm5 0zm-26 1zm4 1zm-6 1zm31 0zm-30 1zm2 0zm31 0zm19 1h1m-55 2zm43 1zm-45 2zm64 4h1m-64 1zm66 0zm1 1zm10 1zm-1 1zm-1 1zm-77 6zm1 4zm73 0zm-71 2zm0 1zm63 2zm4 0zm1 2zm-2 1h1m-8 1zm-25 3zm10 0zm9 0zm-16 1h2m-31 1zm42 0zm-42 1zm8 0zm9 2zm11 0zm2 0zm-4 2z"/>
<path stroke="#eba200" d="M655 71zm-9 1zm6 0h2m3 0h2m7 0zm3 0h1m-34 1h2m9 0zm12 0h1m5 0zm7 0zm2 0zm-44 1h1m2 0h1m29 0zm12 0zm3 0zm-2 1h3m2 0zm4 0zm1 1zm7 0zm-67 1zm60 0zm8 0zm-69 1zm68 1zm2 0zm5 0zm-13 1zm3 0h1m2 0h1m-6 1zm4 0zm-69 1zm68 0zm2 0h1m-3 1h3m-5 1h1m-4 1zm-3 1zm3 0zm-4 1zm3 0zm-59 1zm47 0zm-11 1zm4 0h1m5 0zm-41 1zm4 0zm13 0zm15 0zm2 0zm2 0zm3 0zm-26 1zm14 0zm2 0zm4 0zm3 0zm2 0zm-28 1h1m9 0zm3 0zm-1 1zm2 0h1m-15 52zm-8 1h1m4 0h1m12 0h1m-15 1zm3 0zm7 0h1m7 0zm-19 1zm20 0zm-22 1h1m26 0zm-30 1h1m30 0zm3 0zm2 0h1m-39 1zm41 0h1m-42 1h2m-1 1h1m-5 2zm52 0zm5 0zm-4 1zm-53 1zm53 0zm-53 1zm54 0zm-54 1zm56 1zm3 0zm-60 1zm52 0zm3 0zm4 0h1m-61 1zm0 1zm55 0zm-5 1h1m4 0zm-52 1zm47 0h1m3 0h1m-50 1zm44 0h2m2 0zm-48 1h1m33 0zm9 0h1m-40 1zm29 0h2m2 0zm2 0zm-34 1h1m24 0h3m-27 1h1m2 0zm3 0zm4 0zm4 0h1m2 0h1m4 0h1m-19 1zm3 0zm9 0zm4 0zm2 0zm9 0h1m-25 1zm2 0zm5 0h2m2 0zm13 0h1m-24 1h2"/>
<path stroke="#a2a5e1" d="M620 62zm12 0zm16 0zm-28 1zm35 0zm29 0zm-35 1zm3 0zm15 0h1m14 0zm-3 1zm3 0zm17 0zm-15 1zm15 0zm2 1zm3 1zm31 0zm-21 1zm-91 1zm89 0zm4 0zm5 0zm-105 1zm3 0zm103 0zm-106 1zm101 0zm3 0h1m-4 1zm8 0zm4 2zm-113 2zm115 0zm4 0zm-1 4zm-12 6zm11 0zm-19 2zm5 0zm-6 1zm3 0zm4 0zm-16 2zm9 0h1m-22 3zm8 0h1m2 0zm20 1zm-22 1zm28 0zm-15 1zm-9 1zm36 0zm-54 1zm60 0zm-43 1zm-15 1zm-28 3zm32 0zm-32 1zm25 0zm44 0zm9 0zm-52 1zm-38 1zm45 0zm-24 1zm6 0zm5 0zm-4 1zm22 0zm-78 1zm62 0zm17 1zm22 0zm-39 1zm4 2zm23 0h1m-41 1zm-51 1zm75 0zm-74 1zm67 0zm-4 1zm-64 1zm56 0zm30 0zm-86 1zm61 0h1m-7 1zm-54 1zm57 1zm11 0zm-9 2zm7 0zm3 0zm-9 1zm11 0zm-71 1zm59 0zm12 0zm-4 2zm6 0zm5 0zm-79 1zm71 0zm6 0zm1 1zm2 2zm-9 1zm7 0zm5 1zm34 1zm-31 2zm30 2zm0 1zm-32 1zm5 0zm-4 1zm4 0h1m5 1zm0 2zm-96 1zm89 0zm-91 1zm97 1zm-5 1zm-92 3zm111 1zm-2 2zm9 0zm-10 2zm4 0zm-112 1zm110 0zm4 0zm-1 2zm-7 3zm-106 1zm100 1h1m-7 1zm-1 1zm9 0zm-13 2zm-2 3zm-84 1zm93 0zm6 0zm-99 5zm-3 2zm71 1zm2 0zm-2 1zm9 0zm-63 2zm-10 1zm70 1zm-5 1zm-68 1zm56 0zm4 0zm-54 1zm10 0zm38 0zm15 0zm-63 1zm62 0h1m-60 1zm2 1zm39 0zm-40 2zm39 0zm-35 3zm15 0zm7 0zm-27 1zm14 0zm19 0zm-24 1zm2 0zm6 0zm-29 1zm43 0zm-11 1zm11 0zm-18 2zm-4 6zm9 1zm10 2zm-2 3z"/>
<path stroke="#999ce0" d="M663 64zm-24 1zm3 0zm38 0zm24 0zm-70 1zm88 0zm5 0zm-30 1zm-68 1zm105 0zm-33 1h1m13 1zm4 1zm7 3zm4 3zm4 6zm-19 5h2m-14 3zm5 1zm-4 1zm6 1zm-15 1zm12 0zm14 2zm2 0zm-105 2zm71 0zm4 0zm55 0zm-44 1zm-16 1zm11 0zm-14 2zm29 0zm-24 1zm20 0zm-20 1zm8 0zm-9 1h1m20 0zm-25 1zm4 0zm7 2zm4 0zm22 0zm-91 1zm55 0zm18 0zm-72 1zm45 0zm9 1zm-18 2zm30 1zm-79 1zm55 4zm7 0zm-60 1zm62 0zm-1 1zm12 1zm-73 2zm79 0zm-22 1zm4 0zm3 1zm-13 2h1m9 0zm33 0zm10 1zm-22 1h1m0 1zm2 1zm-88 1zm73 0zm-72 1zm82 0zm-83 1zm89 0zm3 2zm9 8zm-106 1zm3 3zm96 0zm2 0zm-7 1zm24 1zm0 1zm-5 2zm-113 1zm0 1zm114 3zm1 2zm-113 1zm101 0zm7 0zm-2 1zm7 0zm-110 1zm97 0zm-4 5zm-95 1zm0 1zm89 1zm0 1zm9 0zm5 1zm-97 2zm74 1zm-4 2zm2 4zm-75 2zm3 1zm60 0zm-58 1zm51 0zm-48 1zm50 2zm13 1zm-60 3zm36 1zm-19 2zm15 0zm17 0zm-59 1zm30 0zm-1 2zm1 1zm15 1zm-8 5zm-1 9z"/>
<path stroke="#eb8f00" d="M645 72zm11 0zm-17 1zm3 0h4m2 0zm5 0h1m3 0h1m8 0h3m2 0zm-36 1h3m24 0zm2 0zm7 0h3m-45 1zm51 0zm2 0zm2 0zm10 1zm-67 1zm59 1zm-63 1zm63 0zm8 0zm-71 1zm63 0zm-63 1zm64 0zm2 0zm2 0zm-1 1zm-66 1zm66 0zm-66 1zm63 0h1m-3 1zm-61 1h1m57 0zm2 0h1m-59 1zm52 0h1m-52 1h1m47 0h2m-47 1zm31 0zm2 0zm5 0zm3 0zm-35 1h1m15 0zm4 0zm8 0zm5 0zm-31 1zm7 0h2m4 0h5m3 0zm9 0zm-29 1h1m12 0h1m2 0h1m-14 53zm-2 1zm3 0zm-5 1h1m2 0zm2 0h3m-9 1h5m4 0h4m5 0zm-19 1h1m21 0h2m-30 1zm3 0zm27 0h1m5 0zm-36 1zm33 0h1m2 0h3m-41 2h1m43 0zm-45 1zm3 0h1m42 0h2m1 1h1m-51 1zm52 0zm0 1zm-51 1zm51 0h1m-52 1zm50 0h2m-53 1zm50 0h1m2 0zm-3 1zm-51 1zm51 0h3m-54 1zm49 0h4m-52 1zm50 0h2m-50 1zm45 0zm3 0h1m-47 1zm39 0h3m-41 1h1m32 0zm4 0zm-7 1zm4 0zm2 0zm-26 1h1m3 0h1m3 0h1m8 0zm-19 1h1m2 0zm4 0zm2 0zm3 0zm3 0h2m-12 1zm5 0h1m4 0zm-11 1z"/>
<path stroke="#eb7c00" d="M655 72zm-15 1h1m8 0h3m4 0zm14 0zm-23 1h1m8 0h1m2 0h2m4 0h1m4 0zm-40 1h4m37 0h4m8 0zm-55 1zm49 0h4m3 0h1m0 1zm-59 1zm58 0h1m-61 1zm59 0zm-59 1zm66 1zm-3 1h2m-1 1h1m-6 1h3m-62 1zm58 0h2m-58 1zm47 1h2m2 0zm3 0h1m-52 1zm38 0h1m3 0h1m-24 1h1m16 0zm4 0h1m-38 1h2m13 0zm3 0h1m2 0zm2 0zm2 0h1m2 0zm8 0zm-28 1zm3 0zm-1 56zm9 0h3m-11 1zm2 0zm6 0h1m-12 1h1m4 0h4m7 0h1m-23 1h2m5 0h1m17 0zm-28 1h1m30 0zm3 0zm-33 1zm34 0h3m2 0zm-39 1zm-4 1h1m43 0zm-45 1zm4 0zm42 0h2m2 1zm-50 1zm50 0zm0 1zm-50 2zm51 0zm-52 1zm52 0h1m-53 1zm49 0zm-49 1zm47 0zm-46 1zm43 0h3m-44 1zm40 0h3m-41 1zm2 1zm29 0zm3 0h2m-33 1zm8 0zm12 0h1m4 0h1m-24 1h2m9 0zm4 0h6m-13 1zm3 0zm-4 1z"/>
<path stroke="#8f92df" d="M648 63zm54 0zm-57 1zm8 0zm2 0zm4 0zm6 0zm8 1zm32 0zm-26 1h1m2 0zm4 0h1m7 0zm8 0zm-70 1h1m63 0zm6 0zm4 0zm-6 1zm8 0zm9 0zm-10 1zm3 1zm14 2zm0 1zm-1 1zm4 2zm-110 1zm118 2zm0 2zm-120 2zm117 0zm-118 4zm0 1zm104 0zm2 0zm-3 2zm-13 1zm-1 1zm2 0zm6 1zm-16 1zm12 0zm4 0zm-18 1zm9 0zm19 0zm3 0zm-22 1zm22 0zm5 0zm-27 1zm9 0zm-27 1zm5 0zm10 2zm-89 1zm80 0zm5 1zm-10 2zm1 1zm-69 1zm68 0zm-37 1zm11 0zm25 0zm10 0zm-75 1zm29 0zm2 0zm5 0zm21 0zm-3 1zm-53 1zm35 0zm17 0zm29 0zm-76 1zm36 0zm8 0h1m9 0h1m42 0zm-103 1zm9 0h1m3 0zm37 0zm16 0zm-15 3zm1 1zm11 0zm-11 1zm25 0zm-12 1zm-65 1zm56 0zm11 0zm8 0zm-15 1zm5 0zm-11 1zm5 0zm-57 1zm74 1zm-6 1zm10 0zm-20 1zm19 1h1m-13 1zm3 0zm6 1zm-4 1zm-11 1h1m21 0zm35 0zm-118 2zm85 1zm-3 1zm4 0zm32 3zm-26 1zm-16 1h1m7 0h1m7 0zm-16 1zm16 0zm-29 1h1m19 2zm-4 1zm5 0zm-1 1h1m2 2zm2 3zm8 0zm-99 2zm103 0h1m9 1zm-15 2h1m5 0zm7 1zm15 1h1m-18 1zm4 0zm-1 2zm-112 1zm104 0h1m2 0zm-3 1h1m3 0zm3 0zm-9 3zm-7 2zm8 3zm-102 3zm90 0zm19 0zm-108 1zm86 0zm11 1zm-2 1zm6 0h1m-25 2zm-73 1zm3 2zm60 0h1m0 1zm10 1zm-72 1zm71 0zm-75 1zm7 0zm-4 1zm60 0zm1 1zm4 1zm4 0zm-64 1zm2 0zm50 0zm7 0zm-52 1zm34 0zm-1 1h1m-33 1zm-9 1h1m8 0zm37 1zm2 0zm-17 1zm7 1zm-34 1zm20 0zm12 0zm-23 1zm21 0zm10 0zm-14 1zm2 0zm-1 1zm-23 1zm4 0zm6 0zm-8 1zm15 0zm-16 1zm14 1h1m6 9z"/>
<path stroke="#28ab58" d="M654 66zm-7 1zm2 0zm16 0h1m6 0zm-29 1zm27 0h1m12 0zm-49 1zm3 0zm-6 1zm58 1zm5 0zm3 1zm6 0zm6 1zm-89 2zm96 2zm-2 1zm-95 1zm101 0zm3 2zm2 1zm-11 2zm4 1h1m-7 1zm-1 1zm-9 2zm-83 1zm79 0zm-12 3zm-1 1zm-64 3zm7 0zm39 0zm5 0zm-35 1zm42 0zm-43 1zm13 0zm-20 1zm51 0zm-59 1zm33 0zm2 0zm10 0h1m-45 1h1m24 0zm-20 17zm10 0zm-6 1zm6 0zm10 0h1m-8 1zm8 0zm15 0zm-32 1zm6 0zm10 0zm11 0zm-22 1zm22 0zm-6 1h2m10 0zm1 1h1m-42 1h1m2 0zm2 0zm16 0h1m10 0zm4 0zm-36 1zm25 0zm-8 1h1m25 0zm-44 1zm37 0zm-37 1zm10 0zm24 0zm5 0zm-37 1zm2 0zm10 0zm24 0zm-27 2zm1 1zm16 0zm9 0zm-37 2h1m36 0zm-36 1zm40 1zm-37 1h1m27 0zm7 0h1m-33 1zm31 0zm9 0zm-48 5zm58 0zm-59 1zm67 0zm4 1zm-8 1zm12 0zm-7 1zm-67 1zm67 0zm3 0h1m-72 1zm71 0zm-71 1zm70 0zm6 1zm5 0zm-5 2zm6 0zm-84 1zm86 0zm6 2zm-3 1zm4 0zm-8 6h2m-9 4zm-75 1zm74 0zm-72 1zm62 0zm7 0zm-7 1zm3 0zm-5 1zm2 0zm-7 2h1m3 0zm-4 1zm2 0zm-51 1zm38 1zm3 0zm-11 1zm8 0zm-30 2zm-1 1zm6 1zm17 0zm-3 2zm-6 1z"/>
<path stroke="#2baa47" d="M648 67zm9 0zm-10 1zm3 0zm22 0zm-34 1zm60 2zm-3 1zm6 0zm-78 1zm85 0zm-6 1zm13 3zm7 3zm-6 4zm-3 1zm-6 2zm2 0zm-90 1zm74 1h2m-6 1zm10 0zm-11 1zm0 1zm-6 4zm-28 1zm25 0zm-25 1zm14 0zm6 0zm-26 1zm13 0h1m18 0zm-58 1zm3 0zm3 0zm11 0h1m18 0zm10 0h1m-19 1zm-19 1zm13 15zm-14 1zm13 0h1m11 0zm-26 1h2m21 0zm3 0zm-23 1zm12 0h1m9 0zm11 0zm-27 1h1m6 0zm5 0zm-18 1h1m5 0zm3 0h3m-17 1zm6 0zm4 0zm2 0zm14 0zm-23 1zm9 0zm6 0zm-15 1zm9 0zm5 0h2m16 0zm2 0zm-36 1zm2 0zm3 0zm7 0zm-6 1zm12 0zm5 0zm5 1h2m-10 1zm6 0zm-29 1zm6 0zm18 0zm2 0zm7 0zm-23 1zm13 0zm-18 1zm3 0h1m-1 1zm27 0zm-32 1zm-3 1zm0 1zm-2 1zm15 0zm22 0zm2 0zm2 0zm-40 1zm31 0zm-32 1zm52 1zm-11 1zm11 0h2m-13 1zm2 0zm-45 1zm2 0zm50 0h1m-51 1h1m44 0zm15 0zm-7 1zm7 1zm-62 1zm62 1zm12 0zm-11 1h1m2 0zm-66 1zm73 0h1m-73 2zm72 0zm-74 8zm88 1zm2 0zm-90 1zm83 0zm5 0zm3 0h1m-7 1zm6 0zm-10 1h1m4 0zm-85 3zm76 0h1m3 0zm2 0zm-5 2zm-8 2zm4 0h1m-16 3zm2 0zm-51 2zm48 1zm-47 1zm26 0zm10 0zm2 0h1m6 1zm-22 1zm9 0zm11 0zm2 0zm-39 1zm2 0h1m35 0zm-44 1zm2 0zm7 0zm7 0zm10 0zm7 0h1m-23 1zm3 0zm3 0zm9 0zm6 0zm-15 1zm5 0zm13 0zm-14 1zm2 0zm1 1z"/>
<path stroke="#3fac2c" d="M657 68zm8 0zm9 0zm-38 1zm40 1zm23 1zm-1 1zm-2 1h2m4 0h2m-84 3zm90 0zm10 4zm2 1zm2 1zm-12 1zm12 0zm-14 1zm3 0zm-4 1zm2 0h1m-4 1h2m-91 1zm85 0h2m4 0zm-9 1zm-1 1zm-79 3zm65 0zm-65 1zm64 0zm-48 2zm43 0zm-52 1h1m8 0h1m34 0zm4 0zm4 0zm-4 1zm2 0zm-52 1zm3 0zm9 0zm11 0zm-26 1zm6 0h1m9 0h1m-16 1zm17 0h1m8 0h1m4 0h2m-26 1zm15 0h1m6 0zm-25 18zm10 0zm0 1zm2 0zm3 0zm10 0zm-21 1zm9 0h3m-16 2zm6 0h1m12 0zm2 0zm-17 1h1m4 0zm9 0zm17 0zm-30 1zm-2 1h1m2 0zm5 0zm10 0zm-19 1zm5 0zm-4 1zm-1 1zm9 0h1m18 0zm-34 1zm6 0zm18 0zm-8 1zm9 0zm3 0zm-20 1zm3 0zm4 0zm-4 1zm3 0h1m2 0zm10 0h1m6 0zm-29 1zm4 0zm5 0zm3 0zm15 0zm2 0zm-3 1zm3 0zm-16 1zm8 0zm-21 1h1m24 1zm-20 1zm19 0zm-14 1zm15 0zm8 0h1m-1 1h1m-40 1zm38 0h2m9 1zm-46 1zm-2 1zm2 0zm46 0h1m8 0h1m-57 1h1m51 0h2m-57 1zm55 0zm11 0zm-67 1zm56 0zm3 0zm-58 1zm58 0zm2 0h1m1 1zm10 1h1m7 3zm-5 2zm6 0zm-81 1zm-2 1h1m0 1zm0 1zm83 0zm-1 1zm7 1zm-8 1h1m7 0zm-14 3h1m2 0zm-76 1zm69 0zm3 0h1m-74 1zm70 0h1m3 0zm2 0zm-75 2zm68 1zm-18 1zm12 0zm-12 1h1m3 1h1m-8 1zm11 0h1m-44 2zm31 0zm2 0zm3 0zm-42 1zm2 1zm23 0zm-20 1zm2 0zm16 0zm-14 1zm10 0h2m4 0zm6 0zm-27 1zm5 0zm5 0zm0 1zm8 0zm-3 1h1m5 0zm-2 1z"/>
<path stroke="#33aa39" d="M656 68zm10 0zm-31 1zm-9 2zm-2 2zm-1 1zm-3 3zm0 1zm104 1zm2 0zm-5 1zm-104 3zm94 0zm0 1h1m5 0zm-7 1zm1 1zm-9 2zm3 0h1m-10 1zm5 0zm-81 2zm1 3zm63 0zm-5 2zm-57 1zm15 0zm18 0zm18 0zm4 0zm3 0zm-58 1zm9 0zm5 0zm19 0zm12 0zm5 0h1m-36 1zm13 0zm-27 1zm7 0zm-7 1zm28 0h1m12 0h1m3 0h1m-1 1h1m-38 16zm9 1zm3 0zm10 0h1m-26 3zm20 0h1m-11 1zm8 0zm2 0zm-12 1zm2 0zm9 0zm6 1zm2 0zm-28 2zm4 0zm-4 1zm-3 1zm31 0h1m3 0zm3 0zm-23 1zm7 0h1m3 0zm10 0zm-36 1zm6 0zm3 0h1m5 0zm8 0zm6 0zm5 0zm-20 1zm15 0zm-19 2zm3 0zm-9 1zm7 0zm28 2zm-34 1zm27 0zm6 0h1m4 0zm-13 1zm-31 1zm28 0h2m7 0zm-37 1zm38 0zm4 1zm5 1h1m-46 1zm48 0zm1 1zm9 0zm-59 1zm52 2zm6 0zm6 0zm-67 1zm74 0zm-2 2zm0 3h1m-74 2zm0 3zm87 0zm1 1h1m-89 3zm83 1zm-3 1zm-78 1zm76 0zm2 0zm-7 1h1m8 0zm-79 1zm74 0zm-1 1zm-7 1zm3 1zm-67 2zm55 0zm3 0zm-9 3h1m-19 1zm2 1zm14 0h1m3 0zm-18 1h1m-25 1zm4 0zm15 0zm7 0zm-29 1zm4 0zm23 0zm5 1zm0 2zm-12 1zm5 0z"/>
<path stroke="#727cdd" d="M660 64zm-20 1zm4 0zm12 0h2m14 0zm4 0zm2 0zm5 0zm2 0zm-55 1zm5 0zm2 0zm52 0h1m9 1zm9 2zm7 2zm2 0zm4 0zm2 1zm1 2h1m1 1zm5 0zm2 8zm-6 1zm3 0zm-2 1zm2 0zm-6 1zm-4 3zm-8 1zm-7 1h1m2 0h1m-93 2h1m89 0zm4 0zm-95 1zm77 0zm10 0zm-85 1zm81 0zm-6 1zm3 0zm26 0zm-37 1zm5 0zm2 0zm3 1zm-11 1zm-64 2zm66 0zm-66 1zm65 1zm3 0zm-3 2h1m-48 1zm21 1zm35 0zm-18 1zm-21 1zm10 0zm7 0zm45 0zm-95 1zm44 0zm15 0zm5 0zm-55 1zm19 0zm7 0zm43 0zm-81 1zm2 0zm48 0zm9 0zm44 0zm-66 1zm14 0zm18 0zm-21 1zm11 0zm5 0zm-22 1zm22 0h1m-1 2zm0 1zm3 0zm12 0zm21 0zm-37 1zm24 0zm-22 1zm-2 2zm-3 3zm8 0zm2 0h1m-12 1zm-5 1zm9 0zm11 0zm-21 1zm6 0h1m7 0zm7 0zm-16 1zm8 0zm3 0zm3 0zm3 0zm5 0zm-10 1zm4 0zm11 0zm21 0zm-36 1zm0 1zm2 1zm15 0zm-26 1zm17 0zm2 0zm-81 1zm77 0zm4 0zm-14 1zm-1 1zm15 0zm-1 1zm-3 1zm3 0zm6 3zm3 0h1m-8 2zm3 0zm6 1zm5 0zm-10 1zm8 0zm3 0zm-96 1zm86 0zm3 0h1m10 0zm-10 2zm5 0zm-97 2zm89 0zm12 0zm-9 1zm9 1zm13 0zm-114 3zm107 0zm-4 1zm0 1zm23 0zm-125 1zm103 0zm10 0zm-14 3zm6 1zm-8 1zm13 0zm-110 1zm2 0zm94 0zm4 1zm-9 3zm-91 1zm90 0zm-6 2zm-82 1zm2 1zm-1 1zm-1 1zm0 1zm79 0zm-4 1zm-3 1zm-2 1zm4 0zm-6 1zm-61 1zm62 0h1m-66 1zm3 0zm-6 1zm3 1zm10 0zm0 2h1m47 0zm2 0zm-61 1zm52 0zm5 0h1m-57 1zm3 1zm49 0zm-5 1zm3 0zm1 1zm-48 1zm0 1zm28 0zm2 0h1m12 1zm-25 1zm8 0h1m11 0zm-31 1zm9 0zm6 0zm-15 1h1m24 0zm-19 1zm-2 1zm2 2zm10 0zm4 0zm-13 1zm1 1zm-7 5zm12 2zm2 0zm7 8z"/>
<path stroke="#16a7b5" d="M667 66zm26 3h1m-8 1zm10 1zm17 3zm2 1zm-2 1zm5 1zm0 1zm-100 2zm110 1zm0 1zm-7 2zm-104 1zm94 3zm-18 2zm-3 2zm7 0zm-10 4zm-67 1zm61 1zm-61 1zm55 0h2m-51 1zm46 0zm6 0zm-42 1zm23 0h1m18 0zm-54 1zm16 0h1m16 0zm17 0zm-54 1zm10 0zm23 0zm21 9zm-33 1zm5 1h1m-1 1zm-22 1zm19 0zm-20 1h2m2 0zm2 0zm19 0zm8 0zm9 0h1m-40 1zm37 0zm2 0zm-29 1zm5 0zm27 0zm-9 1h1m7 0zm-1 1zm-7 1zm2 0h1m5 1h1m-42 1zm30 0zm2 2zm-6 2zm0 1zm15 1zm-11 1zm10 1zm4 0zm-1 1zm5 0zm8 0zm-59 1zm38 0zm9 0zm-18 1zm19 0zm4 0zm-10 1zm6 0h1m3 0zm-49 2zm53 0h1m-50 1zm36 1zm7 0zm-2 2zm10 1zm-2 1zm10 0zm4 0zm-6 1h1m4 0zm1 1h1m-9 1zm5 0zm3 0zm4 1zm0 1h1m-2 1h1m1 1zm0 2zm11 2h1m1 1zm2 4zm-8 2zm3 2zm-3 2zm1 1zm-5 2zm-2 1h1m-78 1zm-2 1zm68 0zm0 1zm-3 1zm1 1zm4 0zm-64 2zm58 1zm-58 1zm4 1zm48 0zm-50 1zm40 0zm9 0zm-7 1zm6 0zm-46 1h1m0 1zm12 0zm4 0zm22 0h1m-26 1zm-4 1zm7 0zm11 0zm-17 1zm8 0zm-5 1zm20 0zm-11 1h1m-9 1zm4 0zm2 0zm4 0zm5 0zm-15 1zm10 0zm3 0h2m-2 1z"/>
<path stroke="#17a9a3" d="M648 66zm2 1zm31 1zm9 0zm-60 1h1m46 0zm8 0zm10 1zm2 1zm-78 4zm94 0zm5 1zm4 0zm1 1zm-6 1zm7 0h1m-107 1zm109 2zm-13 5zm-11 2zm5 0zm2 0zm-15 2zm-6 1h1m7 0zm-78 1zm67 4zm1 1zm-67 1zm61 1zm-8 1zm-48 1zm12 0zm37 0zm5 0zm-58 1zm17 0zm24 0zm8 0zm-24 1zm7 1zm-7 6zm-5 2zm33 1zm-17 1zm-31 2zm0 1zm-2 1zm8 0zm7 0zm3 0zm3 0zm3 0zm10 0h1m7 0zm-2 1zm2 0h1m-41 1zm3 0zm7 0zm27 0zm-38 1h1m8 0zm28 0zm-37 1h1m4 0zm6 0zm32 0zm-43 1h1m15 0zm21 0zm2 0zm-39 1zm15 0zm19 0zm-36 1zm5 0zm12 0zm2 0zm25 0zm-9 2zm3 0zm2 0zm-40 1zm2 0h1m42 0zm-13 2zm9 0zm0 1zm-39 1zm4 0zm41 1zm5 1zm-14 1zm3 0zm6 0zm-8 1zm3 1zm13 0zm2 0zm-15 1zm4 1h1m5 0zm-10 1zm12 0zm-11 1zm5 0zm2 0zm7 1zm6 0h1m-67 1zm48 0zm11 0h1m6 0zm2 0zm-13 1h1m10 0h2m-68 1zm65 0h1m3 0zm4 4zm-3 1zm8 0zm3 0zm-11 1zm7 0zm2 0zm2 1zm-81 3zm89 1zm-2 1zm5 0zm-4 1zm2 0zm1 2zm-92 1zm86 0zm6 0h1m-1 3zm-90 2zm85 0zm-86 1zm85 0zm-85 1zm78 2zm-11 2zm7 0zm-70 2zm60 0zm0 1zm-57 2zm2 0zm-3 1zm1 1zm46 0zm0 1zm-2 1zm4 1zm-40 1zm4 0zm28 0zm2 0zm-28 1zm19 0zm2 0zm-23 1zm2 0zm19 0zm5 0zm2 0zm3 0zm-33 1zm7 0zm-8 1zm6 0h2m3 0zm7 0h1m9 0zm-4 2h1m-17 1zm6 0zm4 0zm7 0zm-17 1zm14 2h1"/>
<path stroke="#1aaa91" d="M647 66zm8 0zm2 0zm4 0zm7 0h1m-23 1zm22 0h3m-26 1zm23 0h1m10 0zm5 0zm-51 1zm-1 1zm-9 2zm84 0zm-4 2zm-84 2zm95 0zm-95 1zm102 0zm-102 1zm97 0zm4 0zm2 1zm5 1zm-2 3zm-11 2zm3 0zm-99 2zm0 1zm78 2zm-77 1zm69 2zm-68 1zm67 0zm-66 1zm64 0zm2 0zm-9 4zm-42 1zm26 0zm12 0zm-46 1zm7 0zm3 0zm20 0zm13 0h1m-40 1zm2 0zm5 0zm25 0zm8 0zm-41 1zm38 0zm-23 6zm-21 7zm20 0zm-15 1zm15 0zm-20 1zm24 0zm4 0zm7 0zm-36 1zm2 0zm20 0zm12 0zm2 0zm5 0zm-40 1zm2 1h1m18 0zm-11 1zm11 0zm18 0zm-34 1zm12 0h2m8 0zm4 0zm3 0zm2 0zm2 0zm-36 1h1m15 0zm18 0zm4 0zm2 0zm-40 1zm16 0zm13 0zm2 0h1m-36 1zm41 0h1m-39 1zm16 0zm15 0zm2 0h1m2 0zm-15 1zm13 0zm3 0zm-38 1h1m25 0zm2 0zm14 0zm-35 1zm33 0h1m-43 1zm43 0zm-39 1zm27 0zm10 0zm-39 1zm2 0zm29 0zm-29 1zm28 0zm-33 1zm29 0zm14 0zm-13 1zm9 0zm2 0zm-41 1zm3 1zm39 1zm3 0h1m15 0zm-5 1zm2 0zm-58 1zm50 0zm-5 1zm5 0h1m4 0h2m-3 1zm11 0zm-3 1zm-63 1zm58 0zm5 1zm3 0zm-1 2zm4 0zm2 0zm2 0zm-74 1zm71 0h1m4 0zm-76 1zm71 0zm9 0zm1 1zm-81 3zm83 0zm1 1zm2 1zm4 0zm0 1zm-91 2zm87 0zm3 0zm-3 1zm6 0zm-93 2zm87 1zm-85 1zm86 0zm-6 1h1m2 1zm0 2h1m-84 1zm79 0zm-77 2zm64 0zm6 1zm-6 1zm-62 1zm61 0zm3 0zm0 1zm-7 1h2m4 0h1m-61 1zm56 0zm-55 1zm50 0h1m-18 1zm10 0zm7 0zm-10 1zm3 0zm1 1zm-39 1zm4 0zm31 0zm-37 1zm2 0zm3 0zm24 0zm-17 1zm2 0zm18 0h1m2 0zm-27 1zm5 0zm14 0zm-23 1zm6 0zm3 0zm3 0zm5 0zm3 0zm3 0zm-13 1zm4 0zm3 0zm6 0zm-13 1zm13 0zm0 4h1"/>
<path stroke="#1dab79" d="M662 66zm-11 1zm23 0zm-39 1h1m3 0zm2 0zm3 0zm11 0zm25 0zm2 0zm9 2h3m-69 1zm62 0zm8 0zm-71 1zm-2 1zm0 1zm82 0zm6 0zm4 1zm1 1h2m-4 1h1m7 1h2m-2 1zm2 0zm3 2zm-109 1zm105 0zm-1 1zm-6 1zm-97 1zm0 1zm86 2zm3 0zm2 0zm-17 2zm5 0zm-6 1zm-2 1zm1 1zm-4 2zm-5 2zm-4 1zm-56 2zm6 0zm21 0zm11 0zm-35 1zm5 0zm10 0h1m2 0h1m20 0zm10 0zm-43 1zm3 0zm20 0zm10 0zm10 0zm-5 1zm-24 13zm-13 1zm12 0zm24 0h1m-41 1h2m8 0zm17 0zm2 0zm11 0h1m-36 1zm12 0zm3 0h4m5 0zm3 0zm-32 1zm3 0zm11 0zm8 0zm7 0zm10 0zm-29 1zm12 0zm9 0zm7 0zm-36 1zm10 0h1m5 0zm-5 1zm20 0zm-31 1zm19 0zm12 0zm6 0zm-42 1h2m22 0h2m11 0zm-20 1h2m4 0zm10 0zm2 0zm2 0zm-36 1zm8 0zm8 0zm2 0zm4 0h1m18 0zm-34 1zm14 0zm2 0h1m10 0zm-27 1h1m16 0h1m13 0zm3 0zm-40 1zm26 0zm2 0zm2 0zm-2 1zm3 0zm-29 1zm29 0zm4 0zm4 0zm-41 1zm5 0zm24 0zm-29 1h1m11 0zm16 0zm-29 1zm3 0zm27 0h1m-3 1zm13 0zm-39 1h1m53 0zm-49 1zm30 0zm6 0zm-40 1zm3 0zm30 0zm-30 1zm42 0h1m2 0zm2 0zm-11 1zm-44 1zm1 1zm53 0zm5 1h2m-5 1zm-57 1zm69 0zm3 0zm-72 1zm64 0zm10 0h1m-75 1zm71 0zm-5 1zm4 0zm4 0zm2 2zm-76 1zm73 0zm7 0zm-80 1zm73 0zm4 1h1m8 3zm5 0zm-92 1zm86 0h1m-1 1zm5 0zm-91 1zm85 2zm5 2h1m-3 1zm-6 1h2m1 1zm-5 2zm-2 1zm-9 1zm8 0zm-72 2zm68 0zm-5 1h1m-61 1zm60 0h1m-59 1zm-2 2zm50 0zm-47 1zm33 0zm7 0h1m6 0zm-46 1zm37 0zm2 0zm7 0zm-48 1zm38 0zm2 0h1m6 0zm-47 1zm19 0zm10 0zm-25 1zm3 0zm4 0zm22 0zm2 0h1m-26 1h1m5 0zm3 1zm10 0zm5 0zm-22 1zm8 0zm11 0zm-15 1zm6 0h1m-7 1zm15 0z"/>
<path stroke="#21ab62" d="M652 66zm7 0zm-4 1h1m8 0zm3 0zm-27 1zm2 0zm4 0zm21 0zm8 0zm1 1zm2 0zm6 0zm-57 1zm57 0h1m8 1zm7 0zm-4 1zm6 0zm2 0h2m4 3zm2 1zm5 1zm5 0zm-7 1zm4 1zm4 1zm-105 2zm105 0zm0 1zm-106 1zm103 0zm-7 2zm-5 1zm-8 3h1m-81 2zm0 1zm67 0zm2 0zm-3 1zm-2 1zm-63 1zm62 0zm-15 1zm-47 1zm54 0h1m2 0zm2 0zm-59 1h1m4 0zm46 0h2m5 0zm-42 1zm12 0zm11 0h1m10 0zm8 0zm-49 1zm11 0zm14 0zm2 0zm13 0zm-24 1zm-8 16zm-13 1zm17 0zm3 0zm-17 1zm5 0zm9 0zm4 0zm4 0zm5 0zm9 0zm-33 1zm16 0zm17 0zm-37 1zm7 0zm29 0zm-34 1zm2 0h1m13 0zm12 0zm-13 1zm5 0h2m4 0zm2 0h1m4 0zm-33 1zm18 0zm10 0zm3 0zm-34 1zm18 0zm4 0zm14 0h1m3 0zm-34 1zm20 0zm4 0zm11 0zm-43 1zm9 0zm17 0zm3 0zm8 0h1m4 0zm-20 1h1m14 0zm-23 1zm15 0zm8 0zm2 0zm-25 1zm27 0zm-41 1zm4 1zm29 0zm-33 2zm3 0zm33 0zm-38 1zm4 0zm35 1zm-38 1zm4 0zm32 0zm2 0zm7 0zm-8 1h1m3 1zm5 0zm10 0zm-5 1zm6 0zm-58 1zm52 0h2m-9 1zm2 0zm-48 1h1m52 0zm1 1zm9 0zm-1 2zm4 0zm2 0zm2 0zm-6 1zm2 0zm2 0zm-69 3zm2 0zm78 0zm-8 1zm5 0zm-3 1zm11 4zm2 1zm5 0zm-1 1zm-6 1zm2 0zm3 0zm-90 1zm84 0zm-85 2zm89 0zm4 0zm-9 2zm-8 1zm-74 2zm80 0h2m-13 2zm-1 1zm-65 1zm61 1zm4 0zm-63 1zm54 0zm-52 2zm52 0zm-23 1zm22 0h1m-52 1zm2 0zm48 0zm-47 1zm30 0zm8 0zm9 0zm-7 1zm-41 1zm4 0zm40 0zm-44 1zm5 0zm4 0zm20 0zm7 0zm-25 1zm3 0zm3 0zm11 0h1m7 0zm-12 1zm5 0zm-6 1zm13 0zm-16 1zm2 0zm2 0zm6 1z"/>
<path stroke="#1599d1" d="M646 66zm5 0zm12 0zm7 0zm3 0zm-33 1h1m-7 1zm4 0zm40 0zm-46 1zm54 0h1m3 0zm-3 1zm14 1zm-79 1zm86 0h1m3 3zm4 0h3m0 1h1m3 0zm-4 1h1m-1 1zm10 0zm-112 1zm112 0zm-112 2zm112 0zm-2 1zm2 0zm-7 1zm-7 2zm-7 4h1m-17 2zm4 0zm3 0zm-8 1zm6 1zm-11 4zm-67 1zm68 0zm-67 2zm55 0zm0 1zm-55 1zm5 0zm11 0h1m5 0zm2 0zm14 0h3m-23 1h1m6 0zm12 0zm15 0zm6 0zm-24 1zm3 0zm26 0zm-27 1h1m-1 1zm-35 1zm44 0h1m-20 1zm33 0zm-34 1zm0 1zm22 0zm-44 2zm17 0zm13 0zm-27 1zm14 0zm7 0zm26 0zm-49 2zm21 0zm2 0zm-25 1h1m23 0zm-18 1zm14 0zm7 0zm8 0zm7 0zm-23 1zm23 0zm-30 2zm24 0zm3 0h1m-32 1zm6 0zm23 0h2m6 0h1m-44 1zm36 0zm5 0zm9 3zm0 1zm-10 1h1m0 1zm3 1h2m-7 2zm4 0h1m2 0zm-14 1zm11 0zm2 0zm-46 1zm41 0zm7 0zm2 0zm10 0zm-57 1zm39 0zm4 0zm5 0zm9 0zm-62 1zm41 0h1m6 0zm1 1zm2 1h1m8 0zm-9 1zm3 0h1m5 0h1m-17 1h1m6 0h2m2 0zm3 0h1m6 0zm-65 1zm46 0h1m-47 1zm46 0zm19 0zm-66 1zm68 0zm-6 1zm7 0zm-69 1zm65 0zm-66 1zm71 0zm3 0zm-8 1h1m4 0zm-4 1zm7 1zm5 0zm1 2zm-1 2zm-79 3zm89 0zm-90 1zm89 0h1m0 1h1m0 1zm-2 3zm6 0zm-6 1zm0 1zm-86 2zm-2 3zm87 0zm-4 1h2m-83 1zm0 1zm79 0zm-77 1zm0 2zm67 0h1m-6 1zm-58 1zm58 0h1m-61 2zm56 0zm-53 1zm52 0zm-53 1zm2 0zm43 1zm-44 1zm39 0h1m15 0zm-54 1zm9 0zm30 0zm2 0zm6 0zm-39 1h1m30 0zm-38 1zm6 0h2m8 0h1m15 0zm12 0zm-28 1zm15 0zm2 0zm3 0zm7 0h1m-37 1zm3 0zm8 0zm10 0zm5 0zm-16 1zm3 0zm2 0h1m5 0zm7 0zm-24 1h1m3 0zm5 0zm2 0zm3 0zm4 0zm5 0h1m6 0zm-31 1zm12 0h1m6 0zm-20 1h1m14 0zm2 0h1m-1 1h1m-10 1z"/>
<path stroke="#189eb0" d="M649 66zm7 0zm4 0zm5 0h1m10 2zm-50 2zm64 0zm8 0h1m-11 1zm-67 3zm90 1zm10 1zm5 2zm1 1zm-109 2zm-2 2zm108 1zm-8 1zm-4 2zm-94 2zm87 0h1m-12 1zm8 0zm-4 1zm-79 2zm65 3zm-3 4zm-54 1zm21 0h1m-20 1zm16 0zm5 0h2m2 0zm11 0zm2 0zm4 0zm-48 1zm24 0zm0 6zm0 1zm0 2h1m10 2zm-33 1zm19 0zm13 0zm-2 2zm-3 1zm5 0zm4 0zm-28 1zm24 0zm4 0zm-37 1zm33 0zm10 2zm-43 2zm18 0zm25 2zm-44 1zm28 1zm-25 3zm36 0zm-39 1zm38 1zm-8 1zm13 3h2m-46 1zm51 0zm-51 1zm60 0zm-60 1zm48 1zm0 1zm13 1zm-5 2zm-59 1zm72 0zm-72 1zm77 0zm-5 4zm8 1zm0 1zm4 0zm-85 4zm95 2zm0 3zm-93 2zm3 9zm64 3zm-6 1zm4 0zm-56 2zm45 3zm-42 2zm32 1zm-29 1zm8 0zm14 0zm4 2zm-20 2z"/>
<path stroke="#158ad6" d="M653 65h1m18 1zm-33 1zm3 0zm3 0zm30 0zm15 0zm-5 1zm-56 1zm62 0h1m3 0zm-7 1zm9 0zm3 0zm-76 1zm78 0zm11 0zm-3 2zm-90 1zm-2 4zm-1 2zm111 0zm2 1zm-4 1zm2 1zm-112 1zm107 0zm-107 1zm104 0zm-103 1zm98 0zm-2 1zm-10 2zm-10 2h2m5 0h1m-7 1zm2 0zm-76 3zm0 1zm62 1zm-5 3zm-57 1zm41 0h1m18 0zm-52 1zm7 0zm8 0zm13 0zm19 0zm3 0zm-57 1h1m2 0h2m32 0zm4 0zm9 0zm2 0zm-42 1zm21 0zm-4 1zm5 0h1m-33 1zm13 0zm29 0zm2 0zm-43 1zm12 0zm18 0zm18 0zm8 1zm-11 1zm-44 2zm23 0h1m-8 1zm3 0zm12 0zm18 0h1m2 0zm-33 1zm6 0zm9 0zm15 0zm3 0zm-17 2zm6 0zm-7 1zm-25 1zm6 0zm25 0zm17 0zm-57 1zm17 0zm10 0zm19 0zm-6 1zm-39 2zm5 0zm-6 3zm45 0zm-46 1zm19 0zm27 2zm-4 1zm5 0zm-47 1zm43 0zm3 1zm2 0zm-15 1zm14 0zm-43 1zm29 0zm13 0zm-42 1zm28 0h1m8 0zm2 0zm2 0h1m-46 1zm40 0h2m18 0zm2 0zm-12 1zm2 0zm-1 1h1m2 0zm3 0zm-4 1zm2 0zm-6 1zm3 0zm3 0h1m5 0zm-12 1zm10 0zm3 0zm-1 1h1m-64 1zm49 0zm16 0zm2 0zm-19 1h1m12 0zm8 0zm-70 2zm71 0zm4 0zm-3 1zm6 0zm-2 1h2m1 1zm-79 1zm84 1zm-84 2zm88 3zm5 0zm-7 1h1m5 0zm2 2zm5 0zm-5 1zm2 3zm-96 3zm93 0zm-4 1h1m-2 1zm-88 3zm82 1zm-4 1zm-2 1zm-1 1zm-69 2h1m65 0zm-1 1zm3 0zm-68 1zm60 1zm-1 1zm-58 1zm53 0zm-56 1zm4 0zm51 0zm-5 1zm4 0zm-2 1zm-45 1zm3 0zm3 0zm6 0zm-13 1zm13 0zm19 0zm12 0zm-35 1h1m25 0h1m5 0zm-35 1zm26 0zm4 0zm-23 1zm7 0zm2 0zm15 0zm-22 1zm2 0zm5 0zm5 0zm6 0zm-23 1zm17 0zm2 0zm4 0zm2 0h1m-27 1zm15 0zm8 0zm4 0h1m-21 1zm16 0zm-4 1zm-10 1h1m-11 1h1"/>
<path stroke="#167bdd" d="M640 66zm10 0zm14 0zm10 0zm-31 1h1m35 0zm-48 1zm6 0zm49 0zm5 0zm-2 1zm0 1zm7 0zm8 0zm-1 1h1m6 1zm2 0h1m-1 1h1m-2 1h1m2 0zm10 3zm4 2zm2 0zm-114 3zm114 0zm-5 2zm-4 1zm-105 1zm1 1zm97 0zm-97 1zm95 0zm-8 1zm3 0zm-89 1zm75 2zm5 0zm-7 1zm-3 1h2m-2 1zm0 1zm-69 3zm57 1zm-50 1zm51 0zm-51 1h1m21 0zm7 0zm11 0zm-37 1zm3 0zm2 0zm6 0zm3 0zm7 0zm4 0zm6 0h1m2 0zm4 0zm3 0zm7 0zm-47 1zm9 0zm19 0zm10 0zm9 0zm-25 1zm3 0zm3 0zm25 0zm-61 1zm3 0zm30 0zm9 0zm-31 1zm2 0zm21 0zm15 0zm-26 1zm2 0zm5 0zm-8 1zm18 0zm4 0zm2 0zm6 2h1m-48 2zm8 0zm4 0zm19 0zm-32 1zm37 0h1m8 0zm3 0zm-54 1h1m4 0zm37 0zm-42 1zm6 0zm3 0h1m34 0zm3 0zm7 0zm5 0zm-58 1zm15 0zm2 0zm2 0zm5 0zm8 0zm4 0zm11 0zm6 0zm-42 1zm3 0zm15 0zm11 0zm0 1zm6 1zm-33 1zm34 0zm0 1zm-47 1zm2 0zm41 0zm-43 1zm19 0zm33 0zm1 1zm-53 1zm51 0zm-9 3zm5 1zm-7 2h1m8 0zm2 0h1m8 0zm-20 1zm10 0zm3 0zm6 0zm3 0zm-63 1zm50 0zm5 0zm0 1zm-55 1zm48 0zm11 0zm-9 1zm3 0zm2 0zm14 0zm5 0h1m-27 1zm21 0zm-69 1zm56 0zm-57 1zm61 0zm0 1zm7 0zm3 0h1m-7 1zm9 0zm-75 1zm58 0h1m15 0zm-1 1zm2 1zm2 0zm2 1zm3 0zm-4 1zm2 0zm0 1zm0 1zm3 0zm-83 1zm83 0zm-83 2zm83 0zm5 1zm1 1h2m-3 1zm5 0zm0 1zm6 0zm-1 1zm-3 3zm-8 1zm8 0zm-8 1zm-88 1zm95 0zm-3 2zm-90 1zm87 1zm-87 2zm85 0zm-2 1zm-83 1zm79 0zm-80 1zm2 0h1m74 0zm-3 1zm-69 2zm70 1zm-11 1zm5 0h1m4 0zm-8 2zm-62 1zm5 0zm55 1zm-56 1zm2 2zm5 0zm-3 1zm4 0zm8 0zm26 0zm2 0zm4 0zm-13 1zm-34 1h1m3 1zm4 0zm5 0zm2 0zm5 0zm6 0h1m8 0zm4 0zm-35 1h1m4 0zm26 0zm-26 1h1m4 0zm6 0zm9 0zm14 0zm-16 2zm-10 1h1m2 0zm8 0zm4 0h1m-15 1zm-9 2zm18 0zm6 0zm-23 1z"/>
<path stroke="#eb6800" d="M655 73zm-16 1zm6 0h1m7 0h2m3 0zm9 0h2m-34 1h1m11 0zm15 0h3m5 0zm-41 1zm47 0zm6 0zm-3 1h2m3 0zm-3 1h2m-58 1zm57 0zm2 0h1m-2 1zm2 0zm-61 1zm62 0zm-62 1zm62 0zm-3 1h4m-6 1h1m-57 1h1m55 0zm-7 1h5m-52 1h1m39 0zm4 0h1m4 0zm-46 1zm2 0h1m6 0zm22 0zm5 0zm3 0h1m-39 1h2m2 0h1m3 0h1m2 0zm4 0zm12 0h2m4 0zm-26 1h8m8 0zm5 0zm-20 1zm2 0h1m-1 55h1m2 2zm9 0h1m-16 1h1m3 0zm2 0zm6 0h2m2 0h1m-18 1zm3 0zm3 0h7m6 0zm2 0zm-25 1h3m18 0zm6 0h1m-28 1h2m28 0h2m5 0zm-37 1zm33 0h1m4 0zm-39 1zm39 0zm-41 1zm42 0zm-45 1zm47 0h2m-1 1h1m-48 1zm48 0zm-48 1zm48 0zm-48 1zm-1 1h1m47 0zm-48 1zm47 0zm-47 1h1m0 1zm41 0zm-39 1h1m37 0zm-36 1h1m30 0h5m-34 1zm8 0zm12 0h1m4 0h2m-26 1zm6 0zm2 0h1m3 0h3m3 0zm4 0h1m-19 1h1m3 0h1m4 0zm-5 1z"/>
<path stroke="#eb5300" d="M640 74h2m2 0zm5 0h1m-13 1h1m8 0zm2 0zm8 0h1m2 0h2m5 0h3m-39 1h5m11 0h1m22 0h3m2 0h1m8 0zm-55 1h1m3 0h2m44 0zm4 0h1m-56 1zm53 0zm-54 1zm55 0zm-56 1zm56 0h1m2 0zm-3 1zm2 0h2m-4 1h4m-60 1zm56 0h1m-57 1zm55 0zm-8 1h4m3 0h1m-53 1zm40 0h3m2 0h1m7 0h1m-52 1h4m27 0h1m7 0h2m-39 1zm3 0h4m2 0h2m5 0h1m11 0h1m2 0h3m-31 1zm3 0h1m3 0zm2 0zm4 0zm3 0h3m2 0h2m-14 60zm10 0zm-15 1h1m12 0h4m2 0zm-16 1h1m6 0h3m2 0zm2 0h1m3 0zm-23 1zm18 0zm8 0zm-28 1h1m29 0h1m3 0h2m-4 1h1m-39 1h1m3 0zm35 0zm4 0zm-43 1zm3 0zm36 0zm6 0zm-45 1zm46 0zm-45 1zm46 0zm0 2zm-47 2zm44 0h1m-7 1zm4 0h2m-43 1zm3 0zm32 0h2m-34 1zm32 0h3m-33 1zm7 0zm14 0zm4 0h1m2 0zm-27 1zm6 0zm2 0zm6 0zm4 0zm3 0h2m-22 1h1m3 0zm5 0h1m5 0h1m4 0z"/>
<path stroke="#eb4301" d="M643 74zm8 0h1m-13 1zm2 0h1m2 0h1m4 0zm3 0h3m3 0zm-22 1zm6 0zm6 0zm4 0h2m3 0zm4 0h2m2 0h3m5 0zm-43 1h1m4 0h1m21 0zm12 0h1m3 0h2m2 0zm-49 1h3m2 0h1m39 0zm5 0h1m-52 1zm47 0h1m3 0h2m-54 1zm48 0zm4 0h1m-54 1h1m56 0zm-57 1zm55 0zm-8 1zm7 0h1m-9 1h1m3 0h1m3 0zm-52 1zm41 0h3m6 0zm-49 1h1m4 0zm26 0h1m11 0zm-37 1h2m3 0h1m19 0zm3 0zm4 0zm-23 1zm3 0zm3 0zm3 0h1m5 0zm-14 1h1m9 0zm-17 62h3m3 0h4m5 0zm5 0zm-20 1zm11 0h3m2 0zm2 0zm5 0h1m-25 1zm25 0zm2 0zm-30 1h2m30 0zm3 0h2m-4 1zm2 0zm2 0zm-41 1h1m2 0zm36 0zm3 0h1m-43 1zm38 0zm6 0zm1 1zm-45 1zm46 0zm-46 1zm45 0zm-45 1zm21 0zm14 0zm9 0h1m-45 1h1m12 0zm25 0zm2 0zm2 0zm-42 1h1m35 0zm2 0zm2 0zm-39 1h1m2 0h2m3 0zm15 0zm10 0zm4 0h1m-35 1h2m20 0h1m3 0h2m2 0zm-28 1zm5 0zm2 0h1m11 0zm2 0h2m3 0zm-25 1h1m3 0zm4 0zm2 0h2m2 0h2m-14 1h1"/>
<path stroke="#eb3a03" d="M640 75zm3 0zm7 0h1m-14 1h2m2 0zm2 0zm2 0zm4 0zm2 0zm4 0h1m2 0zm6 0zm-27 1h6m2 0h2m7 0h2m2 0zm4 0zm9 0h1m4 0zm-44 1zm3 0zm4 0h1m17 0h2m10 0h1m2 0zm2 0h1m2 0zm-49 1h1m44 0zm3 0h1m-50 1zm48 0zm5 0zm0 1zm-54 1zm53 0zm-53 1zm45 0zm-45 1zm3 0h1m40 0zm3 0h1m-45 1h1m30 0zm7 0zm11 0zm-48 1h2m2 0zm18 0h1m5 0zm3 0zm-24 1h1m3 0h3m3 0h1m4 0h1m5 0zm5 0h2m-21 1h1m6 0zm3 0h3m1 63zm-20 1zm3 0zm6 0zm5 0zm4 0zm-19 1zm2 0zm8 0h2m3 0h3m7 0zm-26 1h1m2 0zm8 0h1m10 0zm5 0h1m-31 1h2m12 0h1m2 0h1m7 0zm7 0zm4 0zm-19 1h2m12 0h1m-35 1zm26 0h1m7 0h1m7 0zm-42 1zm43 0zm-43 1zm4 0zm14 0h1m24 0h1m-44 1h1m18 0h1m18 0h1m4 0zm-43 1zm11 0h1m7 0zm8 0h1m7 0zm2 0h2m2 0h1m-41 1zm19 0zm16 0zm2 0zm2 0zm-39 1h3m4 0zm4 0zm21 0h1m4 0zm-32 1h1m2 0h2m13 0zm5 0zm-22 1zm2 0h2m7 0h1m4 0h1m3 0h1m4 0zm-26 1h3m7 0h1m2 0zm3 0h1m-15 1h1m6 0z"/>
<path stroke="#eb3304" d="M640 76zm4 0zm15 0h1m-16 1zm4 0h1m2 0h2m7 0h1m2 0zm5 0zm-31 1h1m3 0zm5 0zm16 0h1m8 0zm5 0zm-46 1h4m36 0h2m-44 1zm45 0zm4 0zm-50 1h1m46 0zm4 0h1m-52 1h1m44 0h1m3 0h2m-51 1h3m43 0zm2 0h1m2 0zm-50 1zm36 0zm3 0h2m8 0zm-49 1zm9 0zm17 0zm-19 1h2m3 0h1m13 0h1m7 0zm4 0zm-21 1h1m5 0zm3 0h2m-6 1zm-11 64h1m2 0h4m11 0zm2 0zm-21 1zm8 0zm5 0zm5 0h4m-22 1zm5 0zm3 0zm3 0zm3 0zm3 0h2m2 0zm2 0h1m-26 1h3m10 0zm3 0zm7 0zm3 0h2m-29 1zm12 0zm6 0zm4 0h1m2 0zm6 0zm3 0h1m-39 1h1m3 0zm15 0zm2 0h3m3 0zm2 0h1m5 0zm2 0zm3 0zm-40 1zm3 0h2m12 0h2m7 0h1m8 0zm-35 1h2m2 0zm12 0zm3 0h1m17 0h2m-38 1zm2 0h1m11 0zm2 0zm3 0zm13 0h1m2 0zm3 0zm2 0zm-41 1zm4 0h1m11 0zm16 0zm3 0zm4 0zm-37 1zm8 0zm2 0zm4 0zm2 0zm8 0h2m4 0h2m-30 1zm2 0zm2 0h2m2 0zm4 0h3m3 0h1m-12 1zm5 0h2m3 0zm3 0h1m4 0h2m-26 1zm2 0zm8 0h1m3 0zm2 0zm-8 1h1m3 0zm2 0h1"/>
<path stroke="#eb2d05" d="M650 76zm0 1zm9 0zm5 0h3m-31 1zm6 0h1m2 0zm6 0zm3 0h2m4 0zm4 0h1m3 0zm-30 1h1m30 0zm-40 1h2m45 0zm-3 1zm2 0zm-8 1h1m7 0zm-44 1zm36 0h1m9 0zm-50 1zm4 0zm29 0zm18 0zm-45 1h3m2 0zm11 0zm3 0h1m2 0zm4 0zm5 0zm2 0zm-28 1zm4 0h7m7 0h1m6 0h1m-15 1zm8 0zm1 65zm-18 1h5m5 0zm-10 1zm2 0zm8 0h1m2 0zm-11 1h1m3 0zm11 0zm-24 1h1m2 0zm5 0h1m6 0h1m5 0zm2 0zm3 0zm2 0zm2 0zm-30 1h1m2 0zm5 0zm10 0zm11 0zm8 0zm-38 1h1m18 0zm5 0zm3 0zm6 0zm2 0zm3 0zm2 0zm-36 1zm3 0zm7 0zm-13 1zm3 0zm5 0h1m2 0h1m2 0zm16 0zm3 0zm5 0zm-37 1zm6 0zm3 0zm3 0zm2 0zm3 0zm5 0zm3 0zm-27 1zm2 0zm2 0h1m3 0zm8 0zm3 0zm2 0h1m8 0zm-26 1zm10 0zm5 0zm4 0zm4 0h3m-19 1zm2 0h1m4 0zm7 0h1m-16 1h3"/>
<path stroke="#eb2806" d="M644 78zm3 0zm3 0zm2 0h1m8 0zm5 0h1m-32 1zm2 0zm3 0zm10 0h1m5 0h3m3 0h2m4 0zm-36 1h2m4 0h1m29 0h4m-43 1h2m36 0h2m3 0zm4 0h1m-48 1h2m38 0zm2 0zm3 0zm-22 1h1m11 0zm5 0h1m4 0zm-42 1h1m3 0h2m14 0h5m2 0zm4 0zm2 0h1m-35 1h1m9 0h1m6 0zm2 0h1m5 0h2m3 0zm2 0zm2 0zm-26 1zm11 0h1m14 0zm-15 1zm-9 67zm3 0h1m9 0zm6 0zm-20 1h1m3 0zm9 0zm2 0h1m4 0h1m-24 1h3m3 0zm3 0zm9 0zm7 0zm-25 1zm3 0zm2 0zm7 0zm10 0zm4 0zm6 0zm-32 1zm3 0h1m6 0zm5 0h3m5 0h1m3 0zm4 0h1m2 0zm-34 1h1m2 0h5m7 0zm7 0h1m4 0h1m2 0zm4 0h1m-34 1h2m3 0zm9 0zm4 0h4m2 0zm-30 1h1m4 0zm7 0h1m8 0h2m5 0zm2 0zm-27 1zm3 0h1m7 0zm6 0zm3 0h1m4 0h1m-16 1zm7 0zm4 0h2m-14 1zm7 0zm0 1z"/>
<path stroke="#eb2606" d="M648 78h1m-13 1zm5 0h8m3 0h3m5 0h1m4 0h2m-32 1h2m3 0h27m-35 1h34m4 0h1m-39 1h34m4 0zm-38 1h19m3 0h9m2 0h1m-32 1h1m4 0h12m7 0zm3 0h1m-23 1h1m3 0h4m15 0zm-17 70zm9 0zm-10 1h1m-7 1h1m4 0h5m-10 1h1m3 0h4m16 0h1m-10 1h5m3 0h2m3 0zm-29 1zm16 0h2m6 0zm-23 1h1m13 0zm9 0zm-17 1h1m-1 1z"/>
<path stroke="#636cdc" d="M684 64zm-43 1zm4 0h1m4 0h1m18 0h2m3 0zm3 0zm-41 1zm7 0zm42 0zm-54 1zm54 0zm13 0zm9 0zm-10 1zm-70 1zm86 1zm-94 2zm100 0zm3 0zm-2 1zm-102 1zm111 2zm4 4zm0 2zm-3 1zm-27 7zm-87 1zm95 0zm-1 1zm-2 1zm11 0zm-23 1zm-77 1zm72 0zm-74 1zm88 0zm-22 1zm7 0zm13 0h1m-11 1zm-8 2zm2 1zm18 0zm-22 1h1m2 1zm27 0zm-94 1zm-3 1zm43 1zm3 0zm-1 1zm20 0h1m-9 1zm20 0zm-35 1zm7 0zm18 0h1m17 0zm-32 1zm10 0zm21 0zm-74 1zm36 0zm19 0zm19 0zm21 0zm-91 1zm21 0zm-22 1zm27 0zm5 0zm15 0zm9 0zm-16 1zm14 0zm-64 1zm9 0zm31 0zm8 0zm2 0zm-18 1zm32 0h1m-64 1zm75 1zm24 0zm-99 2zm80 4zm-13 1zm-7 1zm8 0zm-17 1zm8 0zm3 1h2m-64 1zm55 0zm2 0zm20 0zm-10 2zm5 4zm8 0zm-11 1h1m7 0zm2 0zm2 0zm-82 1zm83 0zm-8 1zm4 0zm5 0zm-5 1zm5 1zm-6 1zm4 0zm-19 1h1m14 0zm8 0zm-87 2zm82 0zm1 1zm16 1zm-13 2zm12 3zm0 1zm14 0zm-14 1zm5 1zm-2 2zm6 0zm5 2zm-15 1zm-99 3zm101 0zm10 1h1m-112 1zm104 0zm-4 2zm-9 3zm11 1zm-101 2zm81 0zm5 0zm-4 2zm7 0zm-4 1zm0 1zm13 0zm-92 3zm69 0zm-71 3zm3 0zm70 1h1m-73 1zm-3 1zm62 0zm-57 1zm58 0zm-7 1zm-45 1zm38 1zm11 0zm-45 2zm37 0zm4 0h1m-13 1zm-12 1zm19 0zm-3 1zm7 0zm-43 1zm21 0zm-19 1zm1 1zm13 0zm2 0zm10 0zm-27 2zm14 0zm5 0zm3 0h1m7 0zm-26 1zm5 0zm11 1zm-17 1zm2 1zm29 0zm-24 1z"/>
<path stroke="#545edb" d="M664 64zm11 1zm-37 1zm43 0zm7 0zm3 0zm-61 1zm4 0zm50 0zm10 0h1m3 1zm7 0zm1 1zm-82 1zm85 0zm9 0zm-98 1zm96 2zm2 0zm2 1zm8 2zm-1 1zm7 0zm0 1h1m-4 2zm-116 4zm111 0zm-111 2zm101 1zm5 0zm-7 1zm-99 1zm98 0zm4 0zm-101 1zm88 0zm5 2zm-4 1zm4 0zm-18 1zm2 0zm4 0zm-79 1zm81 0zm-80 1zm84 0zm-86 2zm69 1zm2 0zm1 2zm-1 3zm-51 1zm25 0zm25 0h1m-72 1zm13 0zm29 0zm-21 1zm12 0zm41 0zm-65 1zm33 0h1m-39 1zm12 0zm27 0zm13 0zm6 0zm7 0zm2 0zm-62 1zm29 0zm2 0zm8 0zm9 0zm3 0zm-21 1zm2 0zm14 0zm-50 1zm29 0zm6 0zm6 0zm-34 1zm3 0zm36 0zm10 0zm3 0zm2 0zm2 0zm-62 1zm54 0zm8 0zm-55 1zm24 0zm13 0zm5 0zm-18 1zm45 0zm-14 1zm13 0h1m-17 1zm5 0zm8 0zm2 1zm-25 1zm5 0zm2 0zm2 0zm-5 1zm-2 1zm-52 2zm61 1zm17 0zm-78 1zm55 0zm6 1zm-8 1zm12 0zm-3 1zm2 0h1m-65 1zm53 0zm8 0zm-61 1zm76 0zm-78 2zm70 0zm6 0zm-76 1zm59 0zm12 0zm5 0zm11 0zm-88 1zm2 0zm58 0zm16 1zm-76 1zm66 0zm10 0zm3 0zm-77 1zm-2 1zm84 0zm-1 1zm-83 1zm78 0zm9 0zm-87 1zm0 1zm80 0zm6 0zm-2 3zm6 0h2m8 0zm-5 2zm-95 1zm94 0zm-8 1zm4 0h2m-6 1zm2 0zm3 0zm-93 2zm2 0zm100 0zm-101 2zm105 0zm4 1zm-110 2h1m97 1zm9 1zm6 1zm-7 1zm-5 1zm4 0zm-103 1zm101 0zm-8 2zm-3 2h1m-92 1zm87 2zm-5 1zm3 0zm-85 2zm90 0zm-86 1zm93 0zm-92 1zm92 0zm-94 1zm3 0zm74 1zm-75 2zm66 1zm-3 1zm-58 2zm54 0zm4 0zm-8 1h1m-53 1zm1 1zm52 0h1m-56 1zm2 0zm62 0zm-63 1zm5 0zm40 0zm9 0zm-53 1zm2 0zm7 0zm-7 1zm45 0zm3 1zm-8 1zm6 0zm-38 1h1m15 0zm4 0zm3 0zm10 0zm-17 1zm3 0zm3 0zm2 0zm-18 1zm2 0zm2 0zm5 0h1m16 0h1m-27 1zm-9 1zm11 0h1m-3 1zm3 0h1m-10 1zm4 0zm3 1zm-6 1zm29 0zm-15 1h1m-4 8zm8 7h1"/>
<path stroke="#2965de" d="M647 65h1m4 0zm3 0zm4 0zm3 0zm3 0h3m-33 2zm45 0zm3 0zm-55 2zm76 0zm-79 1zm-3 1h1m91 0zm-96 4zm0 1zm0 1zm111 0zm-2 1zm3 0zm-114 3zm109 4zm-10 2zm-97 6zm1 1zm69 3zm-4 2zm-65 1zm0 3zm65 1zm-36 2zm-26 5zm54 0zm-50 1zm23 0zm-3 1zm14 1zm19 3zm-5 2zm1 5zm4 6zm4 5h1m-63 2zm61 0zm-63 1zm68 1zm8 2zm-18 3h1m-60 1zm1 4zm88 3zm-3 2zm-86 4zm101 4zm-8 3zm-11 7zm-80 1zm2 8zm4 0zm58 0zm-56 4zm4 0zm2 1zm-1 2zm37 1zm-34 1zm34 0zm-29 1zm8 0zm10 3zm-3 1zm4 2zm-7 3z"/>
<path stroke="#1667e2" d="M663 65zm-22 1zm30 0zm-35 1zm2 0zm40 0zm3 0h1m-49 1zm44 0zm12 0zm5 0zm11 3h1m-85 2zm94 1zm3 0zm2 1zm2 0zm2 1zm1 1zm-108 1zm111 0zm2 2zm-3 3zm-5 1zm-5 2h2m-8 3zm-4 1zm-5 1zm-4 2zm-13 3zm-66 1zm67 1zm2 0zm-6 1zm2 1zm-8 1zm-27 1zm27 0zm3 0zm-52 1zm6 0zm2 0zm14 0zm3 0zm12 0zm10 0zm-45 1zm19 0h1m18 0zm11 0zm-39 1zm8 0zm35 0zm-42 1zm7 0zm-17 1zm2 0zm14 0zm17 0zm6 0zm3 0zm2 0zm4 0h1m-56 1zm6 0h1m-4 1zm18 1zm9 0zm13 0zm8 0zm-32 1zm6 0zm6 0zm13 0zm-45 1zm2 0zm1 1zm45 0h1m-44 1zm24 0zm5 0zm9 0zm9 0zm-54 1zm23 0zm13 0zm-8 1h1m14 0zm4 0zm11 0zm-18 1zm14 0zm-28 1zm-12 1h1m34 0zm3 0h1m-50 3zm43 0zm4 0zm-4 1zm13 0zm2 1h1m-60 3zm0 1zm0 2zm56 0zm-56 1zm54 0zm-4 1zm11 0zm-62 1h1m44 0zm-12 1zm12 0zm7 0zm-7 1zm2 0zm-2 1zm12 0zm8 0zm10 0zm-27 1zm22 0zm-4 1zm-67 1zm58 0zm4 1zm-63 1zm0 1zm71 0h1m2 0zm2 0zm-11 1h1m10 2zm3 0zm12 3zm-10 1zm2 2zm-83 2zm89 0zm-2 1zm12 1zm-1 3h1m-1 1zm0 1zm1 1zm-100 1zm2 3zm-1 2zm-1 1zm0 1zm74 5zm-69 1zm3 1zm70 0zm-14 1zm4 0zm6 0zm-9 1zm0 2zm2 0zm-3 1zm-10 1zm7 0zm3 0zm-3 1h1m3 0h1m-13 1zm9 0zm-55 1zm4 1h1m37 0zm2 0zm3 0zm-16 1zm17 0zm-44 1zm8 0zm2 0h1m22 0zm-13 1zm23 0zm-26 1zm20 0zm-16 1h2m12 0zm-20 1zm3 0zm6 0zm-16 2zm4 0zm7 1zm12 1zm-21 1zm22 0zm-9 1zm-10 1z"/>
<path stroke="#156ae5" d="M695 68zm-7 1zm17 0zm0 1zm2 1zm9 3zm-100 5zm113 1zm-13 6zm-10 4zm-11 2zm1 1zm-19 9zm-40 1zm4 0h1m2 0zm4 0zm11 0zm20 0zm4 0zm-63 1zm24 0h1m5 0zm6 0zm15 0h1m10 0zm-38 1zm5 0zm28 0zm-51 1zm7 0zm2 0zm4 0zm13 0zm5 0zm-18 1zm12 0zm6 0zm10 0zm-46 1h1m12 0h1m31 0zm13 1zm-27 1zm11 0zm5 0zm-15 1zm11 1h2m-43 1zm13 0h2m25 0h2m-41 1h1m6 0h1m3 0zm10 0zm33 0zm-55 1zm8 0zm34 0zm7 0zm6 0zm-36 1zm5 0zm9 0zm2 0zm3 0zm3 0zm10 0zm-21 1zm8 0h1m-15 1zm-12 2zm42 2zm-54 1zm57 0zm-5 3zm-4 5zm4 1h1m5 0zm-13 2zm5 1zm14 1zm0 1zm-1 1zm5 0zm-6 1zm-66 1zm49 1zm26 0zm-2 1zm2 1zm-3 1zm4 0h1m10 9zm-87 1zm92 0zm-93 1zm98 2zm0 3zm0 1zm-1 1zm3 0zm0 1zm-16 7zm2 0zm-85 1zm79 0zm-3 2zm0 3zm-14 3zm2 0zm-3 1zm4 0zm-60 1zm55 0h1m-9 1zm7 0zm2 0zm4 0zm-7 1zm-42 1zm26 0zm12 0zm-5 1zm7 1zm-37 1h1m18 0zm5 0zm4 0h1m2 0zm-31 1zm18 0h1m-23 1zm2 0zm2 0zm28 0zm-3 1zm-17 2zm-5 1zm4 1zm4 0zm14 0zm0 1zm-25 1zm17 1zm-2 1z"/>
<path stroke="#3754dd" d="M649 65zm12 0zm-19 1zm44 1zm28 3zm-93 1zm91 0zm9 2zm-105 5zm115 3zm-9 5zm-5 1zm-22 6zm-13 9zm-27 1zm6 1zm-42 1zm10 0zm42 0zm12 1zm-58 1zm30 0zm7 0zm13 0zm-55 1zm34 0zm33 0zm-39 1zm0 1zm-21 2zm19 0zm9 0zm21 0zm2 0zm-59 1zm43 0zm-3 1zm-32 1zm50 0zm-27 1zm10 0zm9 0zm12 0zm-60 1zm60 0zm-60 1zm51 0zm23 1zm-22 1zm-51 2zm57 0h1m-6 1zm-5 4zm18 0zm-16 2zm7 0zm-58 3zm76 3zm-14 1zm17 1zm-81 1zm71 1zm-71 1zm79 0zm-1 2zm-78 4zm83 1zm8 1zm6 6zm-98 2zm98 0zm1 3zm-3 5zm-1 1zm-93 1zm-2 1zm0 1zm90 0zm-14 10zm-3 1zm-69 5zm65 0zm-62 1zm2 0zm48 2zm-40 1zm42 1h1m-40 2zm-2 1zm29 0zm5 0zm-1 1zm-16 4h1m5 0zm4 0zm-23 1zm3 0zm7 0zm2 0zm-8 1zm9 1zm1 1z"/>
<path stroke="#1855e4" d="M645 66zm31 1h1m14 0zm-59 1zm55 0zm9 1zm7 1zm5 1h2m-91 3zm98 0zm2 0zm2 1zm2 0zm3 2zm-110 3zm115 2zm-5 1zm3 0zm-7 2zm2 0zm-4 1h1m-105 1zm89 3zm3 0zm-91 1h1m0 1zm74 0zm9 0zm0 1zm-3 1zm-16 4zm3 1zm-3 1zm-46 3zm20 0zm26 0zm-61 1zm2 0zm5 0zm4 0h2m4 0zm2 0zm3 0zm3 0h1m4 0zm4 0zm4 0zm10 0zm7 0zm-55 1zm4 0h2m4 0zm3 0zm6 0zm5 0zm5 0h1m13 0zm12 0zm-49 1zm24 0zm15 0zm4 0zm6 0h1m-54 1zm6 0zm7 0zm2 0zm2 0zm5 0zm8 0zm11 0zm9 0zm4 0zm-45 1h1m8 0zm10 0zm2 0zm8 0h1m3 0zm2 0zm3 0zm16 0zm-63 1zm11 0zm8 0zm19 0zm2 0zm6 0zm-35 1h1m27 0zm-38 1zm9 0h1m7 0zm4 0zm18 0h1m-31 1zm5 0zm14 0zm7 0zm4 0zm8 0zm-47 1zm10 0zm19 0zm6 0h1m6 0zm12 0zm-42 1h1m4 0zm7 0zm4 0zm10 0zm9 0zm2 0zm6 0zm-49 1zm2 0h1m2 0zm6 0zm14 0zm7 0zm11 0h2m-55 1zm15 0zm4 0zm2 0zm14 0zm7 0zm4 0zm6 0h1m6 0zm-44 1zm5 0zm7 0zm5 0zm7 0zm18 0h1m-56 1zm13 0zm39 0zm6 0zm-57 1zm48 0zm9 0zm-10 2zm-49 2zm48 0zm3 0zm0 1h1m-5 1zm5 0zm0 2h1m-4 1zm1 2zm6 0zm-55 2zm62 0zm-64 1zm47 1zm5 0zm9 0zm4 0zm1 1h1m-19 1zm9 0zm4 0zm14 0zm-25 1zm16 0zm6 0zm8 0zm-30 1zm22 0zm3 0zm-76 1zm72 0h1m-7 1h1m5 0zm-7 1zm6 0zm14 0zm-12 2zm14 0zm-9 1zm3 2zm1 3zm-83 1zm85 0zm-85 1zm93 0zm-8 1zm3 0zm-2 1zm8 0zm1 1zm4 0h1m-5 2zm3 0h1m-3 1h1m3 2zm-3 1zm2 1zm-3 1zm4 2zm-100 7zm83 0zm2 0zm-81 2zm74 0zm-2 1h2m-4 1zm2 0zm-70 1zm67 0zm6 0h1m-74 1zm66 0zm4 0zm2 0zm-72 1zm68 0zm-67 1zm61 0zm-62 1zm62 0zm-5 1zm-7 2zm4 0zm-50 1zm44 0zm3 0zm4 0zm-45 1zm-3 1zm40 0zm-44 1zm5 0zm36 0zm2 0zm2 0zm-44 1zm3 0zm37 0zm3 0zm6 0zm-46 1zm4 0zm4 0h1m7 0zm10 0h1m-27 1zm2 0zm10 0zm4 0zm20 0zm-24 1zm3 0zm2 0zm14 0zm5 0zm-28 1zm9 0zm4 0zm2 0zm11 0zm-10 1zm7 0zm7 0zm-31 1zm26 0h1m-29 1zm9 0h1m3 0zm6 0zm9 0zm-8 1zm2 0h1m-22 1zm17 0zm-17 1h1m16 0z"/>
<path stroke="#3e49d9" d="M684 65zm-6 1zm14 0h1m-5 2zm11 0zm8 0zm-4 1zm3 1h1m11 1zm-98 1zm95 0zm3 0zm-99 1h1m99 0zm3 0zm4 3zm5 2zm1 1zm0 1zm1 1zm-1 1zm-1 1zm-116 2zm108 1zm-108 2zm104 0zm-3 1zm-9 2zm3 0zm-11 1zm-81 2zm83 0zm5 0zm-16 1zm16 0zm-88 1zm-1 1zm70 2zm18 1zm-23 1h1m2 1h2m-23 2zm22 0h1m-14 1h1m15 0zm-61 1zm32 0zm-41 1zm41 0zm16 0zm10 0zm-49 1zm19 0zm29 0zm-54 1zm7 0zm0 1h1m19 0zm-29 1zm14 0zm8 0zm7 0zm24 0zm-52 2zm2 0zm18 0h1m-2 1zm12 0zm19 0zm-19 1zm15 0zm-17 1zm13 1zm11 0zm-12 1zm5 0zm2 0zm5 0zm13 0zm-76 1zm57 0h1m-57 1zm49 0zm5 2zm3 0zm-7 1zm0 1zm9 1zm-8 1zm9 0zm6 0zm-17 1zm8 0zm-57 1zm52 0zm2 0h1m13 0zm-3 2zm4 0zm-11 3zm9 0zm-8 1zm9 1zm4 0zm2 0zm4 0zm-6 1zm-8 1zm16 0zm-11 2zm9 0zm-6 1zm12 0zm-7 2h1m2 0zm-5 1zm4 0zm5 1zm-1 1zm0 1h1m7 0zm-9 1zm8 0zm2 0zm4 0zm-16 1zm5 0zm5 1zm0 1zm-94 1zm96 0zm-4 1zm5 0zm0 1zm5 0h1m-6 1zm6 0zm4 2zm-108 1zm105 0zm0 1zm3 0zm5 2zm-7 1zm-105 3zm98 0zm-6 3zm-92 4zm1 2zm95 1zm-14 1h2m12 0zm-14 1zm2 0zm-80 1zm2 1zm65 2zm-62 4zm51 0h1m-52 2h1m49 0h2m3 0zm-55 3zm-2 1zm5 0h1m44 0zm-46 1zm-1 1h1m2 0zm7 0zm5 0zm7 0zm-18 1zm2 0zm2 0zm4 0zm13 1h1m16 0zm-26 1zm10 0zm13 0zm-32 1zm14 0h1m-14 1h1m4 0zm5 0zm-10 1zm15 0zm6 0zm-21 1zm23 0zm-16 1zm-1 1zm-1 1zm26 0zm-25 1h1"/>
<path stroke="#2e48dc" d="M654 64zm29 0zm-44 2zm36 0zm12 1zm-57 1zm66 0zm10 0zm-9 1h3m2 1zm9 1zm11 3zm3 1zm4 10zm-9 2zm-20 7zm4 2zm-19 1zm0 1zm-10 5zm14 1zm-59 1zm6 0zm34 0zm-51 1zm19 0zm4 0zm32 0zm-46 1zm55 0zm-59 1zm48 0zm2 0zm3 0zm3 0zm-29 1zm23 0zm12 0zm-62 1zm9 0zm8 0zm19 0zm-32 1zm16 0zm21 0zm7 0zm-47 1zm18 0zm15 0zm12 0zm12 0zm5 0zm-33 1zm-35 1zm9 0zm22 0zm4 0zm-5 1h1m4 0zm25 0h1m-51 1zm25 0zm-4 1h1m19 0zm5 1zm4 0zm-8 3zm5 2zm6 0zm-4 1h1m2 1zm-10 1zm17 1zm0 2zm4 0zm-19 1zm3 0zm8 0h1m4 0zm8 0zm-6 6zm2 1zm-8 1zm8 0zm0 1zm-4 1zm3 0zm2 0zm10 0zm-4 1zm3 0zm-2 2zm6 0zm0 1zm-2 1zm1 1zm-6 1zm0 1zm-83 1zm92 0zm-6 2zm7 0zm2 0zm2 0zm15 1zm-24 2zm14 0zm-6 1zm6 0zm2 0zm-7 1zm7 0h1m-104 3zm101 0zm4 0zm6 0zm-9 4zm-3 2zm-100 1h1m92 1zm-12 7zm-75 2zm77 0zm-75 4zm-3 2h1m63 1zm-61 1zm7 2zm-2 1zm41 0zm5 0zm2 1zm-3 1zm-47 1zm14 1zm21 0zm-32 1zm12 0zm19 0zm5 0zm-25 1zm8 0zm2 0zm22 0h1m-43 1zm28 0zm-20 1zm21 0zm-30 1zm9 0zm2 0zm5 0zm-6 2zm-3 1zm0 1zm4 2z"/>
<path stroke="#1c48e1" d="M660 65zm4 0zm13 1zm-40 1zm52 0zm4 1zm15 2zm-87 2zm90 0zm3 0zm10 3zm4 9h1m-114 3zm104 0zm-103 1zm97 0zm-96 1zm93 0zm2 0zm-3 1zm2 0zm-11 2zm-6 1zm6 0zm-11 2zm0 1h1m-9 5zm0 1zm-53 1zm23 0zm14 0h1m10 0zm5 0zm-57 1zm2 0h1m8 0h1m24 0zm6 0zm4 0zm9 0h1m-60 1zm2 0zm10 0zm11 0zm16 0zm4 0zm2 0zm2 0h1m4 0zm8 0zm-60 1zm4 0zm8 0zm4 0zm8 0h2m3 0zm4 0zm16 0zm2 0h1m3 0zm5 0zm-60 1zm4 0zm2 0zm17 0zm4 0zm33 0zm-54 1h2m10 0h2m2 0h1m20 0zm6 0zm2 0zm-50 1h1m3 0zm2 0h3m3 0zm2 0zm8 0zm9 0h1m-25 1zm8 0h1m5 0h1m8 0zm24 0zm-40 1h2m2 0zm13 0zm7 0zm7 0zm2 0zm-34 1zm2 0h1m20 0zm10 0zm12 0zm-46 1zm12 0zm4 0zm3 0zm27 0zm-59 1h1m2 0zm7 0zm3 0h1m4 0zm2 0zm2 0zm2 0zm11 0zm-21 1zm3 0h1m2 0zm2 0zm6 0zm3 0h1m-24 1zm4 0zm2 0zm2 0h2m2 0zm37 0zm-43 1zm2 0zm37 0zm3 0zm-42 1zm36 0zm3 0zm6 1zm-57 1h1m49 0zm4 1h1m-6 1h1m4 0zm-3 1zm4 0zm4 0zm-12 1zm11 0zm-12 2zm7 1zm2 0zm10 1zm-15 3h1m2 0zm6 0h1m-61 1zm56 0zm-1 1h2m7 0zm-65 1zm57 0zm0 1zm2 0h1m2 0zm3 0zm0 1zm7 0zm8 0zm-11 1zm-68 1zm63 0zm12 0zm4 0zm0 1h1m-13 1zm2 0zm8 0zm-9 1zm4 0zm5 0zm-14 1zm20 0zm-14 1h1m15 1zm-7 2zm14 0zm-4 1h1m-8 1h1m1 1zm6 0zm-93 3h1m86 0zm6 0h2m-95 1zm1 1zm-1 3zm106 0zm-105 3zm100 0zm4 0zm-104 1zm101 0zm0 2zm-3 1h1m-1 1zm-8 1zm-2 3zm-88 1h1m86 0zm-3 1zm-84 1zm79 0zm-76 1zm76 0zm-75 1zm75 0zm-4 1zm2 0zm2 0zm-72 1zm67 0zm-5 1zm4 0zm4 0zm2 0zm-15 1zm6 0h2m-9 2h1m-1 2zm-53 1zm43 0h2m1 1zm2 0zm-4 1zm7 0h1m-52 1zm40 0zm-37 1zm4 1zm34 0h1m3 0zm-30 1zm5 0zm-16 1zm40 0zm-39 1zm14 0zm-9 1zm13 0zm15 0zm-22 1zm5 0zm5 0zm-20 1zm5 0h1m2 0zm2 0zm6 0zm-11 1zm8 0zm3 0zm-11 1zm15 0zm8 0zm-16 1zm10 0zm-10 1zm9 0zm-19 1zm16 0z"/>
<path stroke="#2640dc" d="M644 66zm32 0zm12 1zm4 0zm0 1zm9 2zm13 3zm7 1zm4 2zm3 1zm3 2zm1 2zm-14 6zm-102 2zm94 1zm-93 2zm76 1zm6 0zm3 0zm-8 2zm-3 1zm-73 1zm0 1zm65 2zm1 1zm-43 3zm21 0zm3 0zm-42 1zm5 0zm10 0zm4 0zm18 0zm-37 1zm31 0zm19 0zm6 0zm3 0zm-41 1h1m2 0zm10 0zm14 0zm-32 1zm21 0zm7 0zm4 0zm15 0h1m-60 1zm13 0zm2 0zm2 0zm34 0zm5 0zm-58 1zm8 0zm29 0zm-32 1zm13 0zm20 0zm13 0zm-13 1zm-40 1zm2 0zm21 0zm-14 1zm41 0zm-2 1zm13 0zm-59 6h1m47 2zm5 0zm-6 3h1m-49 1zm55 0zm-55 2zm68 0zm-17 1zm2 1zm3 0h3m6 0zm-8 1h1m10 2zm-22 1zm14 0zm7 0zm-21 1zm21 0zm1 2zm10 0zm-12 2zm13 0zm-1 1zm6 2zm-5 2zm6 0zm1 1zm-90 4zm96 2zm-2 1zm2 0zm2 0zm-98 1zm107 3zm-8 1zm5 1zm-104 1zm104 0zm-104 2zm98 1zm-5 3zm-17 8zm5 1zm-78 1zm66 2zm5 0zm-3 1h1m-68 4zm61 0zm-6 2zm3 1zm-2 1zm-50 1zm45 0zm-47 1zm42 0zm7 0zm-45 2zm0 1zm11 0zm28 0zm-36 1zm5 0zm3 0zm3 0zm20 0h1m-21 1zm18 0h1m4 0zm-34 1zm2 0h1m6 0zm19 0zm2 0zm3 0zm2 0h1m-33 1h1m27 0zm-31 1zm4 1zm9 0zm12 0zm-4 1zm-12 3z"/>
<path stroke="#2438da" d="M693 67zm18 6zm4 0zm8 12zm-106 5zm-1 2zm86 0zm-10 1zm2 1zm5 0zm-19 8zm0 1zm-58 1zm3 0zm12 0zm5 0zm21 0zm10 0h2m6 0zm-57 1zm9 0zm2 0zm6 0zm5 0zm20 0zm3 0zm6 0zm3 0h1m2 0zm-51 1h1m10 0zm2 0zm7 0zm17 0h1m10 0zm3 0zm-54 1zm4 0zm19 0zm-19 1zm13 0zm16 0zm-24 1zm4 0zm16 0h1m3 0zm-37 1zm3 0h1m2 0zm11 0zm17 0zm4 0zm-23 1zm-3 1zm9 0h1m35 0h1m-60 1zm23 0zm37 0zm-42 1zm4 0zm10 0zm28 0zm-45 1zm3 0zm-6 1zm19 0zm24 0zm-43 1zm44 1zm-56 1h1m48 0zm-1 1zm8 0zm-5 1zm6 2zm-8 1zm-1 1h3m16 3zm-13 2zm8 0zm0 1h2m-5 1zm5 0h2m-7 1zm6 0h1m-1 1h2m0 3zm0 1zm13 0h1m-14 1zm11 1zm1 2zm-5 1zm2 0zm2 2zm8 0zm-5 2zm4 0zm6 0zm-1 1h1m3 3zm-10 1zm10 0zm-10 1zm4 0h1m6 1zm0 1h1m5 2zm-8 1h1m7 0h1m-1 1zm-3 1h1m-103 1zm106 1zm-107 1h1m97 0zm-5 3zm-91 1zm90 0zm-88 3zm86 0zm-84 5zm74 0zm-75 1zm66 2zm-63 1zm58 0zm5 0zm0 1zm-65 3zm5 0zm54 0zm4 0zm-5 3zm0 1zm-54 1zm50 0zm-3 1zm0 1zm-43 1h2m0 1h2m7 0zm9 0zm-16 1zm4 0zm15 0zm12 0h1m-33 1zm0 1zm9 0zm2 0zm-12 1zm14 0zm11 0zm0 1zm-20 2z"/>
</g></g>
<text x="11.7" y="26.8" font-size="16.2" class="s pl">A</text>
<text x="277.4" y="26.8" font-size="16.2" class="s pl">B</text>
<text x="541.6" y="26.8" font-size="16.2" class="s pl">C</text>
<text transform="translate(11.2 290.2) scale(0.9 1)" font-size="16.8" class="s pl2">D</text>
<text transform="translate(415.4 290.2) scale(0.9 1)" font-size="16.8" class="s pl2">E</text>
<linearGradient id="tl" x1="111" x2="257" y1="0" y2="0" gradientUnits="userSpaceOnUse"><stop offset="0" stop-color="#9aa0e0"/><stop offset="0.03" stop-color="#3a55d8"/><stop offset="0.06" stop-color="#30b0d0"/><stop offset="0.10" stop-color="#58b85a"/><stop offset="0.17" stop-color="#b4cc40"/><stop offset="0.26" stop-color="#e8c040"/><stop offset="0.36" stop-color="#f4a040"/><stop offset="0.8" stop-color="#f88c3c"/><stop offset="0.955" stop-color="#f86a30"/><stop offset="0.975" stop-color="#ff2010"/><stop offset="1" stop-color="#ff1010"/></linearGradient>
<rect x="111" y="33.7" width="146" height="1.8" fill="url(#tl)"/>
<rect x="255.3" y="38" width="1.5" height="3.5" fill="#7f93e6"/>
<rect x="255.3" y="41.5" width="1.5" height="3" fill="#3c5ae0"/>
<rect x="255.3" y="45" width="1.5" height="4" fill="#b9c0ee"/>
<rect x="255.3" y="50" width="1.5" height="3" fill="#d4d8f4"/>
<rect x="255.3" y="54" width="1.5" height="5" fill="#c2c8f0"/>
<rect x="255.3" y="60" width="1.5" height="4" fill="#d8dcf5"/>
<rect x="255.3" y="65" width="1.5" height="5" fill="#c6ccf0"/>
<rect x="255.3" y="71" width="1.5" height="4" fill="#d2d6f4"/>
<rect x="255.3" y="76" width="1.5" height="2" fill="#8c9ce8"/>
<rect x="255.3" y="78" width="1.5" height="2.6" fill="#3250e0"/>
<rect x="255.3" y="81" width="1.5" height="3" fill="#b4bcee"/>
<rect x="255.3" y="85" width="1.5" height="6" fill="#d4d8f4"/>
<rect x="255.3" y="92" width="1.5" height="5" fill="#dfe2f7"/>
<rect x="255.3" y="98" width="1.5" height="6" fill="#d6daf5"/>
<rect x="255.3" y="105" width="1.5" height="6" fill="#e2e4f8"/>
<rect x="255.3" y="112" width="1.5" height="7" fill="#dcdff6"/>
<rect x="255.3" y="120" width="1.5" height="5" fill="#e4e6f9"/>
<rect x="255.3" y="126" width="1.5" height="4" fill="#dcdff6"/>
<rect x="255.3" y="147" width="1.5" height="2" fill="#dfe2f7"/>
<rect x="255.3" y="189" width="1.5" height="1.6" fill="#c9cef2"/>
<line x1="73.3" y1="34.2" x2="73.3" y2="226.45" stroke="#10275a" stroke-width="1.9"/>
<line x1="72.35" y1="225.5" x2="256.8" y2="225.5" stroke="#10275a" stroke-width="1.9"/>
<path d="M73.3 225.5v4.6M73.3 225.5h-4.85M84.73 225.5v2.6M73.3 213.59h-3.05M96.16 225.5v2.6M73.3 201.69h-3.05M107.59 225.5v2.6M73.3 189.78h-3.05M119.02 225.5v4.6M73.3 177.88h-4.85M130.46 225.5v2.6M73.3 165.97h-3.05M141.89 225.5v2.6M73.3 154.06h-3.05M153.32 225.5v2.6M73.3 142.16h-3.05M164.75 225.5v4.6M73.3 130.25h-4.85M176.18 225.5v2.6M73.3 118.34h-3.05M187.61 225.5v2.6M73.3 106.44h-3.05M199.04 225.5v2.6M73.3 94.53h-3.05M210.47 225.5v4.6M73.3 82.62h-4.85M221.91 225.5v2.6M73.3 70.72h-3.05M233.34 225.5v2.6M73.3 58.81h-3.05M244.77 225.5v2.6M73.3 46.91h-3.05M256.2 225.5v4.6M73.3 35h-4.85" stroke="#10275a" stroke-width="1" fill="none"/>
<text x="73.3" y="238.1" text-anchor="middle" class="tk">0</text>
<text x="68.6" y="228.6" text-anchor="end" class="tk">0</text>
<text x="119.02" y="238.1" text-anchor="middle" class="tk">64.0</text>
<text x="68.6" y="180.97" text-anchor="end" class="tk">64.0</text>
<text x="164.75" y="238.1" text-anchor="middle" class="tk">128.0</text>
<text x="68.6" y="133.35" text-anchor="end" class="tk">128.0</text>
<text x="210.47" y="238.1" text-anchor="middle" class="tk">192.0</text>
<text x="68.6" y="85.72" text-anchor="end" class="tk">192.0</text>
<text x="256.2" y="238.1" text-anchor="middle" class="tk">256.0</text>
<text x="68.6" y="38.1" text-anchor="end" class="tk">256.0</text>
<rect x="89.5" y="44.5" width="150" height="178.8" fill="none" stroke="#f01418" stroke-width="1.1"/>
<line x1="270.5" y1="28" x2="270.5" y2="237.6" stroke="#8e1a1a" stroke-width="1.2"/>
<text x="166.6" y="259.9" font-size="16" text-anchor="middle" class="s">FSC</text>
<text transform="translate(33.8 132) rotate(-90)" font-size="16" text-anchor="middle" class="s">SSC</text>
<line x1="335.9" y1="34.3" x2="335.9" y2="226.8" stroke="#0f2657" stroke-width="3.1"/>
<line x1="334.35" y1="225.6" x2="518" y2="225.6" stroke="#0f2657" stroke-width="2.4"/>
<path d="M335.9 225.6v4.6M335.9 225.6h-4.05M347.24 225.6v2.6M335.9 213.69h-2.15M358.59 225.6v2.6M335.9 201.79h-2.15M369.93 225.6v2.6M335.9 189.88h-2.15M381.27 225.6v4.6M335.9 177.97h-4.05M392.62 225.6v2.6M335.9 166.07h-2.15M403.96 225.6v2.6M335.9 154.16h-2.15M415.31 225.6v2.6M335.9 142.26h-2.15M426.65 225.6v4.6M335.9 130.35h-4.05M437.99 225.6v2.6M335.9 118.44h-2.15M449.34 225.6v2.6M335.9 106.54h-2.15M460.68 225.6v2.6M335.9 94.63h-2.15M472.02 225.6v4.6M335.9 82.72h-4.05M483.37 225.6v2.6M335.9 70.82h-2.15M494.71 225.6v2.6M335.9 58.91h-2.15M506.06 225.6v2.6M335.9 47.01h-2.15M517.4 225.6v4.6M335.9 35.1h-4.05" stroke="#0f2657" stroke-width="1" fill="none"/>
<text x="335.9" y="238.2" text-anchor="middle" class="tk">0</text>
<text x="330.8" y="228.7" text-anchor="end" class="tk">0</text>
<text x="381.27" y="238.2" text-anchor="middle" class="tk">64.0</text>
<text x="330.8" y="181.07" text-anchor="end" class="tk">64.0</text>
<text x="426.65" y="238.2" text-anchor="middle" class="tk">128.0</text>
<text x="330.8" y="133.45" text-anchor="end" class="tk">128.0</text>
<text x="472.02" y="238.2" text-anchor="middle" class="tk">192.0</text>
<text x="330.8" y="85.82" text-anchor="end" class="tk">192.0</text>
<text x="517.4" y="238.2" text-anchor="middle" class="tk">256.0</text>
<text x="330.8" y="38.2" text-anchor="end" class="tk">256.0</text>
<path d="M348.2 199.7L468 113.8L488.8 142.6L369.7 212.2L359 212.9Z" fill="none" stroke="#2a2ae6" stroke-width="1.1" stroke-linejoin="round"/>
<text x="428.8" y="259.9" font-size="16" text-anchor="middle" class="s">FSC-A</text>
<text transform="translate(297.6 131) rotate(-90)" font-size="16" text-anchor="middle" class="s">FSC-H</text>
<line x1="593.9" y1="33.2" x2="593.9" y2="225.8" stroke="#0f2657" stroke-width="1.8"/>
<line x1="593" y1="224.8" x2="778" y2="224.8" stroke="#0f2657" stroke-width="2.0"/>
<path d="M593.9 224.8v4.6M605.37 224.8v2.6M616.84 224.8v2.6M628.31 224.8v2.6M639.77 224.8v4.6M651.24 224.8v2.6M662.71 224.8v2.6M674.18 224.8v2.6M685.65 224.8v4.6M697.12 224.8v2.6M708.59 224.8v2.6M720.06 224.8v2.6M731.52 224.8v4.6M742.99 224.8v2.6M754.46 224.8v2.6M765.93 224.8v2.6M777.4 224.8v4.6M593.9 223.78h-2.6M593.9 220.94h-2.6M593.9 218.55h-2.6M593.9 216.47h-2.6M593.9 214.64h-2.6M593.9 213h-4.6M593.9 202.22h-2.6M593.9 195.92h-2.6M593.9 191.45h-2.6M593.9 187.98h-2.6M593.9 185.14h-2.6M593.9 182.75h-2.6M593.9 180.67h-2.6M593.9 178.84h-2.6M593.9 177.2h-4.6M593.9 166.42h-2.6M593.9 160.12h-2.6M593.9 155.65h-2.6M593.9 152.18h-2.6M593.9 149.34h-2.6M593.9 146.95h-2.6M593.9 144.87h-2.6M593.9 143.04h-2.6M593.9 141.4h-4.6M593.9 130.62h-2.6M593.9 124.32h-2.6M593.9 119.85h-2.6M593.9 116.38h-2.6M593.9 113.54h-2.6M593.9 111.15h-2.6M593.9 109.07h-2.6M593.9 107.24h-2.6M593.9 105.6h-4.6M593.9 94.82h-2.6M593.9 88.52h-2.6M593.9 84.05h-2.6M593.9 80.58h-2.6M593.9 77.74h-2.6M593.9 75.35h-2.6M593.9 73.27h-2.6M593.9 71.44h-2.6M593.9 69.8h-4.6M593.9 59.02h-2.6M593.9 52.72h-2.6M593.9 48.25h-2.6M593.9 44.78h-2.6M593.9 41.94h-2.6M593.9 39.55h-2.6M593.9 37.47h-2.6M593.9 35.64h-2.6M593.9 34h-4.6" stroke="#0f2657" stroke-width="0.9" fill="none"/>
<text x="593.9" y="237.4" text-anchor="middle" class="tk">0</text>
<text x="639.77" y="237.4" text-anchor="middle" class="tk">64.0</text>
<text x="685.65" y="237.4" text-anchor="middle" class="tk">128.0</text>
<text x="731.52" y="237.4" text-anchor="middle" class="tk">192.0</text>
<text x="777.4" y="237.4" text-anchor="middle" class="tk">256.0</text>
<text x="587.8" y="218.1" text-anchor="end" class="tk" style="letter-spacing:-0.2px">10<tspan dy="-5.2" dx="0.8" font-size="6.3">0</tspan></text>
<text x="587.8" y="182.3" text-anchor="end" class="tk" style="letter-spacing:-0.2px">10<tspan dy="-5.2" dx="0.8" font-size="6.3">1</tspan></text>
<text x="587.8" y="146.5" text-anchor="end" class="tk" style="letter-spacing:-0.2px">10<tspan dy="-5.2" dx="0.8" font-size="6.3">2</tspan></text>
<text x="587.8" y="110.7" text-anchor="end" class="tk" style="letter-spacing:-0.2px">10<tspan dy="-5.2" dx="0.8" font-size="6.3">3</tspan></text>
<text x="587.8" y="74.9" text-anchor="end" class="tk" style="letter-spacing:-0.2px">10<tspan dy="-5.2" dx="0.8" font-size="6.3">4</tspan></text>
<text x="587.8" y="39.1" text-anchor="end" class="tk" style="letter-spacing:-0.2px">10<tspan dy="-5.2" dx="0.8" font-size="6.3">5</tspan></text>
<rect x="608.2" y="48.5" width="138.3" height="70.9" fill="none" stroke="#8a2a8e" stroke-width="1.1"/>
<text x="680.6" y="260.3" font-size="16" text-anchor="middle" class="s">FSC-A</text>
<text transform="translate(564.6 126.2) rotate(-90)" font-size="16" text-anchor="middle" class="s">CytoTrack Green</text>
<path d="M135.25 294.1V517.4M128.2 516.2H367" stroke="#000" stroke-width="2.3" fill="none"/>
<path d="M128.2 491.64H135.2M128.2 467.08H135.2M128.2 442.52H135.2M128.2 417.96H135.2M128.2 393.4H135.2M128.2 368.84H135.2M128.2 344.28H135.2M128.2 319.72H135.2M128.2 295.16H135.2" stroke="#000" stroke-width="2" fill="none"/>
<text x="122" y="498.44" text-anchor="end" font-size="14" class="s g2">2x10<tspan dy="-3.8" font-size="9.2">4</tspan></text>
<text x="122" y="473.88" text-anchor="end" font-size="14" class="s g2">4x10<tspan dy="-3.8" font-size="9.2">4</tspan></text>
<text x="122" y="449.32" text-anchor="end" font-size="14" class="s g2">6x10<tspan dy="-3.8" font-size="9.2">4</tspan></text>
<text x="122" y="424.76" text-anchor="end" font-size="14" class="s g2">8x10<tspan dy="-3.8" font-size="9.2">4</tspan></text>
<text x="122" y="400.2" text-anchor="end" font-size="14" class="s g2">10x10<tspan dy="-3.8" font-size="9.2">4</tspan></text>
<text x="122" y="375.64" text-anchor="end" font-size="14" class="s g2">12x10<tspan dy="-3.8" font-size="9.2">4</tspan></text>
<text x="122" y="351.08" text-anchor="end" font-size="14" class="s g2">14x10<tspan dy="-3.8" font-size="9.2">4</tspan></text>
<text x="122" y="326.52" text-anchor="end" font-size="14" class="s g2">16x10<tspan dy="-3.8" font-size="9.2">4</tspan></text>
<text x="122" y="301.96" text-anchor="end" font-size="14" class="s g2">18x10<tspan dy="-3.8" font-size="9.2">4</tspan></text>
<text x="123.2" y="522.6" text-anchor="end" font-size="14" class="s g2">0</text>
<text transform="translate(63.8 398.4) rotate(-90)" font-size="15" text-anchor="middle" class="s">Number of Events</text>
<path d="M163.9 328V353.6M163.9 384.9V448.5M157 328h13.8M157 448.5h13.8" stroke="#000" stroke-width="2.1" fill="none"/>
<rect x="150.6" y="353.6" width="26.6" height="31.3" fill="#808080" stroke="#000" stroke-width="2"/>
<line x1="150.6" y1="364" x2="177.2" y2="364" stroke="#000" stroke-width="1.6"/>
<line x1="192.4" y1="514.6" x2="220.6" y2="514.6" stroke="#000" stroke-width="1.6"/>
<path d="M249.65 372.2V379.5M249.65 401.7V451.8M242.45 372.2h14.4M242.45 451.8h14.4" stroke="#000" stroke-width="2.1" fill="none"/>
<rect x="236.4" y="379.5" width="26.5" height="22.2" fill="#00c000" stroke="#000" stroke-width="2"/>
<rect x="237.4" y="380.5" width="24.5" height="2.4" fill="#1d701d"/>
<line x1="236.4" y1="382.9" x2="262.9" y2="382.9" stroke="#000" stroke-width="1.6"/>
<path d="M293.5 431.5V440.2M293.5 451.8V486.4M286.4 431.5h14.2M286.4 486.4h14.2" stroke="#000" stroke-width="2.1" fill="none"/>
<rect x="280.2" y="440.2" width="26.6" height="11.6" fill="#5aa2f7" stroke="#000" stroke-width="2"/>
<rect x="281.2" y="441.2" width="24.6" height="2.6" fill="#2b4b80"/>
<line x1="280.2" y1="443.8" x2="306.8" y2="443.8" stroke="#000" stroke-width="1.6"/>
<path d="M336.5 433.8V442M336.5 455.5V484M329.35 433.8h14.3M329.35 484h14.3" stroke="#000" stroke-width="2.1" fill="none"/>
<rect x="323.2" y="442" width="26.6" height="13.5" fill="#00c000" stroke="#000" stroke-width="2"/>
<rect x="324.2" y="443" width="24.6" height="1.9" fill="#1d701d"/>
<line x1="323.2" y1="444.9" x2="349.8" y2="444.9" stroke="#000" stroke-width="1.6"/>
<text x="163.5" y="544" font-size="16" text-anchor="middle" class="s">Total</text>
<text x="231.4" y="543.4" font-size="16" text-anchor="middle" class="s">Odd</text>
<text x="231.6" y="562.2" font-size="16" text-anchor="middle" class="s">columns</text>
<text x="317.5" y="543.4" font-size="16" text-anchor="middle" class="s">Even</text>
<text x="317.5" y="562.2" font-size="16" text-anchor="middle" class="s">columns</text>
<path d="M500.7 292.6V516.9M499.5 515.7H791.5" stroke="#000" stroke-width="2.4" fill="none"/>
<text x="494.6" y="509.8" text-anchor="end" font-size="14" class="s gr">0</text>
<text x="494.6" y="488.74" text-anchor="end" font-size="14" class="s gr">0.02</text>
<text x="494.6" y="467.68" text-anchor="end" font-size="14" class="s gr">0.04</text>
<text x="494.6" y="446.62" text-anchor="end" font-size="14" class="s gr">0.06</text>
<text x="494.6" y="425.56" text-anchor="end" font-size="14" class="s gr">0.08</text>
<text x="494.6" y="404.5" text-anchor="end" font-size="14" class="s gr">0.1</text>
<text x="494.6" y="383.44" text-anchor="end" font-size="14" class="s gr">0.12</text>
<text x="494.6" y="362.38" text-anchor="end" font-size="14" class="s gr">0.14</text>
<text x="494.6" y="341.32" text-anchor="end" font-size="14" class="s gr">0.16</text>
<text x="494.6" y="320.26" text-anchor="end" font-size="14" class="s gr">0.18</text>
<text x="494.6" y="299.2" text-anchor="end" font-size="14" class="s gr">0.2</text>
<text transform="translate(453.8 393) rotate(-90)" font-size="17" text-anchor="middle" class="s">% Caryover</text>
<text x="632.2" y="559" font-size="16" text-anchor="middle" class="s">Plate Row</text>
<path d="M526.15 373V438.4M521.35 373h9.6M526.15 492.4V504.2M521.35 504.2h9.6" stroke="#111" stroke-width="1.1" fill="none"/>
<rect x="510.6" y="438.4" width="31.1" height="54" fill="#808080" stroke="#1a1a1a" stroke-width="1"/>
<line x1="510.6" y1="484.2" x2="541.7" y2="484.2" stroke="#1a1a1a" stroke-width="1"/>
<text x="526.15" y="535.2" font-size="14" text-anchor="middle" class="s">A</text>
<path d="M560.95 489.4V495.2M556.15 495.2h9.6" stroke="#111" stroke-width="1.1" fill="none"/>
<rect x="545.5" y="455.5" width="30.9" height="33.9" fill="#808080" stroke="#1a1a1a" stroke-width="1"/>
<line x1="545.5" y1="478.2" x2="576.4" y2="478.2" stroke="#1a1a1a" stroke-width="1"/>
<text x="560.95" y="535.2" font-size="14" text-anchor="middle" class="s">B</text>
<path d="M595.15 464.5V470.6M590.35 464.5h9.6M595.15 487.3V496.4M590.35 496.4h9.6" stroke="#111" stroke-width="1.1" fill="none"/>
<rect x="579.7" y="470.6" width="30.9" height="16.7" fill="#808080" stroke="#1a1a1a" stroke-width="1"/>
<line x1="579.7" y1="475.2" x2="610.6" y2="475.2" stroke="#1a1a1a" stroke-width="1"/>
<text x="595.15" y="535.2" font-size="14" text-anchor="middle" class="s">C</text>
<path d="M630.1 372.4V379.4M625.3 372.4h9.6M630.1 445.3V447.9M625.3 447.9h9.6" stroke="#111" stroke-width="1.1" fill="none"/>
<rect x="614.5" y="379.4" width="31.2" height="65.9" fill="#808080" stroke="#1a1a1a" stroke-width="1"/>
<line x1="614.5" y1="417.3" x2="645.7" y2="417.3" stroke="#1a1a1a" stroke-width="1"/>
<text x="630.1" y="535.2" font-size="14" text-anchor="middle" class="s">D</text>
<path d="M663.7 394.2V416.7M658.9 394.2h9.6M663.7 466.2V481.2M658.9 481.2h9.6" stroke="#111" stroke-width="1.1" fill="none"/>
<rect x="647.8" y="416.7" width="31.8" height="49.5" fill="#808080" stroke="#1a1a1a" stroke-width="1"/>
<line x1="647.8" y1="450.4" x2="679.6" y2="450.4" stroke="#1a1a1a" stroke-width="1"/>
<text x="663.7" y="535.2" font-size="14" text-anchor="middle" class="s">E</text>
<path d="M698.9 479.1V481.2M694.1 481.2h9.6" stroke="#111" stroke-width="1.1" fill="none"/>
<rect x="683.3" y="407.3" width="31.2" height="71.8" fill="#808080" stroke="#1a1a1a" stroke-width="1"/>
<line x1="683.3" y1="452.1" x2="714.5" y2="452.1" stroke="#1a1a1a" stroke-width="1"/>
<text x="698.9" y="535.2" font-size="14" text-anchor="middle" class="s">F</text>
<path d="M732.75 425.5V448.5M727.95 425.5h9.6M732.75 485.5V492.4M727.95 492.4h9.6" stroke="#111" stroke-width="1.1" fill="none"/>
<rect x="716.7" y="448.5" width="32.1" height="37" fill="#808080" stroke="#1a1a1a" stroke-width="1"/>
<line x1="716.7" y1="473" x2="748.8" y2="473" stroke="#1a1a1a" stroke-width="1"/>
<text x="732.75" y="535.2" font-size="14" text-anchor="middle" class="s">G</text>
<path d="M767.1 457.6V461.2M762.3 457.6h9.6M767.1 477.3V479.1M762.3 479.1h9.6" stroke="#111" stroke-width="1.1" fill="none"/>
<rect x="751.5" y="461.2" width="31.2" height="16.1" fill="#808080" stroke="#1a1a1a" stroke-width="1"/>
<line x1="751.5" y1="470.3" x2="782.7" y2="470.3" stroke="#1a1a1a" stroke-width="1"/>
<text x="767.1" y="535.2" font-size="14" text-anchor="middle" class="s">H</text>
<circle cx="560.9" cy="394.5" r="1.25" fill="#222"/>
</svg>
</body></html>
